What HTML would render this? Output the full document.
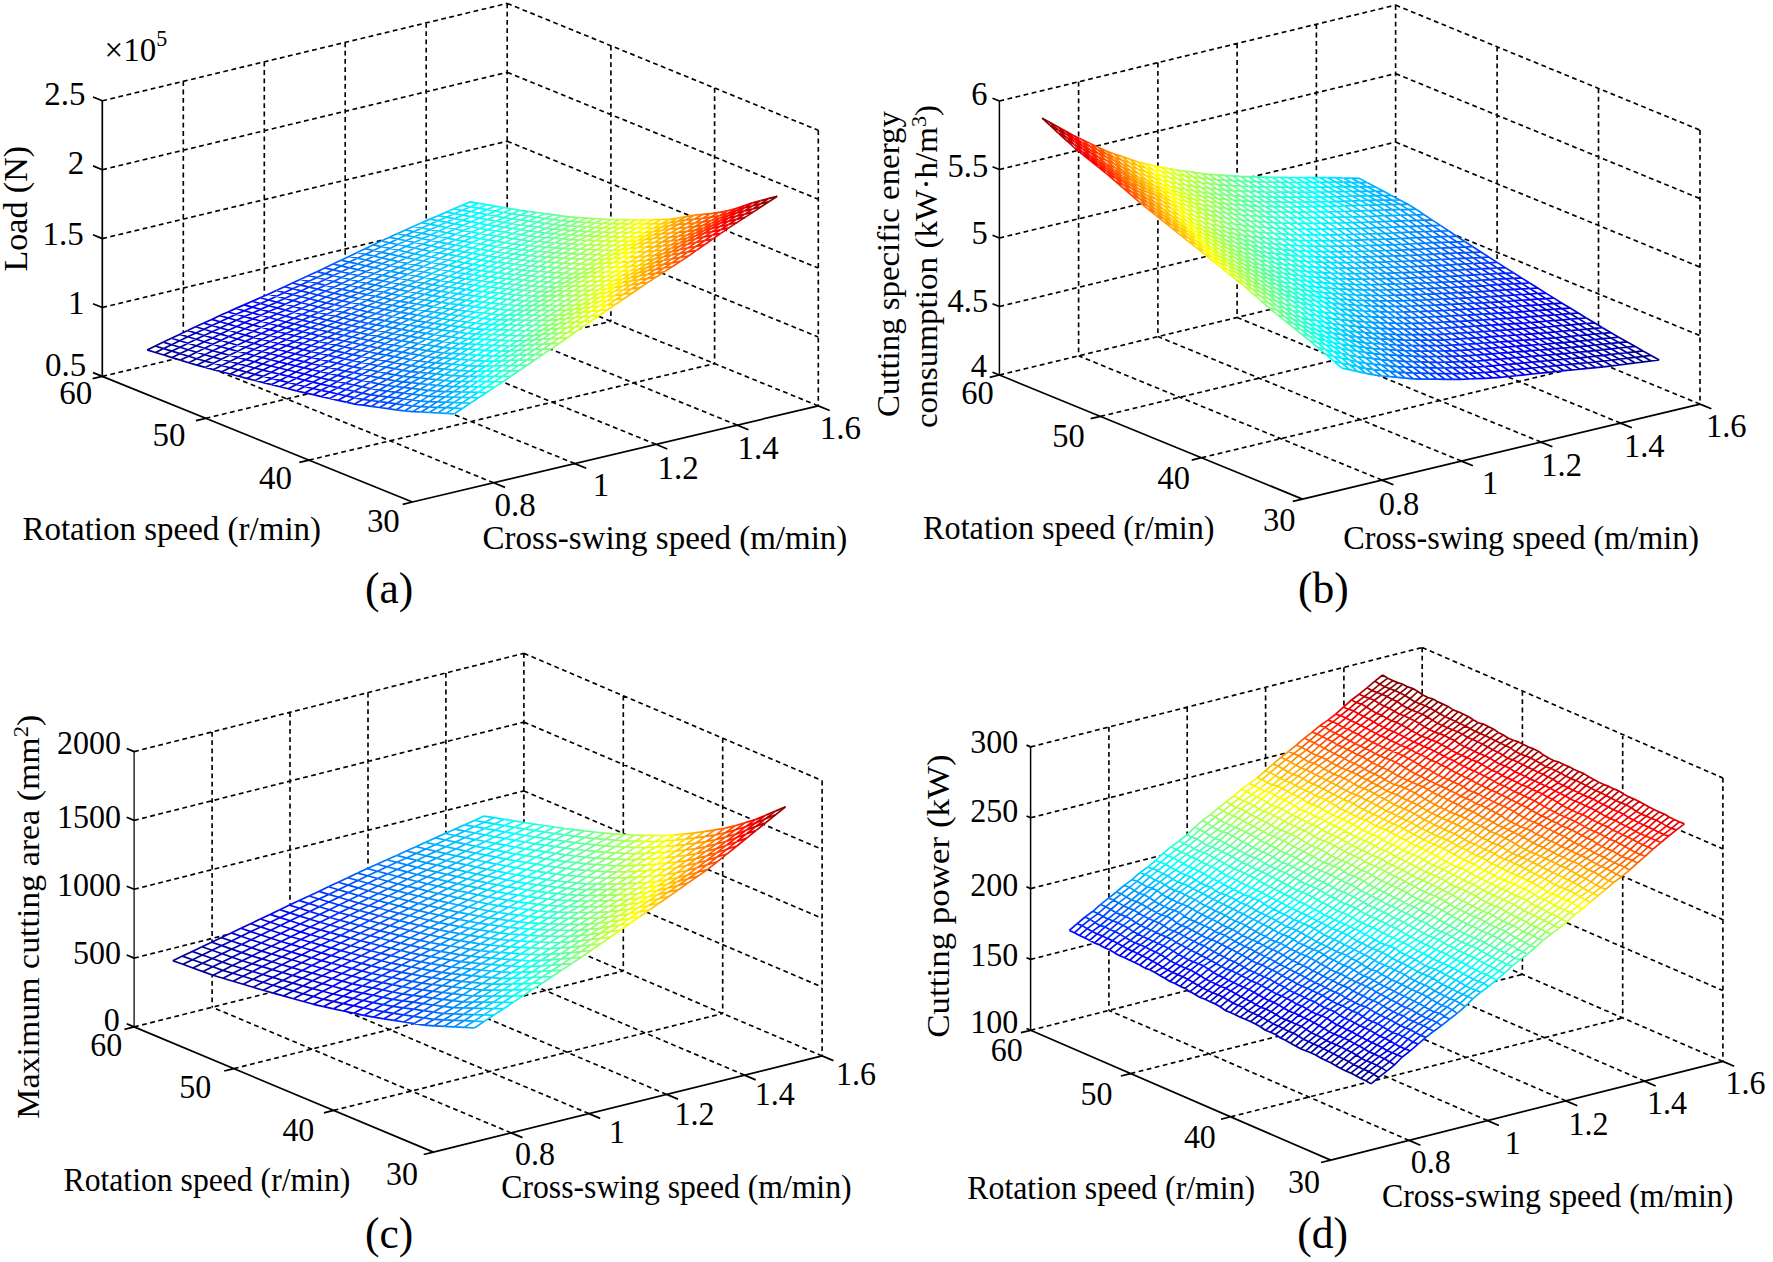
<!DOCTYPE html>
<html><head><meta charset="utf-8"><title>Figure</title>
<style>
html,body{margin:0;padding:0;background:#fff;}
svg{display:block;}
text{font-family:"Liberation Serif","Times New Roman",serif;fill:#000;}
</style></head>
<body>
<svg width="1773" height="1262" viewBox="0 0 1773 1262">
<rect width="1773" height="1262" fill="#fff"/>
<path d="M493.6 482.8L183.3 356.9M574.8 463.6L264.3 337.4M655.9 444.3L345.2 318M737.1 425.1L426.2 298.5M818.3 405.9L507.2 279M102.3 376.4L507.2 279M205.7 418.3L610.9 321.3M309 460.1L714.6 363.6M183.3 81.3L183.3 356.9M264.3 61.8L264.3 337.4M345.2 42.4L345.2 318M426.2 22.9L426.2 298.5M507.2 3.4L507.2 279M102.3 307.5L507.2 210.1M102.3 238.6L507.2 141.2M102.3 169.7L507.2 72.3M102.3 100.8L507.2 3.4M610.9 45.7L610.9 321.3M714.6 88L714.6 363.6M818.3 130.3L818.3 405.9M507.2 210.1L818.3 337M507.2 141.2L818.3 268.1M507.2 72.3L818.3 199.2M507.2 3.4L818.3 130.3" stroke="#000" stroke-width="1.65" stroke-dasharray="4.8 3.5" fill="none"/>
<polygon points="147.2,349.9 155.5,352.5 163.8,355 172.1,357.6 180.4,360.1 188.7,362.7 197,365.1 205.3,367.4 213.6,369.6 221.9,371.8 230.2,374 238.5,376.2 246.8,378.4 255.1,380.5 263.4,382.6 271.7,384.6 280,386.7 288.3,388.8 296.6,390.8 304.9,392.8 313.2,394.7 321.5,396.6 329.8,398.5 338.1,400.3 346.4,402.2 354.7,404.1 363,405.2 371.3,406.4 379.6,407.5 387.9,408.7 396.2,409.8 404.5,410.9 412.8,411.6 421.1,412 429.4,412.5 437.7,412.9 446,413.4 454.3,413.8 462.4,408.5 470.4,403.1 478.5,397.8 486.6,392.5 494.7,387.1 502.8,381.8 510.8,376.3 518.9,370.8 527,365.3 535,359.8 543.1,354.4 551.2,348.9 559.3,343.3 567.4,337.7 575.4,332 583.5,326.4 591.6,320.8 599.6,315.2 607.7,309.7 615.8,304.2 623.9,298.7 632,293.2 640,287.7 648.1,282.4 656.2,277.1 664.2,271.9 672.3,266.7 680.4,261.4 688.5,256 696.5,250.3 704.6,244.7 712.7,239 720.8,233.4 728.9,227.9 736.9,222.6 745,217.4 753.1,212.1 761.1,206.8 769.2,201.5 777.3,196.2 769,198.4 760.7,200.6 752.4,202.9 744.1,205.8 735.8,208.5 727.5,210.8 719.2,212.3 710.9,213.6 702.6,214.4 694.3,215.2 686,216.6 677.7,218.1 669.4,219.4 661.1,219.5 652.8,219.7 644.5,219.8 636.2,219.8 627.9,219.7 619.6,219.6 611.3,219.5 603,219 594.7,218.5 586.4,218 578.1,217.6 569.8,216.9 561.5,215.8 553.2,214.7 544.9,213.6 536.6,212.5 528.3,211.4 520,210.3 511.7,208.9 503.4,207.5 495.1,206.1 486.8,204.7 478.5,203.3 470.2,201.9 462.1,205.3 454,208.8 446,212.2 437.9,215.7 429.8,219.1 421.8,222.7 413.7,226.3 405.6,230 397.5,233.6 389.4,237.3 381.4,241 373.3,244.8 365.2,248.7 357.1,252.5 349.1,256.4 341,260.2 332.9,264 324.9,267.9 316.8,271.7 308.7,275.6 300.6,279.3 292.5,283 284.5,286.7 276.4,290.5 268.3,294.2 260.2,297.8 252.2,301.3 244.1,304.9 236,308.4 227.9,312 219.9,315.6 211.8,319.4 203.7,323.1 195.6,326.8 187.6,330.6 179.5,334.4 171.4,338.3 163.3,342.1 155.3,346" fill="#fff" stroke="none"/>
<g fill="none" stroke-width="1.7" stroke-linejoin="round"><path stroke="#00008f" d="M147.2 349.9l8.1 -3.9l8.1 -3.9M155.5 352.5l8.1 -3.9M163.8 355l8.1 -3.9M147.2 349.9l8.3 2.6l8.3 2.5l8.3 2.6l8.3 2.5M155.3 346l8.3 2.6"/><path stroke="#00009f" d="M163.4 342.1l8 -3.8M163.6 348.6l8 -3.9l8.1 -4M171.9 351.1l8.1 -3.9M172.1 357.6l8.1 -4l8 -3.9M180.4 360.1l8.1 -3.9l8 -4M188.7 362.7l8.1 -4M197 365.1l8.1 -4M180.4 360.1l8.3 2.6l8.3 2.4l8.3 2.3M163.6 348.6l8.3 2.5l8.3 2.5l8.3 2.6l8.3 2.5M163.4 342.1l8.2 2.6l8.4 2.5l8.2 2.5"/><path stroke="#0000af" d="M171.4 338.3l8.1 -3.9l8.1 -3.8M179.7 340.7l8.1 -3.9M180 347.2l8 -4l8.1 -3.9M188.2 349.7l8.1 -4M196.5 352.2l8.1 -4M196.8 358.7l8 -4l8.1 -4M205.1 361.1l8.1 -4M205.3 367.4l8.1 -4.1l8 -4M213.6 369.6l8.1 -4.1M221.9 371.8l8.1 -4.1M205.3 367.4l8.3 2.2l8.3 2.2l8.3 2.2M196.8 358.7l8.3 2.4l8.3 2.2l8.3 2.2M188.2 349.7l8.3 2.5l8.3 2.5l8.4 2.4M171.4 338.3l8.3 2.4l8.3 2.5l8.3 2.5l8.3 2.5M179.5 334.4l8.3 2.4l8.3 2.5"/><path stroke="#0000bf" d="M187.6 330.6l8 -3.8l8.1 -3.7M187.8 336.8l8.1 -3.8l8.1 -3.7M196.1 339.3l8.1 -3.8l8 -3.8M196.3 345.7l8.1 -3.9l8.1 -3.9M204.6 348.2l8.1 -3.9l8.1 -3.9M212.9 350.7l8.1 -4M213.2 357.1l8 -4l8.1 -4M221.4 359.3l8.1 -4M221.7 365.5l8.1 -4l8 -4.1M230 367.7l8 -4.1M230.2 374l8.1 -4.1M238.5 376.2l8.1 -4.1M230.2 374l8.3 2.2l8.3 2.2l8.3 2.1M221.7 365.5l8.3 2.2l8.3 2.2l8.3 2.2M213.2 357.1l8.2 2.2l8.4 2.2l8.2 2.1M204.6 348.2l8.3 2.5l8.3 2.4l8.3 2.2M196.1 339.3l8.3 2.5l8.3 2.5l8.3 2.4M187.6 330.6l8.3 2.4l8.3 2.5l8.3 2.4M195.6 326.8l8.4 2.5"/><path stroke="#0000cf" d="M203.7 323.1l8.1 -3.7M204 329.3l8 -3.8l8.1 -3.8M212.2 331.7l8.1 -3.8M212.5 337.9l8.1 -3.8l8 -3.8M220.8 340.4l8 -3.9M221 346.7l8.1 -3.9l8.1 -3.8M229.3 349.1l8.1 -3.9M229.5 355.3l8.1 -4.1l8.1 -3.9M237.8 357.4l8.1 -4M238 363.6l8.1 -4M238.3 369.9l8.1 -4.1l8 -4.1M246.6 372.1l8 -4.1M246.8 378.4l8.1 -4.1l8.1 -4.2M255.1 380.5l8.1 -4.2M263.4 382.6l8.1 -4.2M255.1 380.5l8.3 2.1l8.3 2M246.6 372.1l8.3 2.2l8.3 2M238 363.6l8.4 2.2l8.2 2.2l8.4 2.1M229.5 355.3l8.3 2.1l8.3 2.2l8.3 2.1M221 346.7l8.3 2.4l8.3 2.1l8.3 2.2M212.5 337.9l8.3 2.5l8.3 2.4l8.3 2.4M204 329.3l8.2 2.4l8.4 2.4l8.2 2.4M203.7 323.1l8.3 2.4l8.3 2.4M211.8 319.4l8.3 2.3"/><path stroke="#0000df" d="M211.8 319.4l8.1 -3.8l8.1 -3.6M220.1 321.7l8.1 -3.7M220.3 327.9l8.1 -3.8l8.1 -3.8M228.6 330.3l8.1 -3.8M228.8 336.5l8.1 -3.8l8.1 -3.9M237.2 339l8 -3.9M237.4 345.2l8 -3.9l8.1 -3.9M245.7 347.3l8.1 -3.9M245.9 353.4l8.1 -4l8 -3.9M246.1 359.6l8.1 -4.1l8.1 -4M254.4 361.7l8.1 -4.1M254.6 368l8.1 -4.1l8.1 -4.1M263 370.1l8 -4.1M263.2 376.3l8 -4.1l8.1 -4.2M271.5 378.4l8 -4.2M271.7 384.6l8.1 -4.2M280 386.7l8.1 -4.3M271.7 384.6l8.3 2.1l8.3 2.1l8.3 2M263.2 376.3l8.3 2.1l8.3 2l8.3 2M263 370.1l8.2 2.1l8.3 2M254.4 361.7l8.3 2.2l8.3 2.1M245.9 353.4l8.3 2.1l8.3 2.1l8.3 2.2M237.4 345.2l8.3 2.1l8.3 2.1l8.3 2.1M228.8 336.5l8.4 2.5l8.2 2.3l8.4 2.1M220.3 327.9l8.3 2.4l8.3 2.4l8.3 2.4l8.3 2.3M220.1 321.7l8.3 2.4l8.3 2.4l8.3 2.3M219.9 315.6l8.3 2.4l8.3 2.3"/><path stroke="#0000ef" d="M228 312l8 -3.6l8.1 -3.5M228.2 318l8 -3.7l8.1 -3.6M236.5 320.3l8.1 -3.7l8 -3.6M236.7 326.5l8.1 -3.9l8 -3.7M245 328.8l8.1 -3.8l8.1 -3.8M245.2 335.1l8.1 -3.9l8.1 -3.9M253.5 337.4l8.1 -3.9M253.8 343.4l8 -4l8.1 -3.9M262 345.5l8.1 -4M262.3 351.5l8 -4M262.5 357.6l8.1 -4l8 -4M270.8 359.8l8.1 -4.1M271 366l8.1 -4.1l8.1 -4.1M279.3 368l8.1 -4.1M279.5 374.2l8.1 -4.2M279.8 380.4l8 -4.2l8.1 -4.2M288.1 382.4l8.1 -4.2M288.3 388.8l8.1 -4.3l8 -4.3M296.6 390.8l8.1 -4.3M304.9 392.8l8.1 -4.3M296.6 390.8l8.3 2l8.3 1.9M288.1 382.4l8.3 2.1l8.3 2M279.5 374.2l8.3 2l8.4 2M271 366l8.3 2l8.3 2l8.3 2M270.8 359.8l8.3 2.1l8.3 2M262.3 351.5l8.3 2.1l8.3 2.1M253.8 343.4l8.2 2.1l8.3 2l8.3 2.1M253.5 337.4l8.3 2l8.3 2.1M245 328.8l8.3 2.4l8.3 2.3l8.3 2M236.5 320.3l8.3 2.3l8.3 2.4l8.3 2.3M228 312l8.2 2.3l8.4 2.3l8.2 2.3M236 308.4l8.3 2.3l8.3 2.3"/><path stroke="#0000ff" d="M244.1 304.9l8.1 -3.6l8 -3.5M244.3 310.7l8.1 -3.6l8.1 -3.6M252.6 313l8.1 -3.6l8.1 -3.7M252.8 318.9l8.1 -3.6l8.1 -3.7M261.2 321.2l8 -3.7M261.4 327.3l8 -3.8l8.1 -3.7M261.6 333.5l8.1 -3.9l8.1 -3.9M269.9 335.5l8.1 -3.9M270.1 341.5l8.1 -4l8.1 -3.9M270.3 347.5l8.1 -4l8.1 -3.9M278.6 349.6l8.1 -4M278.9 355.7l8.1 -4l8 -4M287.2 357.8l8 -4M287.4 363.9l8.1 -4.1M287.6 370l8.1 -4.2l8.1 -4.1M295.9 372l8.1 -4.2M296.2 378.2l8 -4.3l8.1 -4.2M304.4 380.2l8.1 -4.3M304.7 386.5l8.1 -4.3M313 388.5l8 -4.4M313.2 394.7l8.1 -4.4M321.5 396.6l8.1 -4.5M313.2 394.7l8.3 1.9l8.3 1.9M304.7 386.5l8.3 2l8.3 1.8M296.2 378.2l8.2 2l8.4 2l8.2 1.9M295.9 372l8.3 1.9l8.3 2M287.4 363.9l8.3 1.9l8.3 2M278.9 355.7l8.3 2.1l8.3 2l8.3 1.9M278.6 349.6l8.4 2.1l8.2 2.1M270.1 341.5l8.3 2l8.3 2.1l8.3 2.1M269.9 335.5l8.3 2l8.3 2.1M261.4 327.3l8.3 2.3l8.3 2M252.8 318.9l8.4 2.3l8.2 2.3l8.4 2.2M252.6 313l8.3 2.3l8.3 2.2M244.1 304.9l8.3 2.2l8.3 2.3l8.3 2.2M252.2 301.3l8.3 2.2"/><path stroke="#0010ff" d="M260.2 297.8l8.1 -3.6l8.1 -3.7M260.5 303.5l8.1 -3.5l8 -3.7M268.8 305.7l8 -3.6M269 311.6l8.1 -3.7l8.1 -3.6M269.2 317.5l8.1 -3.7l8.1 -3.7M277.5 319.8l8.1 -3.7M277.8 325.7l8 -3.7l8.1 -3.8M278 331.6l8 -3.9l8.1 -3.8M286.3 333.6l8.1 -3.9M286.5 339.6l8.1 -4l8 -3.9M286.7 345.6l8.1 -4l8.1 -4M295 347.7l8.1 -4.1M295.2 353.8l8.1 -4.1l8.1 -4.1M295.5 359.8l8.1 -4.1l8 -4.1M303.8 361.7l8 -4.1M304 367.8l8.1 -4.2l8.1 -4.2M312.3 369.7l8.1 -4.2M312.5 375.9l8.1 -4.3M312.8 382.2l8 -4.3l8.1 -4.4M321 384.1l8.1 -4.3M321.3 390.3l8.1 -4.4M329.6 392.1l8 -4.4M329.8 398.5l8.1 -4.5M338.1 400.3l8.1 -4.5M329.8 398.5l8.3 1.8l8.3 1.9M321.3 390.3l8.3 1.8l8.3 1.9M321 384.1l8.4 1.8l8.2 1.8M312.5 375.9l8.3 2l8.3 1.9M304 367.8l8.3 1.9l8.3 1.9M303.8 361.7l8.3 1.9l8.3 1.9M295.2 353.8l8.4 1.9l8.2 1.9M295 347.7l8.3 2l8.3 1.9M286.5 339.6l8.3 2l8.3 2M278 331.6l8.3 2l8.3 2l8.3 2M277.8 325.7l8.2 2l8.4 2M269.2 317.5l8.3 2.3l8.3 2.2l8.3 1.9M269 311.6l8.3 2.2l8.3 2.3l8.3 2.1M260.5 303.5l8.3 2.2l8.3 2.2l8.3 2.2M260.2 297.8l8.4 2.2l8.2 2.1l8.4 2.2M268.3 294.2l8.3 2.1"/><path stroke="#0020ff" d="M276.4 290.5l8.1 -3.8M276.6 296.3l8.1 -3.7l8.1 -3.8M276.8 302.1l8.1 -3.7l8.1 -3.8M285.2 304.3l8 -3.7M285.4 310.1l8 -3.7l8.1 -3.7M285.6 316.1l8.1 -3.8l8.1 -3.7M293.9 318.2l8.1 -3.7M294.1 323.9l8.1 -3.7l8.1 -3.9M294.4 329.7l8 -3.8l8.1 -3.8M302.6 331.7l8.1 -3.9M302.9 337.6l8.1 -4M303.1 343.6l8.1 -4l8 -4M311.4 345.6l8.1 -4M311.6 351.6l8.1 -4.1M311.8 357.6l8.1 -4.2l8.1 -4.1M320.2 359.4l8 -4.1M320.4 365.5l8 -4.2M320.6 371.6l8.1 -4.2l8.1 -4.2M328.9 373.5l8.1 -4.2M329.1 379.8l8.1 -4.4M329.4 385.9l8 -4.4l8.1 -4.4M337.6 387.7l8.1 -4.4M337.9 394l8.1 -4.5M346.2 395.8l8 -4.5M346.4 402.2l8.1 -4.6M354.7 404.1l8.1 -4.7M346.4 402.2l8.3 1.9l8.3 1.1M337.9 394l8.3 1.8l8.3 1.8M337.6 387.7l8.4 1.8l8.2 1.8M329.1 379.8l8.3 1.7l8.3 1.8M320.6 371.6l8.3 1.9l8.3 1.9l8.3 1.7M320.4 365.5l8.3 1.9l8.3 1.9M311.8 357.6l8.4 1.8l8.2 1.9M311.6 351.6l8.3 1.8l8.3 1.9M303.1 343.6l8.3 2l8.3 1.9l8.3 1.8M302.9 337.6l8.3 2l8.3 2M294.4 329.7l8.2 2l8.4 1.9l8.2 2M294.1 323.9l8.3 2l8.3 1.9M293.9 318.2l8.3 2l8.3 1.9M285.4 310.1l8.3 2.2l8.3 2.2l8.3 1.8M285.2 304.3l8.2 2.1l8.4 2.2M276.6 296.3l8.3 2.1l8.3 2.2l8.3 2.1M276.4 290.5l8.3 2.1l8.3 2M284.5 286.7l8.3 2.1"/><path stroke="#0030ff" d="M284.5 286.7l8 -3.7l8.1 -3.7M292.8 288.8l8 -3.7l8.1 -3.8M293 294.6l8.1 -3.7l8.1 -3.8M293.2 300.6l8.1 -3.9l8.1 -3.8M301.5 302.7l8.1 -3.9M301.8 308.6l8 -3.8l8.1 -3.9M302 314.5l8 -3.8l8.1 -3.8M310.3 316.3l8.1 -3.8M310.5 322.1l8.1 -3.9l8 -3.8M310.7 327.8l8.1 -3.8l8.1 -3.9M311 333.6l8 -3.9l8.1 -3.8M319.2 335.6l8.1 -3.9M319.5 341.6l8.1 -4l8 -4M319.7 347.5l8.1 -4.1l8 -4.1M328 349.3l8.1 -4.2M328.2 355.3l8.1 -4.2M328.4 361.3l8.1 -4.2l8.1 -4.2M336.8 363.2l8 -4.3M337 369.3l8 -4.3M337.2 375.4l8.1 -4.3l8 -4.3M345.5 377.1l8.1 -4.4M345.7 383.3l8.1 -4.5M346 389.5l8 -4.5l8.1 -4.5M354.2 391.3l8.1 -4.5M354.5 397.6l8 -4.5M362.8 399.4l8 -4.6M363 405.2l8.1 -4.7M363 405.2l8.3 1.2M354.5 397.6l8.3 1.8l8.3 1.1M354.2 391.3l8.3 1.8l8.3 1.7M345.7 383.3l8.3 1.7l8.3 1.8M345.5 377.1l8.3 1.7M337 369.3l8.3 1.8l8.3 1.6M328.4 361.3l8.4 1.9l8.2 1.8l8.3 1.8M328.2 355.3l8.3 1.8l8.3 1.8M328 349.3l8.3 1.8l8.3 1.8M319.5 341.6l8.3 1.8l8.3 1.7M319.2 335.6l8.4 2l8.2 1.7M310.7 327.8l8.3 1.9l8.3 2M310.5 322.1l8.3 1.9l8.3 1.9M310.3 316.3l8.3 1.9l8.3 1.9M301.8 308.6l8.2 2.1l8.4 1.8M301.5 302.7l8.3 2.1l8.3 2.1M293 294.6l8.3 2.1l8.3 2.1l8.3 2.1M292.8 288.8l8.3 2.1l8.3 2M292.5 283l8.3 2.1l8.4 2"/><path stroke="#0040ff" d="M300.6 279.3l8.1 -3.7l8.1 -3.9M308.9 281.3l8.1 -3.8M309.2 287.1l8 -3.8M309.4 292.9l8 -3.8l8.1 -3.8M309.6 298.8l8.1 -3.8l8.1 -3.9M317.9 300.9l8.1 -3.9M318.1 306.9l8.1 -4l8.1 -3.9M318.4 312.5l8 -3.8l8.1 -4M326.6 314.4l8.1 -3.9M326.9 320.1l8.1 -3.9M327.1 325.9l8.1 -4l8 -3.9M327.3 331.7l8.1 -3.9l8.1 -4M335.6 333.6l8.1 -3.9M335.8 339.3l8.1 -4M336.1 345.1l8.1 -4.1l8 -4M336.3 351.1l8.1 -4.2l8 -4.2M344.6 352.9l8.1 -4.3M344.8 358.9l8.1 -4.3M345 365l8.1 -4.3l8.1 -4.3M353.3 366.8l8.1 -4.4M353.6 372.7l8.1 -4.3M353.8 378.8l8.1 -4.4l8.1 -4.4M362.1 380.5l8.1 -4.4M362.3 386.8l8.1 -4.6M362.5 393.1l8.1 -4.6l8.1 -4.6M370.8 394.8l8.1 -4.6M371.1 400.5l8.1 -4.7M371.3 406.4l8.1 -4.8M379.6 407.5l8.1 -4.8M371.3 406.4l8.3 1.1l8.3 1.2M371.1 400.5l8.3 1.1M370.8 394.8l8.4 1M362.3 386.8l8.3 1.7l8.3 1.7M353.8 378.8l8.3 1.7l8.3 1.7M353.6 372.7l8.3 1.7l8.3 1.7M353.3 366.8l8.4 1.6M344.8 358.9l8.3 1.8l8.3 1.7M344.6 352.9l8.3 1.7l8.3 1.8M336.1 345.1l8.3 1.8l8.3 1.7M335.8 339.3l8.4 1.7l8.2 1.7M327.3 331.7l8.3 1.9l8.3 1.7M327.1 325.9l8.3 1.9l8.3 1.9M326.9 320.1l8.3 1.8l8.3 1.9M318.4 312.5l8.2 1.9l8.4 1.8M318.1 306.9l8.3 1.8l8.3 1.8M317.9 300.9l8.3 2l8.3 1.8M309.4 292.9l8.3 2.1l8.3 2l8.3 2M309.2 287.1l8.2 2l8.4 2M300.6 279.3l8.3 2l8.3 2l8.3 2M308.7 275.6l8.3 1.9"/><path stroke="#0050ff" d="M316.8 271.7l8 -3.8l8.1 -3.9M317 277.5l8.1 -3.8l8.1 -3.9M317.2 283.3l8.1 -3.8l8.1 -3.9M325.5 285.3l8.1 -3.8M325.8 291.1l8 -3.8l8.1 -3.9M326 297l8 -3.8l8.1 -3.9M334.3 299l8.1 -3.9M334.5 304.7l8.1 -3.9M334.7 310.5l8.1 -4l8.1 -4M335 316.2l8 -3.9l8.1 -4.1M343.2 318l8.1 -4M343.5 323.8l8.1 -4M343.7 329.7l8.1 -4l8 -4M343.9 335.3l8.1 -4l8.1 -4M352.2 337l8.1 -4M352.4 342.7l8.1 -4M352.7 348.6l8.1 -4.1M352.9 354.6l8.1 -4.2l8 -4.2M361.2 356.4l8.1 -4.4M361.4 362.4l8.1 -4.4M361.7 368.4l8 -4.4l8.1 -4.4M370 370l8 -4.4M370.2 376.1l8 -4.5M370.4 382.2l8.1 -4.5M378.7 383.9l8.1 -4.5M378.9 390.2l8.1 -4.7M379.2 395.8l8 -4.7M379.4 401.6l8 -4.7M387.7 402.7l8.1 -4.8M387.9 408.7l8.1 -4.9M387.9 408.7l8.3 1.1M379.4 401.6l8.3 1.1l8.3 1.1M379.2 395.8l8.2 1.1l8.4 1M378.9 390.2l8.3 0.9M370.4 382.2l8.3 1.7l8.3 1.6M370.2 376.1l8.3 1.6l8.3 1.7M361.7 368.4l8.3 1.6l8.2 1.6M361.4 362.4l8.3 1.6l8.3 1.6M361.2 356.4l8.3 1.6M352.7 348.6l8.3 1.8l8.3 1.6M352.4 342.7l8.4 1.8l8.2 1.7M343.9 335.3l8.3 1.7l8.3 1.7M343.7 329.7l8.3 1.6l8.3 1.7M343.5 323.8l8.3 1.9l8.3 1.6M335 316.2l8.2 1.8l8.4 1.8l8.2 1.9M334.7 310.5l8.3 1.8l8.3 1.7M334.5 304.7l8.3 1.8l8.3 1.7M334.3 299l8.3 1.8l8.3 1.7M325.8 291.1l8.2 2.1l8.4 1.9M325.5 285.3l8.3 2l8.3 2M317 277.5l8.3 2l8.3 2l8.3 1.9M316.8 271.7l8.3 2l8.3 1.9M324.8 267.9l8.4 1.9"/><path stroke="#0060ff" d="M332.9 264l8.1 -3.8M333.2 269.8l8 -3.9M333.4 275.6l8 -3.9l8.1 -3.9M333.6 281.5l8.1 -4l8.1 -3.9M341.9 283.4l8.1 -3.9M342.1 289.3l8.1 -3.9l8.1 -4M342.4 295.1l8 -3.9l8.1 -3.9M342.6 300.8l8 -4l8.1 -3.9M350.9 302.5l8.1 -4M351.1 308.2l8.1 -4M351.3 314l8.1 -4l8.1 -4M351.6 319.8l8 -4l8.1 -4M359.8 321.7l8.1 -4.1M360.1 327.3l8.1 -4M360.3 333l8.1 -4.1M360.5 338.7l8.1 -4.1l8.1 -4.1M360.8 344.5l8 -4.2l8.1 -4.1M369 346.2l8.1 -4.2M369.3 352l8.1 -4.2M369.5 358l8.1 -4.3l8 -4.4M377.8 359.6l8.1 -4.4M378 365.6l8.1 -4.5M378.2 371.6l8.1 -4.5M378.5 377.7l8.1 -4.4l8 -4.6M386.8 379.4l8 -4.5M387 385.5l8.1 -4.6M387.2 391.1l8.1 -4.6M387.4 396.9l8.1 -4.8l8.1 -4.7M395.8 397.9l8 -4.8M396 403.8l8 -4.8M396.2 409.8l8.1 -4.9M396.2 409.8l8.3 1.1M396 403.8l8.3 1.1M395.8 397.9l8.2 1.1M387.2 391.1l8.3 1l8.3 1M387 385.5l8.3 1M386.8 379.4l8.3 1.5M378.2 371.6l8.4 1.7l8.2 1.6M378 365.6l8.3 1.5l8.3 1.6M369.5 358l8.3 1.6l8.3 1.5M369.3 352l8.3 1.7l8.3 1.5M369 346.2l8.4 1.6M360.5 338.7l8.3 1.6l8.3 1.7M360.3 333l8.3 1.6l8.3 1.6M360.1 327.3l8.3 1.6l8.3 1.6M359.8 321.7l8.4 1.6M351.3 314l8.3 1.8l8.3 1.8M351.1 308.2l8.3 1.8l8.3 1.8M350.9 302.5l8.3 1.7M342.4 295.1l8.2 1.7l8.4 1.7M342.1 289.3l8.3 1.9l8.3 1.7M341.9 283.4l8.3 2l8.3 1.9M333.4 275.6l8.3 1.9l8.3 2M333.2 269.8l8.2 1.9l8.4 1.9M332.9 264l8.3 1.9l8.3 1.9"/><path stroke="#0070ff" d="M341 260.2l8.1 -3.8l8.1 -3.9M341.2 265.9l8.1 -3.8l8.1 -3.9M349.5 267.8l8.1 -3.9M349.8 273.6l8 -3.9l8.1 -3.9M350 279.5l8 -4l8.1 -3.9M358.3 281.4l8.1 -4M358.5 287.3l8.1 -4M358.7 292.9l8.1 -3.9l8.1 -4.1M359 298.5l8 -3.9l8.1 -4M359.2 304.2l8 -4l8.1 -3.9M367.5 306l8 -4.1M367.7 311.8l8.1 -4.1M367.9 317.6l8.1 -4.1l8.1 -4.1M368.2 323.3l8 -4.1l8.1 -4.2M368.4 328.9l8 -4.1l8.1 -4.1M376.7 330.5l8.1 -4.2M376.9 336.2l8.1 -4.2M377.1 342l8.1 -4.2M377.4 347.8l8 -4.2l8.1 -4.3M385.6 349.3l8.1 -4.2M385.9 355.2l8.1 -4.4M386.1 361.1l8.1 -4.4M386.3 367.1l8.1 -4.5l8.1 -4.5M394.6 368.7l8.1 -4.6M394.8 374.9l8.1 -4.6M395.1 380.9l8.1 -4.6M395.3 386.5l8.1 -4.7l8 -4.7M403.6 387.4l8.1 -4.8M403.8 393.1l8.1 -4.8M404 399l8.1 -4.8M404.3 404.9l8.1 -4.9M404.5 410.9l8.1 -4.9M412.8 411.6l8.1 -5M404.5 410.9l8.3 0.7l8.3 0.4M404.3 404.9l8.3 1.1M404 399l8.4 1M403.8 393.1l8.3 1.1M395.3 386.5l8.3 0.9l8.3 0.9M395.1 380.9l8.3 0.9l8.3 0.8M394.8 374.9l8.4 1.4M394.6 368.7l8.3 1.6M386.1 361.1l8.3 1.5l8.3 1.5M385.9 355.2l8.3 1.5M377.4 347.8l8.2 1.5l8.4 1.5M377.1 342l8.3 1.6l8.3 1.5M376.9 336.2l8.3 1.6l8.3 1.5M376.7 330.5l8.3 1.5M368.2 323.3l8.2 1.5l8.4 1.5M367.9 317.6l8.3 1.6l8.3 1.5M367.7 311.8l8.3 1.7l8.3 1.5M359.2 304.2l8.3 1.8l8.3 1.7M359 298.5l8.2 1.7l8.3 1.7M358.7 292.9l8.3 1.7l8.3 1.7M358.5 287.3l8.3 1.7l8.3 1.6M350 279.5l8.3 1.9l8.3 1.9M349.8 273.6l8.2 1.9l8.4 1.9M349.5 267.8l8.3 1.9l8.3 1.9M341 260.2l8.3 1.9l8.3 1.8M349.1 256.4l8.3 1.8"/><path stroke="#0080ff" d="M357.2 252.5l8 -3.8M357.4 258.2l8.1 -3.9l8 -3.8M357.6 263.9l8.1 -3.9l8.1 -3.8M365.9 265.8l8.1 -3.9M366.1 271.6l8.1 -3.9M366.4 277.4l8 -3.9l8.1 -4M366.6 283.3l8 -4l8.1 -4M374.9 284.9l8.1 -4M375.1 290.6l8.1 -4M375.3 296.3l8.1 -4.1M375.5 301.9l8.1 -4l8.1 -4M375.8 307.7l8 -4.1l8.1 -4M384.1 309.4l8.1 -4.1M384.3 315l8.1 -4.1M384.5 320.7l8.1 -4.2M384.8 326.3l8 -4.2M385 332l8 -4.2l8.1 -4.2M385.2 337.8l8.1 -4.2l8.1 -4.2M393.5 339.3l8.1 -4.2M393.7 345.1l8.1 -4.3M394 350.8l8 -4.3M394.2 356.7l8 -4.5l8.1 -4.3M402.5 358.1l8.1 -4.4M402.7 364.1l8.1 -4.5M402.9 370.3l8.1 -4.6M403.2 376.3l8 -4.7l8.1 -4.7M411.4 377.1l8.1 -4.7M411.7 382.6l8.1 -4.7M411.9 388.3l8.1 -4.7M412.1 394.2l8.1 -4.9M412.4 400l8 -4.9M412.6 406l8 -4.9M420.9 406.6l8.1 -5M421.1 412l8.1 -5M421.1 412l8.3 0.5M412.6 406l8.3 0.6l8.3 0.4M412.4 400l8.2 1.1M412.1 394.2l8.3 0.9M411.9 388.3l8.3 1M411.7 382.6l8.3 1M403.2 376.3l8.2 0.8l8.4 0.8M402.9 370.3l8.3 1.3l8.3 0.8M402.7 364.1l8.3 1.6M394.2 356.7l8.3 1.4l8.3 1.5M394 350.8l8.2 1.4l8.4 1.5M393.7 345.1l8.3 1.4M393.5 339.3l8.3 1.5M385 332l8.3 1.6l8.3 1.5M384.8 326.3l8.2 1.5l8.4 1.6M384.5 320.7l8.3 1.4l8.3 1.5M384.3 315l8.3 1.5M375.8 307.7l8.3 1.7l8.3 1.5M375.5 301.9l8.3 1.7l8.4 1.7M375.3 296.3l8.3 1.6l8.3 1.7M375.1 290.6l8.3 1.6M366.6 283.3l8.3 1.6l8.3 1.7M366.4 277.4l8.2 1.9l8.4 1.6M366.1 271.6l8.3 1.9l8.3 1.8M357.6 263.9l8.3 1.9l8.3 1.9M357.4 258.2l8.3 1.8l8.3 1.9M357.2 252.5l8.3 1.8l8.3 1.9M365.2 248.7l8.3 1.8"/><path stroke="#008fff" d="M365.2 248.7l8.1 -3.9l8.1 -3.8M373.5 250.5l8.1 -3.9M373.8 256.2l8 -3.9M374 261.9l8 -3.9l8.1 -3.9M374.2 267.7l8.1 -4l8.1 -3.9M382.5 269.5l8.1 -3.9M382.7 275.3l8.1 -4M383 280.9l8 -4l8.1 -4M383.2 286.6l8 -4.1l8.1 -4M383.4 292.2l8.1 -4l8 -4.1M391.7 293.9l8.1 -4.1M391.9 299.6l8.1 -4.1M392.2 305.3l8 -4M392.4 310.9l8.1 -4.1l8 -4.1M392.6 316.5l8.1 -4.2l8.1 -4.2M392.8 322.1l8.1 -4.2l8.1 -4.2M401.1 323.6l8.1 -4.3M401.4 329.4l8 -4.3M401.6 335.1l8 -4.3M401.8 340.8l8.1 -4.4l8.1 -4.3M402 346.5l8.1 -4.4l8.1 -4.4M410.3 347.9l8.1 -4.4M410.6 353.7l8 -4.5M410.8 359.6l8 -4.5M411 365.7l8.1 -4.7l8.1 -4.5M419.3 366.9l8.1 -4.7M419.5 372.4l8.1 -4.8M419.8 377.9l8 -4.8M420 383.6l8 -4.8M420.2 389.3l8.1 -4.8M420.4 395.1l8.1 -4.8M420.6 401.1l8.1 -5M429 401.6l8 -5M429.2 407l8 -5.1M429.4 412.5l8.1 -5.2M429.4 412.5l8.3 0.4M429.2 407l8.3 0.3M420.6 401.1l8.4 0.5l8.2 0.3M420.4 395.1l8.3 1l8.3 0.5M420.2 389.3l8.3 1M420 383.6l8.3 0.9M419.8 377.9l8.2 0.9M419.5 372.4l8.3 0.7M411 365.7l8.3 1.2l8.3 0.7M410.8 359.6l8.3 1.4l8.3 1.2M410.6 353.7l8.2 1.4M402 346.5l8.3 1.4l8.3 1.3M401.8 340.8l8.3 1.3l8.3 1.4M401.6 335.1l8.3 1.3l8.3 1.3M401.4 329.4l8.2 1.4M401.1 323.6l8.3 1.5M392.6 316.5l8.3 1.4l8.3 1.4M392.4 310.9l8.3 1.4l8.3 1.4M392.2 305.3l8.3 1.5l8.3 1.3M391.9 299.6l8.3 1.7l8.3 1.4M383.4 292.2l8.3 1.7l8.3 1.6M383.2 286.6l8.3 1.6l8.3 1.6M383 280.9l8.2 1.6l8.3 1.6M382.7 275.3l8.3 1.6l8.3 1.6M374.2 267.7l8.3 1.8l8.3 1.8M374 261.9l8.3 1.8l8.3 1.9M373.8 256.2l8.2 1.8l8.4 1.8M373.5 250.5l8.3 1.8l8.3 1.8M373.3 244.8l8.3 1.8"/><path stroke="#009fff" d="M381.4 241l8 -3.7l8.1 -3.7M381.6 246.6l8.1 -3.8l8.1 -3.8M381.8 252.3l8.1 -3.9l8.1 -3.9M390.1 254.1l8.1 -3.9M390.4 259.8l8 -3.9M390.6 265.6l8 -4l8.1 -3.9M390.8 271.3l8.1 -3.9l8.1 -4M399.1 272.9l8.1 -4M399.3 278.5l8.1 -4.1M399.5 284.1l8.1 -4.1M399.8 289.8l8 -4.1M400 295.5l8.1 -4.1l8.1 -4.1M400.2 301.3l8.1 -4.1l8.1 -4.2M408.5 302.7l8.1 -4.2M408.8 308.1l8 -4.1M409 313.7l8 -4.2M409.2 319.3l8.1 -4.2M409.4 325.1l8.1 -4.3M409.6 330.8l8.1 -4.4l8.1 -4.3M418 332.1l8 -4.4M418.2 337.7l8.1 -4.4M418.4 343.5l8.1 -4.5M418.6 349.2l8.1 -4.4M418.8 355.1l8.1 -4.5M427.2 356.5l8 -4.6M427.4 362.2l8 -4.6M427.6 367.6l8.1 -4.8M427.8 373.1l8.1 -4.8M428 378.8l8.1 -4.9M428.3 384.5l8.1 -4.8M428.5 390.3l8.1 -4.9M428.7 396.1l8.1 -4.9l8.1 -5M437 396.6l8.1 -5M437.2 401.9l8.1 -5.1M437.5 407.3l8.1 -5.1M437.7 412.9l8.1 -5.2M437.7 412.9l8.3 0.5M437.5 407.3l8.3 0.4M437.2 401.9l8.4 0.3M437 396.6l8.3 0.2M428.5 390.3l8.3 0.9l8.3 0.4M428.3 384.5l8.3 0.9M428 378.8l8.4 0.9M427.8 373.1l8.3 0.8M427.6 367.6l8.3 0.7M427.4 362.2l8.3 0.6M418.8 355.1l8.4 1.4l8.2 1.1M418.6 349.2l8.3 1.4l8.3 1.3M418.4 343.5l8.3 1.3M418.2 337.7l8.3 1.3M409.6 330.8l8.4 1.3l8.3 1.2M409.4 325.1l8.3 1.3l8.3 1.3M409.2 319.3l8.3 1.5l8.3 1.3M409 313.7l8.3 1.4M408.8 308.1l8.2 1.4M408.5 302.7l8.3 1.3M400 295.5l8.3 1.7l8.3 1.3M399.8 289.8l8.3 1.6l8.3 1.6M399.5 284.1l8.3 1.6l8.4 1.6M399.3 278.5l8.3 1.5M390.8 271.3l8.3 1.6l8.3 1.5M390.6 265.6l8.3 1.8l8.3 1.5M390.4 259.8l8.2 1.8l8.4 1.8M390.1 254.1l8.3 1.8l8.3 1.8M381.6 246.6l8.3 1.8l8.3 1.8M381.4 241l8.3 1.8l8.3 1.7M389.4 237.3l8.4 1.7"/><path stroke="#00afff" d="M397.5 233.6l8.1 -3.6l8.1 -3.7M397.8 239l8 -3.7l8.1 -3.7M398 244.5l8 -3.8l8.1 -3.7M398.2 250.2l8.1 -3.9l8.1 -3.9M398.4 255.9l8.1 -3.9l8.1 -4M406.7 257.7l8.1 -3.9M407 263.4l8 -3.9M407.2 268.9l8 -3.9l8.1 -4M407.4 274.4l8.1 -3.9l8.1 -4M407.6 280l8.1 -4l8.1 -4M407.8 285.7l8.1 -4.1l8.1 -4.1M416.2 287.3l8 -4.2M416.4 293l8 -4.1M416.6 298.5l8.1 -4.2M416.8 304l8.1 -4.2M417 309.5l8.1 -4.2l8.1 -4.2M417.3 315.1l8.1 -4.3l8 -4.2M417.5 320.8l8.1 -4.3l8 -4.3M425.8 322.1l8.1 -4.4M426 327.7l8.1 -4.4M426.3 333.3l8 -4.4M426.5 339l8.1 -4.4M426.7 344.8l8.1 -4.5M426.9 350.6l8.1 -4.5l8.1 -4.6M435.2 351.9l8.1 -4.5M435.4 357.6l8.1 -4.6M435.7 362.8l8.1 -4.7M435.9 368.3l8.1 -4.8M436.1 373.9l8.1 -4.8M436.4 379.7l8 -4.9M436.6 385.4l8 -4.9M444.9 386.2l8.1 -4.9M445.1 391.6l8.1 -5M445.3 396.8l8.1 -5.1M445.6 402.2l8 -5.2M445.8 407.7l8 -5.2M446 413.4l8.1 -5.3M446 413.4l8.3 0.4M445.8 407.7l8.3 0.4M445.6 402.2l8.2 0.3M445.3 396.8l8.3 0.2M445.1 391.6l8.3 0.1M436.6 385.4l8.3 0.8l8.3 0.4M436.4 379.7l8.2 0.8M436.1 373.9l8.3 0.9M435.9 368.3l8.3 0.8M435.7 362.8l8.3 0.7M435.4 357.6l8.4 0.5M435.2 351.9l8.3 1.1M426.7 344.8l8.3 1.3l8.3 1.3M426.5 339l8.3 1.3l8.3 1.2M426.3 333.3l8.3 1.3M426 327.7l8.3 1.2M425.8 322.1l8.3 1.2M417.3 315.1l8.3 1.4l8.3 1.2M417 309.5l8.4 1.3l8.2 1.4M416.8 304l8.3 1.3l8.3 1.3M416.6 298.5l8.3 1.3M416.4 293l8.3 1.3M416.2 287.3l8.2 1.6M407.6 280l8.3 1.6l8.3 1.5M407.4 274.4l8.3 1.6l8.3 1.5M407.2 268.9l8.3 1.6l8.3 1.5M407 263.4l8.2 1.6l8.4 1.5M406.7 257.7l8.3 1.8l8.3 1.5M398.2 250.2l8.3 1.8l8.3 1.8M398 244.5l8.3 1.8l8.3 1.7M397.8 239l8.2 1.7l8.4 1.7M397.5 233.6l8.3 1.7l8.3 1.7M405.6 230l8.3 1.6"/><path stroke="#00bfff" d="M413.7 226.3l8.1 -3.6l8 -3.6M413.9 231.6l8.1 -3.6M414.1 237l8.1 -3.7l8.1 -3.7M414.4 242.4l8 -3.7l8.1 -3.8M414.6 248l8 -3.8l8.1 -3.8M414.8 253.8l8.1 -4l8.1 -3.9M415 259.5l8.1 -4l8.1 -4M423.3 261l8.1 -4M423.6 266.5l8 -4M423.8 272l8 -4M424 277.5l8.1 -4M424.2 283.1l8.1 -4l8.1 -4.1M424.4 288.9l8.1 -4.2l8.1 -4.1M424.7 294.3l8.1 -4.1l8 -4.2M424.9 299.8l8.1 -4.2l8 -4.3M433.2 301.1l8.1 -4.3M433.4 306.6l8.1 -4.3M433.6 312.2l8.1 -4.3M433.9 317.7l8.1 -4.4M434.1 323.3l8.1 -4.4M434.3 328.9l8.1 -4.5M434.6 334.6l8 -4.5l8.1 -4.5M434.8 340.3l8 -4.5l8.1 -4.6M443.1 341.5l8.1 -4.6M443.3 347.4l8.1 -4.6M443.5 353l8.1 -4.7M443.8 358.1l8 -4.7M444 363.5l8 -4.8M444.2 369.1l8.1 -4.9M444.4 374.8l8.1 -4.9M444.6 380.5l8.1 -5M453 381.3l8 -5.1M453.2 386.6l8 -5.1M453.4 391.7l8.1 -5.1M453.6 397l8.1 -5.1M453.8 402.5l8.1 -5.2M454.1 408.1l8.1 -5.3M454.3 413.8l8.1 -5.3M454.1 408.1l8.3 0.4M453.8 402.5l8.4 0.3M453.6 397l8.3 0.3M453.4 391.7l8.3 0.2M453.2 386.6l8.3 0M444.6 380.5l8.4 0.8l8.2 0.2M444.4 374.8l8.3 0.7l8.3 0.7M444.2 369.1l8.3 0.8M444 363.5l8.3 0.7M443.8 358.1l8.2 0.6M443.5 353l8.3 0.4M443.3 347.4l8.3 0.9M443.1 341.5l8.3 1.3M434.6 334.6l8.2 1.2l8.4 1.1M434.3 328.9l8.3 1.2l8.3 1.1M434.1 323.3l8.3 1.1M433.9 317.7l8.3 1.2M433.6 312.2l8.4 1.1M433.4 306.6l8.3 1.3M424.9 299.8l8.3 1.3l8.3 1.2M424.7 294.3l8.3 1.3l8.3 1.2M424.4 288.9l8.4 1.3l8.2 1.1M424.2 283.1l8.3 1.6l8.3 1.3M424 277.5l8.3 1.6l8.3 1.5M423.8 272l8.3 1.5M423.6 266.5l8.2 1.5M423.3 261l8.3 1.5M414.8 253.8l8.3 1.7l8.3 1.5M414.6 248l8.3 1.8l8.3 1.7M414.4 242.4l8.2 1.8l8.4 1.7M414.1 237l8.3 1.7l8.3 1.7M413.9 231.6l8.3 1.7l8.3 1.6M413.7 226.3l8.3 1.7"/><path stroke="#00cfff" d="M429.8 219.1l8.1 -3.4l8.1 -3.5M422 228l8 -3.7l8.1 -3.6M430.3 229.6l8.1 -3.7M430.5 234.9l8.1 -3.7M430.7 240.4l8.1 -3.8M431 245.9l8 -3.8M431.2 251.5l8 -3.9l8.1 -3.9M431.4 257l8.1 -4l8.1 -4M431.6 262.5l8.1 -4l8.1 -4.1M431.8 268l8.1 -4l8.1 -4M432.1 273.5l8.1 -4l8 -4.1M440.4 275l8 -4M440.6 280.6l8.1 -4.1M440.8 286l8.1 -4.2M441 291.3l8.1 -4.2M441.3 296.8l8.1 -4.3M441.5 302.3l8.1 -4.3M441.7 307.9l8.1 -4.3M442 313.3l8 -4.3l8.1 -4.3M442.2 318.9l8 -4.4l8.1 -4.4M442.4 324.4l8.1 -4.4l8.1 -4.5M450.7 325.6l8.1 -4.6M450.9 331.2l8.1 -4.6M451.2 336.9l8 -4.6M451.4 342.8l8 -4.7M451.6 348.3l8.1 -4.7M451.8 353.4l8.1 -4.7M452 358.7l8.1 -4.8M452.3 364.2l8.1 -4.8M452.5 369.9l8.1 -5M452.7 375.5l8.1 -5M461 376.2l8.1 -5M461.2 381.5l8.1 -5.1M461.5 386.6l8.1 -5.1M461.7 391.9l8.1 -5.2M461.9 397.3l8.1 -5.2M462.2 402.8l8 -5.3M462.4 408.5l8 -5.4M462.2 402.8l8.2 0.3M461.9 397.3l8.3 0.2M461.7 391.9l8.3 0.2M461.5 386.6l8.3 0.1M461.2 381.5l8.4 0M461 376.2l8.3 0.2M452.5 369.9l8.3 0.6l8.3 0.7M452.3 364.2l8.3 0.7M452 358.7l8.4 0.7M451.8 353.4l8.3 0.5M451.6 348.3l8.3 0.4M451.4 342.8l8.3 0.8M451.2 336.9l8.2 1.2M450.9 331.2l8.3 1.1M442.4 324.4l8.3 1.2l8.3 1M442.2 318.9l8.3 1.1l8.3 1M442 313.3l8.2 1.2l8.4 1M441.7 307.9l8.3 1.1l8.3 1.1M441.5 302.3l8.3 1.3M441.3 296.8l8.3 1.2M441 291.3l8.4 1.2M440.8 286l8.3 1.1M440.6 280.6l8.3 1.2M432.1 273.5l8.3 1.5l8.3 1.5M431.8 268l8.4 1.5l8.2 1.5M431.6 262.5l8.3 1.5l8.3 1.4M431.4 257l8.3 1.5l8.3 1.5M431.2 251.5l8.3 1.5l8.3 1.4M431 245.9l8.2 1.7l8.4 1.4M430.7 240.4l8.3 1.7l8.3 1.6M430.5 234.9l8.3 1.7M422 228l8.3 1.6l8.3 1.6M421.8 222.7l8.2 1.6l8.4 1.6M429.8 219.1l8.3 1.6"/><path stroke="#00dfff" d="M446 212.2l8 -3.4l8.1 -3.5M438.1 220.7l8.1 -3.5l8.1 -3.5M438.4 225.9l8 -3.6l8.1 -3.6M438.6 231.2l8 -3.7l8.1 -3.7M438.8 236.6l8.1 -3.8l8.1 -3.8M439 242.1l8.1 -3.9l8.1 -3.8M447.3 243.7l8.1 -3.8M447.6 249l8 -3.9M447.8 254.4l8 -4M448 260l8.1 -4.1M448.2 265.4l8.1 -4M448.4 271l8.1 -4.1l8.1 -4M448.7 276.5l8.1 -4l8 -4.1M448.9 281.8l8.1 -4.1l8.1 -4M449.1 287.1l8.1 -4.1l8.1 -4.2M449.4 292.5l8 -4.2l8.1 -4.2M449.6 298l8 -4.3l8.1 -4.3M449.8 303.6l8.1 -4.3l8.1 -4.4M458.1 304.7l8.1 -4.4M458.3 310.1l8.1 -4.4M458.6 315.5l8 -4.4M458.8 321l8 -4.5M459 326.6l8.1 -4.5M459.2 332.3l8.1 -4.6M459.4 338.1l8.1 -4.6M459.7 343.6l8.1 -4.7M459.9 348.7l8.1 -4.8M460.1 353.9l8.1 -4.8M460.4 359.4l8 -4.9M460.6 364.9l8 -4.9M460.8 370.5l8.1 -4.9M469.1 371.2l8.1 -5M469.3 376.4l8.1 -5.1M469.6 381.5l8 -5.1M470.2 397.5l8.1 -5.2M470.4 403.1l8.1 -5.3M470.2 397.5l8.3 0.3M470 392.1l8.3 0.2M469.3 376.4l8.3 0M469.1 371.2l8.3 0.1M460.6 364.9l8.3 0.7l8.3 0.6M460.4 359.4l8.2 0.6M460.1 353.9l8.3 0.6M459.9 348.7l8.3 0.4M459.7 343.6l8.3 0.3M459.4 338.1l8.4 0.8M459.2 332.3l8.3 1.2M459 326.6l8.3 1.1M458.8 321l8.3 1.1M458.6 315.5l8.2 1M458.3 310.1l8.3 1M449.8 303.6l8.3 1.1l8.3 1M449.6 298l8.3 1.3l8.3 1M449.4 292.5l8.2 1.2l8.4 1.2M449.1 287.1l8.3 1.2l8.3 1.1M448.9 281.8l8.3 1.2l8.3 1.1M448.7 276.5l8.3 1.2l8.3 1.1M448.4 271l8.4 1.5l8.3 1.2M448.2 265.4l8.3 1.5l8.3 1.5M448 260l8.3 1.4M447.8 254.4l8.3 1.5M447.6 249l8.2 1.4M447.3 243.7l8.3 1.4M438.8 236.6l8.3 1.6l8.3 1.7M438.6 231.2l8.3 1.6l8.3 1.6M438.4 225.9l8.2 1.6l8.4 1.5M438.1 220.7l8.3 1.6l8.3 1.5M437.9 215.7l8.3 1.5l8.3 1.5M446 212.2l8.3 1.5"/><path stroke="#00efff" d="M462.1 205.3l8.1 -3.4M454.3 213.7l8.1 -3.4l8 -3.5M454.5 218.7l8.1 -3.5l8 -3.5M454.7 223.8l8.1 -3.5l8.1 -3.6M455 229l8 -3.6l8.1 -3.6M455.2 234.4l8 -3.8l8.1 -3.7M455.4 239.9l8.1 -3.9l8.1 -3.8M455.6 245.1l8.1 -3.9l8.1 -3.8M455.8 250.4l8.1 -3.9l8.1 -3.9M456.1 255.9l8.1 -4.1l8 -3.9M456.3 261.4l8.1 -4.1l8 -4M464.6 262.9l8.1 -4.1M464.8 268.4l8.1 -4M465.1 273.7l8 -4.1M465.3 278.8l8.1 -4.1M465.5 284.1l8.1 -4.2M465.7 289.4l8.1 -4.2M466 294.9l8 -4.3M466.2 300.3l8 -4.4M466.4 305.7l8.1 -4.4M466.6 311.1l8.1 -4.5M466.8 316.5l8.1 -4.4M467.1 322.1l8.1 -4.6M467.3 327.7l8.1 -4.6M467.5 333.5l8.1 -4.7l8.1 -4.7M467.8 338.9l8 -4.8l8.1 -4.7M468 343.9l8 -4.8M468.2 349.1l8.1 -4.8M468.4 354.5l8.1 -4.8M468.6 360l8.1 -4.8M468.9 365.6l8.1 -5l8 -4.9M477.2 366.2l8 -5.1M477.4 371.3l8.1 -5.1M469.8 386.7l8 -5.2M470 392.1l8.1 -5.3M478.5 397.8l8.1 -5.3M478.3 392.3l8.3 0.2M469.8 386.7l8.3 0.1M469.6 381.5l8.2 0M477.2 366.2l8.3 0M468.6 360l8.4 0.6l8.2 0.5M468.4 354.5l8.3 0.7M468.2 349.1l8.3 0.6M468 343.9l8.3 0.4M467.8 338.9l8.2 0.2M467.5 333.5l8.3 0.6M467.3 327.7l8.3 1.1l8.3 0.6M467.1 322.1l8.3 1M466.8 316.5l8.4 1M466.6 311.1l8.3 1M466.4 305.7l8.3 0.9M466.2 300.3l8.3 1M466 294.9l8.2 1M465.7 289.4l8.3 1.2M465.5 284.1l8.3 1.1M465.3 278.8l8.3 1.1M465.1 273.7l8.3 1M464.8 268.4l8.3 1.2M456.3 261.4l8.3 1.5l8.3 1.5M456.1 255.9l8.3 1.4l8.3 1.5M455.8 250.4l8.4 1.4l8.2 1.5M455.6 245.1l8.3 1.4l8.3 1.4M455.4 239.9l8.3 1.3l8.3 1.4M455.2 234.4l8.3 1.6l8.3 1.4M455 229l8.2 1.6l8.4 1.6M454.7 223.8l8.3 1.6l8.3 1.5M454.5 218.7l8.3 1.6l8.3 1.5M454.3 213.7l8.3 1.5l8.3 1.5M454 208.8l8.4 1.5l8.2 1.4M462.1 205.3l8.3 1.5M470.2 201.9l8.3 1.4"/><path stroke="#00ffff" d="M470.4 206.8l8.1 -3.5M470.6 211.7l8.1 -3.5l8.1 -3.5M470.9 216.7l8 -3.5l8.1 -3.6M471.1 221.8l8.1 -3.6l8 -3.6M471.3 226.9l8.1 -3.6l8.1 -3.6M471.6 232.2l8 -3.7l8.1 -3.7M471.8 237.4l8 -3.9M472 242.6l8.1 -3.9M472.2 247.9l8.1 -4M472.4 253.3l8.1 -4M472.7 258.8l8.1 -4.1M472.9 264.4l8.1 -4.2l8 -4.1M473.1 269.6l8.1 -4.1l8.1 -4.2M473.4 274.7l8 -4.1M473.6 279.9l8 -4.1M473.8 285.2l8.1 -4.2M474 290.6l8.1 -4.3M474.2 295.9l8.1 -4.4M474.5 301.3l8.1 -4.5M474.7 306.6l8.1 -4.4M474.9 312.1l8.1 -4.5M475.2 317.5l8 -4.5M475.4 323.1l8 -4.6l8.1 -4.6M483.7 324.1l8.1 -4.7M483.9 329.4l8.1 -4.8M476 339.1l8.1 -4.8M476.3 344.3l8.1 -4.9M476.5 349.7l8.1 -4.9M476.7 355.2l8.1 -4.9l8.1 -5M485 355.7l8.1 -5M485.2 361.1l8.1 -5M485.5 366.2l8.1 -5.1M477.6 376.4l8.1 -5.2M477.8 381.5l8.1 -5.2M478.1 386.8l8.1 -5.2M478.3 392.3l8.1 -5.3M478.1 386.8l8.3 0.2M477.8 381.5l8.4 0.1M477.6 376.4l8.3 -0.1M477.4 371.3l8.3 -0.1M485.2 361.1l8.4 0M476.7 355.2l8.3 0.5l8.3 0.4M476.5 349.7l8.3 0.6l8.3 0.4M476.3 344.3l8.3 0.5M476 339.1l8.4 0.3M475.8 334.1l8.3 0.2M483.9 329.4l8.3 0.1M475.4 323.1l8.3 1l8.3 0.5M475.2 317.5l8.2 1l8.4 0.9M474.9 312.1l8.3 0.9M474.7 306.6l8.3 1M474.5 301.3l8.3 0.9M474.2 295.9l8.4 0.9M474 290.6l8.3 0.9M473.8 285.2l8.3 1.1M473.6 279.9l8.3 1.1M473.4 274.7l8.2 1.1M473.1 269.6l8.3 1M472.9 264.4l8.3 1.1M472.7 258.8l8.3 1.4l8.3 1.1M472.4 253.3l8.4 1.4M472.2 247.9l8.3 1.4M472 242.6l8.3 1.3M471.8 237.4l8.3 1.3M471.6 232.2l8.2 1.3M471.3 226.9l8.3 1.6M471.1 221.8l8.3 1.5l8.3 1.5M470.9 216.7l8.3 1.5l8.3 1.5M470.6 211.7l8.3 1.5l8.3 1.4M470.4 206.8l8.3 1.4l8.3 1.4M478.5 203.3l8.3 1.4"/><path stroke="#10ffef" d="M487 209.6l8.1 -3.5M487.2 214.6l8.1 -3.5l8.1 -3.6M487.5 219.7l8.1 -3.6l8 -3.6M487.7 224.8l8.1 -3.6M479.8 233.5l8.1 -3.7l8.1 -3.7M480.1 238.7l8.1 -3.9l8 -3.8M480.3 243.9l8.1 -3.9l8 -3.9M480.5 249.3l8.1 -4l8.1 -4M480.8 254.7l8 -4.1l8.1 -4M489 256.1l8.1 -4.1M489.3 261.3l8.1 -4.2M481.4 270.6l8.1 -4.1l8.1 -4.2M481.6 275.8l8.1 -4.2l8.1 -4.1M481.9 281l8.1 -4.2l8 -4.1M482.1 286.3l8.1 -4.2l8 -4.2M482.3 291.5l8.1 -4.3l8.1 -4.2M482.6 296.8l8 -4.4l8.1 -4.3M482.8 302.2l8 -4.5l8.1 -4.5M483 307.6l8.1 -4.5l8.1 -4.5M483.2 313l8.1 -4.6l8.1 -4.5M491.5 313.9l8.1 -4.6M491.8 319.4l8 -4.6M492 324.6l8 -4.8M484.1 334.3l8.1 -4.8l8.1 -4.9M484.4 339.4l8 -4.9M484.6 344.8l8 -4.9l8.1 -5M492.9 345.3l8.1 -5M493.1 350.7l8.1 -5M493.3 356.1l8.1 -5M493.6 361.1l8 -5.1M485.7 371.2l8.1 -5.2M485.9 376.3l8.1 -5.3M486.2 381.6l8 -5.3M486.4 387l8 -5.3M486.6 392.5l8.1 -5.4M486.4 387l8.3 0.1M486.2 381.6l8.2 0.1M485.9 376.3l8.3 0M485.7 371.2l8.3 -0.2M485.5 366.2l8.3 -0.2M493.3 356.1l8.3 -0.1M493.1 350.7l8.3 0.4M484.6 344.8l8.3 0.5l8.3 0.4M484.4 339.4l8.2 0.5l8.4 0.4M484.1 334.3l8.3 0.2M492.2 329.5l8.3 0.1M492 324.6l8.3 0M491.8 319.4l8.2 0.4M483.2 313l8.3 0.9l8.3 0.9M483 307.6l8.3 0.8l8.3 0.9M482.8 302.2l8.3 0.9l8.3 0.8M482.6 296.8l8.2 0.9l8.4 0.9M482.3 291.5l8.3 0.9l8.3 0.8M482.1 286.3l8.3 0.9l8.3 0.9M481.9 281l8.3 1.1l8.3 0.9M481.6 275.8l8.4 1l8.2 1.1M481.4 270.6l8.3 1l8.3 1.1M481.2 265.5l8.3 1l8.3 1M489.3 261.3l8.3 1M480.8 254.7l8.2 1.4l8.4 1M480.5 249.3l8.3 1.3l8.3 1.4M480.3 243.9l8.3 1.4l8.3 1.3M480.1 238.7l8.3 1.3l8.3 1.3M479.8 233.5l8.4 1.3l8.2 1.3M479.6 228.5l8.3 1.3l8.3 1.2M487.7 224.8l8.3 1.3M487.5 219.7l8.3 1.5M487.2 214.6l8.4 1.5M487 209.6l8.3 1.5l8.3 1.4M486.8 204.7l8.3 1.4l8.3 1.4"/><path stroke="#20ffdf" d="M503.6 212.5l8.1 -3.6M495.8 221.2l8 -3.6l8.1 -3.7M496 226.1l8.1 -3.7l8.1 -3.6M496.2 231l8.1 -3.7l8.1 -3.7M496.4 236.1l8.1 -3.9l8.1 -3.7M496.7 241.3l8.1 -4M496.9 246.6l8.1 -4M497.1 252l8.1 -4.1M497.4 257.1l8 -4.1M497.6 262.3l8 -4.3M497.8 267.5l8.1 -4.3M498 272.7l8.1 -4.2M498.2 277.9l8.1 -4.2M498.5 283l8.1 -4.3M498.7 288.1l8.1 -4.3M498.9 293.2l8.1 -4.3M499.2 298.6l8 -4.6M499.4 303.9l8 -4.6M499.6 309.3l8.1 -4.6M499.8 314.8l8.1 -4.6M500 319.8l8.1 -4.7M500.3 324.6l8.1 -4.8M492.4 334.5l8.1 -4.9l8.1 -4.9M500.7 334.9l8.1 -4.9M501 340.3l8 -5M501.2 345.7l8.1 -5.1M501.4 351.1l8.1 -5.1M501.6 356l8.1 -5.1M493.8 366l8 -5.2M494 371l8.1 -5.3M494.2 376.3l8.1 -5.4M494.4 381.7l8.1 -5.4M494.7 387.1l8.1 -5.3M494.4 381.7l8.4 0.1M494.2 376.3l8.3 0M494 371l8.3 -0.1M493.8 366l8.3 -0.3M493.6 361.1l8.2 -0.3M501.4 351.1l8.3 -0.2M501.2 345.7l8.3 0.3M501 340.3l8.3 0.3M492.4 334.5l8.3 0.4l8.3 0.4M500.5 329.6l8.3 0.4M500.3 324.6l8.3 0.1M500 319.8l8.4 0M499.8 314.8l8.3 0.3M499.6 309.3l8.3 0.9M499.4 303.9l8.3 0.8M499.2 298.6l8.2 0.7M498.9 293.2l8.3 0.8M498.7 288.1l8.3 0.8M498.5 283l8.3 0.8M498.2 277.9l8.4 0.8M498 272.7l8.3 1M497.8 267.5l8.3 1M497.6 262.3l8.3 0.9M497.4 257.1l8.2 0.9M497.1 252l8.3 1M496.9 246.6l8.3 1.3M496.7 241.3l8.3 1.3M496.4 236.1l8.4 1.2M496.2 231l8.3 1.2M496 226.1l8.3 1.2l8.3 1.2M495.8 221.2l8.3 1.2l8.3 1.2M495.6 216.1l8.2 1.5l8.4 1.2M503.6 212.5l8.3 1.4M503.4 207.5l8.3 1.4"/><path stroke="#30ffcf" d="M511.9 213.9l8.1 -3.6M512.2 218.8l8 -3.7l8.1 -3.7M512.4 223.6l8 -3.7l8.1 -3.7M512.6 228.5l8.1 -3.7M504.8 237.3l8 -3.8l8.1 -3.8M505 242.6l8 -4l8.1 -3.9M505.2 247.9l8.1 -4l8.1 -4M505.4 253l8.1 -4.1l8.1 -4.1M505.6 258l8.1 -4.1l8.1 -4.2M505.9 263.2l8.1 -4.2l8 -4.2M506.1 268.5l8.1 -4.3M506.3 273.7l8.1 -4.2M506.6 278.7l8 -4.2M506.8 283.8l8 -4.3M507 288.9l8.1 -4.4M507.2 294l8.1 -4.4M507.4 299.3l8.1 -4.5M507.7 304.7l8.1 -4.6M507.9 310.2l8.1 -4.7M508.1 315.1l8.1 -4.7M508.4 319.8l8 -4.7M508.6 324.7l8 -4.9M508.8 330l8.1 -5M509 335.3l8.1 -5M509.3 340.6l8 -5M509.5 346l8.1 -5.1M501.8 360.8l8.1 -5.2M502.1 365.7l8.1 -5.3M502.3 370.9l8.1 -5.3M502.5 376.3l8.1 -5.4M502.8 381.8l8 -5.5M502.5 376.3l8.3 0M502.3 370.9l8.3 0M502.1 365.7l8.3 -0.1M501.8 360.8l8.4 -0.4M501.6 356l8.3 -0.4M509.5 346l8.3 -0.3M509.3 340.6l8.3 0.3M509 335.3l8.3 0.3M508.8 330l8.3 0.3M508.6 324.7l8.3 0.3M508.4 319.8l8.2 0M508.1 315.1l8.3 0M507.9 310.2l8.3 0.2M507.7 304.7l8.3 0.8M507.4 299.3l8.4 0.8M507.2 294l8.3 0.8M507 288.9l8.3 0.7M506.8 283.8l8.3 0.7M506.6 278.7l8.2 0.8M506.3 273.7l8.3 0.8M506.1 268.5l8.3 1M505.9 263.2l8.3 1M505.6 258l8.4 1M505.4 253l8.3 0.9l8.3 0.9M505.2 247.9l8.3 1l8.3 0.8M505 242.6l8.3 1.3l8.3 0.9M504.8 237.3l8.2 1.3l8.4 1.3M504.5 232.2l8.3 1.3l8.3 1.2M512.6 228.5l8.3 1.2M512.4 223.6l8.3 1.2M512.2 218.8l8.2 1.1M511.9 213.9l8.3 1.2l8.3 1.1M511.7 208.9l8.3 1.4l8.3 1.1"/><path stroke="#40ffbf" d="M528.5 216.2l8.1 -3.7M520.7 224.8l8.1 -3.7l8 -3.8M520.9 229.7l8.1 -3.7l8 -3.8M521.1 234.7l8.1 -3.7l8.1 -3.8M521.4 239.9l8 -3.9l8.1 -3.8M521.6 244.8l8.1 -4M521.8 249.7l8.1 -4.1M522 254.8l8.1 -4.2M514.2 264.2l8 -4.3l8.1 -4.3M514.4 269.5l8.1 -4.3l8.1 -4.4M514.6 274.5l8.1 -4.3l8.1 -4.3M514.8 279.5l8.1 -4.3l8.1 -4.3M515.1 284.5l8.1 -4.3M515.3 289.6l8.1 -4.3M515.5 294.8l8.1 -4.5M515.8 300.1l8 -4.6M516 305.5l8 -4.6M516.2 310.4l8.1 -4.7M516.4 315.1l8.1 -4.8M516.6 319.8l8.1 -4.8M516.9 325l8.1 -4.9M517.1 330.3l8.1 -5M517.3 335.6l8.1 -5.1M517.6 340.9l8 -5.2M509.7 350.9l8.1 -5.2M509.9 355.6l8.1 -5.2M510.2 360.4l8 -5.2M510.4 365.6l8 -5.4M510.6 370.9l8.1 -5.5M510.8 376.3l8.1 -5.5M510.6 370.9l8.3 -0.1M510.4 365.6l8.3 -0.2M510.2 360.4l8.2 -0.2M509.9 355.6l8.3 -0.4M509.7 350.9l8.3 -0.5M517.6 340.9l8.2 -0.4M517.3 335.6l8.3 0.1M517.1 330.3l8.3 0.2M516.9 325l8.3 0.3M516.6 319.8l8.4 0.3M516.4 315.1l8.3 -0.1M516.2 310.4l8.3 -0.1M516 305.5l8.3 0.2M515.8 300.1l8.2 0.8M515.5 294.8l8.3 0.7M515.3 289.6l8.3 0.7M515.1 284.5l8.3 0.8M514.8 279.5l8.4 0.7M514.6 274.5l8.3 0.7l8.3 0.7M514.4 269.5l8.3 0.7l8.3 0.7M514.2 264.2l8.3 1l8.3 0.7M514 259l8.2 0.9l8.4 0.9M522 254.8l8.3 0.8M521.8 249.7l8.3 0.9M521.6 244.8l8.3 0.8M521.4 239.9l8.3 0.9M521.1 234.7l8.3 1.3M520.9 229.7l8.3 1.3l8.3 1.2M520.7 224.8l8.3 1.2l8.3 1.2M520.4 219.9l8.4 1.2l8.2 1.1M528.5 216.2l8.3 1.1M528.3 211.4l8.3 1.1"/><path stroke="#50ffaf" d="M536.8 217.3l8.1 -3.7M537 222.2l8.1 -3.7l8.1 -3.8M537.3 227.2l8 -3.8M537.5 232.2l8.1 -3.8M529.7 240.8l8 -4l8.1 -3.8M529.9 245.6l8.1 -4.1l8 -4M530.1 250.6l8.1 -4.2M530.3 255.6l8.1 -4.2M530.6 260.8l8 -4.3M530.8 265.9l8 -4.4M531 270.9l8.1 -4.4M523.2 280.2l8 -4.3l8.1 -4.4M523.4 285.3l8 -4.4l8.1 -4.4M523.6 290.3l8.1 -4.4l8.1 -4.4M523.8 295.5l8.1 -4.5M524 300.9l8.1 -4.7M524.3 305.7l8.1 -4.7M524.5 310.3l8.1 -4.8M524.7 315l8.1 -4.9M525 320.1l8 -4.9M525.2 325.3l8 -5M525.4 330.5l8.1 -5.1M525.6 335.7l8.1 -5.1M517.8 345.7l8 -5.2M518 350.4l8.1 -5.3M518.2 355.2l8.1 -5.3M518.4 360.2l8.1 -5.3M518.7 365.4l8.1 -5.4M518.9 370.8l8.1 -5.5M518.7 365.4l8.3 -0.1M518.4 360.2l8.4 -0.2M518.2 355.2l8.3 -0.3M518 350.4l8.3 -0.5M517.8 345.7l8.3 -0.6M525.4 330.5l8.3 0.1M525.2 325.3l8.3 0.1M525 320.1l8.2 0.2M524.7 315l8.3 0.2M524.5 310.3l8.3 -0.2M524.3 305.7l8.3 -0.2M524 300.9l8.4 0.1M523.8 295.5l8.3 0.7M523.6 290.3l8.3 0.7M523.4 285.3l8.3 0.6M523.2 280.2l8.2 0.7l8.4 0.6M531.2 275.9l8.3 0.6M531 270.9l8.3 0.6M530.8 265.9l8.3 0.6M530.6 260.8l8.2 0.7M530.3 255.6l8.3 0.9M530.1 250.6l8.3 0.8M529.9 245.6l8.3 0.8M529.7 240.8l8.3 0.7M529.4 236l8.3 0.8l8.3 0.7M537.5 232.2l8.3 0.8M537.3 227.2l8.3 1.2M537 222.2l8.3 1.2M536.8 217.3l8.3 1.2M536.6 212.5l8.3 1.1l8.3 1.1"/><path stroke="#60ff9f" d="M545.3 223.4l8.1 -3.8l8.1 -3.8M545.6 228.4l8 -3.9l8.1 -3.8M545.8 233l8.1 -3.9M546 237.5l8.1 -3.9M538.2 246.4l8 -4.2l8.1 -4M538.4 251.4l8.1 -4.3l8.1 -4.1M538.6 256.5l8.1 -4.3M538.8 261.5l8.1 -4.4M539.1 266.5l8.1 -4.5M539.3 271.5l8.1 -4.4M539.5 276.5l8.1 -4.3M539.8 281.5l8 -4.4M531.9 291l8.1 -4.5l8.1 -4.4M532.1 296.2l8.1 -4.6l8.1 -4.4M532.4 301l8 -4.8M532.6 305.5l8 -4.8M532.8 310.1l8.1 -4.8M533 315.2l8.1 -4.9M533.2 320.3l8.1 -4.9M533.5 325.4l8.1 -5.1M533.7 330.6l8.1 -5.2M525.8 340.5l8.1 -5.2M526.1 345.1l8.1 -5.3M526.3 349.9l8.1 -5.4M526.5 354.9l8.1 -5.4M526.8 360l8 -5.4M527 365.3l8 -5.5M526.8 360l8.2 -0.2M526.5 354.9l8.3 -0.3M526.3 349.9l8.3 -0.4M526.1 345.1l8.3 -0.6M525.8 340.5l8.4 -0.7M525.6 335.7l8.3 -0.4M533.5 325.4l8.3 0M533.2 320.3l8.4 0M533 315.2l8.3 0.2M532.8 310.1l8.3 0.2M532.6 305.5l8.3 -0.2M532.4 301l8.2 -0.3M532.1 296.2l8.3 0M531.9 291l8.3 0.6M531.7 285.9l8.3 0.6l8.3 0.7M539.8 281.5l8.3 0.6M539.5 276.5l8.3 0.6M539.3 271.5l8.3 0.7M539.1 266.5l8.3 0.6M538.8 261.5l8.4 0.5M538.6 256.5l8.3 0.6M538.4 251.4l8.3 0.8M538.2 246.4l8.3 0.7M538 241.5l8.2 0.7l8.4 0.8M546 237.5l8.3 0.7M545.8 233l8.3 0.6M545.6 228.4l8.3 0.7M545.3 223.4l8.3 1.1l8.4 0.8M545.1 218.5l8.3 1.1l8.3 1.1M553.2 214.7l8.3 1.1"/><path stroke="#70ff8f" d="M561.7 220.7l8.1 -3.8M553.9 229.1l8.1 -3.8l8 -3.9M554.1 233.6l8.1 -3.9l8 -3.9M554.3 238.2l8.1 -3.9M554.6 243l8 -4.1M546.7 252.2l8.1 -4.3l8 -4.2M546.9 257.1l8.1 -4.3l8.1 -4.4M547.2 262l8 -4.4M547.4 267.1l8 -4.5M547.6 272.2l8.1 -4.5M547.8 277.1l8.1 -4.4M548.1 282.1l8 -4.5M548.3 287.2l8.1 -4.5M540.4 296.2l8.1 -4.6l8.1 -4.6M540.6 300.7l8.1 -4.8M540.9 305.3l8.1 -4.9M541.1 310.3l8.1 -4.9M541.3 315.4l8.1 -5M541.6 320.3l8 -5M533.9 335.3l8.1 -5.3M534.2 339.8l8 -5.3M534.4 344.5l8 -5.4M534.6 349.5l8.1 -5.4M534.8 354.6l8.1 -5.4M535 359.8l8.1 -5.4M534.8 354.6l8.3 -0.2M534.6 349.5l8.3 -0.3M534.4 344.5l8.3 -0.4M534.2 339.8l8.2 -0.7M533.9 335.3l8.3 -0.8M533.7 330.6l8.3 -0.6M541.6 320.3l8.2 0M541.3 315.4l8.3 -0.1M541.1 310.3l8.3 0.1M540.9 305.3l8.3 0.1M540.6 300.7l8.4 -0.3M540.4 296.2l8.3 -0.3M540.2 291.6l8.3 0M548.3 287.2l8.3 -0.2M548.1 282.1l8.3 0.6M547.8 277.1l8.3 0.5M547.6 272.2l8.3 0.5M547.4 267.1l8.3 0.6M547.2 262l8.2 0.6M546.9 257.1l8.3 0.5M546.7 252.2l8.3 0.6M546.5 247.1l8.3 0.8l8.3 0.5M554.6 243l8.2 0.7M554.3 238.2l8.3 0.7M554.1 233.6l8.3 0.7M553.9 229.1l8.3 0.6M562 225.3l8.2 0.5M561.7 220.7l8.3 0.7M561.5 215.8l8.3 1.1"/><path stroke="#80ff80" d="M570 221.4l8.1 -3.8M570.2 225.8l8.1 -3.9M562.4 234.3l8.1 -3.9l8.1 -4M562.6 238.9l8.1 -3.9l8.1 -4M562.8 243.7l8.1 -4.1M563.1 248.4l8.1 -4.2M555.2 257.6l8.1 -4.4l8.1 -4.4M555.4 262.6l8.1 -4.5M555.7 267.7l8.1 -4.6M555.9 272.7l8.1 -4.6M556.1 277.6l8.1 -4.4M556.4 282.7l8 -4.5M556.6 287l8 -4.5M548.7 295.9l8.1 -4.7M549 300.4l8 -4.8M549.2 305.4l8 -4.9M549.4 310.4l8.1 -4.9M549.6 315.3l8.1 -5M541.8 325.4l8 -5.1M542 330l8.1 -5.2M542.2 334.5l8.1 -5.3M542.4 339.1l8.1 -5.4M542.7 344.1l8.1 -5.5M542.9 349.2l8.1 -5.5M543.1 354.4l8.1 -5.5M542.9 349.2l8.3 -0.3M542.7 344.1l8.3 -0.4M542.4 339.1l8.4 -0.5M542.2 334.5l8.3 -0.8M542 330l8.3 -0.8M541.8 325.4l8.3 -0.6M549.6 315.3l8.3 -0.1M549.4 310.4l8.3 -0.1M549.2 305.4l8.3 0.1M549 300.4l8.2 0.1M548.7 295.9l8.3 -0.3M548.5 291.6l8.3 -0.4M556.4 282.7l8.2 -0.2M556.1 277.6l8.3 0.6M555.9 272.7l8.3 0.5M555.7 267.7l8.3 0.4M555.4 262.6l8.4 0.5M555.2 257.6l8.3 0.5M555 252.8l8.3 0.4l8.3 0.5M563.1 248.4l8.3 0.4M562.8 243.7l8.4 0.5M562.6 238.9l8.3 0.7M562.4 234.3l8.3 0.7M562.2 229.7l8.3 0.7l8.3 0.6M570.2 225.8l8.4 0.6M570 221.4l8.3 0.5M569.8 216.9l8.3 0.7"/><path stroke="#8fff70" d="M578.3 221.9l8.1 -3.9M578.6 226.4l8 -3.9M578.8 231l8 -4M570.9 239.6l8.1 -4l8.1 -4M571.2 244.2l8 -4.2M571.4 248.8l8 -4.3M563.5 258.1l8.1 -4.4l8.1 -4.5M563.8 263.1l8 -4.5l8.1 -4.5M564 268.1l8 -4.6M564.2 273.2l8.1 -4.6M564.4 278.2l8.1 -4.5M564.6 282.5l8.1 -4.6M556.8 291.2l8.1 -4.6M557 295.6l8.1 -4.8M557.2 300.5l8.1 -4.9M557.5 305.5l8.1 -5M557.7 310.3l8.1 -5M549.8 320.3l8.1 -5.1M550.1 324.8l8.1 -5.2M550.3 329.2l8.1 -5.3M550.5 333.7l8.1 -5.4M550.8 338.6l8 -5.4M550.5 333.7l8.3 -0.5M550.3 329.2l8.3 -0.9M550.1 324.8l8.3 -0.9M549.8 320.3l8.4 -0.7M557.7 310.3l8.3 -0.1M557.5 305.5l8.3 -0.2M557.2 300.5l8.4 0M557 295.6l8.3 0M556.8 291.2l8.3 -0.4M556.6 287l8.3 -0.4M564.6 282.5l8.4 -0.5M564.4 278.2l8.3 -0.3M564.2 273.2l8.3 0.5M564 268.1l8.3 0.5M563.8 263.1l8.2 0.4M563.5 258.1l8.3 0.5M571.6 253.7l8.3 0.4M571.4 248.8l8.3 0.4M571.2 244.2l8.2 0.3M570.9 239.6l8.3 0.4M570.7 235l8.3 0.6M578.8 231l8.3 0.6M578.6 226.4l8.2 0.6M578.3 221.9l8.3 0.6M578.1 217.6l8.3 0.4l8.3 0.5"/><path stroke="#9fff60" d="M586.6 222.5l8.1 -4M586.8 227l8.1 -4l8.1 -4M587.1 231.6l8.1 -4M579.2 240l8.1 -4l8.1 -4.1M579.4 244.5l8.1 -4.2M579.7 249.2l8.1 -4.3M579.9 254.1l8.1 -4.5M572 263.5l8.1 -4.5l8.1 -4.6M572.3 268.6l8.1 -4.7M572.5 273.7l8.1 -4.6M572.7 277.9l8.1 -4.5M564.9 286.6l8.1 -4.6l8 -4.6M565.1 290.8l8.1 -4.6M565.3 295.6l8.1 -4.8M565.6 300.5l8 -4.9M565.8 305.3l8 -5M557.9 315.2l8.1 -5M558.2 319.6l8 -5.1M558.4 323.9l8 -5.3M558.6 328.3l8.1 -5.4M551 343.7l8 -5.6M551.2 348.9l8.1 -5.6M551 343.7l8.3 -0.4M550.8 338.6l8.2 -0.5M558.4 323.9l8.3 -1M558.2 319.6l8.2 -1M557.9 315.2l8.3 -0.7M565.8 305.3l8.3 -0.2M565.6 300.5l8.2 -0.2M565.3 295.6l8.3 0M565.1 290.8l8.3 0M564.9 286.6l8.3 -0.4M572.7 277.9l8.3 -0.5M572.5 273.7l8.3 -0.3M572.3 268.6l8.3 0.5M572 263.5l8.4 0.4M571.8 258.6l8.3 0.4l8.3 0.3M579.9 254.1l8.3 0.3M579.7 249.2l8.3 0.4M579.4 244.5l8.4 0.4M579.2 240l8.3 0.3M579 235.6l8.3 0.4l8.3 0.2M587.1 231.6l8.3 0.3M586.8 227l8.4 0.6M586.6 222.5l8.3 0.5M594.7 218.5l8.3 0.5"/><path stroke="#afff50" d="M595.2 227.6l8 -4.1l8.1 -4M595.4 231.9l8 -4.1M587.5 240.3l8.1 -4.1l8.1 -4.1M587.8 244.9l8 -4.3M588 249.6l8 -4.4M588.2 254.4l8.1 -4.6M580.4 263.9l8 -4.6l8.1 -4.6M580.6 269.1l8 -4.8l8.1 -4.6M580.8 273.4l8.1 -4.7M581 277.4l8.1 -4.7M573.2 286.2l8 -4.7M573.4 290.8l8.1 -4.7M573.6 295.6l8.1 -4.9M573.8 300.3l8.1 -5M566 310.2l8.1 -5.1M566.2 314.5l8.1 -5.2M566.4 318.6l8.1 -5.2M558.8 333.2l8.1 -5.5M559 338.1l8.1 -5.5M559.3 343.3l8.1 -5.6M559 338.1l8.4 -0.4M558.8 333.2l8.3 -0.6M558.6 328.3l8.3 -0.6M566.4 318.6l8.4 -1.1M566.2 314.5l8.3 -1.1M566 310.2l8.3 -0.9M573.8 300.3l8.4 -0.3M573.6 295.6l8.3 -0.3M573.4 290.8l8.3 -0.1M573.2 286.2l8.3 -0.1M573 282l8.2 -0.5M581 277.4l8.3 -0.6M580.8 273.4l8.3 -0.7M580.6 269.1l8.3 -0.4M580.4 263.9l8.2 0.4M588.4 259.3l8.3 0.4M588.2 254.4l8.3 0.3M588 249.6l8.3 0.2M587.8 244.9l8.2 0.3M587.5 240.3l8.3 0.3M595.6 236.2l8.3 0.3M595.4 231.9l8.3 0.2M595.2 227.6l8.2 0.2M594.9 223l8.3 0.5M603 219l8.3 0.5"/><path stroke="#bfff40" d="M603.4 227.8l8.1 -4.1l8.1 -4.1M603.7 232.1l8.1 -4.1M595.8 240.6l8.1 -4.1l8.1 -4.2M596 245.2l8.1 -4.3M596.3 249.8l8.1 -4.4M596.5 254.7l8.1 -4.6M596.7 259.7l8.1 -4.7M588.9 268.7l8.1 -4.9M589.1 272.7l8.1 -4.7M581.2 281.5l8.1 -4.7M581.5 286.1l8.1 -4.7M581.7 290.7l8.1 -4.7M581.9 295.3l8.1 -4.9M574.1 305.1l8.1 -5.1M574.3 309.3l8.1 -5.1M574.5 313.4l8.1 -5.2M566.7 322.9l8.1 -5.4M566.9 327.7l8.1 -5.5M567.1 332.6l8.1 -5.6M567.4 337.7l8 -5.7M567.1 332.6l8.3 -0.6M566.9 327.7l8.3 -0.7M566.7 322.9l8.3 -0.7M574.5 313.4l8.3 -1.2M574.3 309.3l8.3 -1.1M574.1 305.1l8.3 -0.9M581.9 295.3l8.3 -0.4M581.7 290.7l8.3 -0.3M581.5 286.1l8.3 -0.1M581.2 281.5l8.4 -0.1M589.1 272.7l8.3 -0.5M588.9 268.7l8.3 -0.7M588.6 264.3l8.4 -0.5M596.5 254.7l8.3 0.3M596.3 249.8l8.3 0.3M596 245.2l8.4 0.2M595.8 240.6l8.3 0.3M603.9 236.5l8.3 0.2M603.7 232.1l8.3 0.2M603.4 227.8l8.4 0.2M603.2 223.5l8.3 0.2M611.3 219.5l8.3 0.1"/><path stroke="#cfff30" d="M611.8 228l8 -4.2l8.1 -4.1M612 232.3l8 -4.2M604.1 240.9l8.1 -4.2l8.1 -4.2M604.4 245.4l8 -4.4M604.6 250.1l8.1 -4.5M604.8 255l8.1 -4.7M597 263.8l8 -4.7M597.2 268l8 -4.9M589.3 276.8l8.1 -4.6l8.1 -4.9M589.6 281.4l8 -4.7M589.8 286l8 -4.7M590 290.4l8.1 -4.8M582.2 300l8 -5.1M582.4 304.2l8 -5.2M582.6 308.2l8.1 -5.3M574.8 317.5l8 -5.3M575 322.2l8 -5.5M575.2 327l8.1 -5.5M575.4 332l8.1 -5.6M575.2 327l8.3 -0.6M575 322.2l8.3 -0.7M574.8 317.5l8.2 -0.8M582.4 304.2l8.3 -1.3M582.2 300l8.2 -1M590 290.4l8.3 -0.4M589.8 286l8.3 -0.4M589.6 281.4l8.2 -0.1M589.3 276.8l8.3 -0.1M597.2 268l8.3 -0.7M597 263.8l8.2 -0.7M596.7 259.7l8.3 -0.6M604.8 255l8.3 -0.7M604.6 250.1l8.3 0.2M604.4 245.4l8.3 0.2M604.1 240.9l8.3 0.1M612.2 236.7l8.3 0.1M612 232.3l8.3 0.2M611.8 228l8.2 0.1M611.5 223.7l8.3 0.1M619.6 219.6l8.3 0.1"/><path stroke="#dfff20" d="M620 228.1l8.1 -4.2l8.1 -4.1M620.3 232.5l8 -4.3M612.4 241l8.1 -4.2l8.1 -4.3M612.7 245.6l8 -4.4M612.9 250.3l8.1 -4.6M605 259.1l8.1 -4.8M605.2 263.1l8.1 -4.8M605.5 267.3l8.1 -4.9M597.6 276.7l8.1 -4.7M597.8 281.3l8.1 -4.8M598.1 285.6l8.1 -4.8M590.2 294.9l8.1 -4.9l8.1 -4.9M590.4 299l8.1 -5.1M590.7 302.9l8.1 -5.2M582.8 312.2l8.1 -5.3M583 316.7l8.1 -5.3M583.3 321.5l8.1 -5.5M583.5 326.4l8.1 -5.6M583.3 321.5l8.3 -0.7M583 316.7l8.4 -0.7M582.8 312.2l8.3 -0.8M582.6 308.2l8.3 -1.3M590.4 299l8.4 -1.3M590.2 294.9l8.3 -1M598.1 285.6l8.3 -0.5M597.8 281.3l8.4 -0.5M597.6 276.7l8.3 -0.2M597.4 272.2l8.3 -0.2M605.5 267.3l8.3 -0.2M605.2 263.1l8.4 -0.7M605 259.1l8.3 -0.8M612.9 250.3l8.3 -0.8M612.7 245.6l8.3 0.1M612.4 241l8.3 0.2M620.3 232.5l8.3 0M620 228.1l8.3 0.1M619.8 223.8l8.3 0.1M627.9 219.7l8.3 0.1"/><path stroke="#efff10" d="M628.3 228.2l8.1 -4.2M628.6 232.5l8 -4.3M620.7 241.2l8.1 -4.3l8.1 -4.4M621 245.7l8 -4.4M613.1 254.3l8.1 -4.8l8 -4.6M613.3 258.3l8.1 -4.9M613.6 262.4l8 -4.9M605.7 272l8.1 -4.9M605.9 276.5l8.1 -4.7M606.2 280.8l8 -4.8M606.4 285.1l8 -4.8M598.5 293.9l8.1 -5M598.8 297.7l8 -5.2M590.9 306.9l8.1 -5.3M591.1 311.4l8.1 -5.4M591.4 316l8 -5.5M591.6 320.8l8 -5.6M591.4 316l8.2 -0.8M591.1 311.4l8.3 -0.9M590.9 306.9l8.3 -0.9M590.7 302.9l8.3 -1.3M598.5 293.9l8.3 -1.4M598.3 290l8.3 -1.1M606.2 280.8l8.2 -0.5M605.9 276.5l8.3 -0.5M605.7 272l8.3 -0.2M613.6 262.4l8.2 -0.3M613.3 258.3l8.3 -0.8M613.1 254.3l8.3 -0.9M621 245.7l8.2 -0.8M620.7 241.2l8.3 0.1M620.5 236.8l8.3 0.1M628.6 232.5l8.3 0M628.3 228.2l8.3 0M628.1 223.9l8.3 0.1M636.2 219.8l8.3 0"/><path stroke="#ffff00" d="M636.4 224l8.1 -4.2M636.6 228.2l8.1 -4.3M636.9 232.5l8.1 -4.3M629 241.3l8.1 -4.4l8.1 -4.3M629.2 244.9l8.1 -4.5M621.4 253.4l8.1 -4.8M621.6 257.5l8.1 -4.9M613.8 267.1l8 -5l8.1 -5M614 271.8l8.1 -5M614.2 276l8.1 -4.8M614.4 280.3l8.1 -4.9M606.6 288.9l8.1 -4.9M606.8 292.5l8.1 -5.1M599 301.6l8.1 -5.3M599.2 306l8.1 -5.4M599.4 310.5l8.1 -5.4M599.2 306l8.3 -0.9M599 301.6l8.3 -1M598.8 297.7l8.3 -1.4M606.6 288.9l8.3 -1.5M606.4 285.1l8.3 -1.1M614.2 276l8.3 -0.6M614 271.8l8.3 -0.6M613.8 267.1l8.3 -0.3M621.6 257.5l8.3 -0.4M621.4 253.4l8.3 -0.8M621.2 249.5l8.3 -0.9M629 241.3l8.3 -0.9M628.8 236.9l8.3 0M636.9 232.5l8.3 0.1M636.6 228.2l8.4 0M636.4 224l8.3 -0.1M644.5 219.8l8.3 -0.1"/><path stroke="#ffef00" d="M644.7 223.9l8.1 -4.2M645 228.2l8 -4.3M645.2 232.6l8 -4.4M637.3 240.4l8.1 -4.5M629.5 248.6l8.1 -4.7M629.7 252.6l8.1 -5M629.9 257.1l8.1 -5M622.1 266.8l8.1 -5M622.3 271.2l8.1 -5M622.5 275.4l8.1 -4.8M614.7 284l8.1 -5M614.9 287.4l8.1 -5M607.1 296.3l8 -5.3M607.3 300.6l8.1 -5.3M599.6 315.2l8.1 -5.5M599.4 310.5l8.3 -0.8M607.3 300.6l8.3 -0.9M607.1 296.3l8.3 -1M606.8 292.5l8.3 -1.5M614.7 284l8.3 -1.6M614.4 280.3l8.4 -1.3M622.3 271.2l8.3 -0.6M622.1 266.8l8.3 -0.6M621.8 262.1l8.4 -0.3M629.7 252.6l8.3 -0.5M629.5 248.6l8.3 -1M629.2 244.9l8.4 -1M637.3 240.4l8.3 -1.1M637.1 236.9l8.3 -1M645 228.2l8.2 0M644.7 223.9l8.3 0"/><path stroke="#ffdf00" d="M653 223.9l8.1 -4.4M653.2 228.2l8.1 -4.4M645.4 235.9l8.1 -4.4M637.6 243.9l8 -4.6l8.1 -4.5M637.8 247.6l8 -4.7M638 252.1l8.1 -4.9M630.2 261.8l8 -5M630.4 266.2l8 -5.1M630.6 270.6l8.1 -5.1M622.8 279l8 -4.9M623 282.4l8.1 -5M615.1 291l8.1 -5.1M615.4 295.3l8 -5.4M607.5 305.1l8.1 -5.4M607.7 309.7l8.1 -5.5M607.5 305.1l8.3 -0.9M615.1 291l8.3 -1.1M614.9 287.4l8.3 -1.5M622.8 279l8.3 -1.6M622.5 275.4l8.3 -1.3M630.6 270.6l8.3 -1.4M630.4 266.2l8.3 -0.7M630.2 261.8l8.2 -0.7M629.9 257.1l8.3 -0.3M637.8 247.6l8.3 -0.4M637.6 243.9l8.2 -1M645.4 235.9l8.3 -1.1M645.2 232.6l8.3 -1.1M653.2 228.2l8.4 -1.2M653 223.9l8.3 -0.1M652.8 219.7l8.3 -0.2"/><path stroke="#ffcf00" d="M661.3 223.8l8.1 -4.4M653.5 231.5l8.1 -4.5l8 -4.5M653.7 234.8l8.1 -4.6M645.8 242.9l8.1 -4.7M646.1 247.2l8.1 -4.8M638.2 256.8l8.1 -5.1M638.4 261.1l8.1 -5.1M638.7 265.5l8.1 -5.2M630.8 274.1l8.1 -4.9M631.1 277.4l8 -4.9M623.2 285.9l8.1 -5.1M623.4 289.9l8.1 -5.2M615.6 299.7l8 -5.5M615.8 304.2l8.1 -5.5M615.6 299.7l8.3 -1M615.4 295.3l8.2 -1.1M623.2 285.9l8.3 -1.2M623 282.4l8.3 -1.6M630.8 274.1l8.3 -1.6M638.7 265.5l8.3 -1.4M638.4 261.1l8.4 -0.8M638.2 256.8l8.3 -0.8M638 252.1l8.3 -0.4M645.8 242.9l8.4 -0.5M645.6 239.3l8.3 -1.1M653.5 231.5l8.3 -1.3M661.3 223.8l8.3 -1.3M661.1 219.5l8.3 -0.1"/><path stroke="#ffbf00" d="M669.6 222.5l8.1 -4.4M661.8 230.2l8 -4.5M653.9 238.2l8.1 -4.6M654.2 242.4l8 -4.7M646.3 251.7l8.1 -5M646.5 256l8.1 -5.1M646.8 260.3l8 -5.1M638.9 269.2l8.1 -5.1M639.1 272.5l8.1 -5M631.3 280.8l8.1 -5M631.5 284.7l8.1 -5.1M623.6 294.2l8.1 -5.4M623.9 298.7l8.1 -5.5M623.6 294.2l8.4 -1M623.4 289.9l8.3 -1.1M631.3 280.8l8.3 -1.2M631.1 277.4l8.3 -1.6M638.9 269.2l8.3 -1.7M646.5 256l8.3 -0.8M646.3 251.7l8.3 -0.8M646.1 247.2l8.3 -0.5M654.2 242.4l8.2 -0.6M653.9 238.2l8.3 -0.5M653.7 234.8l8.3 -1.2M661.8 230.2l8.3 -1.2M661.6 227l8.2 -1.3M669.4 219.4l8.3 -1.3"/><path stroke="#ffaf00" d="M669.8 225.7l8.1 -4.5M662 233.6l8.1 -4.6M662.2 237.7l8.1 -4.7M654.4 246.7l8 -4.9M654.6 250.9l8.1 -5M654.8 255.2l8.1 -5.2M647 264.1l8 -5.3M647.2 267.5l8.1 -5.2M639.4 275.8l8 -5.1M639.6 279.6l8 -5.2M631.7 288.8l8.1 -5.3M632 293.2l8 -5.5M631.7 288.8l8.3 -1.1M631.5 284.7l8.3 -1.2M639.4 275.8l8.2 -1.4M639.1 272.5l8.3 -1.8M647 264.1l8.3 -1.8M646.8 260.3l8.2 -1.5M654.6 250.9l8.3 -0.9M654.4 246.7l8.3 -0.8M662.2 237.7l8.3 -0.6M662 233.6l8.3 -0.6M669.8 225.7l8.4 -1.3M669.6 222.5l8.3 -1.3M677.7 218.1l8.3 -1.5"/><path stroke="#ff9f00" d="M677.9 221.2l8.1 -4.6M670.1 229l8.1 -4.6l8 -4.6M670.3 233l8.1 -4.6M662.4 241.8l8.1 -4.7l8.1 -4.7M662.7 245.9l8.1 -5M662.9 250l8.1 -5.1M655 258.8l8.1 -5.2M655.3 262.3l8.1 -5.4M647.4 270.7l8.1 -5.1M639.8 283.5l8.1 -5.2M640 287.7l8.1 -5.3M639.8 283.5l8.3 -1.1M639.6 279.6l8.3 -1.3M647.4 270.7l8.3 -1.4M647.2 267.5l8.3 -1.9M655 258.8l8.4 -1.9M654.8 255.2l8.3 -1.6M662.7 245.9l8.3 -1M662.4 241.8l8.4 -0.9M670.3 233l8.3 -0.6M670.1 229l8.3 -0.6M677.9 221.2l8.3 -1.4"/><path stroke="#ff8f00" d="M686.2 219.8l8.1 -4.6M678.4 228.4l8 -4.7M678.6 232.4l8.1 -4.7M670.8 240.9l8 -4.8M671 244.9l8 -5.1M663.1 253.6l8.1 -5.3M655.5 265.6l8.1 -5.2M647.6 274.4l8.1 -5.1M647.9 278.3l8.1 -5.1M648.1 282.4l8.1 -5.3M647.9 278.3l8.3 -1.2M647.6 274.4l8.4 -1.2M655.5 265.6l8.3 -1.4M655.3 262.3l8.3 -1.9M663.1 253.6l8.3 -2M662.9 250l8.3 -1.7M670.8 240.9l8.2 -1.1M670.5 237.1l8.3 -1M678.4 228.4l8.3 -0.7M678.2 224.4l8.2 -0.7M686 216.6l8.3 -1.4"/><path stroke="#ff8000" d="M686.4 223.7l8.1 -4.6M686.7 227.7l8.1 -4.7M678.8 236.1l8.1 -4.7M679 239.8l8.1 -4.8M671.2 248.3l8.1 -5.2M663.4 256.9l8 -5.3M663.6 260.4l8.1 -5.5M655.7 269.3l8.1 -5.1M656 273.2l8 -5.2M656.2 277.1l8 -5.2M656 273.2l8.2 -1.3M655.7 269.3l8.3 -1.3M663.6 260.4l8.3 -1.5M663.4 256.9l8.3 -2M671.2 248.3l8.3 -2M671 244.9l8.3 -1.8M678.8 236.1l8.3 -1.1M678.6 232.4l8.3 -1M686.7 227.7l8.3 -1.1M686.4 223.7l8.4 -0.7M686.2 219.8l8.3 -0.7M694.3 215.2l8.3 -0.8"/><path stroke="#ff7000" d="M694.5 219.1l8.1 -4.7M694.8 223l8 -4.7M686.9 231.4l8.1 -4.8M687.1 235l8.1 -4.8M679.3 243.1l8.1 -5.1M671.4 251.6l8.1 -5.3M671.7 254.9l8 -5.4M663.8 264.2l8.1 -5.3M664 268l8.1 -5.2M664.2 271.9l8.1 -5.2M664 268l8.3 -1.3M663.8 264.2l8.3 -1.4M671.7 254.9l8.3 -1.5M671.4 251.6l8.3 -2.1M679.3 243.1l8.3 -2.2M679 239.8l8.4 -1.8M686.9 231.4l8.3 -1.2M694.8 223l8.2 -1.2M694.5 219.1l8.3 -0.8"/><path stroke="#ff6000" d="M702.8 218.3l8.1 -4.7M695 226.6l8 -4.8M695.2 230.2l8.1 -4.9M687.4 238l8 -4.9M679.5 246.3l8.1 -5.4M679.7 249.5l8.1 -5.4M671.9 258.9l8.1 -5.5M672.1 262.8l8.1 -5.4M672.1 262.8l8.3 -1.4M671.9 258.9l8.3 -1.5M679.5 246.3l8.3 -2.2M687.4 238l8.3 -2.2M687.1 235l8.3 -1.9M695 226.6l8.3 -1.3M702.8 218.3l8.3 -1.2M702.6 214.4l8.3 -0.8"/><path stroke="#ff5000" d="M703 221.8l8.1 -4.7l8.1 -4.8M703.3 225.3l8 -4.8M695.4 233.1l8.1 -4.9M687.6 240.9l8.1 -5.1M687.8 244.1l8.1 -5.4M680 253.4l8 -5.5M680.2 257.4l8 -5.6M672.3 266.7l8.1 -5.3M680.2 257.4l8.3 -1.4M680 253.4l8.2 -1.6M679.7 249.5l8.3 -1.6M687.6 240.9l8.3 -2.2M695.4 233.1l8.3 -2.3M695.2 230.2l8.3 -2M703 221.8l8.3 -1.3M710.9 213.6l8.3 -1.3"/><path stroke="#ff4000" d="M711.3 220.5l8.1 -4.8M703.5 228.2l8.1 -5M695.7 235.8l8 -5M688 247.9l8.1 -5.5M688.2 251.8l8.1 -5.5M680.4 261.4l8.1 -5.4M688 247.9l8.3 -1.6M687.8 244.1l8.3 -1.7M695.7 235.8l8.3 -2.4M703.5 228.2l8.3 -2.4M703.3 225.3l8.3 -2.1M711.3 220.5l8.3 -2.2M711.1 217.1l8.3 -1.4"/><path stroke="#ff3000" d="M719.4 215.7l8.1 -4.9M711.6 223.2l8 -4.9M703.7 230.8l8.1 -5M695.9 238.7l8.1 -5.3M696.1 242.4l8.1 -5.5M688.5 256l8.1 -5.7M688.2 251.8l8.4 -1.5M696.1 242.4l8.3 -1.7M695.9 238.7l8.3 -1.8M703.7 230.8l8.3 -2.5M711.6 223.2l8.3 -2.4M719.4 215.7l8.3 -2.3M719.2 212.3l8.3 -1.5"/><path stroke="#ff2000" d="M719.6 218.3l8.1 -4.9M711.8 225.8l8.1 -5M704 233.4l8 -5.1M704.2 236.9l8 -5.3M696.3 246.3l8.1 -5.6M696.6 250.3l8 -5.6M696.3 246.3l8.3 -1.6M704 233.4l8.2 -1.8M711.8 225.8l8.3 -2.6M719.6 218.3l8.4 -2.5M727.5 210.8l8.3 -2.3"/><path stroke="#ff1000" d="M727.7 213.4l8.1 -4.9M719.9 220.8l8.1 -5M712 228.3l8.1 -5.1M712.2 231.6l8.1 -5.2M704.4 240.7l8.1 -5.6M704.6 244.7l8.1 -5.7M704.4 240.7l8.3 -1.7M704.2 236.9l8.3 -1.8M712 228.3l8.3 -1.9M719.9 220.8l8.3 -2.6M727.7 213.4l8.3 -2.6"/><path stroke="#ff0000" d="M728 215.8l8 -5M720.1 223.2l8.1 -5M720.3 226.4l8.1 -5.2M712.5 235.1l8.1 -5.4M712.7 239l8.1 -5.6M712.5 235.1l8.3 -1.7M712.2 231.6l8.4 -1.9M720.1 223.2l8.3 -2M728 215.8l8.2 -2.7M735.8 208.5l8.3 -2.7"/><path stroke="#ef0000" d="M736 210.8l8.1 -5M728.2 218.2l8 -5.1M728.4 221.2l8.1 -5.1M720.6 229.7l8 -5.2M720.8 233.4l8 -5.5M720.6 229.7l8.2 -1.8M720.3 226.4l8.3 -1.9M728.2 218.2l8.3 -2.1M736 210.8l8.3 -2.8"/><path stroke="#df0000" d="M736.2 213.1l8.1 -5.1M736.5 216.1l8.1 -5.2M728.6 224.5l8.1 -5.2M728.6 224.5l8.3 -1.9M728.4 221.2l8.3 -1.9M736.2 213.1l8.4 -2.2M744.1 205.8l8.3 -2.9"/><path stroke="#cf0000" d="M744.3 208l8.1 -5.1M744.6 210.9l8 -5.1M736.7 219.3l8.1 -5.2M728.8 227.9l8.1 -5.3M736.7 219.3l8.3 -1.9M736.5 216.1l8.3 -2M744.3 208l8.3 -2.2"/><path stroke="#bf0000" d="M752.6 205.8l8.1 -5.2M744.8 214.1l8 -5.2M736.9 222.6l8.1 -5.2M744.8 214.1l8.3 -2M744.6 210.9l8.2 -2M752.4 202.9l8.3 -2.3"/><path stroke="#af0000" d="M752.8 208.9l8.1 -5.3M745 217.4l8.1 -5.3M752.8 208.9l8.4 -2.1M752.6 205.8l8.3 -2.2"/><path stroke="#9f0000" d="M760.9 203.6l8.1 -5.2M753.1 212.1l8.1 -5.3M760.7 200.6l8.3 -2.2"/><path stroke="#8f0000" d="M761.2 206.8l8 -5.3M760.9 203.6l8.3 -2.1"/><path stroke="#800000" d="M769.2 201.5l8.1 -5.3M769 198.4l8.3 -2.2"/></g>
<path d="M102.3 377.2L102.3 100.8" stroke="#000" stroke-width="1.7" fill="none"/>
<path d="M102.3 376.4L412.4 502M412.4 502L818.3 405.9M205.7 418.3L195.9 420.6M309 460.1L299.3 462.4M102.3 376.4L92.6 378.7M412.4 502L402.7 504.3M493.6 482.8L505 487.4M574.8 463.6L586.2 468.2M655.9 444.3L667.3 449M737.1 425.1L748.5 429.7M818.3 405.9L829.7 410.5M102.3 307.5L93 303.7M102.3 238.6L93 234.8M102.3 169.7L93 165.9M102.3 376.4L93 372.6M102.3 100.8L93 97" stroke="#000" stroke-width="1.7" fill="none" stroke-linecap="butt"/>
<text transform="translate(104.58 61) scale(1 1.03)" font-size="33">×10<tspan font-size="22.0" dy="-14.6">5</tspan></text>
<text transform="translate(44.2 105.2) scale(1 1.03)" font-size="33">2.5</text>
<text transform="translate(67.85 174.4) scale(1 1.03)" font-size="33">2</text>
<text transform="translate(42.6 244.7) scale(1 1.03)" font-size="33">1.5</text>
<text transform="translate(68.1 313.8) scale(1 1.03)" font-size="33">1</text>
<text transform="translate(45 376.3) scale(1 1.03)" font-size="33">0.5</text>
<text transform="translate(59.33 404.3) scale(1 1.03)" font-size="33">60</text>
<text transform="translate(152.43 446) scale(1 1.03)" font-size="33">50</text>
<text transform="translate(258.98 488.9) scale(1 1.03)" font-size="33">40</text>
<text transform="translate(366.88 531.8) scale(1 1.03)" font-size="33">30</text>
<text transform="translate(494.45 515.7) scale(1 1.03)" font-size="33">0.8</text>
<text transform="translate(592.71 495.9) scale(1 1.03)" font-size="33">1</text>
<text transform="translate(657.5 478.5) scale(1 1.03)" font-size="33">1.2</text>
<text transform="translate(737.55 458.7) scale(1 1.03)" font-size="33">1.4</text>
<text transform="translate(819.75 438.8) scale(1 1.03)" font-size="33">1.6</text>
<text transform="translate(27.2 271.43) rotate(-90) scale(1.03 1)" font-size="33">Load (N)</text>
<text transform="translate(22.4 539.9) scale(1 1.03)" font-size="33">Rotation speed (r/min)</text>
<text transform="translate(482.62 548.5) scale(1 1.03)" font-size="33">Cross-swing speed (m/min)</text>
<text x="364.98" y="602.6" font-size="43.5">(a)</text>
<path d="M1382 480.1L1078.6 355.8M1461.5 461.1L1157.9 336.6M1541 442.1L1237.1 317.5M1620.5 423.1L1316.4 298.3M1700 404.1L1395.6 279.1M999.4 375L1395.6 279.1M1100.4 416.4L1497.1 320.8M1201.5 457.7L1598.5 362.4M1078.6 81.8L1078.6 355.8M1157.9 62.6L1157.9 336.6M1237.1 43.5L1237.1 317.5M1316.4 24.3L1316.4 298.3M1395.6 5.1L1395.6 279.1M999.4 306.5L1395.6 210.6M999.4 238L1395.6 142.1M999.4 169.5L1395.6 73.6M999.4 101L1395.6 5.1M1497.1 46.8L1497.1 320.8M1598.5 88.4L1598.5 362.4M1700 130.1L1700 404.1M1395.6 210.6L1700 335.6M1395.6 142.1L1700 267.1M1395.6 73.6L1700 198.6M1395.6 5.1L1700 130.1" stroke="#000" stroke-width="1.65" stroke-dasharray="4.8 3.5" fill="none"/>
<polygon points="1042.2,118.2 1050.3,125.6 1058.4,133.1 1066.5,140.5 1074.6,148 1082.7,154.6 1090.8,161.1 1098.9,167.6 1107,174.1 1115.1,181 1123.2,188 1131.3,195 1139.4,202.1 1147.5,208.7 1155.6,215.2 1163.7,221.7 1171.8,228.1 1179.9,234.6 1188,241.1 1196.2,247.6 1204.3,254 1212.4,260.5 1220.5,267 1228.6,273.5 1236.7,280 1244.8,286.7 1252.9,293.7 1261,300.7 1269.1,307.8 1277.2,314.7 1285.3,321.1 1293.4,327.6 1301.5,334.1 1309.6,340.6 1317.7,347.5 1325.8,354.4 1333.9,361.3 1342,368.2 1349.9,369.9 1357.9,371.6 1365.8,373.3 1373.7,374.9 1381.7,376 1389.6,376.7 1397.5,377.4 1405.4,378.2 1413.4,378.9 1421.3,379.1 1429.2,379.1 1437.2,379.2 1445.1,379.3 1453,379.3 1461,379.3 1468.9,379 1476.8,378.6 1484.7,378.3 1492.7,377.9 1500.6,377.3 1508.5,376.5 1516.5,375.6 1524.4,374.8 1532.3,374 1540.2,373.2 1548.2,372.3 1556.1,371.5 1564,370.7 1572,369.9 1579.9,369.2 1587.8,368.4 1595.8,367.6 1603.7,366.8 1611.6,365.8 1619.6,364.9 1627.5,363.9 1635.4,362.9 1643.3,361.9 1651.3,361 1659.2,360 1651.1,355.4 1643,350.9 1634.9,346.3 1626.8,341.8 1618.7,337.2 1610.6,332.6 1602.5,327.7 1594.4,322.8 1586.3,317.9 1578.2,313 1570.1,308.1 1562,303.2 1553.9,298.1 1545.8,293.1 1537.7,288 1529.6,283 1521.5,277.9 1513.4,272.8 1505.2,267.6 1497.1,262.4 1489,257.2 1480.9,252 1472.8,246.7 1464.7,241.5 1456.6,236.2 1448.5,230.8 1440.4,225.4 1432.3,220.1 1424.2,214.7 1416.1,209.3 1408,204.3 1399.9,200 1391.8,195.7 1383.7,191.3 1375.6,187 1367.5,182.7 1359.4,178.4 1351.5,178.2 1343.5,178 1335.6,177.7 1327.7,177.6 1319.8,177.6 1311.8,177.6 1303.9,177.6 1296,177.6 1288,177.6 1280.1,177.4 1272.2,177.3 1264.2,177.1 1256.3,176.9 1248.4,176.7 1240.5,176.4 1232.5,175.9 1224.6,175.4 1216.7,174.8 1208.7,174.3 1200.8,173.3 1192.9,172.2 1184.9,171.2 1177,170.1 1169.1,168.6 1161.2,167.1 1153.2,165.5 1145.3,163.9 1137.4,161.7 1129.4,159 1121.5,156.4 1113.6,153.7 1105.6,150.7 1097.7,147 1089.8,143.3 1081.9,139.6 1073.9,135.7 1066,131.3 1058.1,127 1050.1,122.6" fill="#fff" stroke="none"/>
<g fill="none" stroke-width="1.7" stroke-linejoin="round"><path stroke="#8f0000" d="M1042.2 118.2l7.9 4.4"/><path stroke="#af0000" d="M1050.1 122.6l8 4.4M1058.4 133.1l7.9 4.2M1058.4 133.1l8.1 7.4"/><path stroke="#cf0000" d="M1058.1 127l7.9 4.3M1066.3 137.3l8 4.1M1066.5 140.5l7.9 4.1M1074.6 148l8.1 6.6M1066.3 137.3l8.1 7.3"/><path stroke="#ef0000" d="M1066 131.3l7.9 4.4M1074.3 141.4l7.9 4.2M1082.7 154.6l7.9 3.9M1082.7 154.6l8.1 6.5M1082.5 151.9l8.1 6.6M1074.3 141.4l8.1 7.3"/><path stroke="#ff1000" d="M1073.9 135.7l8 3.9M1082.2 145.6l7.9 4.2M1090.6 158.5l8 3.8M1098.9 167.6l7.9 3.7M1098.9 167.6l8.1 6.5M1098.7 164.9l8.1 6.4M1090.5 155.9l8.1 6.4M1082.2 145.6l8.1 7.1"/><path stroke="#ff3000" d="M1081.9 139.6l7.9 3.7M1090.1 149.8l8 3.6M1098.6 162.3l7.9 3.9M1106.8 171.3l8 3.7M1115.1 181l8 3.6M1115.1 181l8.1 7M1106.7 168.7l8.1 6.3M1098.4 159.9l8.1 6.3M1090.1 149.8l8.1 7M1090 146.5l8.1 6.9"/><path stroke="#ff4000" d="M1089.8 143.3l7.9 3.7M1090 146.5l7.9 3.6M1098.2 156.8l8 3.5M1098.4 159.9l7.9 3.9M1106.7 168.7l7.9 3.8M1115 177.7l7.9 3.7M1123.2 188l8 3.6M1123.2 188l8.1 7M1115 177.7l8.1 6.9M1114.8 175l8.1 6.4M1106.5 166.2l8.1 6.3M1098.2 156.8l8.1 7M1089.8 143.3l8.1 6.8"/><path stroke="#ff6000" d="M1097.7 147l7.9 3.7M1106.2 160.3l7.9 3.4M1114.4 170.1l8 3.3M1114.6 172.5l7.9 3.8M1122.9 181.4l7.9 3.7M1131.2 191.6l7.9 3.5M1131.3 195l8 3.5M1131.2 191.6l8.1 6.9M1122.7 178.8l8.1 6.3M1114.4 170.1l8.1 6.2M1106.2 160.3l8.1 6.9M1106 156.9l8.1 6.8M1097.7 147l8.1 6.7"/><path stroke="#ff8000" d="M1105.6 150.7l8 3M1113.9 160.4l7.9 3.4M1114.1 163.7l7.9 3.4M1122.4 173.4l7.9 3.2M1130.6 182.5l8 3.2M1130.8 185.1l7.9 3.7M1139.1 195.1l7.9 3.5M1147.5 208.7l8 3.4M1147.5 208.7l8.1 6.5M1147.4 205.5l8.1 6.6M1139.1 195.1l8.1 6.9M1138.9 191.8l8.1 6.8M1130.6 182.5l8.1 6.3M1122.4 173.4l8.1 6.1M1122.2 170.5l8.1 6.1M1113.9 160.4l8.1 6.7M1105.6 150.7l8.1 6.6"/><path stroke="#ff8f00" d="M1113.6 153.7l7.9 2.7M1113.7 157.3l8 2.9M1122 167.1l7.9 3.3M1122.2 170.5l7.9 3.2M1130.5 179.5l7.9 3.1M1138.7 188.8l8 3.1M1138.9 191.8l7.9 3.6M1147.2 202l7.9 3.5M1147.4 205.5l7.9 3.4M1155.6 215.2l8 3.3M1155.6 215.2l8.1 6.5M1155.5 212.1l8.1 6.4M1147.2 202l8.1 6.9M1147 198.6l8.1 6.9M1138.7 188.8l8.1 6.6M1130.5 179.5l8.1 6.2M1130.3 176.6l8.1 6M1122 167.1l8.1 6.6M1113.7 157.3l8.1 6.5M1113.6 153.7l8.1 6.5"/><path stroke="#ffaf00" d="M1121.5 156.4l7.9 2.6M1121.7 160.2l7.9 2.6M1129.9 170.4l8 2.8M1130.1 173.7l8 3.3M1138.2 179.7l8 3.2M1138.4 182.6l7.9 3M1146.7 191.9l7.9 2.9M1154.9 202.2l8 3M1155.1 205.5l7.9 3.5M1163.4 215.4l7.9 3.4M1163.6 218.5l7.9 3.3M1171.8 228.1l8 3.2M1171.8 228.1l8.1 6.5M1171.7 224.9l8.1 6.4M1163.4 215.4l8.1 6.4M1155.1 205.5l8.1 6.8M1154.9 202.2l8.1 6.8M1146.7 191.9l8.1 6.6M1146.5 188.7l8.1 6.1M1138.2 179.7l8.1 5.9M1129.9 170.4l8.2 6.6M1129.8 166.7l8.1 6.5M1121.5 156.4l8.1 6.4"/><path stroke="#ffbf00" d="M1129.4 159l8 2.7M1129.6 162.8l7.9 2.5M1129.8 166.7l7.9 2.4M1138.1 177l7.9 2.7M1146.3 185.6l8 3.1M1146.5 188.7l7.9 3M1154.6 194.8l7.9 3M1154.8 198.5l7.9 2.8M1163.2 212.3l8 3.4M1171.5 221.8l7.9 3.3M1171.7 224.9l7.9 3.2M1179.9 234.6l8 3.1M1179.9 234.6l8.1 6.5M1179.8 231.3l8.1 6.4M1171.5 221.8l8.1 6.3M1163.2 212.3l8.1 6.5M1163 209l8.2 6.7M1154.8 198.5l8.1 6.7M1154.6 194.8l8.1 6.5M1146.3 185.6l8.1 6.1M1138.1 177l8.1 5.9M1137.9 173.2l8.1 6.5M1129.6 162.8l8.1 6.3M1129.4 159l8.1 6.3"/><path stroke="#ffdf00" d="M1137.4 161.7l7.9 2.2M1145.6 171.6l8 2.4M1145.8 175.5l7.9 2.4M1146 179.7l7.9 2.2M1154.1 185.5l7.9 2.2M1154.3 188.7l7.9 2.5M1162.5 197.8l8 2.9M1171 211.9l7.9 2.7M1171.2 215.7l7.9 2.9M1179.4 225.1l8 3.3M1187.7 234.5l7.9 3.2M1187.9 237.7l7.9 3.2M1196.2 247.6l7.9 3M1196.2 247.6l8.1 6.4M1196 244.1l8.1 6.5M1187.7 234.5l8.1 6.4M1179.4 225.1l8.1 6.3M1179.3 222.1l8.1 6.3M1171 211.9l8.1 6.7M1170.8 208l8.1 6.6M1162.5 197.8l8.1 6.4M1154.3 188.7l8.1 6l8.1 6M1154.1 185.5l8.1 5.7M1145.8 175.5l8.1 6.4M1145.6 171.6l8.1 6.3M1137.4 161.7l8.1 6.1"/><path stroke="#ffef00" d="M1145.3 163.9l7.9 1.6M1145.5 167.8l7.9 2.2M1153.7 177.9l8 2.3M1153.9 181.9l7.9 2.3M1162.2 191.2l7.9 2.1M1162.4 194.7l7.9 2.4M1170.6 204.2l8 2.9M1170.8 208l7.9 2.7M1179.1 218.6l7.9 2.6M1179.3 222.1l7.9 2.8M1187.5 231.4l8 3.2M1195.8 240.9l7.9 3.1M1196 244.1l7.9 3.1M1204.3 254l7.9 3M1204.3 254l8.1 6.5M1204.1 250.6l8.1 6.4M1195.8 240.9l8.1 6.3M1187.5 231.4l8.1 6.3M1187.4 228.4l8.1 6.2M1179.1 218.6l8.1 6.3M1178.9 214.6l8.1 6.6M1170.6 204.2l8.1 6.5M1170.5 200.7l8.1 6.4M1162.2 191.2l8.1 5.9M1153.9 181.9l8.1 5.8l8.1 5.6M1153.7 177.9l8.1 6.3M1145.5 167.8l8.1 6.2M1145.3 163.9l8.1 6.1"/><path stroke="#ffff00" d="M1153.2 165.5l8 1.6M1153.4 170l7.9 1.5M1153.6 174l7.9 2M1161.8 184.2l8 2.2M1162 187.7l7.9 2.1M1170.1 193.3l7.9 2.1M1170.3 197.1l7.9 2.1M1170.5 200.7l7.9 2.4M1178.7 210.7l8 2.8M1178.9 214.6l7.9 2.7M1187.2 224.9l7.9 2.6M1187.4 228.4l7.9 2.7M1195.6 237.7l8 3.1M1203.9 247.2l7.9 3.1M1204.1 250.6l7.9 3M1212.4 260.5l7.9 2.9M1212.4 260.5l8.1 6.5M1212.2 257l8.1 6.4M1203.9 247.2l8.1 6.4M1195.6 237.7l8.1 6.3M1195.5 234.6l8.1 6.2M1187.2 224.9l8.1 6.2M1187 221.2l8.1 6.3M1178.7 210.7l8.1 6.6M1178.6 207.1l8.1 6.4M1170.3 197.1l8.1 6M1170.1 193.3l8.1 5.9M1161.8 184.2l8.1 5.6M1153.6 174l8.1 6.2M1153.4 170l8.1 6M1153.2 165.5l8.1 6"/><path stroke="#efff10" d="M1161.2 167.1l7.9 1.5M1161.3 171.5l8 1.5M1161.5 176l7.9 1.5M1161.7 180.2l7.9 1.9M1169.9 189.8l8 2.2M1178.2 199.2l7.9 2M1178.4 203.1l7.9 2M1178.6 207.1l7.9 2.3M1186.8 217.3l8 2.7M1187 221.2l7.9 2.6M1195.3 231.1l7.9 2.5M1195.5 234.6l7.9 2.7M1203.7 244l8 3.1M1212 253.6l7.9 3M1212.2 257l7.9 2.9M1220.5 267l7.9 2.8M1220.5 267l8.1 6.5M1220.3 263.4l8.1 6.4M1212 253.6l8.1 6.3M1203.7 244l8.1 6.3M1203.6 240.8l8.1 6.3M1195.3 231.1l8.1 6.2M1195.1 227.5l8.1 6.1M1186.8 217.3l8.1 6.5M1186.7 213.5l8.1 6.5M1178.4 203.1l8.1 6.3M1178.2 199.2l8.1 5.9M1169.9 189.8l8.1 5.6M1161.7 180.2l8.1 6.2l8.1 5.6M1161.5 176l8.1 6.1M1161.3 171.5l8.1 6M1161.2 167.1l8.1 5.9"/><path stroke="#cfff30" d="M1169.1 168.6l7.9 1.5M1177.2 174.5l7.9 1.4M1177.4 178.9l7.9 1.5M1177.5 183.5l8 1.4M1177.7 188.2l7.9 1.3M1185.8 193.8l7.9 1.2M1186 197.5l7.9 1.7M1186.1 201.2l8 2M1194.3 207.1l7.9 2M1194.4 211.4l8 1.9M1194.6 215.8l7.9 1.9M1194.8 220l7.9 2.2M1203 230l8 2.6M1203.2 233.6l7.9 2.5M1211.3 239.7l8 2.4M1211.5 243.5l7.9 2.3M1211.7 247.1l7.9 2.5M1219.8 253.3l7.9 2.5M1219.9 256.6l8 3M1228.2 266.3l7.9 2.8M1228.4 269.8l7.9 2.8M1236.7 280l7.9 2.7M1236.7 280l8.1 6.7M1236.5 276.2l8.1 6.5M1228.2 266.3l8.1 6.3M1219.9 256.6l8.1 6.3M1219.8 253.3l8.1 6.3M1211.5 243.5l8.1 6.1M1211.3 239.7l8.1 6.1M1203 230l8.1 6.1M1202.9 226.5l8.1 6.1M1194.6 215.8l8.1 6.4M1194.4 211.4l8.1 6.3M1194.3 207.1l8.1 6.2M1186 197.5l8.1 5.7M1177.7 188.2l8.1 5.6l8.1 5.4M1177.5 183.5l8.1 6M1177.4 178.9l8.1 6M1177.2 174.5l8.1 5.9M1177 170.1l8.1 5.8"/><path stroke="#bfff40" d="M1177 170.1l7.9 1.1M1185.1 175.9l7.9 1M1185.3 180.4l7.9 1.3M1185.5 184.9l7.9 1.3M1185.6 189.5l8 1.3M1193.7 195l8 1.3M1193.9 199.2l7.9 1.2M1194.1 203.2l7.9 1.7M1202.4 213.3l7.9 1.9M1202.5 217.7l8 1.9M1202.7 222.2l7.9 1.9M1202.9 226.5l7.9 2.2M1211.1 236.1l8 2.5M1219.4 245.8l8 2.4M1219.6 249.6l7.9 2.3M1227.9 259.6l7.9 2.4M1228 262.9l8 2.9M1236.3 272.6l7.9 2.9M1236.5 276.2l7.9 2.8M1244.8 286.7l7.9 2.6M1244.8 286.7l8.1 7M1236.3 272.6l8.1 6.4M1228 262.9l8.1 6.2M1227.9 259.6l8.1 6.2M1219.6 249.6l8.1 6.2M1219.4 245.8l8.1 6.1M1211.1 236.1l8.2 6M1211 232.6l8.1 6M1202.7 222.2l8.1 6.5M1202.5 217.7l8.1 6.4M1202.4 213.3l8.1 6.3M1194.1 203.2l8.1 5.9M1193.9 199.2l8.1 5.7M1185.6 189.5l8.1 5.5l8.1 5.4M1185.5 184.9l8.1 5.9M1185.3 180.4l8.1 5.8M1185.1 175.9l8.1 5.8M1184.9 171.2l8.1 5.7"/><path stroke="#afff50" d="M1184.9 171.2l8 1M1193 176.9l8 1M1193.2 181.7l7.9 0.9M1193.4 186.2l7.9 1.3M1193.6 190.8l7.9 1.3M1201.7 196.3l7.9 1.1M1201.8 200.4l8 1.2M1202 204.9l7.9 1.2M1202.2 209.1l7.9 1.6M1210.5 219.6l7.9 1.8M1210.6 224.1l8 1.7M1210.8 228.7l7.9 1.7M1211 232.6l7.9 2.1M1219.1 238.6l7.9 2.1M1219.3 242.1l7.9 2.5M1227.5 251.9l8 2.3M1227.7 255.8l7.9 2.3M1236 265.8l7.9 2.4M1236.1 269.1l8 2.9M1244.4 279l8 2.8M1244.6 282.7l7.9 2.7M1252.9 293.7l8.1 7M1244.6 282.7l8.1 6.6M1244.4 279l8.1 6.4M1236.1 269.1l8.1 6.4M1236 265.8l8.1 6.2M1227.7 255.8l8.1 6.2M1227.5 251.9l8.1 6.2M1219.3 242.1l8.1 6.1M1219.1 238.6l8.1 6M1210.8 228.7l8.1 6M1210.6 224.1l8.1 6.3M1210.5 219.6l8.1 6.2M1202.2 209.1l8.1 6.1l8.1 6.2M1202 204.9l8.1 5.8M1201.8 200.4l8.1 5.7M1193.6 190.8l8.1 5.5l8.1 5.3M1193.4 186.2l8.1 5.9M1193.2 181.7l8.1 5.8M1193 176.9l8.1 5.7M1192.9 172.2l8.1 5.7"/><path stroke="#9fff60" d="M1192.9 172.2l7.9 1.1l7.9 1M1201 177.9l7.9 0.9M1201.1 182.6l8 0.9M1201.3 187.5l7.9 0.8M1201.5 192.1l7.9 1.1M1209.6 197.4l7.9 1.1M1209.8 201.6l7.9 1.1M1209.9 206.1l8 1.1M1210.1 210.7l7.9 1.1M1210.3 215.2l7.9 1.6M1218.4 221.4l7.9 1.5M1218.6 225.8l7.9 1.8M1218.7 230.4l8 1.7M1218.9 234.7l7.9 1.7M1227.2 244.6l7.9 2M1227.4 248.2l7.9 2.4M1235.6 258.1l8 2.2M1235.8 262l7.9 2.2M1244.1 272l7.9 2.3M1244.2 275.5l8 2.8M1252.5 285.4l8 2.7M1252.7 289.3l7.9 2.6M1252.9 293.7l7.9 2.6M1252.7 289.3l8.1 7M1252.5 285.4l8.1 6.5M1244.2 275.5l8.2 6.3M1244.1 272l8.1 6.3M1235.8 262l8.1 6.2M1235.6 258.1l8.1 6.1M1227.4 248.2l8.1 6l8.1 6.1M1227.2 244.6l8.1 6M1218.9 234.7l8.1 6l8.1 5.9M1218.7 230.4l8.1 6M1218.6 225.8l8.1 6.3M1218.4 221.4l8.1 6.2M1210.1 210.7l8.1 6.1M1209.9 206.1l8.1 5.7M1209.8 201.6l8.1 5.6M1201.5 192.1l8.1 5.3l8.1 5.3M1201.3 187.5l8.1 5.7M1201.1 182.6l8.1 5.7M1201 177.9l8.1 5.6M1200.8 173.3l8.1 5.5"/><path stroke="#8fff70" d="M1208.7 174.3l8 0.5M1208.9 178.8l7.9 1M1209.1 183.5l7.9 0.9M1209.2 188.3l8 0.8M1209.4 193.2l8 0.8M1217.5 198.5l8 0.8M1217.7 202.7l7.9 1.1M1217.9 207.2l7.9 1.1M1218 211.8l8 1.2M1218.2 216.8l7.9 1.1M1226.5 227.6l7.9 1.5M1226.7 232.1l7.9 1.7M1226.8 236.4l8 1.7M1227 240.7l7.9 1.6M1235.1 246.6l7.9 1.6M1235.3 250.6l7.9 2M1235.5 254.2l7.9 2.3M1243.7 264.2l8 2.1M1243.9 268.2l7.9 2.1M1252.2 278.3l7.9 2.2M1252.4 281.8l7.9 2.7M1260.6 291.9l8 2.6M1260.8 296.3l7.9 2.5M1261 300.7l7.9 2.5M1261 300.7l8.1 7.1M1260.8 296.3l8.1 6.9M1260.6 291.9l8.1 6.9M1252.4 281.8l8.1 6.3M1252.2 278.3l8.1 6.2M1243.9 268.2l8.1 6.1l8.1 6.2M1243.7 264.2l8.1 6.1M1243.6 260.3l8.1 6M1235.3 250.6l8.1 5.9M1235.1 246.6l8.1 6M1226.8 236.4l8.1 5.9M1226.7 232.1l8.1 6M1226.5 227.6l8.1 6.2M1218.2 216.8l8.1 6.1M1218 211.8l8.1 6.1M1217.9 207.2l8.1 5.8M1217.7 202.7l8.1 5.6M1209.4 193.2l8.1 5.3l8.1 5.3M1209.2 188.3l8.2 5.7M1209.1 183.5l8.1 5.6M1208.9 178.8l8.1 5.6M1208.7 174.3l8.1 5.5"/><path stroke="#80ff80" d="M1216.7 174.8l7.9 0.6M1216.8 179.8l8 0.4M1217 184.4l7.9 0.9M1217.2 189.1l7.9 0.9M1217.4 194l7.9 0.8M1225.5 199.3l7.9 0.7M1225.6 203.8l8 0.6M1225.8 208.3l7.9 1M1226 213l7.9 1M1226.1 217.9l8 1.1M1226.3 222.9l7.9 1.1M1234.4 229.1l7.9 1M1234.6 233.8l7.9 1.4M1234.8 238.1l7.9 1.7M1234.9 242.3l8 1.6M1243.2 252.6l7.9 1.5M1243.4 256.5l7.9 2M1243.6 260.3l7.9 2.2M1251.7 266.3l7.9 2.2M1251.8 270.3l8 2.1M1252 274.3l7.9 2.1M1260.3 284.5l7.9 2.2M1260.5 288.1l7.9 2.7M1268.7 298.8l8 2.5M1268.9 303.2l7.9 2.5M1269.1 307.8l7.9 2.4M1269.1 307.8l8.1 6.9M1268.9 303.2l8.1 7M1268.7 298.8l8.1 6.9M1260.5 288.1l8.1 6.4M1260.3 284.5l8.1 6.3M1260.1 280.5l8.1 6.2M1251.8 270.3l8.1 6.1M1251.7 266.3l8.1 6.1M1243.4 256.5l8.1 6M1243.2 252.6l8.1 5.9M1234.9 242.3l8.1 5.9l8.1 5.9M1234.8 238.1l8.1 5.8M1234.6 233.8l8.1 6M1226.3 222.9l8.1 6.2l8.1 6.1M1226.1 217.9l8.1 6.1l8.1 6.1M1226 213l8.1 6M1225.8 208.3l8.1 5.7M1225.6 203.8l8.1 5.5M1217.4 194l8.1 5.3l8.1 5.1M1217.2 189.1l8.1 5.7l8.1 5.2M1217 184.4l8.1 5.6M1216.8 179.8l8.1 5.5M1216.7 174.8l8.1 5.4"/><path stroke="#70ff8f" d="M1224.6 175.4l7.9 0.5M1224.8 180.2l7.9 0.5M1224.9 185.3l8 0.4l7.9 0.3M1225.1 190l7.9 0.7l8 0.4M1225.3 194.8l7.9 0.7l7.9 0.7M1233.4 200l7.9 0.7M1233.6 204.4l7.9 0.7M1233.7 209.3l8 0.6M1233.9 214l7.9 1M1234.1 219l7.9 1M1234.2 224l8 1.1l7.9 0.9M1242.3 230.1l8 1M1242.5 235.2l8 1.1M1242.7 239.8l7.9 1.3M1242.9 243.9l7.9 1.6M1243 248.2l8 1.6M1251.1 254.1l8 1.5M1251.3 258.5l7.9 1.5M1251.5 262.5l7.9 1.9M1259.8 272.4l7.9 2.1M1259.9 276.4l8 2M1260.1 280.5l7.9 2M1268.2 286.7l7.9 1.9M1268.4 290.8l7.9 2.1M1268.6 294.5l7.9 2.7M1277 310.2l7.9 2.3M1277.2 314.7l7.9 2.3M1277.2 314.7l8.1 6.4M1277 310.2l8.1 6.8M1276.8 305.7l8.1 6.8M1268.6 294.5l8.1 6.8M1268.4 290.8l8.1 6.4M1268.2 286.7l8.1 6.2M1259.9 276.4l8.1 6.1M1259.8 272.4l8.1 6M1251.5 262.5l8.1 6M1251.3 258.5l8.1 5.9M1251.1 254.1l8.1 5.9M1242.9 243.9l8.1 5.9M1242.7 239.8l8.1 5.7M1242.5 235.2l8.1 5.9M1242.3 230.1l8.2 6.2M1234.1 219l8.1 6.1l8.1 6M1233.9 214l8.1 6l8.1 6M1233.7 209.3l8.1 5.7M1233.6 204.4l8.1 5.5M1233.4 200l8.1 5.1M1225.1 190l8.1 5.5l8.1 5.2M1224.9 185.3l8.1 5.4l8.1 5.5M1224.8 180.2l8.1 5.5l8.1 5.4M1224.6 175.4l8.1 5.3"/><path stroke="#60ff9f" d="M1232.5 175.9l7.9 0.5l8 0.3M1232.7 180.7l7.9 0.5l8 0.4M1240.8 186l7.9 0.4M1241 191.1l7.9 0.3M1241.1 196.2l8 0.3M1241.3 200.7l7.9 0.6M1241.5 205.1l7.9 0.6M1241.7 209.9l7.9 0.7l7.9 0.6M1241.8 215l8 0.6l7.9 0.6M1242 220l7.9 0.9l8 0.6M1250.1 226l7.9 0.9M1250.3 231.1l7.9 1M1250.5 236.3l7.9 0.9M1250.6 241.1l8 1M1250.8 245.5l7.9 1.4M1251 249.8l7.9 1.5M1259.2 260l8 1.4M1259.4 264.4l7.9 1.5M1259.6 268.5l7.9 1.9M1267.9 278.4l7.9 2M1268 282.5l8 1.9M1276.3 292.9l7.9 1.8M1276.5 297.2l7.9 2M1276.7 301.3l7.9 2.6M1276.8 305.7l8 2.4M1285.1 317l7.9 2.3M1285.3 321.1l7.9 2.3M1285.3 321.1l8.1 6.5M1285.1 317l8.1 6.4M1276.7 301.3l8.1 6.8M1276.5 297.2l8.1 6.7M1276.3 292.9l8.1 6.3M1268 282.5l8.1 6.1M1267.9 278.4l8.1 6M1259.6 268.5l8.1 6l8.1 5.9M1259.4 264.4l8.1 6M1259.2 260l8.1 5.9M1251 249.8l8.1 5.8l8.1 5.8M1250.8 245.5l8.1 5.8M1250.6 241.1l8.1 5.8M1250.5 236.3l8.1 5.8M1250.3 231.1l8.1 6.1M1250.1 226l8.1 6.1M1241.8 215l8.1 5.9l8.1 6M1241.7 209.9l8.1 5.7l8.1 5.9M1241.5 205.1l8.1 5.5l8.1 5.6M1241.3 200.7l8.1 5l8.1 5.5M1241.1 196.2l8.1 5.1M1241 191.1l8.1 5.4M1232.7 180.7l8.1 5.3l8.1 5.4M1232.5 175.9l8.1 5.3l8.1 5.2M1240.4 176.4l8.2 5.2"/><path stroke="#50ffaf" d="M1248.4 176.7l7.9 0.2M1248.6 181.6l7.9 0.2M1248.7 186.4l8 0.4M1248.9 191.4l7.9 0.3M1249.1 196.5l7.9 0.2M1249.2 201.3l8 0.2l7.9 0.2M1249.4 205.7l7.9 0.6l8 0.2M1257.5 211.2l7.9 0.5M1257.7 216.2l7.9 0.6M1257.9 221.5l7.9 0.6M1258 226.9l8 0.6M1258.2 232.1l7.9 0.8M1258.4 237.2l7.9 0.9M1258.6 242.1l7.9 1M1258.7 246.9l8 0.9M1258.9 251.3l7.9 1.3M1259.1 255.6l7.9 1.5M1267.2 261.4l7.9 1.5M1267.3 265.9l8 1.4M1267.5 270.4l8 1.4M1267.7 274.5l7.9 1.8M1275.8 280.4l7.9 1.8M1276 284.4l7.9 2M1276.1 288.6l8 1.9M1284.4 299.2l7.9 1.8M1284.6 303.9l7.9 1.9M1284.8 308.1l7.9 2.5M1284.9 312.5l8 2.4M1293.2 323.4l7.9 2.2M1293.4 327.6l7.9 2.2M1293.4 327.6l8.1 6.5M1293.2 323.4l8.1 6.4M1284.9 312.5l8.1 6.8M1284.8 308.1l8.1 6.8M1284.6 303.9l8.1 6.7M1284.4 299.2l8.1 6.6M1276.1 288.6l8.1 6.1M1276 284.4l8.1 6.1M1275.8 280.4l8.1 6M1267.5 270.4l8.1 5.9M1267.3 265.9l8.2 5.9M1267.2 261.4l8.1 5.9M1258.9 251.3l8.1 5.8M1258.7 246.9l8.1 5.7M1258.6 242.1l8.1 5.7M1258.4 237.2l8.1 5.9M1258.2 232.1l8.1 6M1258 226.9l8.1 6M1257.9 221.5l8.1 6M1257.7 216.2l8.1 5.9M1257.5 211.2l8.1 5.6M1249.2 201.3l8.1 5l8.1 5.4M1249.1 196.5l8.1 5l8.1 5M1248.9 191.4l8.1 5.3l8.1 5M1248.7 186.4l8.1 5.3M1248.6 181.6l8.1 5.2M1248.4 176.7l8.1 5.1"/><path stroke="#40ffbf" d="M1256.3 176.9l7.9 0.2M1256.5 181.8l7.9 0.1l7.9 0.2M1256.7 186.8l7.9 0.2l7.9 0M1256.8 191.7l8 0.3l7.9 0.1M1257 196.7l7.9 0.3l8 0.2M1265.1 201.7l7.9 0.2M1265.3 206.5l7.9 0.1M1265.4 211.7l8 0.1M1265.6 216.8l8 0.5M1265.8 222.1l7.9 0.5M1266 227.5l7.9 0.5M1266.1 232.9l8 0.5M1266.3 238.1l7.9 0.8M1266.5 243.1l7.9 0.8M1266.7 247.8l7.9 0.9M1266.8 252.6l8 0.9M1267 257.1l7.9 1.2M1275.1 262.9l7.9 1.2M1275.3 267.3l7.9 1.3M1275.5 271.8l7.9 1.3M1275.6 276.3l8 1.3M1283.9 286.4l7.9 1.7M1284.1 290.5l7.9 1.8M1284.2 294.7l8 1.8M1292.5 305.8l8 1.7M1292.7 310.6l7.9 1.9M1292.9 314.9l7.9 2.4M1293 319.3l8 2.3M1301.3 329.8l7.9 2.2M1301.5 334.1l7.9 2.1M1301.5 334.1l8.1 6.5M1301.3 329.8l8.1 6.4M1293 319.3l8.1 6.3M1292.9 314.9l8.1 6.7M1292.7 310.6l8.1 6.7M1292.5 305.8l8.1 6.7M1284.2 294.7l8.1 6.3M1284.1 290.5l8.1 6M1283.9 286.4l8.1 5.9M1275.6 276.3l8.1 5.9l8.1 5.9M1275.5 271.8l8.1 5.8M1275.3 267.3l8.1 5.8M1267 257.1l8.1 5.8l8.1 5.7M1266.8 252.6l8.1 5.7M1266.7 247.8l8.1 5.7M1266.5 243.1l8.1 5.6M1266.3 238.1l8.1 5.8M1266.1 232.9l8.1 6M1266 227.5l8.1 5.9M1265.8 222.1l8.1 5.9M1265.6 216.8l8.1 5.8M1265.4 211.7l8.2 5.6M1265.3 206.5l8.1 5.3M1265.1 201.7l8.1 4.9M1256.8 191.7l8.1 5.3l8.1 4.9M1256.7 186.8l8.1 5.2l8.1 5.2M1256.5 181.8l8.1 5.2l8.1 5.1M1256.3 176.9l8.1 5l8.1 5.1M1264.2 177.1l8.1 5"/><path stroke="#30ffcf" d="M1264.2 177.1l8 0.2l7.9 0.1M1272.3 182.1l8 0.1M1272.5 187l7.9 0.1M1272.7 192.1l7.9 0M1272.9 197.2l7.9 0M1273 201.9l8 0.2l7.9 0M1273.2 206.6l7.9 0.2l8 0.2M1273.4 211.8l7.9 0.2l7.9 0.1M1273.6 217.3l7.9 0.1l7.9 0.1M1273.7 222.6l8 0.5M1273.9 228l7.9 0.5M1274.1 233.4l7.9 0.5M1274.2 238.9l8 0.5M1274.4 243.9l7.9 0.7M1274.6 248.7l7.9 0.8M1274.8 253.5l7.9 0.9M1274.9 258.3l8 0.9M1283 264.1l8 0.8M1283.2 268.6l7.9 1.2M1283.4 273.1l7.9 1.3M1283.6 277.6l7.9 1.3M1283.7 282.2l8 1.2M1291.8 288.1l8 1.2M1292 292.3l7.9 1.7M1292.2 296.5l7.9 1.8M1292.3 301l8 1.7M1300.8 317.3l7.9 1.8M1301 321.6l7.9 2.3M1301.1 325.6l8 2.3M1309.4 336.2l7.9 2.1M1309.6 340.6l7.9 2M1309.6 340.6l8.1 6.9M1309.4 336.2l8.1 6.4M1301.1 325.6l8.1 6.4M1301 321.6l8.1 6.3M1300.8 317.3l8.1 6.6M1292.3 301l8.2 6.5M1292.2 296.5l8.1 6.2M1292 292.3l8.1 6M1291.8 288.1l8.1 5.9M1283.6 277.6l8.1 5.8M1283.4 273.1l8.1 5.8M1283.2 268.6l8.1 5.8M1274.9 258.3l8.1 5.8l8.1 5.7M1274.8 253.5l8.1 5.7l8.1 5.7M1274.6 248.7l8.1 5.7M1274.4 243.9l8.1 5.6M1274.2 238.9l8.1 5.7M1274.1 233.4l8.1 6M1273.9 228l8.1 5.9M1273.7 222.6l8.1 5.9M1273.6 217.3l8.1 5.8M1273.4 211.8l8.1 5.6l8.1 5.8M1273.2 206.6l8.1 5.4l8.1 5.5M1273 201.9l8.1 4.9l8.1 5.3M1272.9 197.2l8.1 4.9l8.1 4.9M1272.7 192.1l8.1 5.1l8.1 4.9M1272.5 187l8.1 5.1M1272.3 182.1l8.1 5M1272.2 177.3l8.1 4.9"/><path stroke="#20ffdf" d="M1280.1 177.4l7.9 0.2M1280.3 182.2l7.9 0.2l7.9 0.1M1280.4 187.1l8 0.1l7.9 0.1M1280.6 192.1l7.9 0l8 0.1M1280.8 197.2l7.9 0l8 0M1288.9 202.1l7.9 -0.1M1289.1 207l7.9 -0.1M1289.2 212.1l8 0.1M1289.4 217.5l7.9 0.1M1281.7 223.1l7.9 0.1l7.9 0.1M1281.8 228.5l8 0.4l7.9 0.1M1282 233.9l7.9 0.5l8 0.4M1282.2 239.4l7.9 0.5M1282.3 244.6l8 0.5M1282.5 249.5l7.9 0.7M1282.7 254.4l7.9 0.8l8 0.6M1282.9 259.2l7.9 0.9l7.9 0.7M1291 264.9l7.9 0.9M1291.1 269.8l8 0.8M1291.3 274.4l7.9 1.1M1291.5 278.9l7.9 1.2M1291.7 283.4l7.9 1.3M1299.8 289.3l7.9 1.2M1299.9 294l8 1.2M1300.1 298.3l7.9 1.6M1300.3 302.7l7.9 1.7M1300.5 307.5l7.9 1.7M1300.6 312.5l8 1.5M1309.1 327.9l7.9 2.2M1309.2 332l8 2.1M1317.7 347.5l7.9 2M1317.7 347.5l8.1 6.9M1317.5 342.6l8.1 6.9M1309.2 332l8.1 6.3M1309.1 327.9l8.1 6.2M1308.9 323.9l8.1 6.2M1300.6 312.5l8.1 6.6M1300.5 307.5l8.1 6.5M1300.3 302.7l8.1 6.5M1300.1 298.3l8.1 6.1M1299.9 294l8.1 5.9M1291.7 283.4l8.1 5.9l8.1 5.9M1291.5 278.9l8.1 5.8M1291.3 274.4l8.1 5.7M1291.1 269.8l8.1 5.7M1291 264.9l8.1 5.7M1282.7 254.4l8.1 5.7l8.1 5.7M1282.5 249.5l8.1 5.7l8.1 5.6M1282.3 244.6l8.1 5.6M1282.2 239.4l8.1 5.7M1282 233.9l8.1 6M1281.8 228.5l8.1 5.9M1281.7 223.1l8.1 5.8l8.1 5.9M1289.6 223.2l8.1 5.8M1289.4 217.5l8.1 5.8M1289.2 212.1l8.1 5.5M1289.1 207l8.1 5.2M1288.9 202.1l8.1 4.8M1280.6 192.1l8.1 5.1l8.1 4.8M1280.4 187.1l8.1 5l8.2 5.1M1280.3 182.2l8.1 5l8.1 5M1280.1 177.4l8.1 5l8.1 4.9"/><path stroke="#10ffef" d="M1288 177.6l8 0l7.9 0M1296.1 182.5l8 -0.1M1296.3 187.3l7.9 0M1296.5 192.2l7.9 0l7.9 0M1296.7 197.2l7.9 -0.1l7.9 0M1296.8 202l8 -0.1l7.9 0M1297 206.9l7.9 -0.1l8 -0.1M1297.2 212.2l7.9 0l7.9 -0.2M1297.3 217.6l8 0.2l7.9 -0.1M1297.5 223.3l7.9 0l8 0.1M1297.7 229l7.9 0M1297.9 234.8l7.9 0M1290.1 239.9l7.9 0.4l8 0.3M1290.3 245.1l7.9 0.5l7.9 0.3M1290.4 250.2l8 0.5l7.9 0.4M1298.6 255.8l7.9 0.5M1298.7 260.8l8 0.7M1298.9 265.8l7.9 0.7M1299.1 270.6l7.9 0.9M1299.2 275.5l8 0.8M1299.4 280.1l7.9 1.1M1299.6 284.7l7.9 1.2M1307.7 290.5l7.9 1.1M1307.9 295.2l7.9 1M1308 299.9l8 1.1M1308.2 304.4l7.9 1.6M1308.4 309.2l7.9 1.6M1308.6 314l7.9 1.6M1308.7 319.1l8 1.5M1308.9 323.9l7.9 1.7M1317 330.1l7.9 1.7M1317.2 334.1l7.9 2.2M1317.3 338.3l8 2.1M1317.5 342.6l7.9 2.1M1317.3 338.3l8.1 6.4M1317.2 334.1l8.1 6.3M1317 330.1l8.1 6.2M1308.7 319.1l8.1 6.5M1308.6 314l8.1 6.6M1308.4 309.2l8.1 6.4M1308.2 304.4l8.1 6.4M1308 299.9l8.1 6.1M1307.9 295.2l8.1 5.8M1299.6 284.7l8.1 5.8l8.1 5.7M1299.4 280.1l8.1 5.8M1299.2 275.5l8.1 5.7M1299.1 270.6l8.1 5.7M1298.9 265.8l8.1 5.7M1298.7 260.8l8.1 5.7M1290.4 250.2l8.2 5.6l8.1 5.7M1290.3 245.1l8.1 5.6l8.1 5.6M1290.1 239.9l8.1 5.7l8.1 5.5M1289.9 234.4l8.1 5.9l8.1 5.6M1297.9 234.8l8.1 5.8M1297.7 229l8.1 5.8M1297.5 223.3l8.1 5.7M1297.3 217.6l8.1 5.7M1297.2 212.2l8.1 5.6l8.1 5.6M1297 206.9l8.1 5.3l8.1 5.5M1296.8 202l8.1 4.8l8.1 5.2M1296.7 197.2l8.1 4.7l8.1 4.8M1296.5 192.2l8.1 4.9l8.1 4.8M1296.3 187.3l8.1 4.9l8.1 4.9M1288 177.6l8.1 4.9l8.1 4.8M1296 177.6l8.1 4.8"/><path stroke="#00ffff" d="M1303.9 177.6l7.9 0l8 0M1304.1 182.4l7.9 -0.1l7.9 0M1304.2 187.3l8 -0.1l7.9 -0.1M1312.3 192.2l8 -0.2M1312.5 197.1l7.9 -0.1M1312.7 201.9l7.9 -0.1l7.9 -0.1M1312.9 206.7l7.9 -0.1l7.9 -0.2M1313 212l8 -0.1l7.9 -0.1M1313.2 217.7l7.9 -0.2l8 -0.1M1313.4 223.4l7.9 -0.1M1305.6 229l7.9 0.1l8 0M1305.8 234.8l7.9 0l7.9 0M1306 240.6l7.9 0M1306.1 245.9l8 0.3M1306.3 251.1l7.9 0.4M1306.5 256.3l7.9 0.4M1306.7 261.5l7.9 0.4M1306.8 266.5l8 0.6M1307 271.5l7.9 0.6M1307.2 276.3l7.9 0.8M1307.3 281.2l8 0.8M1307.5 285.9l7.9 1M1315.6 291.6l7.9 1M1315.8 296.2l7.9 1.1M1316 301l7.9 1M1316.1 306l8 1M1316.3 310.8l7.9 1.5M1316.5 315.6l7.9 1.6M1316.7 320.6l7.9 1.5M1316.8 325.6l8 1.4M1325.1 336.3l7.9 1.6M1325.3 340.4l7.9 2.1M1325.4 344.7l8 2M1325.6 349.5l8 1.9M1325.8 354.4l7.9 1.9M1325.8 354.4l8.1 6.9M1325.6 349.5l8.1 6.8M1325.4 344.7l8.2 6.7M1325.3 340.4l8.1 6.3M1325.1 336.3l8.1 6.2M1316.8 325.6l8.1 6.2M1316.7 320.6l8.1 6.4M1316.5 315.6l8.1 6.5M1316.3 310.8l8.1 6.4M1316.1 306l8.1 6.3M1316 301l8.1 6M1315.8 296.2l8.1 5.8M1307.5 285.9l8.1 5.7l8.1 5.7M1307.3 281.2l8.1 5.7l8.1 5.7M1307.2 276.3l8.1 5.7M1307 271.5l8.1 5.6M1306.8 266.5l8.1 5.6M1306.7 261.5l8.1 5.6M1306.5 256.3l8.1 5.6M1306.3 251.1l8.1 5.6M1306.1 245.9l8.1 5.6M1306 240.6l8.1 5.6M1305.8 234.8l8.1 5.8M1305.6 229l8.1 5.8l8.1 5.8M1305.4 223.3l8.1 5.8l8.1 5.7M1313.4 223.4l8.1 5.7M1313.2 217.7l8.1 5.6M1313 212l8.1 5.5M1312.9 206.7l8.1 5.2l8.1 5.5M1312.7 201.9l8.1 4.7l8.1 5.2M1312.5 197.1l8.1 4.7l8.1 4.6M1304.2 187.3l8.1 4.9l8.1 4.8l8.1 4.7M1304.1 182.4l8.1 4.8l8.1 4.8M1303.9 177.6l8.1 4.7l8.1 4.8M1311.8 177.6l8.1 4.7"/><path stroke="#00efff" d="M1319.8 177.6l7.9 0M1319.9 182.3l8 -0.1l7.9 0M1320.1 187.1l7.9 -0.1l8 -0.1M1320.3 192l7.9 -0.2l7.9 -0.1M1320.4 197l8 -0.2l7.9 -0.2M1328.5 201.7l8 -0.3M1328.7 206.4l7.9 -0.1l8 -0.3M1328.9 211.8l7.9 -0.2l7.9 -0.1M1329.1 217.4l7.9 -0.2M1321.3 223.3l7.9 -0.2l8 -0.1M1321.5 229.1l7.9 -0.1l7.9 -0.2M1321.6 234.8l8 0.1M1313.9 240.6l7.9 0l8 0M1314.1 246.2l7.9 0l7.9 0M1314.2 251.5l8 0.2l7.9 0M1314.4 256.7l7.9 0.3M1314.6 261.9l7.9 0.4M1314.8 267.1l7.9 0.3M1314.9 272.1l8 0.6M1315.1 277.1l7.9 0.6M1315.3 282l7.9 0.7l7.9 0.6M1315.4 286.9l8 0.7l7.9 0.8M1323.5 292.6l8 0.7M1323.7 297.3l8 1M1323.9 302l7.9 1.1M1324.1 307l7.9 1M1324.2 312.3l8 0.9M1324.4 317.2l7.9 1.4M1324.6 322.1l7.9 1.4M1324.8 327l7.9 1.4M1324.9 331.8l8 1.3M1333 337.9l8 1.2M1333.2 342.5l7.9 1.5M1333.4 346.7l7.9 2M1333.6 351.4l7.9 1.9M1333.7 356.3l8 1.8M1333.9 361.3l7.9 1.8M1333.9 361.3l8.1 6.9M1333.7 356.3l8.1 6.8M1333.6 351.4l8.1 6.7M1333.4 346.7l8.1 6.6M1333.2 342.5l8.1 6.2M1324.9 331.8l8.1 6.1l8.1 6.1M1324.8 327l8.1 6.1M1324.6 322.1l8.1 6.3M1324.4 317.2l8.1 6.3M1324.2 312.3l8.1 6.3M1324.1 307l8.1 6.2M1323.9 302l8.1 6M1323.7 297.3l8.1 5.8M1323.5 292.6l8.2 5.7M1315.3 282l8.1 5.6l8.1 5.7M1315.1 277.1l8.1 5.6l8.1 5.7M1314.9 272.1l8.1 5.6l8.1 5.6M1314.8 267.1l8.1 5.6M1314.6 261.9l8.1 5.5M1314.4 256.7l8.1 5.6M1314.2 251.5l8.1 5.5M1314.1 246.2l8.1 5.5l8.1 5.5M1313.9 240.6l8.1 5.6l8.1 5.5M1321.8 240.6l8.1 5.6M1321.6 234.8l8.2 5.8M1321.5 229.1l8.1 5.8M1321.3 223.3l8.1 5.7M1321.1 217.5l8.1 5.6l8.1 5.7M1329.1 217.4l8.1 5.6M1328.9 211.8l8.1 5.4M1328.7 206.4l8.1 5.2M1328.5 201.7l8.1 4.6l8.1 5.2M1320.3 192l8.1 4.8l8.1 4.6l8.1 4.6M1320.1 187.1l8.1 4.7l8.1 4.8M1319.9 182.3l8.1 4.7l8.1 4.7M1319.8 177.6l8.1 4.6l8.1 4.7"/><path stroke="#00dfff" d="M1327.7 177.6l7.9 0.1l7.9 0.3M1335.8 182.2l7.9 0M1336 186.9l7.9 -0.2M1336.1 191.7l8 -0.2l7.9 -0.2M1336.3 196.6l7.9 -0.3l8 -0.2M1336.5 201.4l7.9 -0.2l7.9 -0.3M1344.6 206l7.9 -0.3l7.9 -0.3M1344.7 211.5l8 -0.3M1337 217.2l7.9 -0.1l8 -0.2M1337.2 223l7.9 -0.2l7.9 -0.1M1337.3 228.8l8 -0.2M1329.6 234.9l7.9 -0.2l7.9 -0.2M1329.8 240.6l7.9 0l7.9 -0.2M1329.9 246.2l8 -0.1M1330.1 251.7l7.9 -0.1M1322.3 257l8 0.2l7.9 0M1322.5 262.3l7.9 0.2l8 0.2M1322.7 267.4l7.9 0.4l7.9 0.3M1322.9 272.7l7.9 0.3l7.9 0.4M1323 277.7l8 0.6l7.9 0.3M1331.1 283.3l8 0.5M1331.3 288.4l7.9 0.5M1331.5 293.3l7.9 0.7M1331.7 298.3l7.9 0.7M1331.8 303.1l8 0.9M1332 308l7.9 1M1332.2 313.2l7.9 0.9M1332.3 318.6l8 0.9M1332.5 323.5l7.9 1.4M1332.7 328.4l7.9 1.4M1332.9 333.1l7.9 1.3M1341.1 344l8 1.2M1341.3 348.7l7.9 1.5M1341.5 353.3l7.9 2M1341.7 358.1l7.9 1.9M1341.8 363.1l8 1.7M1342 368.2l7.9 1.7M1341.8 363.1l8.1 6.8M1341.7 358.1l8.1 6.7M1341.5 353.3l8.1 6.7M1341.3 348.7l8.1 6.6M1341.1 344l8.1 6.2M1332.9 333.1l8.1 6l8.1 6.1M1332.7 328.4l8.1 6M1332.5 323.5l8.1 6.3M1332.3 318.6l8.1 6.3M1332.2 313.2l8.1 6.3M1332 308l8.1 6.1M1331.8 303.1l8.1 5.9M1331.7 298.3l8.1 5.7M1331.5 293.3l8.1 5.7M1331.3 288.4l8.1 5.6M1331.1 283.3l8.1 5.6M1322.9 272.7l8.1 5.6l8.1 5.5M1322.7 267.4l8.1 5.6l8.1 5.6M1322.5 262.3l8.1 5.5l8.1 5.6M1322.3 257l8.1 5.5l8.1 5.6M1330.3 257.2l8.1 5.5M1330.1 251.7l8.1 5.5M1329.9 246.2l8.1 5.4M1329.8 240.6l8.1 5.5M1329.6 234.9l8.1 5.7M1329.4 229l8.1 5.7l8.1 5.7M1337.3 228.8l8.1 5.7M1337.2 223l8.1 5.6M1337 217.2l8.1 5.6l8.1 5.7M1336.8 211.6l8.1 5.5l8.1 5.6M1344.7 211.5l8.2 5.4M1344.6 206l8.1 5.2M1336.3 196.6l8.1 4.6l8.1 4.5M1336.1 191.7l8.1 4.6l8.1 4.6M1336 186.9l8.1 4.6l8.1 4.6M1327.7 177.6l8.1 4.6l8.1 4.5l8.1 4.6M1335.6 177.7l8.1 4.5"/><path stroke="#00cfff" d="M1343.5 178l8 0.2M1343.7 182.2l7.9 0.2l8 0.2M1343.9 186.7l7.9 0.1l7.9 0M1352 191.3l7.9 0M1352.2 196.1l7.9 -0.2l7.9 -0.1M1352.3 200.9l8 -0.3l7.9 -0.2M1360.4 205.4l8 -0.3M1352.7 211.2l7.9 -0.3l7.9 -0.3M1352.9 216.9l7.9 -0.3l7.9 -0.3M1353 222.7l8 -0.2l7.9 -0.3M1345.3 228.6l7.9 -0.1l7.9 -0.2M1345.4 234.5l8 -0.2l7.9 -0.2M1345.6 240.4l7.9 -0.2M1337.9 246.1l7.9 0l7.9 -0.2M1338 251.6l8 0l7.9 -0.1M1338.2 257.2l7.9 -0.1l8 -0.1M1338.4 262.7l7.9 -0.1l7.9 -0.1M1338.5 268.1l8 0.1M1338.7 273.4l7.9 0.2M1338.9 278.6l7.9 0.3M1339.1 283.8l7.9 0.3M1339.2 288.9l8 0.4M1339.4 294l7.9 0.5M1339.6 299l7.9 0.6M1339.8 304l7.9 0.6M1339.9 309l8 0.8M1340.1 314.1l7.9 0.9M1340.3 319.5l7.9 0.8M1340.4 324.9l8 0.8M1340.6 329.8l7.9 1.2M1340.8 334.4l7.9 1.3M1341 339.1l7.9 1.3M1349.1 345.2l7.9 1.1M1349.2 350.2l8 1M1349.4 355.3l7.9 1.3M1349.6 360l7.9 1.8M1349.8 364.8l7.9 1.8M1349.9 369.9l8 1.7M1349.8 364.8l8.1 6.8M1349.6 360l8.1 6.6M1349.4 355.3l8.1 6.5M1349.2 350.2l8.1 6.4M1349.1 345.2l8.1 6M1340.8 334.4l8.1 6l8.1 5.9M1340.6 329.8l8.1 5.9M1340.4 324.9l8.1 6.1M1340.3 319.5l8.1 6.2M1340.1 314.1l8.1 6.2M1339.9 309l8.1 6M1339.8 304l8.1 5.8M1339.6 299l8.1 5.6M1339.4 294l8.1 5.6M1339.2 288.9l8.1 5.6M1339.1 283.8l8.1 5.5M1338.9 278.6l8.1 5.5M1338.7 273.4l8.1 5.5M1338.5 268.1l8.1 5.5M1338.4 262.7l8.1 5.5M1338.2 257.2l8.1 5.4M1338 251.6l8.1 5.5l8.1 5.4M1337.9 246.1l8.1 5.5l8.1 5.4M1337.7 240.6l8.1 5.5l8.1 5.4M1345.6 240.4l8.1 5.5M1345.4 234.5l8.1 5.7M1345.3 228.6l8.1 5.7l8.1 5.6M1353.2 228.5l8.1 5.6M1353 222.7l8.1 5.6M1352.9 216.9l8.1 5.6M1352.7 211.2l8.1 5.4l8.1 5.6M1352.5 205.7l8.1 5.2l8.1 5.4M1352.3 200.9l8.1 4.5l8.1 5.2M1352.2 196.1l8.1 4.5l8.1 4.5M1352 191.3l8.1 4.6l8.1 4.5M1343.7 182.2l8.1 4.6l8.1 4.5l8.1 4.5M1343.5 178l8.1 4.4l8.1 4.4"/><path stroke="#00bfff" d="M1351.5 178.2l7.9 0.2M1359.6 182.6l7.9 0.1M1359.7 186.8l8 0.1l7.9 0.1M1359.9 191.3l7.9 0l8 0M1368 195.8l8 -0.1M1368.2 200.4l7.9 -0.2l8 -0.1M1368.4 205.1l7.9 -0.3l7.9 -0.2M1368.5 210.6l8 -0.3l7.9 -0.4M1368.7 216.3l7.9 -0.3l8 -0.3M1368.9 222.2l7.9 -0.3M1361.1 228.3l8 -0.2l7.9 -0.4M1361.3 234.1l7.9 -0.2l8 -0.2M1353.5 240.2l8 -0.3l7.9 -0.2M1353.7 245.9l7.9 -0.2l8 -0.3M1353.9 251.5l7.9 -0.2l7.9 -0.3M1354.1 257l7.9 -0.1M1354.2 262.5l8 -0.1M1346.5 268.2l7.9 -0.1l7.9 -0.1M1346.6 273.6l8 0.1l7.9 -0.1M1346.8 278.9l8 0.2l7.9 0.1M1347 284.1l7.9 0.3l8 0.2M1347.2 289.3l7.9 0.3l7.9 0.3M1347.3 294.5l8 0.4l7.9 0.2M1347.5 299.6l7.9 0.5l8 0.3M1347.7 304.6l7.9 0.6l7.9 0.4M1347.9 309.8l7.9 0.6l7.9 0.6M1348 315l8 0.8M1348.2 320.3l7.9 0.8M1348.4 325.7l7.9 0.7M1348.5 331l8 0.8M1348.7 335.7l8 1.2M1348.9 340.4l7.9 1.2M1357 346.3l7.9 1.2M1357.2 351.2l7.9 1.1M1357.3 356.6l8 1M1357.5 361.8l7.9 1.3M1357.7 366.6l7.9 1.8M1357.9 371.6l7.9 1.7M1357.7 366.6l8.1 6.7M1357.5 361.8l8.1 6.6M1357.3 356.6l8.1 6.5M1357.2 351.2l8.1 6.4M1357 346.3l8.1 6M1348.7 335.7l8.1 5.9l8.1 5.9M1348.5 331l8.2 5.9M1348.4 325.7l8.1 6.1M1348.2 320.3l8.1 6.1M1348 315l8.1 6.1M1347.9 309.8l8.1 6M1347.7 304.6l8.1 5.8M1347.5 299.6l8.1 5.6l8.1 5.8M1347.3 294.5l8.1 5.6l8.1 5.5M1347.2 289.3l8.1 5.6l8.1 5.5M1347 284.1l8.1 5.5l8.1 5.5M1346.8 278.9l8.1 5.5l8.1 5.5M1346.6 273.6l8.2 5.5l8.1 5.5M1346.5 268.2l8.1 5.5l8.1 5.5M1346.3 262.6l8.1 5.5l8.1 5.5M1354.2 262.5l8.1 5.5M1354.1 257l8.1 5.4M1353.9 251.5l8.1 5.4M1353.7 245.9l8.1 5.4l8.1 5.4M1353.5 240.2l8.1 5.5l8.1 5.3M1361.5 239.9l8.1 5.5M1361.3 234.1l8.1 5.6M1361.1 228.3l8.1 5.6M1361 222.5l8.1 5.6l8.1 5.6M1368.9 222.2l8.1 5.5M1368.7 216.3l8.1 5.6M1368.5 210.6l8.1 5.4l8.1 5.5M1368.4 205.1l8.1 5.2l8.1 5.4M1368.2 200.4l8.1 4.4l8.1 5.1M1368 195.8l8.1 4.4l8.1 4.4M1359.7 186.8l8.1 4.5l8.2 4.4l8.1 4.4M1351.5 178.2l8.1 4.4l8.1 4.3l8.1 4.4M1359.4 178.4l8.1 4.3"/><path stroke="#9f0000" d="M1050.3 125.6l7.9 4.3M1050.3 125.6l8.1 7.5M1050.1 122.6l8.1 7.3"/><path stroke="#bf0000" d="M1058.2 129.9l8 4.3M1066.5 140.5l8.1 7.5M1058.2 129.9l8.1 7.4M1058.1 127l8.1 7.2"/><path stroke="#df0000" d="M1066.2 134.2l7.9 4.3M1074.4 144.6l8 4.1M1074.6 148l7.9 3.9M1074.4 144.6l8.1 7.3M1066.2 134.2l8.1 7.2M1066 131.3l8.1 7.2"/><path stroke="#ff0000" d="M1074.1 138.5l7.9 4.3M1082.4 148.7l7.9 4M1082.5 151.9l8 4M1090.8 161.1l7.9 3.8M1090.8 161.1l8.1 6.5M1090.6 158.5l8.1 6.4M1082.4 148.7l8.1 7.2M1074.1 138.5l8.1 7.1M1073.9 135.7l8.1 7.1"/><path stroke="#ff2000" d="M1082 142.8l8 3.7M1090.3 152.7l7.9 4.1M1090.5 155.9l7.9 4M1098.7 164.9l8 3.8M1107 174.1l8 3.6M1107 174.1l8.1 6.9M1106.8 171.3l8.2 6.4M1098.6 162.3l8.1 6.4M1090.3 152.7l8.1 7.2M1082 142.8l8.1 7M1081.9 139.6l8.1 6.9"/><path stroke="#ff5000" d="M1097.9 150.1l7.9 3.6M1098.1 153.4l7.9 3.5M1106.3 163.8l8 3.4M1106.5 166.2l7.9 3.9M1114.8 175l7.9 3.8M1123.1 184.6l7.9 3.6M1131.3 195l8.1 7.1M1123.1 184.6l8.1 7M1122.9 181.4l8.1 6.8M1114.6 172.5l8.1 6.3M1106.3 163.8l8.1 6.3M1098.1 153.4l8.1 6.9M1097.9 150.1l8.1 6.8"/><path stroke="#ff7000" d="M1105.8 153.7l7.9 3.6M1106 156.9l7.9 3.5M1114.3 167.2l7.9 3.3M1122.5 176.3l8 3.2M1122.7 178.8l7.9 3.7M1131 188.2l7.9 3.6M1139.3 198.5l7.9 3.5M1139.4 202.1l8 3.4M1139.4 202.1l8.1 6.6M1139.3 198.5l8.1 7M1131 188.2l8.1 6.9M1130.8 185.1l8.1 6.7M1122.5 176.3l8.1 6.2M1114.3 167.2l8.1 6.2M1114.1 163.7l8.1 6.8M1105.8 153.7l8.1 6.7"/><path stroke="#ffcf00" d="M1137.5 165.3l8 2.5M1137.7 169.1l7.9 2.5M1137.9 173.2l7.9 2.3M1146.2 182.9l7.9 2.6M1154.4 191.7l8 3M1162.7 201.3l7.9 2.9M1162.9 205.2l7.9 2.8M1163 209l8 2.9M1171.3 218.8l8 3.3M1179.6 228.1l7.9 3.3M1179.8 231.3l7.9 3.2M1188 241.1l8 3M1188 241.1l8.2 6.5M1187.9 237.7l8.1 6.4M1179.6 228.1l8.1 6.4M1171.3 218.8l8.1 6.3M1171.2 215.7l8.1 6.4M1162.9 205.2l8.1 6.7M1162.7 201.3l8.1 6.7M1154.4 191.7l8.1 6.1M1146.2 182.9l8.1 5.8M1146 179.7l8.1 5.8M1137.7 169.1l8.1 6.4M1137.5 165.3l8.1 6.3"/><path stroke="#dfff20" d="M1169.3 173l7.9 1.5M1169.4 177.5l8 1.4M1169.6 182.1l7.9 1.4M1169.8 186.4l7.9 1.8M1177.9 192l7.9 1.8M1178 195.4l8 2.1M1186.3 205.1l8 2M1186.5 209.4l7.9 2M1186.7 213.5l7.9 2.3M1194.9 223.8l8 2.7M1195.1 227.5l7.9 2.5M1203.4 237.3l7.9 2.4M1203.6 240.8l7.9 2.7M1211.8 250.3l8 3M1220.1 259.9l7.9 3M1220.3 263.4l7.9 2.9M1228.6 273.5l7.9 2.7M1228.6 273.5l8.1 6.5M1228.4 269.8l8.1 6.4M1220.1 259.9l8.1 6.4M1211.8 250.3l8.1 6.3M1211.7 247.1l8.1 6.2M1203.4 237.3l8.1 6.2M1203.2 233.6l8.1 6.1M1194.9 223.8l8.1 6.2M1194.8 220l8.1 6.5M1186.5 209.4l8.1 6.4M1186.3 205.1l8.1 6.3M1178 195.4l8.1 5.8l8.2 5.9M1177.9 192l8.1 5.5M1169.6 182.1l8.1 6.1M1169.4 177.5l8.1 6M1169.3 173l8.1 5.9M1169.1 168.6l8.1 5.9"/><path stroke="#ff9f00" d="M1121.8 163.8l8 2.9M1130.3 176.6l7.9 3.1M1138.6 185.7l7.9 3M1146.8 195.4l8 3.1M1147 198.6l7.9 3.6M1155.3 208.9l7.9 3.4M1155.5 212.1l7.9 3.3M1163.7 221.7l8 3.2M1163.7 221.7l8.1 6.4M1163.6 218.5l8.1 6.4M1155.3 208.9l8.1 6.5M1146.8 195.4l8.1 6.8M1138.6 185.7l8.1 6.2M1138.4 182.6l8.1 6.1M1130.1 173.7l8.1 6M1121.8 163.8l8.1 6.6M1121.7 160.2l8.1 6.5"/><path stroke="#00afff" d="M1375.8 191.3l7.9 0M1376 195.7l7.9 0l7.9 0M1384.1 200.1l7.9 0l7.9 -0.1M1384.2 204.6l8 -0.1l7.9 -0.1M1384.4 209.9l7.9 -0.2l8 -0.1M1384.6 215.7l7.9 -0.3l7.9 -0.3M1376.8 221.9l7.9 -0.4l8 -0.3M1377 227.7l7.9 -0.3l7.9 -0.3M1377.2 233.7l7.9 -0.4l7.9 -0.3M1369.4 239.7l7.9 -0.2l8 -0.3M1369.6 245.4l7.9 -0.2l7.9 -0.3M1369.7 251l8 -0.2l7.9 -0.3M1362 256.9l7.9 -0.2l8 -0.3M1362.2 262.4l7.9 -0.1l7.9 -0.2M1362.3 268l8 -0.1l7.9 -0.2M1362.5 273.6l7.9 -0.2l8 -0.1M1362.7 279.2l7.9 -0.2M1362.9 284.6l7.9 0M1363 289.9l8 0.1M1363.2 295.1l7.9 0.3M1363.4 300.4l7.9 0.3M1363.5 305.6l8 0.4M1363.7 311l7.9 0.3M1356 315.8l7.9 0.6l7.9 0.5M1356.1 321.1l8 0.7l7.9 0.5M1356.3 326.4l7.9 0.8l8 0.6M1356.5 331.8l7.9 0.7M1356.7 336.9l7.9 0.7l7.9 0.6M1356.8 341.6l8 1.2l7.9 0.6M1364.9 347.5l8 1.1M1365.1 352.3l7.9 1.1M1365.3 357.6l7.9 1M1365.4 363.1l8 0.9M1365.6 368.4l7.9 1.2M1365.8 373.3l7.9 1.6M1365.6 368.4l8.1 6.5M1365.4 363.1l8.1 6.5M1365.3 357.6l8.1 6.4M1365.1 352.3l8.1 6.3M1364.9 347.5l8.1 5.9M1356.7 336.9l8.1 5.9l8.1 5.8M1356.5 331.8l8.1 5.8l8.1 5.8M1356.3 326.4l8.1 6.1M1356.1 321.1l8.1 6.1M1356 315.8l8.1 6l8.1 6M1355.8 310.4l8.1 6l8.1 5.9M1363.7 311l8.1 5.9M1363.5 305.6l8.1 5.7M1363.4 300.4l8.1 5.6M1363.2 295.1l8.1 5.6M1363 289.9l8.1 5.5M1362.9 284.6l8.1 5.4M1362.7 279.2l8.1 5.4M1362.5 273.6l8.1 5.4M1362.3 268l8.1 5.4M1362.2 262.4l8.1 5.5l8.1 5.4M1362 256.9l8.1 5.4l8.1 5.4M1369.9 256.7l8.1 5.4M1369.7 251l8.2 5.4M1369.6 245.4l8.1 5.4M1369.4 239.7l8.1 5.5l8.1 5.3M1369.2 233.9l8.1 5.6l8.1 5.4M1377.2 233.7l8.1 5.5M1377 227.7l8.1 5.6M1376.8 221.9l8.1 5.5l8.1 5.6M1384.7 221.5l8.1 5.6M1384.6 215.7l8.1 5.5M1384.4 209.9l8.1 5.5l8.1 5.4M1384.2 204.6l8.1 5.1l8.1 5.4M1384.1 200.1l8.1 4.4l8.1 5.1M1375.8 191.3l8.1 4.4l8.1 4.4l8.1 4.3M1367.5 182.7l8.1 4.3l8.1 4.3l8.1 4.4"/><path stroke="#009fff" d="M1400.1 204.4l7.9 -0.1M1400.3 209.6l7.9 -0.2l7.9 -0.1M1400.4 215.1l8 -0.1l7.9 -0.2M1392.7 221.2l7.9 -0.4l7.9 -0.2M1392.8 227.1l8 -0.4l7.9 -0.4M1393 233l7.9 -0.4l8 -0.4M1385.3 239.2l7.9 -0.3l7.9 -0.4M1385.4 244.9l8 -0.2l7.9 -0.4M1385.6 250.5l7.9 -0.2M1377.9 256.4l7.9 -0.2l7.9 -0.3M1378 262.1l8 -0.3l7.9 -0.3M1378.2 267.7l7.9 -0.2l8 -0.3M1378.4 273.3l7.9 -0.1M1370.6 279l7.9 -0.1l8 -0.2M1370.8 284.6l7.9 -0.2l7.9 -0.2M1371 290l7.9 0l7.9 -0.2M1371.1 295.4l8 0.1l7.9 -0.1M1371.3 300.7l7.9 0.2M1371.5 306l7.9 0.2M1371.6 311.3l8 0.3M1371.8 316.9l8 0.3M1372 322.3l7.9 0.5M1372.2 327.8l7.9 0.5M1364.4 332.5l7.9 0.6l8 0.6M1372.5 338.2l7.9 0.6M1372.7 343.4l7.9 0.5M1372.9 348.6l7.9 0.5M1373 353.4l8 1M1373.2 358.6l7.9 1M1373.4 364l7.9 0.9M1373.5 369.6l8 0.8M1373.7 374.9l7.9 1.1M1373.5 369.6l8.1 6.4M1373.4 364l8.1 6.4M1373.2 358.6l8.1 6.3M1373 353.4l8.1 6.2M1372.9 348.6l8.1 5.8M1372.7 343.4l8.1 5.7M1364.4 332.5l8.1 5.7l8.1 5.7M1364.2 327.2l8.1 5.9l8.1 5.7M1372.2 327.8l8.1 5.9M1372 322.3l8.1 6M1371.8 316.9l8.1 5.9M1371.6 311.3l8.2 5.9M1371.5 306l8.1 5.6M1371.3 300.7l8.1 5.5M1371.1 295.4l8.1 5.5M1371 290l8.1 5.5M1370.8 284.6l8.1 5.4l8.1 5.4M1370.6 279l8.1 5.4l8.1 5.4M1370.4 273.4l8.1 5.5l8.1 5.3M1378.4 273.3l8.1 5.4M1378.2 267.7l8.1 5.5M1378 262.1l8.1 5.4M1377.9 256.4l8.1 5.4l8.1 5.4M1377.7 250.8l8.1 5.4l8.1 5.3M1385.6 250.5l8.1 5.4M1385.4 244.9l8.1 5.4M1385.3 239.2l8.1 5.5l8.1 5.3M1385.1 233.3l8.1 5.6l8.1 5.4M1393 233l8.1 5.5M1392.8 227.1l8.1 5.5M1392.7 221.2l8.1 5.5l8.1 5.5M1400.6 220.8l8.1 5.5M1400.4 215.1l8.1 5.5M1400.3 209.6l8.1 5.4M1400.1 204.4l8.1 5l8.1 5.4M1391.8 195.7l8.1 4.3l8.1 4.3l8.1 5"/><path stroke="#008fff" d="M1416.3 214.8l7.9 -0.1M1408.5 220.6l8 -0.2l7.9 -0.2M1408.7 226.3l7.9 -0.2l8 -0.3M1408.9 232.2l7.9 -0.4l7.9 -0.3M1401.1 238.5l8 -0.4l7.9 -0.4M1401.3 244.3l7.9 -0.3l8 -0.5M1393.5 250.3l8 -0.3l7.9 -0.3M1393.7 255.9l7.9 -0.3l8 -0.2M1393.9 261.5l7.9 -0.2l7.9 -0.3M1394.1 267.2l7.9 -0.3l7.9 -0.3M1386.3 273.2l7.9 -0.3l8 -0.3M1386.5 278.7l7.9 -0.2l7.9 -0.2M1386.6 284.2l8 -0.2l7.9 -0.1M1386.8 289.8l7.9 -0.2l8 -0.2M1387 295.4l7.9 -0.2M1379.2 300.9l8 0l7.9 0M1379.4 306.2l7.9 0.2l8 0M1379.6 311.6l7.9 0.2l7.9 0.2M1379.8 317.2l7.9 0.2l7.9 0.2M1379.9 322.8l8 0.2M1380.1 328.3l7.9 0.4M1380.3 333.7l7.9 0.4M1380.4 338.8l8 0.5M1380.6 343.9l7.9 0.6M1380.8 349.1l7.9 0.5M1381 354.4l7.9 0.5M1381.1 359.6l8 0.9M1381.3 364.9l7.9 0.9M1381.5 370.4l7.9 0.8M1381.6 376l8 0.7M1381.5 370.4l8.1 6.3M1381.3 364.9l8.1 6.3M1381.1 359.6l8.1 6.2M1381 354.4l8.1 6.1M1380.8 349.1l8.1 5.8M1380.6 343.9l8.1 5.7M1380.4 338.8l8.1 5.7M1380.3 333.7l8.1 5.6M1380.1 328.3l8.1 5.8M1379.9 322.8l8.1 5.9M1379.8 317.2l8.1 5.8M1379.6 311.6l8.1 5.8M1379.4 306.2l8.1 5.6l8.1 5.8M1379.2 300.9l8.1 5.5l8.1 5.6M1379.1 295.5l8.1 5.4l8.1 5.5M1387 295.4l8.1 5.5M1386.8 289.8l8.1 5.4M1386.6 284.2l8.1 5.4M1386.5 278.7l8.1 5.3l8.1 5.4M1386.3 273.2l8.1 5.3l8.1 5.4M1386.1 267.5l8.1 5.4l8.1 5.4M1394.1 267.2l8.1 5.4M1393.9 261.5l8.1 5.4M1393.7 255.9l8.1 5.4l8.1 5.3M1393.5 250.3l8.1 5.3l8.1 5.4M1401.5 250l8.1 5.4M1401.3 244.3l8.1 5.4M1401.1 238.5l8.1 5.5l8.1 5.3M1400.9 232.6l8.2 5.5l8.1 5.4M1408.9 232.2l8.1 5.5M1408.7 226.3l8.1 5.5M1408.5 220.6l8.1 5.5l8.1 5.4M1408.4 215l8.1 5.4l8.1 5.4M1416.3 214.8l8.1 5.4M1416.1 209.3l8.1 5.4"/><path stroke="#0080ff" d="M1424.4 220.2l7.9 -0.1M1424.6 225.8l7.9 -0.2l7.9 -0.2M1424.7 231.5l8 -0.2M1417 237.7l7.9 -0.4l7.9 -0.3M1417.2 243.5l7.9 -0.4l7.9 -0.4M1409.4 249.7l7.9 -0.4l8 -0.4M1409.6 255.4l7.9 -0.4l7.9 -0.4M1409.7 261l8 -0.3l7.9 -0.4M1409.9 266.6l7.9 -0.2M1402.2 272.6l7.9 -0.3l7.9 -0.3M1402.3 278.3l8 -0.4l7.9 -0.3M1402.5 283.9l7.9 -0.4l8 -0.3M1402.7 289.4l7.9 -0.2M1394.9 295.2l7.9 -0.2l8 -0.3M1395.1 300.9l7.9 -0.3l8 -0.3M1395.3 306.4l7.9 -0.1l7.9 -0.3M1395.4 312l8 -0.1M1395.6 317.6l7.9 0.1M1387.9 323l7.9 0.2l7.9 0.1M1388 328.7l8 0.2l7.9 0.1M1388.2 334.1l7.9 0.4M1388.4 339.3l7.9 0.4M1388.5 344.5l8 0.5M1388.7 349.6l7.9 0.5M1388.9 354.9l7.9 0.4M1389.1 360.5l7.9 0.4M1389.2 365.8l8 0.8M1389.4 371.2l7.9 0.8M1389.6 376.7l7.9 0.7M1389.4 371.2l8.1 6.2M1389.2 365.8l8.1 6.2M1389.1 360.5l8.1 6.1M1388.9 354.9l8.1 6M1388.7 349.6l8.1 5.7M1388.5 344.5l8.1 5.6M1388.4 339.3l8.1 5.7M1388.2 334.1l8.1 5.6M1388 328.7l8.1 5.8M1387.9 323l8.1 5.9M1387.7 317.4l8.1 5.8l8.1 5.8M1395.6 317.6l8.1 5.7M1395.4 312l8.1 5.7M1395.3 306.4l8.1 5.5M1395.1 300.9l8.1 5.4M1394.9 295.2l8.1 5.4l8.1 5.4M1394.7 289.6l8.1 5.4l8.2 5.3M1402.7 289.4l8.1 5.3M1402.5 283.9l8.1 5.3M1402.3 278.3l8.1 5.2l8.1 5.3M1402.2 272.6l8.1 5.3l8.1 5.3M1402 266.9l8.1 5.4l8.1 5.3M1409.9 266.6l8.1 5.4M1409.7 261l8.1 5.4M1409.6 255.4l8.1 5.3l8.1 5.3M1409.4 249.7l8.1 5.3l8.1 5.3M1417.3 249.3l8.1 5.3M1417.2 243.5l8.1 5.4M1417 237.7l8.1 5.4l8.1 5.3M1416.8 231.8l8.1 5.5l8.1 5.4M1424.7 231.5l8.1 5.5M1424.6 225.8l8.1 5.5M1424.4 220.2l8.1 5.4l8.1 5.4M1424.2 214.7l8.1 5.4l8.1 5.3"/><path stroke="#0070ff" d="M1432.7 231.3l7.9 -0.3l7.9 -0.2M1432.8 237l8 -0.3l7.9 -0.2M1433 242.7l7.9 -0.3l8 -0.3M1425.3 248.9l7.9 -0.5l7.9 -0.4M1425.4 254.6l8 -0.4l7.9 -0.5M1425.6 260.3l7.9 -0.4l8 -0.4M1417.8 266.4l8 -0.4l7.9 -0.3M1418 272l7.9 -0.3l8 -0.3M1418.2 277.6l7.9 -0.3l8 -0.3M1418.4 283.2l7.9 -0.3l7.9 -0.3M1410.6 289.2l7.9 -0.4l8 -0.3M1410.8 294.7l7.9 -0.2l7.9 -0.4M1411 300.3l7.9 -0.2l7.9 -0.3M1411.1 306l8 -0.3l7.9 -0.3M1403.4 311.9l7.9 -0.1l7.9 -0.3M1403.5 317.7l8 -0.1l7.9 -0.2M1403.7 323.3l7.9 0.1M1403.9 329l7.9 0M1396.1 334.5l8 0.1l7.9 0.1M1396.3 339.7l7.9 0.4l8 0M1396.5 345l7.9 0.3l7.9 0.3M1396.6 350.1l8 0.4l7.9 0.3M1396.8 355.3l7.9 0.4l8 0.4M1397 360.9l7.9 0.4l8 0.3M1397.2 366.6l7.9 0.4M1397.3 372l8 0.7M1397.5 377.4l7.9 0.8M1397.3 372l8.1 6.2M1397.2 366.6l8.1 6.1M1397 360.9l8.1 6.1M1396.8 355.3l8.1 6M1396.6 350.1l8.1 5.6l8.2 5.9M1396.5 345l8.1 5.5l8.1 5.6M1396.3 339.7l8.1 5.6l8.1 5.5M1396.1 334.5l8.1 5.6l8.1 5.5M1396 328.9l8.1 5.7l8.1 5.5M1403.9 329l8.1 5.7M1403.7 323.3l8.1 5.7M1403.5 317.7l8.1 5.7M1403.4 311.9l8.1 5.7l8.1 5.6M1403.2 306.3l8.1 5.5l8.1 5.6M1411.1 306l8.1 5.5M1411 300.3l8.1 5.4M1410.8 294.7l8.1 5.4l8.1 5.3M1410.6 289.2l8.1 5.3l8.1 5.3M1418.5 288.8l8.1 5.3M1418.4 283.2l8.1 5.3M1418.2 277.6l8.1 5.3M1418 272l8.1 5.3l8.1 5.3M1417.8 266.4l8.1 5.3l8.2 5.3M1425.8 266l8.1 5.4M1425.6 260.3l8.1 5.4M1425.4 254.6l8.1 5.3l8.1 5.4M1425.3 248.9l8.1 5.3l8.1 5.3M1433.2 248.4l8.1 5.3M1433 242.7l8.1 5.3M1432.8 237l8.1 5.4l8.1 5.2M1432.7 231.3l8.1 5.4l8.1 5.4M1440.6 231l8.1 5.5M1440.4 225.4l8.1 5.4"/><path stroke="#0060ff" d="M1448.7 236.5l7.9 -0.3M1448.9 242.1l7.9 -0.3l7.9 -0.3M1441.1 248l7.9 -0.4l8 -0.3M1441.3 253.7l7.9 -0.4l8 -0.4M1441.5 259.5l7.9 -0.5l7.9 -0.4M1433.7 265.7l7.9 -0.4l8 -0.5l7.9 -0.5M1433.9 271.4l7.9 -0.4l7.9 -0.4M1434.1 277l7.9 -0.3l7.9 -0.4M1434.2 282.6l8 -0.4l7.9 -0.3M1426.5 288.5l7.9 -0.4l7.9 -0.3M1426.6 294.1l8 -0.3l7.9 -0.4M1426.8 299.8l7.9 -0.4l8 -0.4M1427 305.4l7.9 -0.3M1419.2 311.5l8 -0.4l7.9 -0.3M1419.4 317.4l7.9 -0.4l8 -0.4M1411.6 323.4l8 -0.2l7.9 -0.2M1411.8 329l7.9 0.1l8 -0.2M1412 334.7l7.9 0M1412.2 340.1l7.9 0.1M1412.3 345.6l8 0.1M1412.5 350.8l7.9 0.3M1412.7 356.1l7.9 0.2M1412.9 361.6l7.9 0.3M1405.1 367l7.9 0.2l8 0.3M1405.3 372.7l7.9 0.3M1405.4 378.2l8 0.7M1405.3 372.7l8.1 6.2M1405.1 367l8.1 6M1404.9 361.3l8.1 5.9l8.1 6M1412.9 361.6l8.1 5.9M1412.7 356.1l8.1 5.8M1412.5 350.8l8.1 5.5M1412.3 345.6l8.1 5.5M1412.2 340.1l8.1 5.6M1412 334.7l8.1 5.5M1411.8 329l8.1 5.7M1411.6 323.4l8.1 5.7l8.1 5.6M1419.6 323.2l8.1 5.7M1419.4 317.4l8.1 5.6M1419.2 311.5l8.1 5.5M1419.1 305.7l8.1 5.4l8.1 5.5M1427 305.4l8.1 5.4M1426.8 299.8l8.1 5.3M1426.6 294.1l8.1 5.3l8.1 5.3M1426.5 288.5l8.1 5.3l8.1 5.2M1426.3 282.9l8.1 5.2l8.1 5.3M1434.2 282.6l8.1 5.2M1434.1 277l8.1 5.2M1433.9 271.4l8.1 5.3l8.1 5.2M1433.7 265.7l8.1 5.3l8.1 5.3M1441.6 265.3l8.1 5.3M1441.5 259.5l8.1 5.3M1441.3 253.7l8.1 5.3l8.1 5.3M1441.1 248l8.1 5.3l8.1 5.3M1449 247.6l8.2 5.3M1448.9 242.1l8.1 5.2M1448.7 236.5l8.1 5.3l8.1 5.2M1448.5 230.8l8.1 5.4l8.1 5.3"/><path stroke="#0050ff" d="M1457 247.3l7.9 -0.3l7.9 -0.3M1457.2 252.9l7.9 -0.3l7.9 -0.3M1457.3 258.6l8 -0.4l7.9 -0.3M1457.5 264.3l7.9 -0.4l8 -0.4M1449.7 270.6l8 -0.5l7.9 -0.5M1449.9 276.3l7.9 -0.4l8 -0.5M1450.1 281.9l7.9 -0.4l7.9 -0.4M1442.3 287.8l8 -0.3l7.9 -0.4M1442.5 293.4l7.9 -0.3l8 -0.4M1442.7 299l7.9 -0.3l7.9 -0.4M1434.9 305.1l7.9 -0.4l8 -0.4M1435.1 310.8l7.9 -0.3l7.9 -0.4M1435.3 316.6l7.9 -0.3l7.9 -0.4M1427.5 323l7.9 -0.5l8 -0.4M1427.7 328.9l7.9 -0.4l7.9 -0.4M1419.9 334.7l7.9 0l8 -0.2M1420.1 340.2l7.9 -0.1l8 0M1420.3 345.7l7.9 0l7.9 -0.1M1420.4 351.1l8 0l7.9 -0.1M1420.6 356.3l7.9 0.3l8 -0.1M1420.8 361.9l7.9 0.2M1421 367.5l7.9 0.2M1413.2 373l7.9 0.2l8 0.1M1413.4 378.9l7.9 0.2l7.9 0M1413.2 373l8.1 6.1M1421.1 373.2l8.1 5.9M1421 367.5l8.1 5.8M1420.8 361.9l8.1 5.8M1420.6 356.3l8.1 5.8M1420.4 351.1l8.1 5.5M1420.3 345.7l8.1 5.4l8.1 5.4M1420.1 340.2l8.1 5.5l8.1 5.3M1419.9 334.7l8.1 5.4l8.1 5.5M1427.8 334.7l8.2 5.4M1427.7 328.9l8.1 5.6M1427.5 323l8.1 5.5l8.1 5.6M1427.3 317l8.1 5.5l8.1 5.6M1435.3 316.6l8.1 5.5M1435.1 310.8l8.1 5.5l8.1 5.4M1434.9 305.1l8.1 5.4l8.1 5.4M1442.8 304.7l8.1 5.4M1442.7 299l8.1 5.3M1442.5 293.4l8.1 5.3l8.1 5.2M1442.3 287.8l8.1 5.3l8.1 5.2M1442.2 282.2l8.1 5.3l8.1 5.2M1450.1 281.9l8.1 5.2M1449.9 276.3l8.1 5.2M1449.7 270.6l8.1 5.3l8.1 5.2M1449.6 264.8l8.1 5.3l8.1 5.3M1457.5 264.3l8.1 5.3M1457.3 258.6l8.1 5.3M1457.2 252.9l8.1 5.3l8.1 5.3M1457 247.3l8.1 5.3l8.1 5.3M1464.9 247l8.1 5.3M1464.7 241.5l8.1 5.2"/><path stroke="#0040ff" d="M1473 252.3l7.9 -0.3M1473.2 257.9l7.9 -0.4l7.9 -0.3M1473.4 263.5l7.9 -0.4l7.9 -0.3M1465.6 269.6l7.9 -0.4l8 -0.4M1465.8 275.4l7.9 -0.5l7.9 -0.5M1465.9 281.1l8 -0.5l7.9 -0.5M1458.2 287.1l7.9 -0.4l7.9 -0.4M1458.4 292.7l7.9 -0.4l7.9 -0.4M1458.5 298.3l8 -0.4l7.9 -0.4M1450.8 304.3l7.9 -0.4l7.9 -0.4l8 -0.3M1450.9 310.1l8 -0.4l7.9 -0.5M1451.1 315.9l8 -0.5l7.9 -0.4M1443.4 322.1l7.9 -0.4l7.9 -0.4M1443.5 328.1l8 -0.5l7.9 -0.4M1435.8 334.5l7.9 -0.4l7.9 -0.5M1436 340.1l7.9 -0.3l7.9 -0.4M1436.1 345.6l8 -0.1l7.9 -0.3M1436.3 351l7.9 -0.1M1436.5 356.5l7.9 -0.1M1428.7 362.1l7.9 0.2l8 -0.2M1428.9 367.7l7.9 0.1l7.9 0.2M1429.1 373.3l7.9 0.2M1429.2 379.1l8 0.1M1429.1 373.3l8.1 5.9M1428.9 367.7l8.1 5.8M1428.7 362.1l8.1 5.7l8.1 5.8M1428.5 356.6l8.1 5.7l8.1 5.7M1436.5 356.5l8.1 5.6M1436.3 351l8.1 5.4M1436.1 345.6l8.1 5.3M1436 340.1l8.1 5.4M1435.8 334.5l8.1 5.3l8.1 5.4M1443.7 334.1l8.1 5.3M1443.5 328.1l8.1 5.5M1443.4 322.1l8.1 5.5l8.1 5.5M1451.3 321.7l8.1 5.5M1451.1 315.9l8.1 5.4M1450.9 310.1l8.2 5.3l8.1 5.4M1450.8 304.3l8.1 5.4l8.1 5.3M1458.7 303.9l8.1 5.3M1458.5 298.3l8.1 5.2M1458.4 292.7l8.1 5.2l8.1 5.3M1458.2 287.1l8.1 5.2l8.1 5.2M1458 281.5l8.1 5.2l8.1 5.2M1465.9 281.1l8.1 5.2M1465.8 275.4l8.1 5.2l8.1 5.2M1465.6 269.6l8.1 5.3l8.1 5.2M1465.4 263.9l8.1 5.3l8.1 5.2M1473.4 263.5l8.1 5.3M1473.2 257.9l8.1 5.2M1473 252.3l8.1 5.2l8.1 5.3M1472.8 246.7l8.1 5.3l8.1 5.2"/><path stroke="#0030ff" d="M1489.2 262.8l7.9 -0.4M1481.5 268.8l7.9 -0.4l7.9 -0.4M1481.6 274.4l8 -0.4l7.9 -0.4M1481.8 280.1l7.9 -0.5l8 -0.5M1474 286.3l8 -0.5l7.9 -0.6l7.9 -0.5M1474.2 291.9l7.9 -0.4l8 -0.6M1474.4 297.5l7.9 -0.4l8 -0.5M1474.6 303.2l7.9 -0.4l7.9 -0.5M1466.8 309.2l7.9 -0.4l8 -0.4M1467 315l7.9 -0.4l7.9 -0.5M1459.2 321.3l8 -0.5l7.9 -0.5l7.9 -0.4M1459.4 327.2l7.9 -0.5l8 -0.5M1451.6 333.6l8 -0.5l7.9 -0.5l7.9 -0.5M1451.8 339.4l7.9 -0.5l8 -0.6M1452 345.2l7.9 -0.5l7.9 -0.5M1444.2 350.9l8 -0.1l7.9 -0.4M1444.4 356.4l7.9 -0.2l8 -0.1M1444.6 362.1l7.9 -0.2l7.9 -0.2M1444.7 368l8 -0.3M1437 373.5l7.9 0.1l7.9 0.1M1437.2 379.2l7.9 0.1l7.9 0M1437 373.5l8.1 5.8M1444.9 373.6l8.1 5.7M1444.7 368l8.1 5.7M1444.6 362.1l8.1 5.6M1444.4 356.4l8.1 5.5l8.1 5.6M1444.2 350.9l8.1 5.3l8.1 5.5M1444.1 345.5l8.1 5.3l8.1 5.3M1452 345.2l8.1 5.2M1451.8 339.4l8.1 5.3l8.1 5.2M1451.6 333.6l8.1 5.3l8.1 5.3M1459.6 333.1l8.1 5.2M1459.4 327.2l8.1 5.4M1459.2 321.3l8.1 5.4l8.1 5.4M1467.2 320.8l8.1 5.4M1467 315l8.1 5.3M1466.8 309.2l8.1 5.4l8.1 5.3M1466.6 303.5l8.1 5.3l8.1 5.3M1474.6 303.2l8.1 5.2M1474.4 297.5l8.1 5.3M1474.2 291.9l8.1 5.2l8.1 5.2M1474 286.3l8.1 5.2l8.2 5.1M1482 285.8l8.1 5.1M1481.8 280.1l8.1 5.1M1481.6 274.4l8.1 5.2l8.1 5.1M1481.5 268.8l8.1 5.2l8.1 5.1M1481.3 263.1l8.1 5.3l8.1 5.2M1489.2 262.8l8.1 5.2M1489 257.2l8.1 5.2"/><path stroke="#0020ff" d="M1497.3 268l7.9 -0.4M1497.5 273.6l7.9 -0.4l8 -0.4M1497.7 279.1l7.9 -0.4l7.9 -0.4M1497.8 284.7l8 -0.5l7.9 -0.4M1490.1 290.9l7.9 -0.5l7.9 -0.5M1490.3 296.6l7.9 -0.5l7.9 -0.5M1490.4 302.3l8 -0.5l7.9 -0.5M1482.7 308.4l7.9 -0.4l7.9 -0.5M1482.8 314.1l8 -0.4l7.9 -0.5M1483 319.9l7.9 -0.5l8 -0.5M1475.3 326.2l7.9 -0.5l7.9 -0.5M1475.4 332.1l8 -0.6l7.9 -0.5M1467.7 338.3l7.9 -0.5l7.9 -0.5M1467.8 344.2l8 -0.6l7.9 -0.6M1460.1 350.4l7.9 -0.5l7.9 -0.6l8 -0.6M1460.3 356.1l7.9 -0.5l7.9 -0.5M1460.4 361.7l8 -0.2l7.9 -0.4M1452.7 367.7l7.9 -0.2l7.9 -0.2M1452.8 373.7l8 -0.3l7.9 -0.3M1453 379.3l8 0M1452.8 373.7l8.2 5.6M1452.7 367.7l8.1 5.7l8.1 5.6M1460.6 367.5l8.1 5.6M1460.4 361.7l8.1 5.6M1460.3 356.1l8.1 5.4M1460.1 350.4l8.1 5.2l8.1 5.5M1468 349.9l8.1 5.2M1467.8 344.2l8.1 5.1M1467.7 338.3l8.1 5.3l8.1 5.1M1467.5 332.6l8.1 5.2l8.1 5.2M1475.4 332.1l8.1 5.2M1475.3 326.2l8.1 5.3l8.1 5.2M1475.1 320.3l8.1 5.4l8.1 5.3M1483 319.9l8.1 5.3M1482.8 314.1l8.1 5.3M1482.7 308.4l8.1 5.3l8.1 5.2M1482.5 302.8l8.1 5.2l8.1 5.2M1490.4 302.3l8.1 5.2M1490.3 296.6l8.1 5.2l8.1 5.3M1490.1 290.9l8.1 5.2l8.1 5.2M1489.9 285.2l8.1 5.2l8.1 5.2M1497.8 284.7l8.1 5.2M1497.7 279.1l8.1 5.1l8.1 5.2M1497.5 273.6l8.1 5.1l8.1 5.1M1497.3 268l8.1 5.2l8.1 5.1M1497.1 262.4l8.1 5.2l8.2 5.2"/><path stroke="#0010ff" d="M1513.5 278.3l8 -0.4M1513.7 283.8l7.9 -0.4l8 -0.4M1505.9 289.9l8 -0.5l7.9 -0.5l7.9 -0.4M1506.1 295.6l7.9 -0.6l8 -0.5M1506.3 301.3l7.9 -0.6l7.9 -0.6M1498.5 307.5l8 -0.4l7.9 -0.6l7.9 -0.6M1498.7 313.2l7.9 -0.5l8 -0.5M1498.9 318.9l7.9 -0.5l7.9 -0.5M1491.1 325.2l7.9 -0.5l8 -0.5M1491.3 331l7.9 -0.6l7.9 -0.5M1483.5 337.3l8 -0.6l7.9 -0.6l7.9 -0.5M1483.7 343l7.9 -0.5l8 -0.6M1483.9 348.7l7.9 -0.6l7.9 -0.6M1476.1 355.1l7.9 -0.7l8 -0.6l7.9 -0.6M1476.3 361.1l7.9 -0.7l8 -0.7M1468.5 367.3l8 -0.3l7.9 -0.5M1468.7 373.1l7.9 -0.3l8 -0.3M1461 379.3l7.9 -0.3l7.9 -0.4M1468.7 373.1l8.1 5.5M1468.5 367.3l8.1 5.5l8.1 5.5M1468.4 361.5l8.1 5.5l8.1 5.5M1476.3 361.1l8.1 5.4M1476.1 355.1l8.1 5.3l8.1 5.4M1475.9 349.3l8.1 5.1l8.2 5.3M1483.9 348.7l8.1 5.1M1483.7 343l8.1 5.1l8.1 5.1M1483.5 337.3l8.1 5.2l8.1 5M1491.5 336.7l8.1 5.2M1491.3 331l8.1 5.1l8.1 5.2M1491.1 325.2l8.1 5.2l8.1 5.2M1490.9 319.4l8.1 5.3l8.1 5.2M1498.9 318.9l8.1 5.3M1498.7 313.2l8.1 5.2l8.1 5.2M1498.5 307.5l8.1 5.2l8.1 5.2M1506.5 307.1l8.1 5.1M1506.3 301.3l8.1 5.2M1506.1 295.6l8.1 5.1l8.1 5.2M1505.9 289.9l8.1 5.1l8.1 5.1M1513.9 289.4l8.1 5.1M1513.7 283.8l8.1 5.1M1513.5 278.3l8.1 5.1l8.1 5.1M1513.4 272.8l8.1 5.1l8.1 5.1"/><path stroke="#0000ff" d="M1529.7 288.5l8 -0.5M1522 294.5l7.9 -0.5l7.9 -0.5M1522.1 300.1l8 -0.5l7.9 -0.5M1522.3 305.9l7.9 -0.6l8 -0.5M1514.6 312.2l7.9 -0.6l7.9 -0.6l8 -0.6M1514.7 317.9l8 -0.5l7.9 -0.7M1507 324.2l7.9 -0.6l7.9 -0.5l8 -0.6M1507.1 329.9l8 -0.5l7.9 -0.6M1507.3 335.6l8 -0.6l7.9 -0.5M1499.6 341.9l7.9 -0.6l7.9 -0.6l8 -0.6M1499.7 347.5l8 -0.6l7.9 -0.6M1499.9 353.2l7.9 -0.6l8 -0.7M1492.2 359.7l7.9 -0.6l7.9 -0.7l7.9 -0.7M1484.4 366.5l7.9 -0.7l8 -0.8l7.9 -0.7M1484.6 372.5l7.9 -0.6l7.9 -0.8M1476.8 378.6l7.9 -0.3l8 -0.4M1484.6 372.5l8.1 5.4M1484.4 366.5l8.1 5.4l8.1 5.4M1492.3 365.8l8.1 5.3M1492.2 359.7l8.1 5.3l8.1 5.3M1492 353.8l8.1 5.3l8.1 5.2M1499.9 353.2l8.1 5.2M1499.7 347.5l8.1 5.1l8.1 5.1M1499.6 341.9l8.1 5l8.1 5M1507.5 341.3l8.1 5M1507.3 335.6l8.1 5.1l8.1 5M1507.1 329.9l8.2 5.1l8.1 5.1M1507 324.2l8.1 5.2l8.1 5.1M1514.9 323.6l8.1 5.2M1514.7 317.9l8.1 5.2l8.1 5.1M1514.6 312.2l8.1 5.2l8.1 5.1M1514.4 306.5l8.1 5.1l8.1 5.1M1522.3 305.9l8.1 5.1M1522.1 300.1l8.1 5.2l8.2 5.1M1522 294.5l8.1 5.1l8.1 5.2M1521.8 288.9l8.1 5.1l8.1 5.1M1529.7 288.5l8.1 5M1529.6 283l8.1 5l8.1 5.1"/><path stroke="#0000ef" d="M1537.8 293.5l8 -0.4M1538 299.1l7.9 -0.5l8 -0.5M1538.2 304.8l7.9 -0.6l7.9 -0.5M1538.4 310.4l7.9 -0.6l7.9 -0.6M1530.6 316.7l7.9 -0.6l8 -0.7l7.9 -0.6M1530.8 322.5l7.9 -0.6l7.9 -0.7M1523 328.8l7.9 -0.6l8 -0.6l7.9 -0.6M1523.2 334.5l7.9 -0.6l7.9 -0.6M1523.4 340.1l7.9 -0.5l7.9 -0.6M1515.6 346.3l7.9 -0.6l8 -0.6l7.9 -0.6M1515.8 351.9l7.9 -0.6l7.9 -0.7l8 -0.6M1515.9 357.7l8 -0.7l7.9 -0.7M1508.2 364.3l7.9 -0.7l7.9 -0.7l8 -0.8M1500.4 371.1l8 -0.8l7.9 -0.7l7.9 -0.8M1492.7 377.9l7.9 -0.6l7.9 -0.8l8 -0.9M1500.4 371.1l8.1 5.4M1508.4 370.3l8.1 5.3M1508.2 364.3l8.1 5.3l8.1 5.2M1508 358.4l8.1 5.2l8.1 5.2M1515.9 357.7l8.1 5.2M1515.8 351.9l8.1 5.1l8.1 5.1M1515.6 346.3l8.1 5l8.1 5M1523.5 345.7l8.1 4.9M1523.4 340.1l8.1 5l8.1 4.9M1523.2 334.5l8.1 5.1l8.1 4.9M1523 328.8l8.1 5.1l8.1 5.1M1530.9 328.2l8.1 5.1M1530.8 322.5l8.1 5.1M1530.6 316.7l8.1 5.2l8.1 5.1M1530.4 311l8.1 5.1l8.1 5.1M1538.4 310.4l8.1 5M1538.2 304.8l8.1 5l8.1 5M1538 299.1l8.1 5.1l8.1 5M1537.8 293.5l8.1 5.1l8.1 5.1M1545.8 293.1l8.1 5"/><path stroke="#0000df" d="M1554 303.7l8 -0.5M1554.2 309.2l7.9 -0.5l8 -0.6M1554.4 314.8l7.9 -0.6l7.9 -0.6M1546.6 321.2l8 -0.7l7.9 -0.7l7.9 -0.6M1546.8 327l7.9 -0.8l8 -0.7M1539 333.3l8 -0.6l7.9 -0.7l7.9 -0.8M1539.2 339l7.9 -0.6l8 -0.6M1539.4 344.5l7.9 -0.6l7.9 -0.7M1539.6 350l7.9 -0.7l7.9 -0.6M1531.8 356.3l7.9 -0.7l8 -0.6l7.9 -0.7M1532 362.1l7.9 -0.7l7.9 -0.7M1524.2 368.8l7.9 -0.8l8 -0.8l7.9 -0.7M1516.5 375.6l7.9 -0.8l7.9 -0.8l7.9 -0.8M1524.2 368.8l8.1 5.2M1524 362.9l8.1 5.1l8.1 5.2M1532 362.1l8.1 5.1M1531.8 356.3l8.1 5.1l8.1 5.1M1531.6 350.6l8.1 5l8.1 5.1M1539.6 350l8.1 5M1539.4 344.5l8.1 4.8l8.1 5M1539.2 339l8.1 4.9l8.1 4.8M1539 333.3l8.1 5.1l8.1 4.8M1538.9 327.6l8.1 5.1l8.1 5.1M1546.8 327l8.1 5l8.1 5M1546.6 321.2l8.1 5l8.1 5M1546.5 315.4l8.1 5.1l8.1 5M1554.4 314.8l8.1 5M1554.2 309.2l8.1 5l8.1 5M1554 303.7l8.1 5l8.1 4.9M1553.9 298.1l8.1 5.1l8.1 4.9"/><path stroke="#0000cf" d="M1570.2 313.6l8 -0.6M1570.4 319.2l7.9 -0.7l8 -0.6M1562.7 325.5l7.9 -0.7l7.9 -0.7l7.9 -0.6M1562.8 331.2l8 -0.7l7.9 -0.7M1555.1 337.8l7.9 -0.8l7.9 -0.7l8 -0.8M1555.2 343.2l8 -0.6l7.9 -0.8l7.9 -0.7M1555.4 348.7l7.9 -0.7l8 -0.6M1555.6 354.3l7.9 -0.7l8 -0.7M1547.8 360.7l8 -0.7l7.9 -0.8l7.9 -0.7M1548 366.5l7.9 -0.8l8 -0.7M1540.2 373.2l8 -0.9l7.9 -0.8l7.9 -0.8M1540.1 367.2l8.1 5.1M1548 366.5l8.1 5M1547.8 360.7l8.1 5l8.1 5M1547.7 355l8.1 5l8.1 5M1555.6 354.3l8.1 4.9l8.1 5M1555.4 348.7l8.1 4.9l8.1 4.9M1555.2 343.2l8.1 4.8l8.2 4.9M1555.1 337.8l8.1 4.8l8.1 4.8M1563 337l8.1 4.8l8.1 4.8M1562.8 331.2l8.1 5.1l8.1 4.8M1562.7 325.5l8.1 5l8.1 5M1562.5 319.8l8.1 5l8.1 5M1570.4 319.2l8.1 4.9l8.1 5M1570.2 313.6l8.1 4.9l8.1 5M1570.1 308.1l8.1 4.9l8.1 4.9"/><path stroke="#0000bf" d="M1586.4 323.5l8 -0.7M1578.7 329.8l7.9 -0.7l8 -0.7l7.9 -0.7M1578.9 335.5l7.9 -0.7l7.9 -0.8l8 -0.7M1579 341.1l8 -0.8l7.9 -0.8M1571.3 347.4l7.9 -0.8l7.9 -0.8l8 -0.8M1571.5 352.9l7.9 -0.7l7.9 -0.8l7.9 -0.8M1571.6 358.5l8 -0.7l7.9 -0.7M1563.9 365l7.9 -0.8l7.9 -0.8l8 -0.7M1564 370.7l8 -0.8l7.9 -0.7l7.9 -0.8M1563.9 365l8.1 4.9M1571.8 364.2l8.1 5M1571.6 358.5l8.1 4.9l8.1 5M1571.5 352.9l8.1 4.9l8.1 4.9M1571.3 347.4l8.1 4.8l8.1 4.9M1579.2 346.6l8.1 4.8l8.1 4.8M1579 341.1l8.1 4.7l8.1 4.8M1578.9 335.5l8.1 4.8l8.1 4.7M1578.7 329.8l8.1 5l8.1 4.7M1586.6 329.1l8.1 4.9l8.1 4.7M1586.4 323.5l8.2 4.9l8.1 4.9M1586.3 317.9l8.1 4.9l8.1 4.9"/><path stroke="#0000af" d="M1602.7 333.3l7.9 -0.7M1594.9 339.5l7.9 -0.8l8 -0.7l7.9 -0.8M1595.1 345l7.9 -0.8l7.9 -0.8l8 -0.8M1595.2 350.6l8 -0.9l7.9 -0.9l7.9 -0.8M1587.5 357.1l7.9 -0.9l7.9 -0.9l8 -0.9M1587.7 362.7l7.9 -0.8l7.9 -0.9l7.9 -0.9M1587.8 368.4l8 -0.8l7.9 -0.8M1587.7 362.7l8.1 4.9M1587.5 357.1l8.1 4.8l8.1 4.9M1595.4 356.2l8.1 4.8l8.1 4.8M1595.2 350.6l8.1 4.7l8.1 4.8M1595.1 345l8.1 4.7l8.1 4.7M1594.9 339.5l8.1 4.7l8.1 4.6l8.1 4.7M1602.8 338.7l8.1 4.7l8.1 4.6M1602.7 333.3l8.1 4.7l8.1 4.6M1602.5 327.7l8.1 4.9l8.1 4.6"/><path stroke="#00009f" d="M1618.9 342.6l7.9 -0.8M1619 348l8 -0.8l7.9 -0.9M1611.3 354.4l7.9 -0.9l7.9 -0.8l8 -0.9M1611.4 360.1l8 -0.9l7.9 -1l7.9 -0.9M1603.7 366.8l7.9 -1l8 -0.9l7.9 -1l7.9 -1M1611.4 360.1l8.2 4.8M1611.3 354.4l8.1 4.8l8.1 4.7M1619.2 353.5l8.1 4.7l8.1 4.7M1619 348l8.1 4.7l8.1 4.6M1618.9 342.6l8.1 4.6l8.1 4.6M1618.7 337.2l8.1 4.6l8.1 4.5l8.1 4.6"/><path stroke="#00008f" d="M1635.1 351.8l7.9 -0.9M1635.2 357.3l8 -0.9l7.9 -1M1635.4 362.9l7.9 -1l8 -0.9l7.9 -1M1635.2 357.3l8.1 4.6M1635.1 351.8l8.1 4.6l8.1 4.6M1643 350.9l8.1 4.5l8.1 4.6"/><path stroke="#800000" d="M1042.2 118.2l8.1 7.4"/></g>
<path d="M999.4 375.8L999.4 101" stroke="#000" stroke-width="1.5" fill="none"/>
<path d="M999.4 375L1302.5 499.1M1302.5 499.1L1700 404.1M1100.4 416.4L1090.7 418.7M1201.5 457.7L1191.7 460.1M999.4 375L989.7 377.3M1302.5 499.1L1292.8 501.4M1382 480.1L1393.4 484.8M1461.5 461.1L1472.9 465.8M1541 442.1L1552.4 446.8M1620.5 423.1L1631.9 427.8M1700 404.1L1711.4 408.8M999.4 306.5L992.5 303.7M999.4 238L992.5 235.2M999.4 169.5L992.5 166.7M999.4 375L992.5 372.2M999.4 101L992.5 98.2" stroke="#000" stroke-width="1.7" fill="none" stroke-linecap="butt"/>
<text transform="translate(971.15 105.1) scale(1 1.03)" font-size="32.5">6</text>
<text transform="translate(947.62 177) scale(1 1.03)" font-size="32.5">5.5</text>
<text transform="translate(971.4 244) scale(1 1.03)" font-size="32.5">5</text>
<text transform="translate(947.62 311.6) scale(1 1.03)" font-size="32.5">4.5</text>
<text transform="translate(970.65 376.7) scale(1 1.03)" font-size="32.5">4</text>
<text transform="translate(961.23 403.7) scale(1 1.03)" font-size="32.5">60</text>
<text transform="translate(1052.33 446.6) scale(1 1.03)" font-size="32.5">50</text>
<text transform="translate(1157.38 488.7) scale(1 1.03)" font-size="32.5">40</text>
<text transform="translate(1262.9 530.7) scale(1 1.03)" font-size="32.5">30</text>
<text transform="translate(1378.75 514.9) scale(1 1.03)" font-size="32.5">0.8</text>
<text transform="translate(1481.94 493.7) scale(1 1.03)" font-size="32.5">1</text>
<text transform="translate(1541.33 476.2) scale(1 1.03)" font-size="32.5">1.2</text>
<text transform="translate(1623.88 457) scale(1 1.03)" font-size="32.5">1.4</text>
<text transform="translate(1705.97 437) scale(1 1.03)" font-size="32.5">1.6</text>
<text transform="translate(898.5 416.97) rotate(-90) scale(1.02 1)" font-size="32.2">Cutting specific energy</text>
<text transform="translate(936.8 428.09) rotate(-90) scale(1.03 1)" font-size="32.2">consumption (kW·h/m<tspan font-size="21.5" dy="-10.9">3</tspan><tspan dy="10.9">)</tspan></text>
<text transform="translate(923.12 539) scale(1 1.03)" font-size="32.2">Rotation speed (r/min)</text>
<text transform="translate(1343.25 548.7) scale(1 1.03)" font-size="32.2">Cross-swing speed (m/min)</text>
<text x="1298.03" y="602.6" font-size="43.5">(b)</text>
<path d="M511.1 1132.9L212.1 1007.2M588.9 1113.6L290 987.6M666.6 1094.4L368 967.9M744.4 1075.1L445.9 948.3M822.1 1055.9L523.9 928.6M134.1 1026.9L523.9 928.6M233.9 1068.6L623.3 971M333.6 1110.4L722.7 1013.5M212.1 731.9L212.1 1007.2M290 712.3L290 987.6M368 692.6L368 967.9M445.9 673L445.9 948.3M523.9 653.3L523.9 928.6M134.1 958.1L523.9 859.8M134.1 889.3L523.9 790.9M134.1 820.4L523.9 722.1M134.1 751.6L523.9 653.3M623.3 695.7L623.3 971M722.7 738.2L722.7 1013.5M822.1 780.6L822.1 1055.9M523.9 859.8L822.1 987.1M523.9 790.9L822.1 918.3M523.9 722.1L822.1 849.4M523.9 653.3L822.1 780.6" stroke="#000" stroke-width="1.65" stroke-dasharray="4.8 3.5" fill="none"/>
<polygon points="172.8,960.7 182.9,964.3 192.9,968 203,971.6 213,975.2 223.1,978.2 233.1,981.2 243.2,984.2 253.2,987.3 263.2,990.3 273.3,993.1 283.4,995.9 293.4,998.7 303.5,1001.5 313.5,1004.3 323.6,1006.6 333.6,1008.8 343.6,1011 353.7,1013.2 363.8,1015.4 373.8,1017.1 383.9,1018.8 393.9,1020.4 404,1022 414,1023.6 424.1,1025.2 434.1,1025.8 444.2,1026.3 454.2,1026.9 464.2,1027.4 474.3,1028 484,1021.6 493.8,1015.1 503.5,1008.7 513.2,1002.3 522.9,995.9 532.6,989.4 542.4,983 552.1,976.5 561.8,970.1 571.5,963.7 581.3,957.2 591,950.5 600.7,943.8 610.5,937 620.2,930.3 629.9,923.5 639.6,916.8 649.4,910 659.1,903.2 668.8,896.5 678.5,889.7 688.2,882.9 698,876.1 707.7,869.4 717.4,861.7 727.1,853.8 736.9,846 746.6,838.1 756.3,830.3 766,822.5 775.8,814.6 785.5,806.8 775.5,811.1 765.4,815.4 755.4,819.6 745.3,822.6 735.2,825.7 725.2,828.1 715.2,829.8 705.1,831.4 695,832.8 685,833.8 675,834.8 664.9,835.6 654.8,835.4 644.8,835.3 634.8,835.1 624.7,834.5 614.7,833.8 604.6,833.2 594.5,832 584.5,830.8 574.5,829.7 564.4,828.5 554.4,827 544.3,825.5 534.2,824 524.2,822.5 514.1,820.9 504.1,819.3 494.1,817.7 484,816.1 474.3,820.5 464.6,824.8 454.8,829.2 445.1,833.5 435.4,837.9 425.6,842.3 415.9,846.7 406.2,851 396.5,855.4 386.8,859.8 377,864.2 367.3,868.6 357.6,873.1 347.9,877.7 338.1,882.3 328.4,886.8 318.7,891.4 309,896 299.2,900.6 289.5,905.1 279.8,909.8 270.1,914.4 260.3,919 250.6,923.7 240.9,928.3 231.2,932.9 221.4,937.6 211.7,942.2 202,946.8 192.2,951.4 182.5,956.1" fill="#fff" stroke="none"/>
<g fill="none" stroke-width="1.7" stroke-linejoin="round"><path stroke="#00008f" d="M172.8 960.7l9.7 -4.6M182.9 964.3l9.7 -4.6M192.9 968l9.7 -4.7M203 971.6l9.7 -4.8M172.8 960.7l10.1 3.6l10 3.7l10.1 3.6l10 3.6l10 3M182.5 956.1l10.1 3.6l10 3.6"/><path stroke="#00009f" d="M182.5 956.1l9.7 -4.7l9.8 -4.6M192.6 959.7l9.7 -4.7l9.7 -4.7M202.6 963.3l9.8 -4.8M212.7 966.8l9.7 -4.7M213 975.2l9.7 -4.8l9.7 -4.9M223 978.2l9.8 -4.9M233.1 981.2l9.7 -4.9M223 978.2l10.1 3l10.1 3l10 3.1M202.6 963.3l10.1 3.5l10 3.6l10.1 2.9M192.2 951.4l10.1 3.6l10.1 3.5l10 3.6"/><path stroke="#0000af" d="M202 946.8l9.7 -4.6M212 950.3l9.8 -4.7M212.4 958.5l9.7 -4.7l9.7 -4.7M222.4 962.1l9.7 -4.8M232.4 965.5l9.8 -4.8M232.8 973.3l9.7 -4.8l9.7 -4.8M242.8 976.3l9.8 -4.8M243.2 984.2l9.7 -4.9l9.7 -4.8M253.2 987.3l9.7 -5M263.2 990.3l9.8 -5M253.2 987.3l10 3l10.1 2.8M232.8 973.3l10 3l10.1 3l10 3M222.4 962.1l10 3.4l10.1 3l10.1 3M202 946.8l10 3.5l10.1 3.5l10 3.5l10.1 3.4M211.7 942.2l10.1 3.4"/><path stroke="#0000bf" d="M211.7 942.2l9.7 -4.6l9.8 -4.7M221.8 945.6l9.7 -4.6M231.8 949.1l9.7 -4.7M232.1 957.3l9.7 -4.7l9.8 -4.8M242.2 960.7l9.7 -4.8M252.2 963.7l9.8 -4.8M252.6 971.5l9.7 -4.9M262.6 974.5l9.7 -4.9M262.9 982.3l9.8 -4.9M273 985.3l9.7 -4.9M273.3 993.1l9.7 -5M283.4 995.9l9.7 -5M273.3 993.1l10.1 2.8l10 2.8M262.9 982.3l10.1 3l10 2.8l10.1 2.8M252.6 971.5l10 3l10.1 2.9l10 3M242.2 960.7l10 3l10.1 2.9l10 3M221.8 945.6l10 3.5l10 3.5l10.1 3.3l10.1 3M221.4 937.6l10.1 3.4l10 3.4"/><path stroke="#0000cf" d="M231.2 932.9l9.7 -4.6M231.5 941l9.7 -4.7l9.7 -4.7M241.5 944.4l9.7 -4.7M251.6 947.8l9.7 -4.8M251.9 955.9l9.7 -4.8l9.8 -4.8M262 958.9l9.7 -4.9M262.3 966.6l9.7 -4.8l9.7 -4.9M272.3 969.6l9.7 -4.9M272.7 977.4l9.7 -4.9l9.7 -4.9M282.7 980.4l9.7 -5M283 988.1l9.8 -5M293.1 990.9l9.7 -5M293.4 998.7l9.7 -5M303.5 1001.5l9.7 -5.1M293.4 998.7l10.1 2.8l10 2.8l10.1 2.3M293.1 990.9l10 2.8l10.1 2.7M282.7 980.4l10.1 2.7l10 2.8M272.3 969.6l10.1 2.9l10 2.9M262 958.9l10 2.9l10 2.9M241.5 944.4l10.1 3.4l10 3.3l10.1 2.9M231.2 932.9l10 3.4l10 3.4l10.1 3.3"/><path stroke="#0000df" d="M240.9 928.3l9.7 -4.6l9.7 -4.7M250.9 931.6l9.8 -4.7M251.2 939.7l9.8 -4.7l9.7 -4.8M261.3 943l9.7 -4.7M271.4 946.3l9.7 -4.8M271.7 954l9.7 -4.8M281.7 956.9l9.8 -4.8M282 964.7l9.8 -4.9M292.1 967.6l9.7 -4.9M292.4 975.4l9.8 -4.9M292.8 983.1l9.7 -5l9.7 -5M302.8 985.9l9.7 -5.1M303.1 993.7l9.7 -5.1l9.8 -5M313.2 996.4l9.7 -5.1M313.5 1004.3l9.7 -5.1l9.8 -5.2M323.6 1006.6l9.7 -5.2M323.6 1006.6l10 2.2M313.2 996.4l10 2.8l10.1 2.2M302.8 985.9l10 2.7l10.1 2.7M292.4 975.4l10.1 2.7l10 2.7M282 964.7l10.1 2.9l10.1 2.9l10 2.6M271.7 954l10 2.9l10.1 2.9l10 2.9M261.3 943l10.1 3.3l10 2.9l10.1 2.9M240.9 928.3l10 3.3l10.1 3.4l10 3.3l10.1 3.2M250.6 923.7l10.1 3.2"/><path stroke="#0000ef" d="M260.3 919l9.7 -4.6M260.7 926.9l9.7 -4.6l9.7 -4.7M270.7 930.2l9.7 -4.7M271 938.3l9.8 -4.8l9.7 -4.7M281.1 941.5l9.7 -4.8M281.4 949.2l9.7 -4.8l9.7 -4.9M291.5 952.1l9.7 -4.9M291.8 959.8l9.7 -4.9l9.7 -4.9M301.8 962.7l9.8 -4.9M302.2 970.5l9.7 -5l9.7 -4.9M312.2 973.1l9.7 -4.9M312.5 980.8l9.7 -5M322.6 983.6l9.7 -5.1M322.9 991.3l9.7 -5.1M333 994l9.7 -5.1M333.3 1001.4l9.7 -5.2M333.6 1008.8l9.7 -5.2M343.6 1011l9.8 -5.3M333.6 1008.8l10 2.2l10.1 2.2M333.3 1001.4l10 2.2M322.9 991.3l10.1 2.7l10 2.2M312.5 980.8l10.1 2.8l10 2.6M312.2 973.1l10 2.7l10.1 2.7M301.8 962.7l10.1 2.8l10 2.7M291.5 952.1l10 2.8l10.1 2.9M281.1 941.5l10 2.9l10.1 2.8M260.7 926.9l10 3.3l10.1 3.3l10 3.2l10 2.8M260.3 919l10.1 3.3l10 3.2"/><path stroke="#0000ff" d="M270 914.4l9.8 -4.6M280.1 917.6l9.7 -4.7M280.4 925.5l9.8 -4.7M290.5 928.8l9.7 -4.8M290.8 936.7l9.7 -4.8l9.7 -4.8M300.8 939.5l9.8 -4.8M301.2 947.2l9.7 -4.9M311.2 950l9.8 -4.9M311.6 957.8l9.7 -4.9M321.6 960.6l9.7 -5M321.9 968.2l9.7 -5M322.2 975.8l9.8 -5l9.7 -5M332.3 978.5l9.7 -5M332.6 986.2l9.8 -5.1M342.7 988.9l9.7 -5.1M343 996.2l9.7 -5.1M343.3 1003.6l9.7 -5.2M353.4 1005.7l9.7 -5.2M353.7 1013.2l9.7 -5.3M353.7 1013.2l10.1 2.2M343.3 1003.6l10.1 2.1l10 2.2M343 996.2l10 2.2M332.6 986.2l10.1 2.7l10 2.2M332.3 978.5l10.1 2.6l10 2.7M321.9 968.2l10.1 2.6l10 2.7M311.6 957.8l10 2.8l10 2.6M301.2 947.2l10 2.8l10.1 2.9l10 2.7M300.8 939.5l10.1 2.8l10.1 2.8M280.4 925.5l10.1 3.3l10 3.1l10.1 2.8M270 914.4l10.1 3.2l10.1 3.2l10 3.2M279.8 909.8l10 3.1"/><path stroke="#0010ff" d="M279.8 909.8l9.7 -4.7l9.7 -4.5M289.8 912.9l9.8 -4.7M290.2 920.8l9.7 -4.7l9.7 -4.7M300.2 924l9.7 -4.8M310.2 927.1l9.8 -4.8M310.6 934.7l9.7 -4.8M310.9 942.3l9.7 -4.8l9.8 -4.9M321 945.1l9.7 -4.8M321.3 952.9l9.7 -5l9.7 -4.9M331.3 955.6l9.7 -5M331.6 963.2l9.8 -5M341.7 965.8l9.7 -5M342 973.5l9.8 -5.1M342.4 981.1l9.7 -5.1l9.7 -5.1M352.4 983.8l9.7 -5.2M352.7 991.1l9.7 -5.2M353 998.4l9.8 -5.3M363.1 1000.5l9.7 -5.3M363.4 1007.9l9.8 -5.3M363.8 1015.4l9.7 -5.4M363.8 1015.4l10 1.7l10 1.7M363.4 1007.9l10.1 2.1M353 998.4l10.1 2.1l10.1 2.1M352.7 991.1l10.1 2l10 2.1M352.4 983.8l10 2.1M342 973.5l10.1 2.5l10 2.6M331.6 963.2l10.1 2.6l10.1 2.6M331.3 955.6l10.1 2.6l10 2.6M321 945.1l10 2.8l10 2.7M310.6 934.7l10 2.8l10.1 2.8M300.2 924l10 3.1l10.1 2.8l10.1 2.7M289.8 912.9l10.1 3.2l10 3.1l10.1 3.1M289.5 905.1l10.1 3.1l10 3.2"/><path stroke="#0020ff" d="M299.2 900.6l9.8 -4.6M299.6 908.2l9.7 -4.6l9.7 -4.6M309.6 911.4l9.7 -4.7M309.9 919.2l9.7 -4.7l9.8 -4.8M320 922.3l9.7 -4.8M320.3 929.9l9.7 -4.9l9.8 -4.8M330.4 932.6l9.7 -4.8M330.7 940.3l9.7 -4.9M340.7 943l9.8 -4.9M341 950.6l9.8 -4.9M341.4 958.2l9.7 -5l9.7 -5M351.4 960.8l9.8 -5M351.8 968.4l9.7 -5M361.8 970.9l9.7 -5.1M362.1 978.6l9.7 -5.1M362.4 985.9l9.8 -5.2M362.8 993.1l9.7 -5.2l9.7 -5.2M372.8 995.2l9.7 -5.3M373.2 1002.6l9.7 -5.3M373.5 1010l9.7 -5.4M373.8 1017.1l9.7 -5.4l9.7 -5.4M383.8 1018.8l9.8 -5.5M383.8 1018.8l10.1 1.6M373.5 1010l10 1.7l10.1 1.6M373.2 1002.6l10 2M372.8 995.2l10.1 2.1M362.4 985.9l10.1 2l10 2M362.1 978.6l10.1 2.1M351.8 968.4l10 2.5l10 2.6M351.4 960.8l10.1 2.6l10 2.4M341 950.6l10.1 2.6l10.1 2.6M330.7 940.3l10 2.7l10.1 2.7M330.4 932.6l10 2.8l10.1 2.7M320 922.3l10 2.7l10.1 2.8M309.6 911.4l10 3.1l10.1 3M299.2 900.6l10.1 3l10 3.1"/><path stroke="#0030ff" d="M309 896l9.7 -4.6l9.7 -4.6M319 899l9.7 -4.6M319.3 906.7l9.7 -4.7l9.8 -4.7M329.4 909.7l9.7 -4.7M329.7 917.5l9.7 -4.8l9.8 -4.8M339.8 920.2l9.7 -4.9M340.1 927.8l9.7 -4.9M340.4 935.4l9.7 -4.9l9.7 -5M350.5 938.1l9.7 -4.9M350.8 945.7l9.7 -5M360.8 948.2l9.8 -5M361.2 955.8l9.7 -5.1M361.5 963.4l9.7 -5.1l9.7 -5M371.5 965.8l9.8 -5.1M371.8 973.5l9.8 -5.2M372.2 980.7l9.7 -5.2l9.7 -5.1M382.2 982.7l9.8 -5.2M382.5 989.9l9.8 -5.2M382.9 997.3l9.7 -5.3M383.2 1004.6l9.7 -5.3M393.2 1006.3l9.8 -5.5M393.6 1013.3l9.7 -5.5M393.9 1020.4l9.7 -5.6M393.9 1020.4l10.1 1.6M393.6 1013.3l10 1.5M383.2 1004.6l10 1.7l10.1 1.5M382.9 997.3l10 2M382.5 989.9l10.1 2.1M372.2 980.7l10 2l10.1 2M371.8 973.5l10.1 2l10.1 2M371.5 965.8l10.1 2.5M361.2 955.8l10 2.5l10.1 2.4M350.8 945.7l10 2.5l10.1 2.5M350.5 938.1l10 2.6l10.1 2.5M340.1 927.8l10 2.7l10.1 2.7M329.7 917.5l10.1 2.7l10 2.7M319.3 906.7l10.1 3l10 3l10.1 2.6M309 896l10 3l10 3l10.1 3M318.7 891.4l10 3"/><path stroke="#0040ff" d="M328.4 886.8l9.7 -4.5M328.7 894.4l9.8 -4.7l9.7 -4.6M338.8 897.3l9.7 -4.7M339.1 905l9.7 -4.8M349.2 907.9l9.7 -4.8M349.5 915.3l9.7 -4.8M349.8 922.9l9.7 -4.9l9.7 -4.9M359.8 925.5l9.8 -4.9M360.2 933.2l9.7 -5M360.5 940.7l9.7 -4.9l9.8 -5M370.6 943.2l9.7 -5M370.9 950.7l9.7 -5M380.9 953.3l9.8 -5.1M381.3 960.7l9.7 -5.1M381.6 968.3l9.7 -5.1M391.6 970.4l9.8 -5.2M392 977.5l9.7 -5.2M392.3 984.7l9.7 -5.3M392.6 992l9.7 -5.3M392.9 999.3l9.7 -5.4M403 1000.8l9.7 -5.4M403.3 1007.8l9.7 -5.6M403.6 1014.8l9.8 -5.6M404 1022l9.7 -5.7M404 1022l10 1.6M403.6 1014.8l10.1 1.5M403.3 1007.8l10.1 1.4M392.9 999.3l10.1 1.5l10 1.4M392.6 992l10 1.9l10.1 1.5M392.3 984.7l10 2M392 977.5l10 1.9M381.6 968.3l10 2.1l10.1 1.9M381.3 960.7l10 2.5l10.1 2M370.9 950.7l10 2.6l10.1 2.3M370.6 943.2l10 2.5l10.1 2.5M360.2 933.2l10 2.6l10.1 2.4M349.8 922.9l10 2.6l10.1 2.7l10.1 2.6M349.5 915.3l10 2.7l10.1 2.6M339.1 905l10.1 2.9l10 2.6M328.7 894.4l10.1 2.9l10 2.9l10.1 2.9M328.4 886.8l10.1 2.9l10 2.9"/><path stroke="#0050ff" d="M338.1 882.3l9.7 -4.6l9.8 -4.6M348.2 885.1l9.7 -4.6M348.5 892.6l9.7 -4.7M348.8 900.2l9.8 -4.7l9.7 -4.8M358.9 903.1l9.7 -4.8M359.2 910.5l9.7 -4.8l9.7 -4.9M369.2 913.1l9.8 -4.9M369.6 920.6l9.7 -4.9M369.9 928.2l9.7 -5l9.8 -4.9M380 930.8l9.7 -5.1M380.3 938.2l9.7 -5M380.6 945.7l9.7 -5l9.7 -5.1M390.7 948.2l9.7 -5M391 955.6l9.7 -5.1M391.3 963.2l9.7 -5.2l9.8 -5.1M401.4 965.2l9.7 -5.2M401.7 972.3l9.7 -5.3M402 979.4l9.7 -5.2M402.3 986.7l9.8 -5.3M402.6 993.9l9.8 -5.4l9.7 -5.4M412.7 995.4l9.7 -5.5M413 1002.2l9.8 -5.5M413.4 1009.2l9.7 -5.6M413.7 1016.3l9.7 -5.6M414 1023.6l9.7 -5.7M414 1023.6l10 1.6M413.7 1016.3l10 1.6M413.4 1009.2l10 1.5M413 1002.2l10.1 1.4M412.7 995.4l10.1 1.3M402.3 986.7l10.1 1.8l10 1.4M402 979.4l10.1 2M401.7 972.3l10 1.9M401.4 965.2l10 1.8M391 955.6l10 2.4l10.1 2M390.7 948.2l10 2.3M380.3 938.2l10 2.5l10.1 2.5M380 930.8l10 2.4M369.6 920.6l10 2.6l10.1 2.5M359.2 910.5l10 2.6l10.1 2.6M358.9 903.1l10 2.6l10.1 2.5M348.5 892.6l10.1 2.9l10 2.8M338.1 882.3l10.1 2.8l10 2.8l10.1 2.8M347.8 877.7l10.1 2.8"/><path stroke="#0060ff" d="M357.6 873.1l9.7 -4.5M357.9 880.5l9.7 -4.7M358.2 887.9l9.8 -4.7l9.7 -4.7M368.3 890.7l9.7 -4.7M368.6 898.3l9.7 -4.8l9.7 -4.8M378.6 900.8l9.8 -4.8M379 908.2l9.7 -4.9M379.3 915.7l9.7 -4.9M389.4 918.3l9.7 -5M389.7 925.7l9.7 -5M390 933.2l9.7 -5.1M400 935.6l9.8 -5.1M400.4 943.2l9.7 -5.2M400.7 950.5l9.7 -5.1M410.8 952.9l9.7 -5.2M411.1 960l9.7 -5.2M411.4 967l9.7 -5.2M411.7 974.2l9.7 -5.3M412.1 981.4l9.7 -5.4M422.1 983.1l9.7 -5.4M422.4 989.9l9.8 -5.4M422.8 996.7l9.7 -5.5M423.1 1003.6l9.7 -5.5M423.4 1010.7l9.7 -5.7M423.7 1017.9l9.7 -5.8M424 1025.2l9.8 -5.8M424 1025.2l10.1 0.6M423.7 1017.9l10.1 1.5M423.4 1010.7l10 1.4M423.1 1003.6l10 1.4M422.8 996.7l10 1.4M422.4 989.9l10.1 1.3M412.1 981.4l10 1.7l10.1 1.4M411.7 974.2l10.1 1.8l10 1.7M411.4 967l10 1.9M411.1 960l10 1.8M400.7 950.5l10.1 2.4l10 1.9M400.4 943.2l10 2.2l10.1 2.3M390 933.2l10 2.4l10.1 2.4M389.7 925.7l10 2.4l10.1 2.4M379.3 915.7l10.1 2.6l10 2.4M379 908.2l10 2.6l10.1 2.5M368.6 898.3l10 2.5l10.1 2.5M368.3 890.7l10 2.8l10.1 2.5M357.9 880.5l10.1 2.7l10 2.8M357.6 873.1l10 2.7l10.1 2.7"/><path stroke="#0070ff" d="M367.3 868.6l9.7 -4.4l9.8 -4.4M367.6 875.8l9.8 -4.6l9.7 -4.4M377.7 878.5l9.7 -4.6M378 886l9.7 -4.7M388 888.7l9.8 -4.8M388.4 896l9.7 -4.9M388.7 903.3l9.7 -4.8M389 910.8l9.8 -4.9l9.7 -5M399.1 913.3l9.7 -4.9M399.4 920.7l9.7 -5M399.7 928.1l9.8 -5l9.7 -5.1M409.8 930.5l9.7 -5.1M410.1 938l9.7 -5.1M410.4 945.4l9.8 -5.1l9.7 -5.3M420.5 947.7l9.7 -5.2M420.8 954.8l9.7 -5.1M421.1 961.8l9.7 -5.2M421.4 968.9l9.8 -5.3M421.8 976l9.7 -5.3l9.7 -5.3M431.8 977.7l9.8 -5.3M432.2 984.5l9.7 -5.5M432.5 991.2l9.7 -5.5M432.8 998.1l9.7 -5.6M433.1 1005l9.7 -5.6M433.4 1012.1l9.8 -5.7M433.8 1019.4l9.7 -5.9M434.1 1025.8l9.7 -6M434.1 1025.8l10.1 0.5M433.8 1019.4l10 0.4M433.4 1012.1l10.1 1.4M433.1 1005l10.1 1.4M432.8 998.1l10 1.3M432.5 991.2l10 1.3M432.2 984.5l10 1.2M431.8 977.7l10.1 1.3M421.4 968.9l10.1 1.8l10.1 1.7M421.1 961.8l10.1 1.8M420.8 954.8l10 1.8M420.5 947.7l10 2M410.1 938l10.1 2.3l10 2.2M409.8 930.5l10 2.4M399.4 920.7l10.1 2.4l10 2.3M399.1 913.3l10 2.4M388.7 903.3l10.1 2.6l10 2.5M388.4 896l10 2.5l10.1 2.4M378 886l10 2.7l10.1 2.4M377.7 878.5l10 2.8l10.1 2.6M367.3 868.6l10.1 2.6l10 2.7M377 864.2l10.1 2.6"/><path stroke="#0080ff" d="M386.8 859.8l9.7 -4.4M387.1 866.8l9.7 -4.5M387.4 873.9l9.7 -4.5l9.7 -4.5M387.7 881.3l9.8 -4.8l9.7 -4.6M397.8 883.9l9.7 -4.8M398.1 891.1l9.7 -4.8M398.4 898.5l9.8 -4.9l9.7 -4.9M408.5 900.9l9.7 -4.9M408.8 908.4l9.7 -5M409.1 915.7l9.7 -5l9.8 -5M419.2 918l9.7 -5M419.5 925.4l9.7 -5.1M419.8 932.9l9.8 -5.2M429.9 935l9.7 -5.2M430.2 942.5l9.7 -5.3M430.5 949.7l9.7 -5.3M430.8 956.6l9.8 -5.2M431.2 963.6l9.7 -5.2M441.2 965.4l9.8 -5.3M441.6 972.4l9.7 -5.4M441.9 979l9.7 -5.4M442.2 985.7l9.7 -5.5M442.5 992.5l9.7 -5.6M442.8 999.4l9.8 -5.7M443.2 1006.4l9.7 -5.8M443.5 1013.5l9.7 -5.8M443.8 1019.8l9.8 -5.9M444.2 1026.3l9.7 -6M444.2 1026.3l10 0.6M443.8 1019.8l10.1 0.5M443.5 1013.5l10.1 0.4M443.2 1006.4l10 1.3M442.8 999.4l10.1 1.2M442.5 992.5l10.1 1.2M442.2 985.7l10 1.2M441.9 979l10 1.2M441.6 972.4l10 1.2M431.2 963.6l10 1.8l10.1 1.6M430.8 956.6l10.1 1.8l10.1 1.7M430.5 949.7l10.1 1.7M430.2 942.5l10 1.9M419.8 932.9l10.1 2.1l10 2.2M419.5 925.4l10.1 2.3l10 2.1M409.1 915.7l10.1 2.3l10 2.3M408.8 908.4l10 2.3l10.1 2.3M408.5 900.9l10 2.5M398.1 891.1l10.1 2.5l10 2.4M397.8 883.9l10 2.4l10.1 2.4M387.4 873.9l10.1 2.6l10 2.6M387.1 866.8l10 2.6l10.1 2.5M386.8 859.8l10 2.5l10 2.6"/><path stroke="#008fff" d="M396.5 855.4l9.7 -4.4l9.7 -4.3M396.8 862.3l9.7 -4.4l9.7 -4.5M406.8 864.9l9.8 -4.5M407.2 871.9l9.7 -4.5M407.5 879.1l9.7 -4.6l9.8 -4.6M407.8 886.3l9.8 -4.8l9.7 -4.7M417.9 888.7l9.7 -4.9M418.2 896l9.7 -4.9M418.5 903.4l9.7 -5l9.8 -4.9M428.6 905.7l9.7 -5M428.9 913l9.7 -5.1M429.2 920.3l9.8 -5.1M429.6 927.7l9.7 -5.1l9.7 -5.2M439.6 929.8l9.7 -5.2M439.9 937.2l9.7 -5.3M440.2 944.4l9.8 -5.3M440.6 951.4l9.7 -5.4M440.9 958.4l9.7 -5.3l9.8 -5.4M451 960.1l9.7 -5.3M451.3 967l9.7 -5.4M451.6 973.6l9.7 -5.5M451.9 980.2l9.7 -5.5M452.2 986.9l9.8 -5.6M452.6 993.7l9.7 -5.7M452.9 1000.6l9.7 -5.7M453.2 1007.7l9.8 -5.9M453.6 1013.9l9.7 -6M453.9 1020.3l9.7 -6M454.2 1026.9l9.7 -6.2M454.2 1026.9l10 0.5M453.9 1020.3l10 0.4M453.6 1013.9l10 0.4M453.2 1007.7l10.1 0.2M452.9 1000.6l10.1 1.2M452.6 993.7l10 1.2M452.2 986.9l10.1 1.1M451.9 980.2l10.1 1.1M451.6 973.6l10 1.1M451.3 967l10 1.1M451 960.1l10 1.5M440.6 951.4l10 1.7l10.1 1.7M440.2 944.4l10.1 1.6M439.9 937.2l10.1 1.9M439.6 929.8l10 2.1M429.2 920.3l10.1 2.3l10 2M428.9 913l10.1 2.2M418.5 903.4l10.1 2.3l10 2.2M418.2 896l10 2.4l10.1 2.3M417.9 888.7l10 2.4M407.5 879.1l10.1 2.4l10 2.3M407.2 871.9l10 2.6l10.1 2.3M406.8 864.9l10.1 2.5M396.5 855.4l10 2.5l10.1 2.5M406.2 851l10 2.4"/><path stroke="#009fff" d="M415.9 846.7l9.7 -4.4M416.2 853.4l9.8 -4.4l9.7 -4.5M416.6 860.4l9.7 -4.6l9.7 -4.5M416.9 867.4l9.7 -4.6l9.8 -4.6M427 869.9l9.7 -4.7M427.3 876.8l9.7 -4.7M427.6 883.8l9.7 -4.7M427.9 891.1l9.7 -4.9l9.8 -4.8M438 893.5l9.7 -5M438.3 900.7l9.7 -5M438.6 907.9l9.8 -5.1M439 915.2l9.7 -5.1M449 917.4l9.7 -5.1M449.3 924.6l9.8 -5.2M449.6 931.9l9.8 -5.2M450 939.1l9.7 -5.4M450.3 946l9.7 -5.3M460.4 947.7l9.7 -5.4M460.7 954.8l9.7 -5.5M461 961.6l9.7 -5.4M461.3 968.1l9.7 -5.4M461.6 974.7l9.8 -5.5M462 981.3l9.7 -5.6M462.3 988l9.7 -5.7M462.6 994.9l9.8 -5.8M463 1001.8l9.7 -5.8M463.3 1007.9l9.7 -5.9M463.6 1014.3l9.7 -6.1M463.9 1020.7l9.7 -6.1M464.2 1027.4l9.8 -6.3M464.2 1027.4l10.1 0.6M463.9 1020.7l10.1 0.4M463.6 1014.3l10 0.3M463.3 1007.9l10 0.3M463 1001.8l10 0.2M462.6 994.9l10.1 1.1M462.3 988l10.1 1.1M462 981.3l10 1M461.6 974.7l10.1 1M461.3 968.1l10.1 1.1M461 961.6l10 1.1M460.7 954.8l10 1.4M450.3 946l10.1 1.7l10 1.6M450 939.1l10 1.6l10.1 1.6M449.6 931.9l10.1 1.8M449.3 924.6l10.1 2.1M439 915.2l10 2.2l10.1 2M438.6 907.9l10.1 2.2l10 2.2M438.3 900.7l10.1 2.1M427.9 891.1l10.1 2.4l10 2.2M427.6 883.8l10 2.4l10.1 2.3M427.3 876.8l10 2.3M416.9 867.4l10.1 2.5l10 2.2M416.6 860.4l10 2.4l10.1 2.4M416.2 853.4l10.1 2.4l10.1 2.4M415.9 846.7l10.1 2.3l10 2.3"/><path stroke="#00afff" d="M425.6 842.3l9.8 -4.4l9.7 -4.4M435.7 844.5l9.7 -4.5M436 851.3l9.8 -4.6M436.4 858.2l9.7 -4.6M436.7 865.2l9.7 -4.6M437 872.1l9.7 -4.7l9.7 -4.6M437.3 879.1l9.7 -4.7l9.8 -4.7M447.4 881.4l9.7 -4.8M447.7 888.5l9.7 -4.8M448 895.7l9.8 -5M448.4 902.8l9.7 -5M448.7 910.1l9.7 -5.1l9.7 -5.1M458.7 912.3l9.7 -5.2M459.1 919.4l9.7 -5.2M459.4 926.7l9.7 -5.3M459.7 933.7l9.7 -5.3M460 940.7l9.8 -5.4l9.7 -5.4M470.1 942.3l9.7 -5.5M470.4 949.3l9.7 -5.4M470.7 956.2l9.7 -5.5M471 962.7l9.8 -5.5M471.4 969.2l9.7 -5.5M471.7 975.7l9.7 -5.6M472 982.3l9.8 -5.6M472.4 989.1l9.7 -5.7M472.7 996l9.7 -5.9M473 1002l9.7 -5.9M473.3 1008.2l9.7 -6M474.3 1028l9.7 -6.4M473.3 1008.2l10.1 0.2M473 1002l10 0.2M472.7 996l10 0.1M472.4 989.1l10 1M472 982.3l10.1 1.1M471.7 975.7l10.1 1M471.4 969.2l10 0.9M471 962.7l10.1 1M470.7 956.2l10.1 1M470.4 949.3l10 1.4M470.1 942.3l10 1.6M459.7 933.7l10.1 1.6l10 1.5M459.4 926.7l10 1.7M459.1 919.4l10 2M458.7 912.3l10.1 1.9M448.4 902.8l10 2.2l10 2.1M448 895.7l10.1 2.1l10 2.1M447.7 888.5l10.1 2.2M437.3 879.1l10.1 2.3l10 2.3M437 872.1l10 2.3l10.1 2.2M436.7 865.2l10 2.2l10.1 2.3M436.4 858.2l10 2.4M436 851.3l10.1 2.3M425.6 842.3l10.1 2.2l10.1 2.2M435.4 837.9l10 2.1"/><path stroke="#00bfff" d="M445.1 833.5l9.7 -4.3l9.8 -4.4M445.4 840l9.8 -4.5l9.7 -4.4M445.8 846.7l9.7 -4.6l9.7 -4.5M446.1 853.6l9.7 -4.7l9.7 -4.7M446.4 860.6l9.7 -4.7l9.7 -4.8M456.4 862.8l9.8 -4.9M456.8 869.7l9.7 -4.8M457.1 876.6l9.7 -4.7M457.4 883.7l9.8 -4.8M457.8 890.7l9.7 -4.9M458.1 897.8l9.7 -5.1l9.7 -4.9M468.1 899.9l9.7 -5.1M468.4 907.1l9.8 -5.1M468.8 914.2l9.7 -5.2M469.1 921.4l9.7 -5.2M469.4 928.4l9.8 -5.3l9.7 -5.3M479.5 929.9l9.7 -5.3M479.8 936.8l9.7 -5.4M480.1 943.9l9.7 -5.5M480.4 950.7l9.8 -5.6M480.8 957.2l9.7 -5.6M481.1 963.7l9.7 -5.5M481.4 970.1l9.8 -5.6M481.8 976.7l9.7 -5.7M482.1 983.4l9.7 -5.8M482.4 990.1l9.7 -5.9M482.7 996.1l9.7 -6M473.6 1014.6l9.8 -6.2M474 1021.1l9.7 -6.2M474 1021.1l10 0.5M473.6 1014.6l10.1 0.3M482.4 990.1l10 0M482.1 983.4l10 0.8M481.8 976.7l10 0.9M481.4 970.1l10.1 0.9M481.1 963.7l10.1 0.8M480.8 957.2l10 1M480.4 950.7l10.1 0.9M480.1 943.9l10.1 1.2M479.8 936.8l10 1.6M469.4 928.4l10.1 1.5l10 1.5M469.1 921.4l10.1 1.7l10 1.5M468.8 914.2l10 2M468.4 907.1l10.1 1.9M468.1 899.9l10.1 2.1M457.8 890.7l10 2l10 2.1M457.4 883.7l10.1 2.1l10 2M457.1 876.6l10.1 2.3M456.8 869.7l10 2.2M446.4 860.6l10 2.2l10.1 2.1M446.1 853.6l10 2.3l10.1 2M445.8 846.7l10 2.2l10 2.2M445.4 840l10.1 2.1l10 2.1M445.1 833.5l10.1 2l10 2.1M454.8 829.2l10.1 1.9"/><path stroke="#00cfff" d="M464.6 824.8l9.7 -4.3M464.9 831.1l9.7 -4.5M465.2 837.6l9.7 -4.6M465.5 844.2l9.7 -4.6M465.8 851.1l9.8 -4.8M466.2 857.9l9.7 -4.8M466.5 864.9l9.7 -4.9M466.8 871.9l9.8 -4.8M467.2 878.9l9.7 -4.8l9.7 -4.9M467.5 885.8l9.7 -4.9l9.7 -4.9M477.5 887.8l9.7 -4.9M477.8 894.8l9.8 -5M478.2 902l9.7 -5.1M478.5 909l9.7 -5.2M478.8 916.2l9.8 -5.3M488.9 917.8l9.7 -5.3M489.2 924.6l9.7 -5.4M489.5 931.4l9.7 -5.4M489.8 938.4l9.8 -5.5M490.2 945.1l9.7 -5.6M490.5 951.6l9.7 -5.6M490.8 958.2l9.8 -5.7M491.2 964.5l9.7 -5.6M491.5 971l9.7 -5.7M491.8 977.6l9.7 -5.7M492.1 984.2l9.7 -5.8M483 1002.2l9.8 -6.1M483.4 1008.4l9.7 -6.2M483.7 1014.9l9.7 -6.3M484 1021.6l9.8 -6.5M483.7 1014.9l10.1 0.2M483.4 1008.4l10 0.2M483 1002.2l10.1 0M482.7 996.1l10.1 0M492.1 984.2l10.1 -0.1M491.8 977.6l10 0.8M491.5 971l10 0.9M491.2 964.5l10 0.8M490.8 958.2l10.1 0.7M490.5 951.6l10.1 0.9M490.2 945.1l10 0.9M489.8 938.4l10.1 1.1M489.5 931.4l10.1 1.5M489.2 924.6l10 1.4M478.8 916.2l10.1 1.6l10 1.4M478.5 909l10.1 1.9l10 1.6M478.2 902l10 1.8M477.8 894.8l10.1 2.1M477.5 887.8l10.1 2M467.2 878.9l10 2l10 2M466.8 871.9l10.1 2.2l10 1.9M466.5 864.9l10.1 2.2l10 2.1M466.2 857.9l10 2.1M465.8 851.1l10.1 2M465.5 844.2l10.1 2.1M465.2 837.6l10 2M464.9 831.1l10 1.9M464.6 824.8l10 1.8"/><path stroke="#00dfff" d="M474.3 820.5l9.7 -4.4M474.6 826.6l9.7 -4.4l9.7 -4.5M474.9 833l9.7 -4.6M475.2 839.6l9.8 -4.7M475.6 846.3l9.7 -4.8M475.9 853.1l9.7 -4.9M476.2 860l9.8 -4.9l9.7 -4.9M476.6 867.1l9.7 -5l9.7 -5M486.6 869.2l9.7 -5M486.9 876l9.7 -4.8M487.2 882.9l9.8 -5M487.6 889.8l9.7 -5M487.9 896.9l9.7 -5.1M488.2 903.8l9.8 -5.2M488.6 910.9l9.7 -5.3l9.7 -5.3M498.6 912.5l9.7 -5.3M498.9 919.2l9.7 -5.3M499.2 926l9.8 -5.4M499.6 932.9l9.7 -5.5M499.9 939.5l9.7 -5.5M500.2 946l9.8 -5.7M500.6 952.5l9.7 -5.7M500.9 958.9l9.7 -5.7M501.2 965.3l9.7 -5.6M501.5 971.9l9.7 -5.8M501.8 978.4l9.8 -5.9M492.4 990.1l9.8 -6M492.8 996.1l9.7 -6M493.1 1002.2l9.7 -6.1M493.4 1008.6l9.8 -6.3M493.8 1015.1l9.7 -6.4M493.4 1008.6l10.1 0.1M493.1 1002.2l10.1 0.1M492.8 996.1l10 0M492.4 990.1l10.1 0M501.5 971.9l10.1 0.6M501.2 965.3l10 0.8M500.9 958.9l10 0.8M500.6 952.5l10 0.7M500.2 946l10.1 0.8M499.9 939.5l10.1 0.8M499.6 932.9l10 1.1M499.2 926l10.1 1.4M498.9 919.2l10.1 1.4M498.6 912.5l10 1.4M488.2 903.8l10.1 1.8l10 1.6M487.9 896.9l10.1 1.7l10 1.7M487.6 889.8l10 2M487.2 882.9l10.1 1.9M486.9 876l10.1 1.9M486.6 869.2l10 2M476.2 860l10.1 2.1l10 2.1M475.9 853.1l10.1 2l10 2M475.6 846.3l10 1.9M475.2 839.6l10.1 1.9M474.9 833l10.1 1.9M474.6 826.6l10 1.8M474.3 820.5l10 1.7l10.1 1.7M484 816.1l10 1.6"/><path stroke="#00efff" d="M484.6 828.4l9.8 -4.5l9.7 -4.6M485 834.9l9.7 -4.7l9.7 -4.6M485.3 841.5l9.7 -4.7l9.8 -4.8M485.6 848.2l9.8 -4.8l9.7 -4.9M495.7 850.2l9.7 -5M496 857.1l9.7 -5M496.3 864.2l9.7 -5.1M496.6 871.2l9.8 -5.2M497 877.9l9.7 -4.9M497.3 884.8l9.7 -5M497.6 891.8l9.8 -5l9.7 -5M498 898.6l9.7 -5.1l9.7 -5.1M508 900.3l9.7 -5.1M508.3 907.2l9.7 -5.3M508.6 913.9l9.8 -5.4M509 920.6l9.7 -5.4M509.3 927.4l9.7 -5.5M509.6 934l9.8 -5.6M510 940.3l9.7 -5.6M510.3 946.8l9.7 -5.8M510.6 953.2l9.7 -5.8M510.9 959.7l9.8 -5.9M511.2 966.1l9.8 -5.7M511.6 972.5l9.7 -5.9M502.2 984.1l9.7 -5.9M502.5 990.1l9.7 -6.1M502.8 996.1l9.8 -6.2M503.2 1002.3l9.7 -6.3M503.5 1008.7l9.7 -6.4M503.2 1002.3l10 0M502.8 996.1l10.1 -0.1M502.5 990.1l10.1 -0.2M502.2 984.1l10 -0.1M501.8 978.4l10.1 -0.2M511.2 966.1l10.1 0.5M510.9 959.7l10.1 0.7M510.6 953.2l10.1 0.6M510.3 946.8l10 0.6M510 940.3l10 0.7M509.6 934l10.1 0.7M509.3 927.4l10.1 1M509 920.6l10 1.3M508.6 913.9l10.1 1.3M508.3 907.2l10.1 1.3M508 900.3l10 1.6M497.6 891.8l10.1 1.7l10 1.7M497.3 884.8l10.1 2l10 1.6M497 877.9l10 1.9l10.1 2M496.6 871.2l10.1 1.8M496.3 864.2l10.1 1.8M496 857.1l10 2M485.6 848.2l10.1 2l10 1.9M485.3 841.5l10.1 1.9l10 1.8M485 834.9l10 1.9l10.1 1.7M484.6 828.4l10.1 1.8l10.1 1.8M494.4 823.9l10 1.7M494 817.7l10.1 1.6"/><path stroke="#00ffff" d="M504.4 825.6l9.8 -4.7M504.8 832l9.7 -4.7M505.1 838.5l9.7 -4.8M505.4 845.2l9.7 -4.9M505.7 852.1l9.7 -5M506 859.1l9.8 -5.1M506.4 866l9.7 -5.2M506.7 873l9.7 -5.2M507 879.8l9.8 -4.9l9.7 -5.4M517.1 881.8l9.7 -5.1M517.4 888.4l9.7 -5.1M517.7 895.2l9.7 -5.2M518 901.9l9.8 -5.2M518.4 908.5l9.7 -5.4M518.7 915.2l9.7 -5.5M519 921.9l9.8 -5.4M519.4 928.4l9.7 -5.6M519.7 934.7l9.7 -5.7M520 941l9.7 -5.7M520.3 947.4l9.7 -5.8M520.7 953.8l9.7 -5.9M521 960.4l9.7 -6M511.9 978.2l9.7 -6M512.2 984l9.8 -6M512.6 989.9l9.7 -6.2M512.9 996l9.7 -6.3M512.6 989.9l10 -0.2M512.2 984l10.1 -0.3M511.9 978.2l10.1 -0.2M511.6 972.5l10 -0.3M520.7 953.8l10 0.6M520.3 947.4l10.1 0.5M520 941l10 0.6M519.7 934.7l10 0.6M519.4 928.4l10 0.6M519 921.9l10.1 0.9M518.7 915.2l10.1 1.3M518.4 908.5l10 1.2M518 901.9l10.1 1.2M517.7 895.2l10.1 1.5M517.4 888.4l10 1.6M517.1 881.8l10 1.5M506.7 873l10.1 1.9l10 1.8M506.4 866l10 1.8l10.1 1.7M506 859.1l10.1 1.7M505.7 852.1l10.1 1.9M505.4 845.2l10 1.9M505.1 838.5l10 1.8M504.8 832l10 1.7M504.4 825.6l10.1 1.7M504.1 819.3l10.1 1.6"/><path stroke="#10ffef" d="M514.5 827.3l9.7 -4.8M514.8 833.7l9.7 -4.8M515.1 840.3l9.7 -4.9M515.4 847.1l9.8 -5.1M515.8 854l9.7 -5.1M516.1 860.8l9.7 -5.2M516.4 867.8l9.8 -5.3l9.7 -5.3M526.5 869.5l9.7 -5.3M526.8 876.7l9.7 -5.4M527.1 883.3l9.7 -5.1M527.4 890l9.8 -5.2M527.8 896.7l9.7 -5.3M528.1 903.1l9.7 -5.3M528.4 909.7l9.8 -5.4M528.8 916.5l9.7 -5.5M529.1 922.8l9.7 -5.5M529.4 929l9.7 -5.6M529.7 935.3l9.7 -5.7M521.3 966.6l9.7 -5.8M521.6 972.2l9.8 -5.9M522 978l9.7 -6.1M522.3 983.7l9.7 -6.2M513.2 1002.3l9.7 -6.4M512.9 996l10 -0.1M522 978l10 -0.5M521.6 972.2l10.1 -0.3M521.3 966.6l10.1 -0.3M521 960.4l10 0.4M529.7 935.3l10.1 0.5M529.4 929l10 0.6M529.1 922.8l10 0.6M528.8 916.5l10 0.8M528.4 909.7l10.1 1.3M528.1 903.1l10.1 1.2M527.8 896.7l10 1.1M527.4 890l10.1 1.4M527.1 883.3l10.1 1.5M526.8 876.7l10 1.5M526.5 869.5l10 1.8M516.1 860.8l10.1 1.7l10 1.7M515.8 854l10 1.6M515.4 847.1l10.1 1.8M515.1 840.3l10.1 1.7M514.8 833.7l10 1.7M514.5 827.3l10 1.6M514.2 820.9l10 1.6"/><path stroke="#20ffdf" d="M524.5 828.9l9.7 -4.9M524.8 835.4l9.8 -5l9.7 -4.9M525.2 842l9.7 -5l9.7 -5M525.5 848.9l9.7 -5.1l9.8 -5.1M525.8 855.6l9.8 -5.2l9.7 -5.2M535.9 857.2l9.7 -5.3M536.2 864.2l9.7 -5.4M536.5 871.3l9.7 -5.4M536.8 878.2l9.8 -5.5M537.2 884.8l9.7 -5.1M537.5 891.4l9.7 -5.2M537.8 897.8l9.8 -5.2M538.2 904.3l9.7 -5.3M538.5 911l9.7 -5.5M538.8 917.3l9.7 -5.6M539.1 923.4l9.7 -5.6M539.4 929.6l9.8 -5.7M530 941.6l9.8 -5.8M530.4 947.9l9.7 -5.9M530.7 954.4l9.7 -6M531 960.8l9.8 -6.1M531.4 966.3l9.7 -6M531.7 971.9l9.7 -6M522.6 989.7l9.7 -6.4M522.9 995.9l9.7 -6.5M522.6 989.7l10 -0.3M522.3 983.7l10 -0.4M531.4 966.3l10 -0.4M531 960.8l10.1 -0.5M530.7 954.4l10.1 0.3M530.4 947.9l10 0.5M530 941.6l10.1 0.4M539.1 923.4l10.1 0.5M538.8 917.3l10 0.5M538.5 911l10 0.7M538.2 904.3l10 1.2M537.8 897.8l10.1 1.2M537.5 891.4l10.1 1.2M537.2 884.8l10 1.4M536.8 878.2l10.1 1.5M536.5 871.3l10.1 1.4M536.2 864.2l10 1.7M525.8 855.6l10.1 1.6l10 1.6M525.5 848.9l10.1 1.5l10 1.5M525.2 842l10 1.8l10.1 1.4M524.8 835.4l10.1 1.6l10.1 1.7M524.5 828.9l10.1 1.5l10 1.6M524.2 822.5l10 1.5l10.1 1.5"/><path stroke="#30ffcf" d="M544.6 832l9.8 -5M545 838.7l9.7 -5.1M545.3 845.2l9.7 -5.2M545.6 851.9l9.7 -5.3M545.9 858.8l9.8 -5.4M546.2 865.9l9.8 -5.5M546.6 872.7l9.7 -5.6M546.9 879.7l9.7 -5.6M547.2 886.2l9.8 -5.2M547.6 892.6l9.7 -5.3M547.9 899l9.7 -5.4M548.2 905.5l9.7 -5.4M548.5 911.7l9.7 -5.6M548.8 917.8l9.8 -5.7M549.2 923.9l9.7 -5.7M539.8 935.8l9.7 -5.8M540.1 942l9.7 -5.9M540.4 948.4l9.8 -6M540.8 954.7l9.7 -6.1M541.1 960.3l9.7 -6.1M541.4 965.9l9.7 -6.1M532 977.5l9.7 -6.1M532.3 983.3l9.7 -6.3M532.6 989.4l9.8 -6.4M532.3 983.3l10.1 -0.3M532 977.5l10 -0.5M531.7 971.9l10 -0.5M541.1 960.3l10 -0.5M540.8 954.7l10 -0.5M540.4 948.4l10.1 0.2M540.1 942l10.1 0.4M539.8 935.8l10 0.3M539.4 929.6l10.1 0.4M548.8 917.8l10.1 0.4M548.5 911.7l10.1 0.4M548.2 905.5l10 0.6M547.9 899l10 1.1M547.6 892.6l10 1M547.2 886.2l10.1 1.1M546.9 879.7l10.1 1.3M546.6 872.7l10 1.4M546.2 865.9l10.1 1.2M545.9 858.8l10.1 1.6M545.6 851.9l10.1 1.5M545.3 845.2l10 1.4M545 838.7l10 1.3M544.6 832l10.1 1.6M544.3 825.5l10.1 1.5"/><path stroke="#40ffbf" d="M554.7 833.6l9.7 -5.1M555 840l9.7 -5.2M555.3 846.6l9.7 -5.2M555.7 853.4l9.7 -5.3M556 860.4l9.7 -5.5M556.3 867.1l9.7 -5.5M556.6 874.1l9.8 -5.7M557 881l9.7 -5.7M557.3 887.3l9.7 -5.3M557.6 893.6l9.7 -5.3M557.9 900.1l9.8 -5.4M558.2 906.1l9.8 -5.5M558.6 912.1l9.7 -5.6M549.5 930l9.7 -5.8M549.8 936.1l9.8 -5.9M550.2 942.4l9.7 -6M550.5 948.6l9.7 -6.1M550.8 954.2l9.7 -6.3M541.7 971.4l9.7 -6.2M542 977l9.8 -6.3M542.4 983l9.7 -6.5M542 977l10.1 -0.5M541.7 971.4l10.1 -0.7M541.4 965.9l10 -0.7M550.5 948.6l10 -0.7M550.2 942.4l10 0.1M549.8 936.1l10.1 0.3M549.5 930l10.1 0.2M549.2 923.9l10 0.3M558.6 912.1l10 0.3M558.2 906.1l10.1 0.4M557.9 900.1l10.1 0.5M557.6 893.6l10.1 1.1M557.3 887.3l10 1M557 881l10 1M556.6 874.1l10.1 1.2M556.3 867.1l10.1 1.3M556 860.4l10 1.2M555.7 853.4l10 1.5M555.3 846.6l10.1 1.5M555 840l10 1.4M554.7 833.6l10 1.2M554.4 827l10 1.5"/><path stroke="#50ffaf" d="M564.7 834.8l9.7 -5.1M565 841.4l9.8 -5.3M565.4 848.1l9.7 -5.4M565.7 854.9l9.7 -5.4M566 861.6l9.8 -5.6M566.4 868.4l9.7 -5.7M566.7 875.3l9.7 -5.7M567 882l9.7 -5.8M567.3 888.3l9.7 -5.4M567.7 894.7l9.7 -5.4M568 900.6l9.7 -5.5M568.3 906.5l9.7 -5.6M558.9 918.2l9.7 -5.8M559.2 924.2l9.7 -5.9M559.6 930.2l9.7 -5.9M559.9 936.4l9.7 -6M560.2 942.5l9.7 -6.1M551.1 959.8l9.7 -6.2M551.4 965.2l9.8 -6.2M551.8 970.7l9.7 -6.3M551.4 965.2l10.1 -0.8M551.1 959.8l10.1 -0.8M550.8 954.2l10 -0.6M560.2 942.5l10 -0.8M559.9 936.4l10 0M559.6 930.2l10 0.2M559.2 924.2l10.1 0.1M558.9 918.2l10 0.1M568.3 906.5l10.1 0.2M568 900.6l10 0.3M567.7 894.7l10 0.4M567.3 888.3l10.1 1M567 882l10 0.9M566.7 875.3l10 0.9M566.4 868.4l10 1.2M566 861.6l10.1 1.1M565.7 854.9l10.1 1.1M565.4 848.1l10 1.4M565 841.4l10.1 1.3M564.7 834.8l10.1 1.3M564.4 828.5l10 1.2"/><path stroke="#60ff9f" d="M574.8 836.1l9.7 -5.3M575.1 842.7l9.7 -5.3M575.4 849.5l9.8 -5.5M575.8 856l9.7 -5.5M576.1 862.7l9.7 -5.6M576.4 869.6l9.7 -5.8M576.7 876.2l9.7 -5.8M577 882.9l9.8 -5.9M577.4 889.3l9.7 -5.4M577.7 895.1l9.7 -5.5M578 900.9l9.8 -5.6M568.6 912.4l9.8 -5.7M568.9 918.3l9.8 -5.8M569.3 924.3l9.7 -5.9M569.6 930.4l9.7 -6M569.9 936.4l9.7 -6.1M560.5 947.9l9.7 -6.2M560.8 953.6l9.8 -6.3M561.2 959l9.7 -6.4M552.1 976.5l9.7 -6.4M551.8 970.7l10 -0.6M561.2 959l10 -0.9M560.8 953.6l10.1 -1M560.5 947.9l10.1 -0.6M569.6 930.4l10 -0.1M569.3 924.3l10 0.1M568.9 918.3l10.1 0.1M568.6 912.4l10.1 0.1M577.7 895.1l10.1 0.2M577.4 889.3l10 0.3M577 882.9l10.1 1M576.7 876.2l10.1 0.8M576.4 869.6l10 0.8M576.1 862.7l10 1.1M575.8 856l10 1.1M575.4 849.5l10.1 1M575.1 842.7l10.1 1.3M574.8 836.1l10 1.3M574.4 829.7l10.1 1.1"/><path stroke="#70ff8f" d="M584.8 837.4l9.8 -5.4M585.2 844l9.7 -5.4M585.5 850.5l9.7 -5.6M585.8 857.1l9.7 -5.7M586.1 863.8l9.7 -5.7M586.4 870.4l9.8 -5.9M586.8 877l9.7 -5.9M587.1 883.9l9.7 -6M587.4 889.6l9.8 -5.5M587.8 895.3l9.7 -5.6M578.4 906.7l9.7 -5.7M578.7 912.5l9.7 -5.8M579 918.4l9.7 -5.9M579.3 924.4l9.7 -6M570.2 941.7l9.8 -6.2M570.6 947.3l9.7 -6.4M561.5 964.4l9.7 -6.3M561.8 970.1l9.8 -6.5M561.5 964.4l10.1 -0.8M570.6 947.3l10 -1.1M570.2 941.7l10.1 -0.8M569.9 936.4l10.1 -0.9M579.3 924.4l10.1 -0.2M579 918.4l10 0M578.7 912.5l10 0M578.4 906.7l10 0M578 900.9l10.1 0.1M587.4 889.6l10.1 0.1M587.1 883.9l10.1 0.2M586.8 877l10 0.9M586.4 870.4l10.1 0.7M586.1 863.8l10.1 0.7M585.8 857.1l10 1M585.5 850.5l10 0.9M585.2 844l10 0.9M584.8 837.4l10.1 1.2M584.5 830.8l10.1 1.2"/><path stroke="#80ff80" d="M594.9 838.6l9.7 -5.4M595.2 844.9l9.7 -5.5M595.5 851.4l9.7 -5.6M595.8 858.1l9.8 -5.8M596.2 864.5l9.7 -5.8M596.5 871.1l9.7 -5.9M596.8 877.9l9.8 -6.1M597.2 884.1l9.7 -6.1M597.5 889.7l9.7 -5.6M588.1 901l9.7 -5.6M588.4 906.7l9.7 -5.8M588.7 912.5l9.7 -5.9M589 918.4l9.8 -6M579.6 930.3l9.8 -6.1M580 935.5l9.7 -6.2M580.3 940.9l9.7 -6.3M570.9 952.6l9.7 -6.4M571.2 958.1l9.8 -6.5M571.6 963.6l9.7 -6.4M571.2 958.1l10.1 -0.9M570.9 952.6l10.1 -1M580 935.5l10 -0.9M579.6 930.3l10.1 -1M588.7 912.5l10.1 -0.1M588.4 906.7l10 -0.1M588.1 901l10 -0.1M587.8 895.3l10 0.1M597.2 884.1l10 0M596.8 877.9l10.1 0.1M596.5 871.1l10.1 0.7M596.2 864.5l10 0.7M595.8 858.1l10.1 0.6M595.5 851.4l10.1 0.9M595.2 844.9l10 0.9M594.9 838.6l10 0.8M594.6 832l10 1.2"/><path stroke="#8fff70" d="M604.9 839.4l9.8 -5.6M605.2 845.8l9.8 -5.7M605.6 852.3l9.7 -5.7M605.9 858.7l9.7 -5.9M606.2 865.2l9.8 -6M606.6 871.8l9.7 -6M606.9 878l9.7 -6.1M597.8 895.4l9.7 -5.7M598.1 900.9l9.7 -5.7M598.4 906.6l9.8 -5.9M589.4 924.2l9.7 -6.2M589.7 929.3l9.7 -6.2M580.6 946.2l9.8 -6.5M581 951.6l9.7 -6.6M581 951.6l10 -1.1M580.6 946.2l10.1 -1.2M580.3 940.9l10.1 -1.2M589.7 929.3l10.1 -1M589.4 924.2l10 -1.1M589 918.4l10.1 -0.4M598.4 906.6l10.1 -0.2M598.1 900.9l10.1 -0.2M597.8 895.4l10 -0.2M597.5 889.7l10 0M606.9 878l10 -0.1M606.6 871.8l10 0.1M606.2 865.2l10.1 0.6M605.9 858.7l10.1 0.5M605.6 852.3l10 0.5M605.2 845.8l10.1 0.8M604.9 839.4l10.1 0.7M604.6 833.2l10.1 0.6"/><path stroke="#9fff60" d="M615 840.1l9.7 -5.6M615.3 846.6l9.7 -5.7M615.6 852.8l9.8 -5.8M616 859.2l9.7 -5.9M616.3 865.8l9.7 -6.1M607.2 884.1l9.7 -6.2M607.5 889.7l9.7 -5.7M607.8 895.2l9.8 -5.8M608.2 900.7l9.7 -5.9M598.8 912.4l9.7 -6M599.1 918l9.7 -6.1M599.4 923.1l9.8 -6.3M590 934.6l9.8 -6.3M590.4 939.7l9.7 -6.5M581.3 957.2l9.7 -6.7M590.4 939.7l10 -1.3M590 934.6l10.1 -1.4M599.1 918l10.1 -1.2M598.8 912.4l10 -0.5M607.8 895.2l10.1 -0.4M607.5 889.7l10.1 -0.3M607.2 884.1l10 -0.1M616.3 865.8l10 -0.1M616 859.2l10 0.5M615.6 852.8l10.1 0.5M615.3 846.6l10.1 0.4M615 840.1l10 0.8M614.7 833.8l10 0.7"/><path stroke="#afff50" d="M625 840.9l9.8 -5.8M625.4 847l9.7 -5.8M625.7 853.3l9.7 -6M616.6 871.9l9.7 -6.2M616.9 877.9l9.7 -6.3M617.2 884l9.8 -6.3M617.6 889.4l9.7 -5.7M608.5 906.4l9.7 -5.9M608.8 911.9l9.8 -6.1M599.8 928.3l9.7 -6.3M600.1 933.2l9.7 -6.5M590.7 945l9.7 -6.6M591 950.5l9.7 -6.7M590.7 945l10 -1.2M599.8 928.3l10 -1.6M599.4 923.1l10.1 -1.1M608.8 911.9l10.1 -1.3M608.5 906.4l10.1 -0.6M608.2 900.7l10 -0.2M617.6 889.4l10 -0.4M617.2 884l10.1 -0.3M616.9 877.9l10.1 -0.2M616.6 871.9l10 -0.3M625.7 853.3l10 0.4M625.4 847l10 0.3M625 840.9l10.1 0.3M624.7 834.5l10.1 0.6"/><path stroke="#bfff40" d="M635.1 841.2l9.7 -5.9M626 859.7l9.7 -6M626.3 865.7l9.7 -6.2M626.6 871.6l9.8 -6.3M627 877.7l9.7 -6.4M627.3 883.7l9.7 -6.5M617.9 894.8l9.7 -5.8M618.2 900.5l9.8 -6M618.6 905.8l9.7 -6.1M609.2 916.8l9.7 -6.2M609.5 922l9.7 -6.4M600.4 938.4l9.7 -6.7M600.7 943.8l9.7 -6.8M600.4 938.4l10 -1.4M600.1 933.2l10 -1.5M609.5 922l10 -1.7M609.2 916.8l10 -1.2M618.2 900.5l10.1 -0.8M617.9 894.8l10.1 -0.3M627.3 883.7l10.1 -0.6M627 877.7l10 -0.5M626.6 871.6l10.1 -0.3M626.3 865.7l10.1 -0.4M626 859.7l10 -0.2M634.8 835.1l10 0.2"/><path stroke="#cfff30" d="M635.4 847.3l9.7 -5.9M635.7 853.7l9.7 -6M636 859.5l9.8 -6.2M636.4 865.3l9.7 -6.3M636.7 871.3l9.7 -6.4M627.6 889l9.8 -5.9M628 894.5l9.7 -6M628.3 899.7l9.7 -6.1M618.9 910.6l9.7 -6.2M619.2 915.6l9.7 -6.3M609.8 926.7l9.7 -6.4M610.1 931.7l9.7 -6.6M610.1 931.7l10.1 -1.4M609.8 926.7l10 -1.6M618.9 910.6l10 -1.3M618.6 905.8l10 -1.4M628 894.5l10 -0.9M627.6 889l10.1 -0.5M636.4 865.3l10 -0.4M636 859.5l10.1 -0.5M635.7 853.7l10.1 -0.4M635.4 847.3l10 0.4M635.1 841.2l10 0.2"/><path stroke="#dfff20" d="M645.1 841.4l9.7 -6M645.4 847.7l9.8 -6.1M645.8 853.3l9.7 -6.1M646.1 859l9.7 -6.3M637 877.2l9.8 -6.5M637.4 883.1l9.7 -6.6M637.7 888.5l9.7 -5.9M628.6 904.4l9.7 -6.2M619.5 920.3l9.7 -6.5M610.4 937l9.8 -6.7M619.5 920.3l10.1 -1.8M619.2 915.6l10 -1.8M628.6 904.4l10.1 -1.5M628.3 899.7l10 -1.5M637.7 888.5l10 -1M637.4 883.1l10 -0.5M637 877.2l10.1 -0.7M636.7 871.3l10.1 -0.6M645.8 853.3l10 -0.6M645.4 847.7l10.1 -0.5M645.1 841.4l10.1 0.2M644.8 835.3l10 0.1"/><path stroke="#efff10" d="M655.2 841.6l9.7 -6M655.5 847.2l9.7 -6.2M646.4 864.9l9.8 -6.4M646.8 870.7l9.7 -6.6M647.1 876.5l9.7 -6.7M647.4 882.6l9.7 -6.8M638 893.6l9.7 -6.1M638.3 898.2l9.7 -6.2M628.9 909.3l9.8 -6.4M629.2 913.8l9.8 -6.5M619.8 925.1l9.8 -6.6M620.2 930.3l9.7 -6.8M619.8 925.1l10.1 -1.6M628.9 909.3l10.1 -2M638 893.6l10 -1.6M647.1 876.5l10 -0.7M646.8 870.7l10 -0.9M646.4 864.9l10.1 -0.8M646.1 859l10.1 -0.5M655.5 847.2l10.1 -0.8M655.2 841.6l10 -0.6M654.8 835.4l10.1 0.2"/><path stroke="#ffff00" d="M665.2 841l9.8 -6.2M655.8 852.7l9.8 -6.3M656.2 858.5l9.7 -6.4M656.5 864.1l9.7 -6.5M647.7 887.5l9.7 -6.1M648 892l9.8 -6.3M638.7 902.9l9.7 -6.3M629.6 918.5l9.7 -6.6M629.9 923.5l9.7 -6.7M629.6 918.5l10 -1.7M629.2 913.8l10.1 -1.9M638.7 902.9l10 -2.1M638.3 898.2l10.1 -1.6M647.7 887.5l10.1 -1.8M647.4 882.6l10 -1.2M656.5 864.1l10 -0.9M656.2 858.5l10 -0.9M655.8 852.7l10.1 -0.6M664.9 835.6l10.1 -0.8"/><path stroke="#ffef00" d="M665.6 846.4l9.7 -6.3M665.9 852.1l9.7 -6.4M656.8 869.8l9.7 -6.6M657.1 875.8l9.7 -6.8M657.4 881.4l9.8 -6.9M648.4 896.6l9.7 -6.3M639 907.3l9.7 -6.5M639.3 911.9l9.7 -6.6M639 907.3l10 -2M648.4 896.6l10 -2.2M648 892l10.1 -1.7M657.4 881.4l10.1 -1.9M657.1 875.8l10.1 -1.3M656.8 869.8l10 -0.8M665.9 852.1l10 -1.1M665.6 846.4l10 -0.7M665.2 841l10.1 -0.9"/><path stroke="#ffdf00" d="M675.3 840.1l9.7 -6.3M675.6 845.7l9.7 -6.5M666.2 857.6l9.7 -6.6M666.5 863.2l9.7 -6.7M666.8 869l9.8 -6.8M657.8 885.7l9.7 -6.2M658.1 890.3l9.7 -6.3M648.7 900.8l9.7 -6.4M639.6 916.8l9.8 -6.8M639.3 911.9l10.1 -1.9M648.7 900.8l10.1 -2.2M657.8 885.7l10 -1.7M666.8 869l10.1 -1.5M666.5 863.2l10.1 -1M666.2 857.6l10 -1.1M675.3 840.1l10 -0.9M675 834.8l10 -1"/><path stroke="#ffbf00" d="M685.3 839.2l9.7 -6.4M685.6 844.5l9.8 -6.6M676.6 862.2l9.7 -6.8M676.9 867.5l9.7 -6.9M677.2 872.5l9.8 -7.1M667.8 884l9.8 -6.3M668.2 887.9l9.7 -6.5M658.8 898.6l9.7 -6.6M658.8 898.6l10 -2.1M658.4 894.4l10.1 -2.4M667.8 884l10.1 -2.6M676.9 867.5l10.1 -2.1M676.6 862.2l10 -1.6M685.6 844.5l10.1 -1.4M685.3 839.2l10.1 -1.3M685 833.8l10 -1"/><path stroke="#ffcf00" d="M675.9 851l9.7 -6.5M676.2 856.5l9.8 -6.7M667.2 874.5l9.7 -7M667.5 879.5l9.7 -7M658.4 894.4l9.8 -6.5M649 905.3l9.8 -6.7M649.4 910l9.7 -6.8M649 905.3l10.1 -2.1M658.1 890.3l10.1 -2.4M667.5 879.5l10.1 -1.8M667.2 874.5l10 -2M676.2 856.5l10.1 -1.1M675.9 851l10.1 -1.2M675.6 845.7l10 -1.2"/><path stroke="#ffaf00" d="M695.4 837.9l9.7 -6.5M686 849.8l9.7 -6.7M686.3 855.4l9.7 -6.8M686.6 860.6l9.8 -7M677.6 877.7l9.7 -7.2M668.5 892l9.7 -6.6M659.1 903.2l9.7 -6.7M668.2 887.9l10 -2.5M677.6 877.7l10 -2.7M677.2 872.5l10.1 -2M686.3 855.4l10.1 -1.8M686 849.8l10 -1.2M695 832.8l10.1 -1.4"/><path stroke="#ff9f00" d="M695.7 843.1l9.7 -6.7M696 848.6l9.8 -6.9M687 865.4l9.7 -7.1M687.3 870.5l9.7 -7.3M677.9 881.4l9.7 -6.4M668.8 896.5l9.7 -6.8M668.5 892l10 -2.3M677.9 881.4l10 -2.6M687 865.4l10 -2.2M686.6 860.6l10.1 -2.3M695.7 843.1l10.1 -1.4M695.4 837.9l10 -1.5"/><path stroke="#ff8f00" d="M705.4 836.4l9.8 -6.6M696.4 853.6l9.7 -7M696.7 858.3l9.7 -7.2M687.6 875l9.7 -7.4M678.2 885.4l9.7 -6.6M678.5 889.7l9.7 -6.8M678.2 885.4l10 -2.5M687.6 875l10 -2.8M687.3 870.5l10 -2.9M696.4 853.6l10 -2.5M696 848.6l10.1 -2M705.1 831.4l10.1 -1.6"/><path stroke="#ff8000" d="M705.8 841.7l9.7 -6.8M706.1 846.6l9.7 -7M697 863.2l9.7 -7.3M687.9 878.8l9.7 -6.6M687.9 878.8l10.1 -2.7M697 863.2l10 -3M696.7 858.3l10 -2.4M705.8 841.7l10 -2.1M705.4 836.4l10.1 -1.5"/><path stroke="#ff7000" d="M715.5 834.9l9.7 -6.8M706.4 851.1l9.7 -7.1M697.3 867.6l9.7 -7.4M697.6 872.2l9.8 -7.6M688.2 882.9l9.8 -6.8M697.3 867.6l10.1 -3M706.4 851.1l10 -2.4M706.1 846.6l10 -2.6M715.5 834.9l10 -2.3M715.2 829.8l10 -1.7"/><path stroke="#ff6000" d="M715.8 839.6l9.7 -7M716.1 844l9.7 -7.1M706.7 855.9l9.7 -7.2M707 860.2l9.8 -7.5M698 876.1l9.7 -6.7M697.6 872.2l10.1 -2.8M706.7 855.9l10.1 -3.2M715.8 839.6l10 -2.7"/><path stroke="#ff5000" d="M725.5 832.6l9.7 -6.9M716.4 848.7l9.8 -7.3M707.4 864.6l9.7 -7.6M707.4 864.6l10 -2.9M707 860.2l10.1 -3.2M716.1 844l10.1 -2.6M725.2 828.1l10 -2.4"/><path stroke="#ff4000" d="M725.8 836.9l9.8 -7.2M716.8 852.7l9.7 -7.5M707.7 869.4l9.7 -7.7M716.8 852.7l10 -3.4M716.4 848.7l10.1 -3.5M725.8 836.9l10.1 -2.8M725.5 832.6l10.1 -2.9"/><path stroke="#ff3000" d="M735.6 829.7l9.7 -7.1M726.2 841.4l9.7 -7.3M717.1 857l9.7 -7.7M717.4 861.7l9.8 -7.9M717.1 857l10.1 -3.2M726.2 841.4l10 -3.6M735.2 825.7l10.1 -3.1"/><path stroke="#ff2000" d="M735.9 834.1l9.7 -7.3M726.5 845.2l9.7 -7.4M726.8 849.3l9.8 -7.6M726.5 845.2l10.1 -3.5M735.6 829.7l10 -2.9"/><path stroke="#ff0000" d="M745.6 826.8l9.8 -7.2M736.6 841.7l9.7 -7.7M736.6 841.7l10 -3.6M736.2 837.8l10.1 -3.8M745.6 826.8l10.1 -3.9"/><path stroke="#ff1000" d="M736.2 837.8l9.8 -7.5M727.2 853.8l9.7 -7.8M726.8 849.3l10.1 -3.3M735.9 834.1l10.1 -3.8M745.3 822.6l10.1 -3"/><path stroke="#ef0000" d="M746 830.3l9.7 -7.4M736.9 846l9.7 -7.9M746 830.3l10 -3.9"/><path stroke="#df0000" d="M755.7 822.9l9.7 -7.5M746.3 834l9.7 -7.6M746.6 838.1l9.7 -7.8M746.3 834l10 -3.7M755.4 819.6l10 -4.2"/><path stroke="#cf0000" d="M756 826.4l9.7 -7.7M755.7 822.9l10 -4.2"/><path stroke="#af0000" d="M765.7 818.7l9.7 -7.6M765.7 818.7l10.1 -4.1"/><path stroke="#bf0000" d="M756.3 830.3l9.7 -7.8M756 826.4l10 -3.9M765.4 815.4l10 -4.3"/><path stroke="#9f0000" d="M766 822.5l9.8 -7.9"/><path stroke="#800000" d="M775.8 814.6l9.7 -7.8"/><path stroke="#8f0000" d="M775.4 811.1l10.1 -4.3"/></g>
<path d="M134.1 1027.7L134.1 751.6" stroke="#000" stroke-width="1.25" fill="none"/>
<path d="M134.1 1026.9L433.4 1152.1M433.4 1152.1L822.1 1055.9M233.9 1068.6L224.2 1071M333.6 1110.4L323.9 1112.8M134.1 1026.9L124.4 1029.3M433.4 1152.1L423.7 1154.5M511.1 1132.9L522.5 1137.6M588.9 1113.6L600.2 1118.4M666.6 1094.4L678 1099.1M744.4 1075.1L755.7 1079.9M822.1 1055.9L833.4 1060.6M134.1 958.1L126.7 955M134.1 889.3L126.7 886.2M134.1 820.4L126.7 817.3M134.1 1026.9L126.7 1023.8M134.1 751.6L126.7 748.5" stroke="#000" stroke-width="1.7" fill="none" stroke-linecap="butt"/>
<text transform="translate(57.05 753.9) scale(1 1.03)" font-size="32">2000</text>
<text transform="translate(57.05 828) scale(1 1.03)" font-size="32">1500</text>
<text transform="translate(57.05 895.6) scale(1 1.03)" font-size="32">1000</text>
<text transform="translate(73.05 963.7) scale(1 1.03)" font-size="32">500</text>
<text transform="translate(103.65 1030.5) scale(1 1.03)" font-size="32">0</text>
<text transform="translate(90.33 1055.5) scale(1 1.03)" font-size="32">60</text>
<text transform="translate(179.32 1097.7) scale(1 1.03)" font-size="32">50</text>
<text transform="translate(282.38 1141) scale(1 1.03)" font-size="32">40</text>
<text transform="translate(386.1 1185.2) scale(1 1.03)" font-size="32">30</text>
<text transform="translate(514.95 1165.2) scale(1 1.03)" font-size="32">0.8</text>
<text transform="translate(608.96 1143.3) scale(1 1.03)" font-size="32">1</text>
<text transform="translate(674.45 1124.6) scale(1 1.03)" font-size="32">1.2</text>
<text transform="translate(754.8 1105.4) scale(1 1.03)" font-size="32">1.4</text>
<text transform="translate(836 1084.7) scale(1 1.03)" font-size="32">1.6</text>
<text transform="translate(38.7 1118.64) rotate(-90) scale(1.07 1)" font-size="31.7">Maximum cutting area (mm<tspan font-size="21.1" dy="-10.8">2</tspan><tspan dy="10.8">)</tspan></text>
<text transform="translate(63.53 1191.3) scale(1 1.03)" font-size="31.7">Rotation speed (r/min)</text>
<text transform="translate(501.35 1197.5) scale(1 1.03)" font-size="31.7">Cross-swing speed (m/min)</text>
<text x="365.07" y="1247.7" font-size="43.5">(c)</text>
<path d="M1409.1 1140.4L1108.9 1010.4M1487.6 1120.6L1187.2 990.5M1566 1100.9L1265.6 970.7M1644.5 1081.1L1343.9 950.8M1722.9 1061.4L1422.2 930.9M1030.6 1030.3L1422.2 930.9M1130.6 1073.6L1522.4 974.4M1230.7 1116.8L1622.7 1017.9M1108.9 727L1108.9 1010.4M1187.2 707.1L1187.2 990.5M1265.6 687.3L1265.6 970.7M1343.9 667.4L1343.9 950.8M1422.2 647.5L1422.2 930.9M1030.6 959.4L1422.2 860M1030.6 888.6L1422.2 789.2M1030.6 817.8L1422.2 718.4M1030.6 746.9L1422.2 647.5M1522.4 691L1522.4 974.4M1622.7 734.5L1622.7 1017.9M1722.9 778L1722.9 1061.4M1422.2 860L1722.9 990.6M1422.2 789.2L1722.9 919.7M1422.2 718.4L1722.9 848.9M1422.2 647.5L1722.9 778" stroke="#000" stroke-width="1.65" stroke-dasharray="4.8 3.5" fill="none"/>
<polygon points="1069.4,930.4 1074.4,932.8 1079.5,935.4 1084.5,937.8 1089.5,940.3 1094.5,942.9 1099.6,944.9 1104.6,947.8 1109.6,949.7 1114.6,952.9 1119.7,955.7 1124.7,957.7 1129.7,960.3 1134.7,962.6 1139.8,965 1144.8,968.1 1149.8,969.8 1154.9,972.4 1159.9,975.4 1164.9,978.3 1169.9,981.5 1175,983.5 1180,986.3 1185,988.4 1190,991.6 1195.1,994.5 1200.1,997.4 1205.1,999.3 1210.1,1001.7 1215.2,1003.9 1220.2,1006.8 1225.2,1010.4 1230.3,1012.5 1235.3,1014.7 1240.3,1017.2 1245.3,1019.3 1250.4,1021.6 1255.4,1024 1260.4,1026.8 1265.4,1030.3 1270.5,1032.3 1275.5,1034.5 1280.5,1038 1285.5,1040.3 1290.6,1043.2 1295.6,1046 1300.6,1048.8 1305.7,1050.8 1310.7,1052.8 1315.7,1055.1 1320.7,1057.9 1325.8,1060.4 1330.8,1062.8 1335.8,1065.7 1340.8,1068.6 1345.9,1071 1350.9,1073.1 1355.9,1075.8 1360.9,1078.4 1366,1080.8 1371,1083.9 1378.8,1077.4 1386.7,1071.1 1394.5,1064.8 1402.3,1057 1410.2,1050.8 1418,1044.1 1425.8,1037.4 1433.7,1031.2 1441.5,1025.6 1449.3,1019.3 1457.2,1013.4 1465,1006.5 1472.8,998.8 1480.7,992.2 1488.5,986.5 1496.3,980.2 1504.2,973.3 1512,966.1 1519.8,959.7 1527.7,954.2 1535.5,947.1 1543.3,940.2 1551.1,934.1 1559,928.1 1566.8,921.9 1574.6,914.9 1582.5,908.7 1590.3,902.2 1598.1,895.6 1606,889.2 1613.8,882.4 1621.6,876.7 1629.5,870.1 1637.3,863 1645.1,856.3 1653,849.2 1660.8,842.6 1668.6,836 1676.5,829.9 1684.3,823.9 1679.3,821.8 1674.2,819.5 1669.2,817 1664.2,814.1 1659.2,811.9 1654.1,809.6 1649.1,807.1 1644.1,804.3 1639.1,801.5 1634,799 1629,796.9 1624,794.2 1619,791 1613.9,788.9 1608.9,786.4 1603.9,784.6 1598.8,782.3 1593.8,779.6 1588.8,776.8 1583.8,773.6 1578.7,771.5 1573.7,769.2 1568.7,766.6 1563.7,764.4 1558.6,762.1 1553.6,760.5 1548.6,758.1 1543.6,755.1 1538.5,751.3 1533.5,748.9 1528.5,747 1523.4,744.4 1518.4,741.9 1513.4,740.2 1508.4,738.2 1503.3,735.1 1498.3,732.4 1493.3,729 1488.3,726.5 1483.2,724.1 1478.2,722.7 1473.2,719.8 1468.2,716.5 1463.1,714.1 1458.1,711.8 1453.1,709.9 1448,706.4 1443,704.1 1438,701.9 1433,699 1427.9,697.5 1422.9,695 1417.9,691.5 1412.9,688.5 1407.8,686.9 1402.8,684.2 1397.8,682.6 1392.8,680.6 1387.7,678.2 1382.7,675 1374.9,681.2 1367,687.8 1359.2,694.2 1351.4,700 1343.5,707.2 1335.7,714.2 1327.9,720.1 1320,725.7 1312.2,732.1 1304.4,738.1 1296.5,745 1288.7,751.4 1280.9,757.4 1273,764.1 1265.2,771 1257.4,777.6 1249.5,783.4 1241.7,789.2 1233.9,796 1226.1,801.8 1218.2,808.2 1210.4,814.6 1202.6,820.4 1194.7,827.3 1186.9,834.9 1179.1,841 1171.2,846.7 1163.4,853.2 1155.6,860.5 1147.7,867.1 1139.9,872.7 1132.1,879.6 1124.2,885.4 1116.4,892 1108.6,898.2 1100.7,904.4 1092.9,911.3 1085.1,917 1077.2,923.7" fill="#fff" stroke="none"/>
<g fill="none" stroke-width="1.7" stroke-linejoin="round"><path stroke="#0010ff" d="M1069.4 930.4l7.8 -6.7M1074.4 932.8l7.9 -7.2M1079.5 935.4l7.8 -6.7M1084.5 937.8l7.8 -6.4M1117.4 943.2l7.9 -5.6M1122.5 946.1l7.8 -5.6M1127.5 949l7.8 -6.1M1132.5 951l7.9 -6.1M1137.6 953.4l7.8 -6.4M1142.6 955.9l7.8 -6.1M1147.6 958.4l7.8 -6.4M1152.6 961.3l7.9 -6.7M1157.7 963.9l7.8 -6.3M1175.5 963.6l7.9 -6.5M1180.6 966l7.8 -6.2M1185.6 968.2l7.8 -6.3M1190.6 970.1l7.9 -6.3M1195.7 972.9l7.8 -7M1200.7 975.9l7.8 -6.7M1205.7 979.3l7.8 -6.7M1243.7 987.2l7.8 -6.3M1248.7 989.6l7.9 -6.5M1253.8 992.3l7.8 -6.7M1258.8 995l7.8 -6.4M1263.8 998l7.8 -6.7M1268.8 1000.4l7.9 -6.5M1273.9 1002.4l7.8 -6.4M1278.9 1005.1l7.8 -6.5M1311.8 1011.9l7.9 -6.9M1316.9 1014.2l7.8 -6.5M1321.9 1015.7l7.8 -6.1M1326.9 1018.3l7.9 -6.5M1332 1021.8l7.8 -6.4M1337 1025l7.8 -6.8M1342 1027l7.8 -6.8M1375 1033.3l7.8 -6.5M1380 1036.3l7.8 -6.6M1385 1038.4l7.9 -5.7M1390.1 1041.1l7.8 -6.8M1395.1 1043.9l7.8 -7.4M1400.1 1046.8l7.8 -7.7M1405.1 1048.9l7.9 -6.9M1410.2 1050.8l7.8 -6.7M1087.3 928.7l5 2.7l5 2.5l5.1 2.1l5 2.4l5 2.2l5 2.6l5.1 2.9l5 2.9M1160.5 954.6l5 3l5 3.5l5 2.5l5.1 2.4l5 2.2l5 1.9l5.1 2.8M1208.5 969.2l5 3.4l5.1 2.8l5 2.2l5 2.7l5 2.3l5.1 2.5l5 2.1l5 2.4l5.1 2.7M1276.7 993.9l5 2.1l5 2.6l5 2.5l5.1 3.1l5 1.9l5 2.6l5 3.2l5.1 2.3l5 1.5l5 2.6M1339.8 1015.4l5 2.8l5 2l5.1 2.7l5 2.9l5 2.1l5 2.4l5.1 3l5 3M1413 1042l5 2.1"/><path stroke="#0020ff" d="M1077.2 923.7l7.9 -6.7M1082.3 925.6l7.8 -6.2M1087.3 928.7l7.8 -6.1M1092.3 931.4l7.8 -5.7M1097.3 933.9l7.9 -7M1102.4 936l7.8 -6.3M1107.4 938.4l7.8 -6.8M1112.4 940.6l7.9 -6.2M1135.3 942.9l7.9 -6.2M1140.4 944.9l7.8 -6M1145.4 947l7.8 -5.7M1150.4 949.8l7.8 -6.3M1155.4 952l7.9 -6.3M1160.5 954.6l7.8 -6.4M1165.5 957.6l7.8 -6.5M1170.5 961.1l7.9 -6.6M1208.5 969.2l7.8 -5.7M1213.5 972.6l7.9 -6.2M1218.6 975.4l7.8 -6.3M1223.6 977.6l7.8 -7.1M1228.6 980.3l7.8 -7.1M1233.6 982.6l7.9 -7M1238.7 985.1l7.8 -6.7M1266.6 988.6l7.8 -6.5M1271.6 991.3l7.9 -6.6M1276.7 993.9l7.8 -6.6M1281.7 996l7.8 -5.6M1286.7 998.6l7.8 -5.9M1291.7 1001.1l7.9 -6M1296.8 1004.2l7.8 -6.7M1301.8 1006.1l7.8 -6.1M1306.8 1008.7l7.9 -6.8M1339.8 1015.4l7.8 -6.9M1344.8 1018.2l7.8 -7M1349.8 1020.2l7.9 -7.2M1354.9 1022.9l7.8 -6.4M1359.9 1025.8l7.8 -6.2M1364.9 1027.9l7.9 -6.2M1369.9 1030.3l7.9 -6.6M1392.9 1032.7l7.8 -7M1407.9 1039.1l7.9 -6.4M1413 1042l7.8 -6.6M1418 1044.1l7.8 -6.7M1077.2 923.7l5.1 1.9l5 3.1M1115.2 931.6l5.1 2.8l5 3.2l5 2.9l5 2.4l5.1 2l5 2.1l5 2.8l5 2.2l5.1 2.6M1173.3 951.1l5.1 3.4l5 2.6l5 2.7l5 2.1l5.1 1.9l5 2.1l5 3.3M1241.5 975.6l5 2.8l5 2.5l5.1 2.2l5 2.5l5 3l5 2.7l5.1 2.6M1299.6 995.1l5 2.4l5 2.5l5.1 1.9l5 3.1l5 2.7l5 1.9l5.1 2.2l5 3.6M1367.7 1019.6l5.1 2.1l5 2l5 3.1l5 2.9l5.1 3l5 1.6l5 2.2l5 2.6l5.1 2.9"/><path stroke="#0040ff" d="M1085.1 917l7.8 -5.7M1090.1 919.4l7.8 -5.8M1128.1 928l7.8 -5.2M1133.1 931.6l7.8 -6.1M1138.1 934l7.9 -6M1143.2 936.7l7.8 -6.7M1148.2 938.9l7.8 -6.4M1153.2 941.3l7.8 -6.6M1158.2 943.5l7.9 -6.6M1163.3 945.7l7.8 -6.6M1186.2 947.8l7.8 -6.5M1191.2 950.4l7.8 -6.5M1196.2 952.8l7.9 -6.9M1201.3 955.6l7.8 -6.6M1206.3 958.1l7.8 -6.3M1211.3 960.7l7.8 -6.2M1216.3 963.5l7.9 -6.6M1249.3 970.2l7.8 -6.8M1254.3 972.3l7.9 -7.3M1259.4 974.7l7.8 -7M1264.4 977l7.8 -6.9M1269.4 979l7.8 -6.4M1274.4 982.1l7.9 -6.4M1279.5 984.7l7.8 -6.3M1284.5 987.3l7.8 -6.4M1322.5 995.5l7.8 -5.4M1327.5 998.5l7.8 -6.3M1332.5 1001.4l7.9 -7M1337.6 1004l7.8 -6.2M1342.6 1005.9l7.8 -5.6M1347.6 1008.5l7.9 -5.7M1352.6 1011.2l7.9 -5.8M1357.7 1013l7.8 -6.2M1380.6 1015.3l7.8 -6.4M1385.6 1017.8l7.8 -6M1390.6 1020.1l7.9 -5.9M1395.7 1022.9l7.8 -7M1400.7 1025.7l7.8 -6.3M1405.7 1027.9l7.9 -6.5M1410.7 1029.9l7.9 -6.2M1415.8 1032.7l7.8 -6.9M1420.8 1035.4l7.8 -6.8M1425.8 1037.4l7.9 -6.2M1092.9 911.3l5 2.3l5.1 2.9l5 2.5l5 1.8l5 2.1l5.1 2.5l5 2.6l5 3.6M1156 932.5l5 2.2l5.1 2.2l5 2.2l5 3.3l5.1 2.7l5 2.7l5 2.6l5 2.4M1219.1 954.5l5.1 2.4l5 2.8l5 2.1l5.1 2.7l5 2.7l5 3l5 2.1l5.1 2.4M1264.4 977l5 2M1287.3 978.4l5 2.5l5.1 3l5 2.3l5 2l5 2.6l5.1 2.2l5 2.5l5 3M1345.4 997.8l5 2.5l5.1 2.5l5 2.6l5 1.4l5 2.8l5.1 3.2l5 2.5l5 2.5l5 2.3l5.1 2.8M1428.6 1028.6l5.1 2.6"/><path stroke="#0050ff" d="M1092.9 911.3l7.8 -6.9M1097.9 913.6l7.9 -6.8M1103 916.5l7.8 -7M1108 919l7.8 -6.4M1113 920.8l7.8 -6.2M1118 922.9l7.9 -6.3M1123.1 925.4l7.8 -6.1M1140.9 925.5l7.9 -6.9M1146 928l7.8 -7M1151 930l7.8 -7.2M1156 932.5l7.9 -6.8M1161 934.7l7.9 -5.6M1166.1 936.9l7.8 -5.6M1171.1 939.1l7.8 -5.8M1176.1 942.4l7.9 -6.2M1181.2 945.1l7.8 -6.2M1214.1 951.8l7.9 -7.3M1219.1 954.5l7.9 -7.1M1224.2 956.9l7.8 -7.3M1229.2 959.7l7.8 -7.1M1234.2 961.8l7.9 -6.7M1239.3 964.5l7.8 -6.6M1244.3 967.2l7.8 -6.5M1282.3 975.7l7.8 -6.3M1287.3 978.4l7.8 -6.2M1292.3 980.9l7.9 -6.4M1297.4 983.9l7.8 -6.5M1302.4 986.2l7.8 -6.2M1307.4 988.2l7.8 -5.4M1312.4 990.8l7.9 -6M1317.5 993l7.8 -5.5M1345.4 997.8l7.8 -6.8M1350.4 1000.3l7.9 -6.6M1355.5 1002.8l7.8 -6.9M1360.5 1005.4l7.8 -6.6M1365.5 1006.8l7.8 -6.2M1370.5 1009.6l7.9 -6.5M1375.6 1012.8l7.8 -6.6M1408.5 1019.4l7.9 -6.4M1413.6 1021.4l7.8 -5.8M1418.6 1023.7l7.8 -5.5M1423.6 1025.8l7.8 -6M1428.6 1028.6l7.9 -6.3M1433.7 1031.2l7.8 -5.6M1110.8 909.5l5 3.1l5 2l5.1 2l5 2.7l5 3.5l5 2.7l5.1 2.5l5 2l5 2.5M1184 936.2l5 2.7l5 2.4l5 2.6l5.1 2l5 3.1l5 2.8l5 2.7M1247.1 957.9l5 2.8l5 2.7l5.1 1.6l5 2.7l5 2.4l5 2.5l5.1 3.1l5 2.7M1305.2 977.4l5 2.6l5 2.8l5.1 2l5 2.7l5 2.6l5 2.1l5.1 2.2l5 3.4M1383.4 1006.2l5 2.7l5 2.9l5.1 2.4l5 1.7l5 3.5l5.1 2l5 2.3l5 2.1l5 2.8"/><path stroke="#0070ff" d="M1100.7 904.4l7.9 -6.2M1105.8 906.8l7.8 -6.8M1123.6 906l7.9 -6M1138.7 913.1l7.9 -6M1143.7 916.2l7.9 -6.3M1148.8 918.6l7.8 -6.1M1153.8 921l7.8 -6M1158.8 922.8l7.9 -6.5M1163.9 925.7l7.8 -6.7M1196.8 932.8l7.9 -6.9M1201.8 935.4l7.9 -7.1M1206.9 938.2l7.8 -6.8M1211.9 939.5l7.8 -6.1M1216.9 942.1l7.9 -6.8M1222 944.5l7.8 -6.2M1227 947.4l7.8 -6.1M1232 949.6l7.8 -5.8M1265 956.4l7.8 -6.7M1270 958.7l7.8 -6.7M1275 961.7l7.9 -6.6M1280.1 964.5l7.8 -6.6M1285.1 966.9l7.8 -6.2M1290.1 969.4l7.8 -6.3M1295.1 972.2l7.9 -6.4M1300.2 974.5l7.8 -6.6M1323.1 976.2l7.8 -6.5M1328.1 978.4l7.8 -6.1M1333.1 980.7l7.9 -6.8M1338.2 983.8l7.8 -7.1M1343.2 985.9l7.8 -6.3M1348.2 987.9l7.8 -5.9M1353.2 991l7.9 -7M1358.3 993.7l7.8 -7.2M1363.3 995.9l7.8 -7.2M1391.2 1000l7.9 -6.2M1396.3 1002.6l7.8 -6.4M1401.3 1005.6l7.8 -7M1406.3 1007.7l7.8 -6.4M1411.3 1009.8l7.9 -6.2M1416.4 1013l7.8 -6.4M1421.4 1015.6l7.8 -6.1M1431.4 1019.8l7.9 -6.6M1436.5 1022.3l7.8 -6.2M1449.3 1019.3l7.9 -5.9M1108.6 898.2l5 1.8l5 2.9l5 3.1l5.1 2.1l5 2l5 3M1171.7 919l5 3.9l5 2.6l5.1 1.9l5 2.6l5 2.8l5 2.6M1234.8 941.3l5 2.5l5.1 2.7l5 2.1l5 2.9l5 2.5l5.1 2.4l5 2.3l5 3M1292.9 960.7l5 2.4l5.1 2.7l5 2.1l5 3.1l5 2l5.1 3.2l5 2.2l5 2.3M1371.1 988.7l5 3.2l5.1 2.5l5 2.9l5 2.7l5.1 2.6M1424.2 1006.6l5 2.9l5 2.4l5.1 1.3l5 2.9l5 3.2"/><path stroke="#0080ff" d="M1108.6 898.2l7.8 -6.2M1113.6 900l7.8 -6.1M1118.6 902.9l7.8 -6M1128.7 908.1l7.8 -6.6M1133.7 910.1l7.8 -6.1M1151.6 909.9l7.8 -5.9M1156.6 912.5l7.8 -6.1M1161.6 915l7.9 -6M1166.7 916.3l7.8 -5.9M1171.7 919l7.8 -6.4M1176.7 922.9l7.8 -6.8M1181.7 925.5l7.9 -6.1M1186.8 927.4l7.8 -6M1191.8 930l7.8 -6.4M1214.7 931.4l7.8 -6.1M1219.7 933.4l7.9 -5.9M1229.8 938.3l7.8 -5.8M1234.8 941.3l7.8 -5.6M1239.8 943.8l7.9 -5.9M1244.9 946.5l7.8 -6.3M1249.9 948.6l7.8 -6.6M1254.9 951.5l7.9 -6.3M1259.9 954l7.9 -6.4M1282.9 955.1l7.8 -5.7M1287.9 957.9l7.8 -6.6M1292.9 960.7l7.8 -6.7M1297.9 963.1l7.9 -7.3M1303 965.8l7.8 -7.5M1308 967.9l7.8 -6.9M1313 971l7.9 -6.9M1318 973l7.9 -6.2M1351 979.6l7.8 -6.3M1356 982l7.9 -6M1361.1 984l7.8 -6.2M1366.1 986.5l7.8 -6M1371.1 988.7l7.9 -5.2M1376.1 991.9l7.9 -5.6M1381.2 994.4l7.8 -5.8M1386.2 997.3l7.8 -6M1424.2 1006.6l7.8 -6.8M1429.2 1009.5l7.9 -6.7M1434.2 1011.9l7.9 -6.5M1439.3 1013.2l7.8 -6.2M1444.3 1016.1l7.8 -6.3M1126.4 896.9l5.1 3.1l5 1.5l5 2.5l5.1 3.1l5 2.8l5 2.6l5 2.5l5.1 1.3l5 2.7M1184.5 916.1l5.1 3.3l5 2l5 2.2l5.1 2.3l5 2.4l5 3.1l5 2l5.1 1.9l5 3l5 3M1257.7 942l5.1 3.2l5 2.4l5 2.1l5 2.3l5.1 3.1l5 2.8l5 2.8M1320.9 964.1l5 2.7l5 2.9l5 2.6l5.1 1.6l5 2.8l5 2.9l5 2.4l5.1 2l5 2.5l5 2.2M1379 983.5l5 2.8l5 2.3l5 2.7l5.1 2.5l5 2.4l5 2.4l5 2.7l5.1 2.3l5 3M1452.1 1009.8l5.1 3.6"/><path stroke="#008fff" d="M1116.4 892l7.8 -6.6M1121.4 893.9l7.9 -6.6M1126.4 896.9l7.9 -6.3M1131.5 900l7.8 -6.5M1136.5 901.5l7.8 -6.8M1141.5 904l7.9 -6.2M1146.6 907.1l7.8 -5.9M1169.5 909l7.8 -6.6M1184.5 916.1l7.9 -7M1189.6 919.4l7.8 -7.5M1194.6 921.4l7.8 -6.9M1199.6 923.6l7.9 -6.2M1204.7 925.9l7.8 -6.5M1209.7 928.3l7.8 -6.4M1224.8 935.3l7.8 -5.7M1242.6 935.7l7.9 -7.3M1247.7 937.9l7.8 -6.4M1252.7 940.2l7.8 -6.1M1257.7 942l7.9 -5.5M1262.8 945.2l7.8 -5.6M1267.8 947.6l7.8 -6M1272.8 949.7l7.8 -6.4M1277.8 952l7.9 -5.8M1320.9 964.1l7.8 -6.1M1325.9 966.8l7.8 -6.9M1330.9 969.7l7.8 -6.9M1335.9 972.3l7.9 -6.8M1341 973.9l7.8 -6.8M1346 976.7l7.8 -6.8M1379 983.5l7.8 -6.4M1384 986.3l7.8 -6.3M1389 988.6l7.8 -6.7M1394 991.3l7.9 -6.8M1399.1 993.8l7.8 -6.6M1404.1 996.2l7.8 -6.6M1409.1 998.6l7.8 -6.9M1414.1 1001.3l7.9 -7.3M1419.2 1003.6l7.8 -6.9M1437.1 1002.8l7.8 -6.6M1442.1 1005.4l7.8 -6.6M1452.1 1009.8l7.9 -6.5M1457.2 1013.4l7.8 -6.9M1116.4 892l5 1.9l5 3M1149.4 897.8l5 3.4l5 2.8l5 2.4l5.1 2.6l5 1.4l5 2.2l5 3.5M1217.5 921.9l5 3.4l5.1 2.2l5 2.1l5 2.9l5 3.2l5.1 2.2l5 2.3l5 1.8M1270.6 939.6l5 2M1285.7 946.2l5 3.2l5 1.9l5 2.7l5.1 1.8l5 2.5l5 2.7l5.1 3.1M1353.8 969.9l5 3.4l5.1 2.7l5 1.8l5 2.7l5.1 3M1416.9 991.7l5.1 2.3l5 2.7l5 3.1l5.1 3l5 2.6l5 1.6l5 2.8"/><path stroke="#00afff" d="M1124.2 885.4l7.9 -5.8M1129.3 887.3l7.8 -6M1134.3 890.6l7.8 -6.7M1144.3 894.7l7.9 -6.7M1162.2 894.4l7.9 -6M1167.2 897.4l7.9 -6.8M1172.3 899.6l7.8 -7.4M1177.3 902.4l7.8 -7.6M1182.3 904.3l7.9 -6.9M1187.4 906.2l7.8 -6.5M1192.4 909.1l7.8 -6.2M1197.4 911.9l7.8 -6.2M1202.4 914.5l7.9 -6.4M1230.4 918.4l7.8 -6.7M1235.4 921.2l7.8 -7.3M1240.4 922.8l7.9 -6.1M1245.5 925.5l7.8 -6.2M1250.5 928.4l7.8 -6.7M1255.5 931.5l7.8 -6.8M1260.5 934.1l7.9 -7.3M1298.5 942.9l7.9 -6.9M1303.6 944.9l7.8 -6.6M1308.6 947.6l7.8 -6M1313.6 949.6l7.8 -5.9M1318.6 951.5l7.9 -5.1M1323.7 954.5l7.8 -5.6M1328.7 958l7.8 -6.4M1333.7 959.9l7.8 -6.4M1338.7 962.8l7.9 -7.5M1366.7 967.5l7.8 -7.1M1371.7 969.8l7.8 -6.9M1376.7 971.2l7.9 -5.9M1381.8 974.4l7.8 -7.1M1386.8 977.1l7.8 -7.1M1391.8 980l7.8 -7.7M1396.8 981.9l7.9 -7.3M1434.8 991l7.9 -6.5M1439.9 993.6l7.8 -6.6M1444.9 996.2l7.8 -6.9M1449.9 998.8l7.8 -6.9M1454.9 1000.4l7.9 -5.9M1460 1003.3l7.8 -6.9M1465 1006.5l7.8 -7.7M1132.1 879.6l5 1.7l5 2.6l5 3.1l5.1 1l5 2.7l5 3.7l5 3M1200.2 902.9l5 2.8l5.1 2.4l5 2.9l5 1.9l5 2.6l5.1 2.9l5 2.8l5 1.6l5.1 2.7M1268.4 926.8l5 3l5 3l5 2.1l5.1 1.7l5 2.9l5 3.4l5.1 2M1313.6 949.6l5 1.9M1326.5 946.4l5 2.5l5 2.7l5 1.9l5.1 1.8l5 3.3l5 2.2l5.1 3.2l5 3.5M1404.7 974.6l5 3.5l5 2.5l5.1 2.4l5 2.1l5 2.6l5 3.3"/><path stroke="#00bfff" d="M1132.1 879.6l7.8 -6.9M1137.1 881.3l7.8 -6.8M1142.1 883.9l7.8 -7.1M1147.1 887l7.9 -6.7M1152.2 888l7.8 -6.1M1157.2 890.7l7.8 -5.9M1200.2 902.9l7.8 -6.2M1205.2 905.7l7.9 -6.4M1210.3 908.1l7.8 -6.6M1215.3 911l7.8 -6.8M1220.3 912.9l7.9 -6.2M1225.3 915.5l7.9 -6.5M1253.3 919.3l7.8 -6M1258.3 921.7l7.8 -6.3M1263.3 924.7l7.9 -6.8M1268.4 926.8l7.8 -6.4M1273.4 929.8l7.8 -6.4M1278.4 932.8l7.9 -6.2M1283.4 934.9l7.9 -6.6M1288.5 936.6l7.8 -6.2M1293.5 939.5l7.8 -6.8M1316.4 941.6l7.8 -6.7M1321.4 943.7l7.9 -6.5M1326.5 946.4l7.8 -6.9M1331.5 948.9l7.8 -6.9M1336.5 951.6l7.9 -6.8M1341.5 953.5l7.9 -6.4M1346.6 955.3l7.8 -5.6M1351.6 958.6l7.8 -6.3M1356.6 960.8l7.9 -6M1361.7 964l7.8 -6.7M1394.6 970l7.8 -7M1399.6 972.3l7.9 -6.4M1404.7 974.6l7.8 -6.2M1409.7 978.1l7.8 -6.4M1414.7 980.6l7.9 -6.7M1419.8 983l7.8 -7.3M1424.8 985.1l7.8 -7.1M1429.8 987.7l7.8 -6.2M1457.7 991.9l7.9 -5.9M1462.8 994.5l7.8 -6.3M1467.8 996.4l7.8 -6.3M1472.8 998.8l7.9 -6.6M1165 884.8l5.1 3.6l5 2.2l5 1.6l5 2.6l5.1 2.6l5 2.3l5 3.2M1223.1 904.2l5.1 2.5l5 2.3l5 2.7l5 2.2l5.1 2.8l5 2.6l5 2.4l5 3l5.1 2.1M1286.3 926.6l5 1.7l5 2.1l5 2.3l5.1 3.3l5 2.3l5 3.3l5 2.1l5.1 2.7M1359.4 952.3l5.1 2.5l5 2.5l5 3.1l5 2.5l5.1 2.4l5 2l5 2.7l5 2.3l5.1 2.3M1432.6 978l5 3.5l5.1 3l5 2.5l5 2.3l5 2.6l5.1 2.6l5 1.9l5 2.4"/><path stroke="#00cfff" d="M1139.9 872.7l7.8 -5.6M1155 880.3l7.8 -6.4M1160 881.9l7.8 -6.1M1165 884.8l7.9 -5.6M1170.1 888.4l7.8 -6.5M1175.1 890.6l7.8 -6.8M1180.1 892.2l7.8 -6.4M1185.1 894.8l7.9 -6M1190.2 897.4l7.8 -6.2M1195.2 899.7l7.8 -6.2M1208 896.7l7.9 -5.8M1213.1 899.3l7.8 -5.9M1218.1 901.5l7.8 -6.5M1223.1 904.2l7.9 -6.6M1228.2 906.7l7.8 -6.6M1233.2 909l7.8 -6.1M1238.2 911.7l7.8 -6.9M1243.2 913.9l7.9 -6.3M1248.3 916.7l7.8 -6.2M1281.2 923.4l7.9 -6.3M1286.3 926.6l7.8 -6.8M1291.3 928.3l7.8 -6.8M1296.3 930.4l7.8 -6.5M1301.3 932.7l7.9 -6.6M1306.4 936l7.8 -7.2M1311.4 938.3l7.8 -6.6M1349.4 947.1l7.8 -6M1354.4 949.7l7.8 -6.6M1359.4 952.3l7.9 -6.2M1364.5 954.8l7.8 -6.3M1369.5 957.3l7.8 -6.9M1374.5 960.4l7.8 -7.8M1379.5 962.9l7.9 -7.6M1384.6 965.3l7.8 -7.1M1389.6 967.3l7.8 -6.2M1417.5 971.7l7.9 -5.8M1422.6 973.9l7.8 -6.1M1427.6 975.7l7.8 -6.3M1432.6 978l7.8 -6.3M1437.6 981.5l7.9 -6.7M1442.7 984.5l7.8 -7.3M1447.7 987l7.8 -6.9M1452.7 989.3l7.8 -6.8M1139.9 872.7l5 1.8l5 2.3l5.1 3.5l5 1.6l5 2.9M1177.9 881.9l5 1.9M1187.9 885.8l5.1 3l5 2.4l5 2.3l5 3.2l5.1 2.6l5 2.2l5 2.7M1251.1 907.6l5 2.9l5 2.8l5 2.1l5.1 2.5l5 2.5l5 3l5.1 3.2M1319.2 931.7l5 3.2l5.1 2.3l5 2.3l5 2.5l5.1 2.8l5 2.3l5 2.6l5 2.6M1392.4 958.2l5 2.9l5 1.9l5.1 2.9l5 2.5l5 3.3l5.1 2.2l5 1.8l5 2.3M1455.5 980.1l5 2.4l5.1 3.5l5 2.2l5 1.9l5.1 2.1"/><path stroke="#00efff" d="M1147.7 867.1l7.9 -6.6M1152.8 868.8l7.8 -6.5M1157.8 870.6l7.8 -6.1M1162.8 873.9l7.8 -6.6M1167.8 875.8l7.9 -5.9M1195.8 880.2l7.8 -6.6M1200.8 883l7.8 -6.5M1205.8 885.6l7.9 -6.4M1210.9 887.4l7.8 -5.9M1215.9 890.9l7.8 -6.4M1220.9 893.4l7.8 -6.3M1225.9 895l7.9 -5.5M1231 897.6l7.8 -5.8M1263.9 903.8l7.9 -5.9M1269 906.9l7.8 -6.2M1274 909l7.8 -6.2M1279 912l7.8 -6.1M1284 914.3l7.9 -5.9M1289.1 917.1l7.8 -6.5M1294.1 919.8l7.8 -6.6M1299.1 921.5l7.8 -6.1M1304.1 923.9l7.9 -5.8M1327 925.8l7.9 -5.9M1332.1 928.7l7.8 -6.7M1337.1 930.4l7.8 -6.1M1342.1 932.7l7.9 -5.9M1347.2 934.8l7.8 -5.8M1352.2 938.1l7.8 -6.5M1357.2 941.1l7.8 -6.7M1362.2 943.1l7.9 -6.3M1382.3 952.6l7.9 -6.2M1405.3 954.4l7.8 -6M1410.3 957.2l7.8 -6.5M1415.3 959.5l7.8 -6M1420.3 962.6l7.9 -6.6M1425.4 965.9l7.8 -6.9M1430.4 967.8l7.8 -6.5M1435.4 969.4l7.8 -5.9M1440.4 971.7l7.9 -5.9M1463.4 973.8l7.8 -6.1M1468.4 976.7l7.8 -6.5M1473.4 979.1l7.8 -6.3M1478.4 981.4l7.9 -6.8M1483.5 983.3l7.8 -6.1M1488.5 986.5l7.8 -6.3M1165.6 864.5l5 2.8l5.1 2.6l5 2.9l5 2.2l5 1.7l5.1 3.5l5 2.8M1223.7 884.5l5 2.6l5.1 2.4l5 2.3l5 3l5 1.4l5.1 2.5l5 1.7l5 3.4l5.1 3.1l5 2.1M1296.9 910.6l5 2.6l5 2.2l5.1 2.7l5 2.6l5 2.2l5 2.9l5.1 2.9l5 1.7l5 2.3l5.1 2.1l5 3.3M1370.1 936.8l5 3.2l5 2.6l5 2l5.1 1.8l5 2l5 3.6l5.1 2.4l5 2.8M1428.2 956l5 3l5 2.3l5 2.2l5.1 2.3l5 2.7l5 2.3l5.1 3l5 2.9"/><path stroke="#00ffff" d="M1155.6 860.5l7.8 -7.3M1160.6 862.3l7.8 -6.4M1165.6 864.5l7.8 -6.5M1170.6 867.3l7.9 -6.4M1175.7 869.9l7.8 -6.4M1180.7 872.8l7.8 -6.2M1185.7 875l7.9 -6.4M1190.7 876.7l7.9 -5.7M1218.7 881.5l7.8 -6.1M1223.7 884.5l7.8 -6.6M1228.7 887.1l7.9 -6.8M1233.8 889.5l7.8 -6.6M1238.8 891.8l7.8 -6.4M1243.8 894.8l7.8 -7.1M1248.8 896.2l7.9 -6M1253.9 898.7l7.8 -6.1M1258.9 900.4l7.8 -5M1286.8 905.9l7.9 -6.7M1291.9 908.4l7.8 -6.5M1296.9 910.6l7.8 -6.7M1301.9 913.2l7.8 -6.2M1306.9 915.4l7.9 -5.8M1312 918.1l7.8 -6.1M1317 920.7l7.8 -5.5M1322 922.9l7.9 -5.8M1360 931.6l7.8 -6.2M1365 934.4l7.9 -6.9M1370.1 936.8l7.8 -6.6M1375.1 940l7.8 -6.9M1380.1 942.6l7.9 -7.2M1385.1 944.6l7.9 -6.8M1390.2 946.4l7.8 -6.2M1395.2 948.4l7.8 -5.6M1400.2 952l7.9 -6.9M1423.1 953.5l7.9 -6.4M1428.2 956l7.8 -6.4M1433.2 959l7.8 -7.1M1438.2 961.3l7.9 -7.2M1443.2 963.5l7.9 -6.5M1448.3 965.8l7.8 -6.3M1453.3 968.5l7.8 -6.2M1458.3 970.8l7.9 -6.3M1496.3 980.2l7.9 -6.9M1155.6 860.5l5 1.8l5 2.2M1188.5 866.6l5.1 2l5 2.4l5 2.6l5 2.9l5.1 2.7l5 2.3l5 3M1256.7 890.2l5 2.4l5 2.8l5.1 2.5l5 2.8l5 2.1l5 3.1l5.1 2.5l5 2.2M1319.8 912l5 3.2l5.1 1.9l5 2.8l5 2.1l5 2.3l5.1 2.5l5 2.2l5 2.6l5 2.8l5.1 2.4M1398 940.2l5 2.6l5.1 2.3l5 3.3l5 2.3l5 2.8l5.1 2.5M1461.1 962.3l5.1 2.2l5 3.2l5 2.5l5 2.6l5.1 1.8l5 2.6l5 3"/><path stroke="#20ffdf" d="M1163.4 853.2l7.8 -6.5M1168.4 855.9l7.8 -6.4M1173.4 858l7.9 -5.7M1178.5 860.9l7.8 -6.6M1211.4 866.8l7.9 -6.4M1216.5 869.3l7.8 -6M1221.5 872.5l7.8 -6.1M1226.5 875.4l7.8 -6.3M1231.5 877.9l7.9 -7.1M1236.6 880.3l7.8 -7.2M1241.6 882.9l7.8 -7.2M1246.6 885.4l7.9 -7.5M1274.6 889.1l7.8 -6.7M1279.6 891.6l7.8 -6.6M1284.6 894.4l7.8 -6.4M1289.6 896.6l7.9 -6.1M1294.7 899.2l7.8 -6.8M1299.7 901.9l7.8 -7.4M1304.7 903.9l7.9 -6.7M1309.7 907l7.9 -7.1M1332.7 908.3l7.8 -6.6M1337.7 910.9l7.8 -7.2M1342.7 912.8l7.8 -6.9M1347.7 915.1l7.9 -7.1M1352.8 917.6l7.8 -6.4M1357.8 921.1l7.8 -7.2M1362.8 922.9l7.9 -6.2M1367.8 925.4l7.9 -6.7M1372.9 927.5l7.8 -6.4M1377.9 930.2l7.8 -6.7M1382.9 933.1l7.9 -6.8M1388 935.4l7.8 -7.2M1410.9 936.8l7.8 -6.4M1415.9 939.6l7.8 -6.3M1420.9 942.1l7.9 -6M1425.9 944.9l7.9 -7.2M1431 947.1l7.8 -7.1M1436 949.6l7.8 -6.7M1441 951.9l7.9 -6.1M1446.1 954.1l7.8 -6.2M1479 960.4l7.9 -6.1M1484 963.1l7.9 -5.9M1489.1 965.8l7.8 -6.6M1494.1 968.2l7.8 -6.4M1499.1 971l7.9 -6.6M1504.2 973.3l7.8 -7.2M1176.2 849.5l5.1 2.8l5 2l5 2.6l5.1 2.2l5 3l5 2.3l5 2.4l5.1 2.5M1244.4 873.1l5 2.6l5.1 2.2l5 3.1l5 2.9l5 2.7l5.1 2.5l5 2.5M1312.6 897.2l5 2.7l5 2.9l5 2.3l5.1 3.2l5 2.6l5 1.9l5 2.3l5.1 2.5M1385.7 923.5l5.1 2.8l5 1.9l5 3.1l5 3.1l5.1 2.4l5 2.8M1443.8 942.9l5.1 2.9l5 2.1l5 2.9l5 2.2l5.1 2.4l5 2.2l5 2.8l5 2.7l5.1 2.7"/><path stroke="#30ffcf" d="M1171.2 846.7l7.9 -5.7M1176.2 849.5l7.9 -5.8M1181.3 852.3l7.8 -6.6M1186.3 854.3l7.8 -5.6M1191.3 856.9l7.9 -5.9M1196.4 859.1l7.8 -6.4M1201.4 862.1l7.8 -7M1206.4 864.4l7.8 -6.5M1229.3 866.4l7.9 -6.8M1234.3 869.1l7.9 -6.5M1239.4 870.8l7.8 -6.2M1244.4 873.1l7.8 -5.7M1249.4 875.7l7.9 -5.9M1254.5 877.9l7.8 -6M1259.5 881l7.8 -6.5M1264.5 883.9l7.8 -6.7M1269.5 886.6l7.9 -7.1M1297.5 890.5l7.8 -6.6M1302.5 892.4l7.8 -6.7M1307.5 894.5l7.9 -6.4M1312.6 897.2l7.8 -6.7M1317.6 899.9l7.8 -6.2M1322.6 902.8l7.8 -6.2M1327.6 905.1l7.9 -6.5M1370.7 916.7l7.8 -7.1M1375.7 918.7l7.8 -6.4M1380.7 921.1l7.8 -6.7M1385.7 923.5l7.9 -5.8M1390.8 926.3l7.8 -6.8M1395.8 928.2l7.8 -6M1400.8 931.3l7.8 -6.1M1405.8 934.4l7.9 -6.7M1428.8 936.1l7.8 -6.5M1433.8 937.7l7.8 -6M1438.8 940l7.8 -6.2M1443.8 942.9l7.9 -6.2M1448.9 945.8l7.8 -6M1453.9 947.9l7.8 -5.8M1458.9 950.8l7.8 -6.3M1463.9 953l7.9 -6.9M1469 955.4l7.8 -6.8M1474 957.6l7.8 -6.3M1507 964.4l7.8 -6.2M1171.2 846.7l5 2.8M1194.1 848.7l5.1 2.3l5 1.7l5 2.4l5 2.8l5.1 2.5l5 2.9l5 3.1l5 2.7l5.1 1.7l5 2.3M1267.3 874.5l5 2.7l5.1 2.3l5 2.9l5 2.6l5 3l5.1 2.5l5 1.9l5 2.1l5.1 2.7M1330.4 896.6l5.1 2l5 3.1l5 2l5 2.2l5.1 2.1l5 3.2l5 2.7l5.1 2.8l5 2l5 2.4l5 2.4M1408.6 925.2l5.1 2.5l5 2.7l5 2.9l5.1 2.8l5 1.6l5 2.3l5 2.9M1476.8 948.6l5 2.7l5.1 3l5 2.9l5 2l5 2.6l5.1 2.6l5 1.7"/><path stroke="#40ffbf" d="M1179.1 841l7.8 -6.1M1184.1 843.7l7.8 -6.7M1189.1 845.7l7.8 -6.8M1194.1 848.7l7.9 -6.4M1199.2 851l7.8 -5.6M1204.2 852.7l7.8 -5.7M1209.2 855.1l7.8 -5.8M1214.2 857.9l7.9 -6.3M1219.3 860.4l7.8 -6.3M1224.3 863.3l7.8 -6.6M1257.3 869.8l7.8 -6.3M1262.3 871.9l7.8 -5.7M1267.3 874.5l7.8 -5.7M1272.3 877.2l7.9 -6.4M1277.4 879.5l7.8 -6.8M1282.4 882.4l7.8 -7M1287.4 885l7.9 -6.7M1292.4 888l7.9 -7M1325.4 893.7l7.8 -6.1M1330.4 896.6l7.9 -6.4M1335.5 898.6l7.8 -6.7M1340.5 901.7l7.8 -7.5M1345.5 903.7l7.9 -6.8M1350.5 905.9l7.9 -6.7M1355.6 908l7.8 -5.6M1360.6 911.2l7.8 -6.2M1365.6 913.9l7.9 -6.5M1393.6 917.7l7.8 -6.5M1398.6 919.5l7.8 -6.3M1403.6 922.2l7.9 -6.1M1408.6 925.2l7.9 -6.1M1413.7 927.7l7.8 -6.5M1418.7 930.4l7.8 -7.1M1423.7 933.3l7.9 -6.1M1456.7 939.8l7.8 -6.4M1461.7 942.1l7.9 -6.2M1466.7 944.5l7.9 -6.3M1471.8 946.1l7.8 -5.9M1476.8 948.6l7.8 -6.2M1481.8 951.3l7.9 -6.1M1486.9 954.3l7.8 -6.4M1491.9 957.2l7.8 -6.9M1496.9 959.2l7.8 -6.5M1501.9 961.8l7.9 -6.6M1512 966.1l7.8 -6.4M1179.1 841l5 2.7l5 2l5 3M1227.1 854.1l5 2.6l5.1 2.9l5 3l5 2l5 2.8l5.1 2.4l5 2.1l5 2.6M1295.3 878.3l5 2.7l5 2.9l5 1.8l5.1 2.4l5 2.4l5 3.2l5 2.9M1363.4 902.4l5 2.6l5.1 2.4l5 2.2l5 2.7l5 2.1l5.1 3.3l5 1.8l5 2.7l5 3M1426.5 923.3l5.1 3.9l5 2.4l5 2.1l5 2.1l5.1 2.9l5 3.1l5 2.3l5 2.4l5.1 1.6l5 2.5M1499.7 950.3l5 2.4l5.1 2.5l5 3l5 1.5"/><path stroke="#60ff9f" d="M1186.9 834.9l7.8 -7.6M1191.9 837l7.8 -7.2M1196.9 838.9l7.9 -6.6M1202 842.3l7.8 -6.6M1234.9 848.8l7.9 -6.8M1240 850.8l7.8 -6.6M1245 853.5l7.8 -6.2M1250 856.2l7.8 -6.6M1255 857.9l7.9 -6M1260.1 860.4l7.8 -6.2M1265.1 863.5l7.8 -6.5M1270.1 866.2l7.9 -6M1303.1 872l7.8 -5.5M1308.1 874.6l7.8 -5.9M1313.1 877.3l7.9 -6.9M1318.2 880l7.8 -7.1M1323.2 882.3l7.8 -7.3M1328.2 884.7l7.9 -7M1333.2 887.6l7.9 -7.2M1338.3 890.2l7.8 -7.4M1343.3 891.9l7.8 -7M1348.3 894.2l7.9 -6.4M1376.3 898.6l7.8 -6.4M1381.3 900.7l7.8 -6M1386.3 904.1l7.9 -6.6M1391.3 906l7.9 -6.2M1396.4 908.4l7.8 -6.1M1401.4 911.2l7.8 -6.3M1406.4 913.2l7.9 -6.2M1411.5 916.1l7.8 -6.6M1444.4 922.7l7.8 -6.8M1449.4 925.5l7.9 -6.6M1454.5 928.4l7.8 -6.7M1459.5 930.9l7.8 -6.9M1464.5 933.4l7.9 -7.2M1469.6 935.9l7.8 -7.2M1474.6 938.2l7.8 -7M1479.6 940.2l7.8 -7M1484.6 942.4l7.9 -6.9M1489.7 945.2l7.8 -7.2M1517.6 949.1l7.8 -6.4M1522.6 952l7.9 -6.3M1527.6 954.2l7.9 -7.1M1209.8 835.7l5 2.9l5.1 1.7l5 2.8l5 2.7l5 3l5.1 2l5 2.7M1272.9 857l5.1 3.2l5 2.5l5 1.8l5 2.4l5.1 2.5l5 2.6l5 2.6l5 2.7M1356.2 887.8l5 3l5 2.5l5 2.4l5.1 2.9l5 2.1l5 3.4M1414.3 907l5 2.5l5 3l5 2.1l5.1 2.5l5 3l5 2.6l5 2.8M1482.4 931.2l5 2M1492.5 935.5l5 2.5l5 2.8l5 3.2l5.1 1.9l5 3.2"/><path stroke="#80ff80" d="M1194.7 827.3l7.9 -6.9M1199.7 829.8l7.9 -6.4M1217.6 829.7l7.9 -6.6M1222.7 831.9l7.8 -6.4M1227.7 833.3l7.8 -5.9M1232.7 836.1l7.8 -6.5M1237.7 838.8l7.9 -6.8M1242.8 842l7.8 -7.2M1247.8 844.2l7.8 -6.6M1252.8 847.3l7.9 -6.7M1257.8 849.6l7.9 -6.7M1285.8 853.5l7.8 -6.9M1290.8 855.5l7.8 -6.4M1295.8 857.8l7.9 -6.3M1300.9 861l7.8 -6.7M1305.9 863.4l7.8 -6.9M1310.9 866.5l7.9 -6.6M1315.9 868.7l7.9 -6.3M1321 870.4l7.8 -6.3M1326 872.9l7.8 -6.7M1331 875l7.9 -6.5M1336.1 877.7l7.8 -6.2M1369 884.8l7.8 -6.9M1374 887.3l7.9 -6.4M1379.1 890l7.8 -6.7M1384.1 892.2l7.8 -6.7M1389.1 894.7l7.9 -7M1394.2 897.5l7.8 -7.2M1399.2 899.8l7.8 -7.1M1442.2 910.2l7.8 -5.5M1447.2 913.1l7.9 -5.7M1452.2 915.9l7.9 -6.1M1457.3 918.9l7.8 -6.5M1462.3 921.7l7.8 -7M1472.4 926.2l7.8 -7.2M1500.3 929l7.8 -5.4M1505.3 931.5l7.9 -6M1510.3 934.4l7.9 -5.8M1515.4 937.7l7.8 -6M1520.4 940.1l7.8 -6.6M1525.4 942.7l7.9 -6.8M1530.5 945.7l7.8 -7M1535.5 947.1l7.8 -6.9M1202.6 820.4l5 3l5 3.2l5 3.1l5.1 2.2l5 1.4l5 2.8l5 2.7M1255.6 837.6l5.1 3l5 2.3l5 2.6l5 2.5l5.1 2.9l5 2.6l5 2l5 2.3l5.1 3.2M1318.8 859.9l5 2.5l5 1.7M1338.9 868.5l5 3l5 3.1l5 1.4l5.1 2.6l5 2.6l5 3.6M1402 890.3l5 2.4l5 3.4l5.1 2.7l5 2.1l5 1.7l5 2.4l5.1 2.4l5 2.8l5 2.9M1460.1 909.8l5 2.6l5 2.3l5.1 2.5l5 1.8l5 2.7l5 2.8l5.1 2.4l5 2.1l5 2.5l5 2.9M1533.3 935.9l5 2.8l5 1.5"/><path stroke="#8fff70" d="M1202.6 820.4l7.8 -5.8M1207.6 823.4l7.8 -6.2M1212.6 826.6l7.8 -5.8M1250.6 834.8l7.8 -5.6M1255.6 837.6l7.9 -6.2M1260.7 840.6l7.8 -6M1265.7 842.9l7.8 -6.7M1270.7 845.5l7.8 -6.8M1275.7 848l7.9 -7M1280.8 850.9l7.8 -7.5M1318.8 859.9l7.8 -6.9M1323.8 862.4l7.8 -6.4M1328.8 864.1l7.8 -5.8M1333.8 866.2l7.9 -5.6M1338.9 868.5l7.8 -6.3M1343.9 871.5l7.8 -6.4M1348.9 874.6l7.8 -6.9M1353.9 876l7.9 -5.5M1359 878.6l7.8 -6.3M1364 881.2l7.8 -6.1M1386.9 883.3l7.8 -6.9M1391.9 885.5l7.9 -7M1397 887.7l7.8 -6.2M1402 890.3l7.8 -6.6M1407 892.7l7.8 -6.3M1412 896.1l7.9 -6.7M1417.1 898.8l7.8 -6.9M1422.1 900.9l7.8 -6.7M1427.1 902.6l7.8 -6.6M1432.1 905l7.9 -6.4M1437.2 907.4l7.8 -6.1M1450 904.7l7.9 -6.2M1455.1 907.4l7.8 -6.5M1460.1 909.8l7.8 -6.3M1465.1 912.4l7.8 -6.4M1470.1 914.7l7.9 -6M1475.2 917.2l7.8 -6M1480.2 919l7.8 -6M1485.2 921.7l7.8 -6.3M1490.2 924.5l7.9 -6.1M1495.3 926.9l7.8 -5.7M1523.2 931.7l7.8 -6.7M1528.2 933.5l7.9 -6.6M1533.3 935.9l7.8 -6.7M1538.3 938.7l7.8 -6.8M1543.3 940.2l7.8 -6.1M1215.4 817.2l5 3.6l5.1 2.3l5 2.4l5 1.9l5 2.2l5.1 2.4l5 2.8l5 2.8M1288.6 843.4l5 3.2l5 2.5l5.1 2.4l5 2.8l5 2.2l5.1 3.4M1328.8 864.1l5 2.1l5.1 2.3M1356.7 867.7l5.1 2.8l5 1.8l5 2.8l5 2.8l5.1 3l5 2.4l5 2.2l5.1 2.2l5 2.6M1419.9 889.4l5 2.5l5 2.3l5 1.8l5.1 2.6l5 2.7l5 3.4l5.1 2.7l5 2.4M1493 915.4l5.1 3l5 2.8l5 2.4l5.1 1.9l5 3.1l5 3.1l5 1.8l5.1 2.4"/><path stroke="#9fff60" d="M1210.4 814.6l7.8 -6.4M1215.4 817.2l7.8 -6.2M1220.4 820.8l7.9 -7M1225.5 823.1l7.8 -7.3M1230.5 825.5l7.8 -7.2M1235.5 827.4l7.9 -6.4M1240.5 829.6l7.9 -5.7M1245.6 832l7.8 -6M1268.5 834.6l7.8 -6.6M1273.5 836.2l7.8 -6.2M1278.5 838.7l7.9 -6.1M1283.6 841l7.8 -6.8M1288.6 843.4l7.8 -6.4M1293.6 846.6l7.9 -6.8M1298.6 849.1l7.9 -6M1303.7 851.5l7.8 -5.7M1308.7 854.3l7.8 -6.6M1313.7 856.5l7.9 -6.6M1341.7 860.6l7.8 -6.8M1351.7 865.1l7.8 -6.9M1356.7 867.7l7.9 -6.1M1361.8 870.5l7.8 -6.7M1366.8 872.3l7.8 -6M1371.8 875.1l7.9 -6.6M1376.8 877.9l7.9 -6.7M1381.9 880.9l7.8 -7.3M1409.8 883.7l7.8 -5.3M1414.8 886.4l7.9 -6M1419.9 889.4l7.8 -6.6M1424.9 891.9l7.8 -7.1M1429.9 894.2l7.9 -6.7M1434.9 896l7.9 -5.9M1440 898.6l7.8 -5.8M1445 901.3l7.8 -6.4M1478 908.7l7.8 -6.5M1483 911.2l7.8 -6.6M1488 913l7.9 -6.6M1493 915.4l7.9 -7.1M1498.1 918.4l7.8 -6.9M1503.1 921.2l7.8 -6.9M1508.1 923.6l7.9 -6.4M1513.2 925.5l7.8 -6.3M1518.2 928.6l7.8 -6.7M1210.4 814.6l5 2.6M1243.4 821l5 2.9l5 2.1l5 3.2l5.1 2.2l5 3.2l5 1.6l5 2.5l5.1 2.3l5 2.4M1306.5 843.1l5 2.7l5 1.9l5.1 2.2l5 3.1l5 3l5 2.3l5.1 2.3l5 1.6l5 2.9l5 2.6M1384.7 871.2l5 2.4l5 2.8l5.1 2.1l5 3l5 2.2l5 2.7l5.1 3M1452.8 894.9l5.1 3.6l5 2.4l5 2.6l5 2.5l5.1 2.7l5 2.5l5 1.8l5 2.4M1516 917.2l5 2l5 2.7l5 3.1l5.1 1.9l5 2.3l5 2.7l5 2.2"/><path stroke="#bfff40" d="M1218.2 808.2l7.9 -6.4M1223.2 811l7.9 -6.5M1233.3 815.8l7.8 -6.8M1251.2 815l7.8 -5.9M1256.2 817.3l7.8 -5.8M1261.2 820.1l7.9 -7M1266.3 822.4l7.8 -6.7M1271.3 825.3l7.8 -7.4M1276.3 828l7.8 -6.5M1281.3 830l7.9 -6.4M1286.4 832.6l7.8 -6.5M1291.4 834.2l7.8 -5.6M1296.4 837l7.9 -6.4M1301.5 839.8l7.8 -6.5M1319.3 839.2l7.9 -6.6M1334.4 845.8l7.8 -6M1339.4 848.7l7.9 -5.9M1344.5 851.3l7.8 -5.9M1349.5 853.8l7.8 -5.9M1354.5 855.9l7.9 -5.7M1359.5 858.2l7.9 -5.5M1364.6 861.6l7.8 -6.4M1369.6 863.8l7.8 -6.4M1397.5 867.8l7.9 -6.5M1402.6 870.1l7.8 -6.3M1407.6 872.9l7.8 -6.6M1412.6 875.4l7.9 -6.4M1417.6 878.4l7.9 -6.5M1422.7 880.4l7.8 -6.5M1427.7 882.8l7.8 -6.9M1432.7 884.8l7.9 -6.2M1437.8 887.5l7.8 -6.5M1470.7 893.6l7.9 -6M1475.7 896.1l7.9 -5.8M1480.8 899.3l7.8 -6.3M1485.8 902.2l7.8 -6.7M1490.8 904.6l7.9 -7.3M1495.9 906.4l7.8 -6.7M1500.9 908.3l7.8 -6.1M1505.9 911.5l7.8 -6.9M1538.9 918l7.8 -6.4M1543.9 920.6l7.8 -6.6M1548.9 922.7l7.9 -6.4M1554 925.6l7.8 -6.4M1559 928.1l7.8 -6.2M1226.1 801.8l5 2.7l5 3l5 1.5l5.1 2.5l5 3.5l5 2.3l5 2.8l5.1 2.3M1294.2 826.1l5 2.5l5.1 2l5 2.7l5 3.1l5 2.8l5.1 1.8l5 1.8l5 3l5 2.9M1357.3 847.9l5.1 2.3l5 2.5l5 2.5l5 2.2l5.1 2.1l5 3.5l5 2.1l5 2.7l5.1 2.3l5 2.8M1440.6 878.6l5 2.4l5 3.4l5 2.2l5.1 1.9l5 2.3l5 2.8l5 2.5M1513.7 904.6l5.1 2.8l5 3.2l5 2.3l5 2.6l5.1 2.5l5 2.6l5 2.1"/><path stroke="#cfff30" d="M1226.1 801.8l7.8 -5.8M1231.1 804.5l7.8 -6.1M1236.1 807.5l7.8 -6.6M1241.1 809l7.9 -5.8M1246.2 811.5l7.8 -5.8M1284.1 821.5l7.9 -6.4M1289.2 823.6l7.8 -6.6M1294.2 826.1l7.8 -6.4M1299.2 828.6l7.9 -6.6M1304.3 830.6l7.8 -5.8M1309.3 833.3l7.8 -6.9M1314.3 836.4l7.8 -6.4M1324.4 841l7.8 -6M1329.4 842.8l7.8 -5.8M1347.3 842.8l7.8 -6.1M1352.3 845.4l7.8 -6.5M1357.3 847.9l7.9 -7M1362.4 850.2l7.8 -7.2M1367.4 852.7l7.8 -6.8M1372.4 855.2l7.8 -6.1M1377.4 857.4l7.9 -6.7M1382.5 859.5l7.8 -6.2M1387.5 863l7.8 -6.5M1392.5 865.1l7.8 -6.2M1420.5 869l7.8 -6.6M1425.5 871.9l7.8 -6.4M1430.5 873.9l7.8 -6.7M1435.5 875.9l7.9 -6.1M1440.6 878.6l7.8 -6.3M1445.6 881l7.8 -6.1M1450.6 884.4l7.8 -7.3M1455.6 886.6l7.9 -6.7M1460.7 888.5l7.8 -6.1M1465.7 890.8l7.8 -6.2M1488.6 893l7.8 -6.6M1493.6 895.5l7.9 -6.5M1498.7 897.3l7.8 -6.7M1503.7 899.7l7.8 -6M1508.7 902.2l7.8 -6.3M1513.7 904.6l7.9 -6.5M1518.8 907.4l7.8 -7.1M1523.8 910.6l7.8 -6.8M1528.8 912.9l7.9 -6.5M1533.8 915.5l7.9 -7M1561.8 919.2l7.8 -6.7M1566.8 921.9l7.8 -7M1254 805.7l5 3.4l5 2.4l5.1 1.6l5 2.6l5 2.2l5 3.6l5.1 2.1l5 2.5M1322.1 830l5.1 2.6l5 2.4l5 2l5 2.8l5.1 3l5 2.6l5 2.5M1390.3 853.3l5 3.2l5 2.4l5.1 2.4l5 2.5l5 2.5l5.1 2.7l5 2.9l5 2l5 2l5.1 2.7M1463.5 879.9l5 2.5l5 2.2l5.1 3l5 2.7l5 2.7l5 2.5l5.1 1.8l5 2.4l5 2.5l5 2.4M1531.6 903.8l5.1 2.6l5 2.1l5 3.1l5 2.4l5.1 2.3l5 2.9l5 2.7"/><path stroke="#efff10" d="M1233.9 796l7.8 -6.8M1238.9 798.4l7.8 -6.9M1266.8 802.4l7.9 -7.2M1271.9 805.2l7.8 -7.3M1276.9 807l7.8 -7M1281.9 808.9l7.9 -6M1287 811.8l7.8 -6.2M1292 815.1l7.8 -5.9M1297 817l7.8 -5.6M1302 819.7l7.9 -6.4M1330 823.7l7.8 -6.2M1340 828.4l7.9 -6.6M1345.1 831l7.8 -6.4M1350.1 833.8l7.8 -6.5M1355.1 836.7l7.8 -6.6M1360.1 838.9l7.9 -6.1M1365.2 840.9l7.8 -6.2M1370.2 843l7.8 -6.2M1375.2 845.9l7.8 -6.1M1403.2 850.4l7.8 -6.9M1408.2 852.7l7.8 -6.9M1413.2 854.8l7.8 -6.5M1418.2 856.8l7.9 -6.3M1423.3 859.8l7.8 -6.6M1428.3 862.4l7.8 -6.6M1433.3 865.5l7.8 -6.6M1438.3 867.2l7.9 -5.7M1443.4 869.8l7.8 -5.9M1476.3 876.6l7.9 -6M1481.4 878.6l7.8 -6M1486.4 881.4l7.8 -5.9M1491.4 883.9l7.8 -5.8M1496.4 886.4l7.9 -6M1501.5 889l7.8 -6.4M1506.5 890.6l7.8 -6.5M1511.5 893.7l7.9 -6.9M1516.5 895.9l7.9 -6.8M1521.6 898.1l7.8 -6.7M1539.5 897.7l7.8 -5.7M1544.5 899.8l7.8 -5.8M1549.5 902.1l7.8 -6.2M1554.5 905l7.9 -6.6M1559.6 907.7l7.8 -7.1M1564.6 909.8l7.8 -6.9M1569.6 912.5l7.9 -6.1M1574.6 914.9l7.9 -6.2M1241.7 789.2l5 2.3l5.1 3l5 2.5l5 2.1l5 3.3M1276.9 807l5 1.9M1294.8 805.6l5 3.6l5 2.2l5.1 1.9l5 3.1l5 1.9l5 2.6l5.1 2.8l5 2.2l5 2.5l5.1 2.6M1362.9 830.1l5.1 2.7l5 1.9l5 2.1l5 3l5.1 3.1l5 1.9l5 2.4l5.1 3.2l5 2.3l5 2.1l5 2M1441.1 858.9l5.1 2.6l5 2.4l5 2.9l5.1 1.3l5 2.6l5 2.6l5 3.3l5.1 2l5 2.8M1504.3 880.4l5 2.2M1519.4 886.8l5 2.3l5 2.3l5 3.4l5.1 2.9l5 2.1l5 2.3l5 2.9"/><path stroke="#ffff00" d="M1241.7 789.2l7.8 -5.8M1246.7 791.5l7.9 -5.8M1251.8 794.5l7.8 -5.7M1256.8 797l7.8 -5.8M1261.8 799.1l7.9 -7M1294.8 805.6l7.8 -6.3M1299.8 809.2l7.8 -6.6M1304.8 811.4l7.9 -6.8M1309.9 813.3l7.8 -6.6M1314.9 816.4l7.8 -7.3M1319.9 818.3l7.9 -5.9M1324.9 820.9l7.9 -5.8M1335 825.9l7.8 -6.8M1362.9 830.1l7.9 -7.2M1368 832.8l7.8 -6.9M1373 834.7l7.8 -6.6M1378 836.8l7.9 -7.1M1383 839.8l7.9 -7.3M1388.1 842.9l7.8 -7.6M1393.1 844.8l7.8 -6.9M1398.1 847.2l7.9 -6.9M1436.1 855.8l7.9 -7.1M1441.1 858.9l7.9 -7.2M1446.2 861.5l7.8 -7.2M1451.2 863.9l7.8 -6.9M1456.2 866.8l7.9 -6.9M1461.3 868.1l7.8 -6.2M1466.3 870.7l7.8 -6.4M1471.3 873.3l7.8 -5.9M1494.2 875.5l7.9 -6.9M1499.2 878.1l7.9 -7M1504.3 880.4l7.8 -7.2M1509.3 882.6l7.8 -7.1M1514.3 884.1l7.9 -6.4M1519.4 886.8l7.8 -6.3M1524.4 889.1l7.8 -6.6M1529.4 891.4l7.8 -6M1534.4 894.8l7.9 -6.3M1577.5 906.4l7.8 -6.7M1582.5 908.7l7.8 -6.5M1254.6 785.7l5 3.1l5 2.4l5.1 0.9l5 3.1l5 2.7l5 2.1l5.1 2.9l5 2.7M1327.8 812.4l5 2.7l5 2.4l5 1.6l5.1 2.7l5 2.8l5 2.7l5 2.8M1406 840.3l5 3.2l5 2.3l5 2.5l5.1 2.2l5 2.7l5 2.6l5 3.1M1474.1 864.3l5 3.1l5.1 3.2l5 2l5 2.9l5 2.6l5.1 2.3M1509.3 882.6l5 1.5l5.1 2.7M1542.3 888.5l5 3.5l5 2l5 1.9l5.1 2.5l5 2.2l5 2.3l5.1 3.5l5 2.3"/><path stroke="#ffef00" d="M1249.5 783.4l7.9 -5.8M1254.6 785.7l7.8 -6.2M1259.6 788.8l7.8 -6.1M1264.6 791.2l7.9 -6.2M1269.7 792.1l7.8 -5.9M1274.7 795.2l7.8 -6.7M1279.7 797.9l7.8 -6.5M1284.7 800l7.9 -6M1289.8 802.9l7.8 -6.3M1322.7 809.1l7.9 -6.7M1327.8 812.4l7.8 -6.6M1332.8 815.1l7.8 -6.3M1337.8 817.5l7.8 -6.5M1342.8 819.1l7.9 -5.5M1347.9 821.8l7.8 -5.5M1352.9 824.6l7.8 -6.1M1357.9 827.3l7.8 -7.1M1395.9 835.3l7.8 -6.6M1400.9 837.9l7.9 -6.2M1406 840.3l7.8 -5.8M1411 843.5l7.8 -6.4M1416 845.8l7.8 -6.1M1421 848.3l7.9 -6.3M1426.1 850.5l7.8 -6.2M1431.1 853.2l7.8 -6.7M1459 857l7.9 -6.8M1464.1 859.9l7.8 -6.6M1469.1 861.9l7.8 -6.4M1474.1 864.3l7.8 -6.5M1479.1 867.4l7.9 -6.8M1484.2 870.6l7.8 -6.8M1489.2 872.6l7.8 -6.7M1537.2 885.4l7.9 -6.3M1542.3 888.5l7.8 -6.6M1547.3 892l7.8 -7.2M1552.3 894l7.9 -7M1557.3 895.9l7.9 -7M1562.4 898.4l7.8 -7.4M1567.4 900.6l7.8 -6.8M1572.4 902.9l7.9 -6.1M1249.5 783.4l5.1 2.3M1287.5 791.4l5.1 2.6l5 2.6l5 2.7l5 3.3l5.1 2l5 2.1l5 2.4l5.1 3.3M1345.6 811l5.1 2.6l5 2.7l5 2.2l5 1.7l5.1 2.7l5 3l5 2.2l5.1 1.6l5 2.8l5 2.8l5 2.6l5.1 2.4M1423.8 839.7l5.1 2.3l5 2.3l5 2.2l5.1 2.2l5 3l5 2.6l5 2.7l5.1 2.9l5 2l5 2.4M1492 863.8l5 2.1l5.1 2.7l5 2.5l5 2.1l5 2.3l5.1 2.2l5 2.8l5 2l5 2.9l5.1 3.1M1575.2 893.8l5.1 3l5 2.9l5 2.5"/><path stroke="#ffcf00" d="M1257.4 777.6l7.8 -6.6M1262.4 779.5l7.8 -7M1300.4 788l7.8 -6M1305.4 790.6l7.9 -6.5M1310.5 792.5l7.8 -5.9M1315.5 795.6l7.8 -6.7M1320.5 797.7l7.8 -6.3M1325.5 799.7l7.9 -5.4M1330.6 802.4l7.8 -5.6M1368.6 811.9l7.8 -6.6M1373.6 814.2l7.8 -6.1M1378.6 816.8l7.8 -5.9M1383.6 819.3l7.9 -6.4M1388.7 821.8l7.8 -6.3M1393.7 823.9l7.8 -5.9M1398.7 826.2l7.8 -5.8M1403.7 828.7l7.9 -6M1408.8 831.7l7.8 -5.8M1436.7 836l7.8 -6.4M1441.7 837.9l7.9 -6.2M1446.8 840l7.8 -6.2M1451.8 842.6l7.8 -5.9M1456.8 845.5l7.8 -5.9M1461.8 848l7.9 -5.8M1466.9 850.2l7.8 -6M1471.9 853.3l7.8 -6.6M1476.9 855.5l7.9 -5.9M1481.9 857.8l7.9 -6.5M1487 860.6l7.8 -6.9M1525 868.7l7.8 -6.1M1530 871l7.8 -6.3M1535 873.9l7.8 -6.4M1540 876.6l7.9 -6.5M1545.1 879.1l7.8 -6.3M1550.1 881.9l7.8 -7.1M1583.1 888.2l7.8 -6.3M1588.1 891.1l7.8 -6M1593.1 893.4l7.8 -6M1598.1 895.6l7.9 -6.4M1265.2 771l5 1.5l5.1 3.2l5 2.8l5 2l5 2.1l5.1 2.8l5 2.6l5 2.6l5.1 1.9M1333.4 794.3l5 2.5l5 2.8l5 1.8l5.1 2.2l5 3.4l5 2.6l5.1 2.3l5 2.3l5 2.6M1406.5 820.4l5.1 2.3l5 3.2l5 2.6l5.1 2.5l5 2.4l5 2.6l5 1.9l5.1 2.1l5 2.6M1474.7 844.2l5 2.5l5.1 2.9l5 1.7l5 2.4l5 3.5l5.1 2l5 2.1l5 2.4l5 2.1l5.1 2.9l5 2.3M1552.9 872.8l5 2l5.1 2.8l5 2.5l5 2.4l5 2.3l5.1 3.4l5 2.9"/><path stroke="#ffbf00" d="M1265.2 771l7.8 -6.9M1270.2 772.5l7.9 -6.5M1275.3 775.7l7.8 -6.7M1280.3 778.5l7.8 -6.6M1285.3 780.5l7.9 -6.1M1290.3 782.6l7.9 -6.4M1295.4 785.4l7.8 -6.8M1328.3 791.4l7.9 -6.3M1333.4 794.3l7.8 -6.3M1338.4 796.8l7.8 -6.2M1343.4 799.6l7.9 -6.3M1348.4 801.4l7.9 -6.5M1353.5 803.6l7.8 -6.5M1358.5 807l7.8 -6.8M1363.5 809.6l7.9 -7.2M1386.4 810.9l7.9 -6.2M1391.5 812.9l7.8 -6.1M1396.5 815.5l7.8 -6.5M1401.5 818l7.9 -7M1406.5 820.4l7.9 -6.7M1411.6 822.7l7.8 -6M1416.6 825.9l7.8 -5.9M1421.6 828.5l7.9 -6.4M1426.7 831l7.8 -6.1M1431.7 833.4l7.8 -6.3M1464.6 839.6l7.9 -7.3M1469.7 842.2l7.8 -6.9M1474.7 844.2l7.8 -6M1479.7 846.7l7.9 -6.4M1484.8 849.6l7.8 -6.4M1489.8 851.3l7.8 -6.6M1494.8 853.7l7.8 -6.5M1499.8 857.2l7.9 -6.3M1504.9 859.2l7.8 -5.7M1509.9 861.3l7.8 -5.7M1514.9 863.7l7.8 -6.2M1519.9 865.8l7.9 -5.9M1542.8 867.5l7.9 -6.4M1547.9 870.1l7.8 -6.8M1552.9 872.8l7.8 -6.9M1557.9 874.8l7.9 -7M1563 877.6l7.8 -6.8M1568 880.1l7.8 -6.5M1573 882.5l7.8 -6M1578 884.8l7.9 -6.2M1600.9 887.4l7.9 -6.6M1288.1 771.9l5.1 2.5l5 1.8l5 2.4l5 3.4l5.1 2.1l5 2.5l5 2.3l5 2.5l5.1 2.9M1366.3 800.2l5.1 2.2l5 2.9l5 2.8l5 2.8l5.1 2l5 2.6l5 2.5l5 2.4M1424.4 820l5.1 2.1l5 2.8l5 2.2l5 2.5l5.1 2.1l5 2.1l5 2.9l5 2.9l5.1 2.6l5 2M1502.6 847.2l5.1 3.7l5 2.6l5 2.1l5 1.9l5.1 2.4l5 2.7l5 2.1l5 2.8l5.1 2.6l5 2.7M1580.8 876.5l5.1 2.1l5 3.3l5 3.2l5 2.3l5.1 1.8"/><path stroke="#ff9f00" d="M1273 764.1l7.9 -6.7M1278.1 766l7.8 -6.4M1301 768.1l7.8 -6.2M1316.1 774.9l7.8 -6M1321.1 777.6l7.8 -6.2M1326.1 780.1l7.9 -5.9M1331.1 782.6l7.9 -6.6M1336.2 785.1l7.8 -6.7M1341.2 788l7.8 -7.2M1374.2 793.4l7.8 -5.3M1379.2 796.2l7.8 -5.2M1384.2 799.1l7.8 -6M1389.2 801.6l7.9 -6.9M1394.3 804.7l7.8 -6.9M1399.3 806.8l7.8 -6.6M1404.3 809l7.9 -6.7M1409.4 811l7.8 -6.2M1414.4 813.7l7.8 -6.1M1442.3 818.2l7.8 -5.9M1447.3 820.6l7.9 -6.7M1452.4 822.4l7.8 -6.4M1457.4 825.1l7.8 -6.9M1462.4 827.5l7.9 -6.6M1467.4 830l7.9 -6.2M1472.5 832.3l7.8 -6.5M1477.5 835.3l7.8 -7.1M1482.5 838.2l7.9 -6.5M1487.6 840.3l7.8 -6.9M1497.6 844.7l7.8 -6.4M1520.5 847l7.9 -6.8M1525.5 849.5l7.9 -6.5M1530.6 852.1l7.8 -6.5M1535.6 853.9l7.8 -6.5M1540.6 856.2l7.9 -6.3M1545.7 858.5l7.8 -5.9M1550.7 861.1l7.8 -5.7M1555.7 863.3l7.8 -6.1M1560.7 865.9l7.9 -5.8M1565.8 867.8l7.8 -6.1M1570.8 870.8l7.8 -6.7M1588.7 870l7.8 -5.9M1598.7 874.7l7.9 -6M1603.8 877.9l7.8 -6.4M1608.8 880.8l7.8 -6.6M1613.8 882.4l7.8 -5.7M1280.9 757.4l5 2.2l5 2.6l5.1 3l5 2.9l5 1.7l5 2.4l5.1 2.7l5 2.7M1349 780.8l5.1 3.3l5 2.6l5 1.9l5 2.1l5.1 2.7l5 2.8l5 2.9M1417.2 804.8l5 2.8l5 3.2l5.1 2.6l5 2.4l5 2.4l5 2.4l5.1 1.8l5 2.7l5 2.4M1490.4 831.7l5 1.7l5 2.4l5 2.5l5.1 2.6l5 3l5 3.1M1553.5 852.6l5 2.8l5 1.8l5.1 2.9l5 1.6l5 2.4l5 3.1l5.1 2.8l5 1.9l5 2.8l5.1 3.2"/><path stroke="#ff8f00" d="M1280.9 757.4l7.8 -6M1285.9 759.6l7.8 -5.9M1290.9 762.2l7.9 -6.5M1296 765.2l7.8 -6.1M1306 769.8l7.8 -6.6M1311 772.2l7.9 -6.6M1328.9 771.4l7.9 -5.9M1334 774.2l7.8 -6M1339 776l7.8 -6.3M1344 778.4l7.8 -6.2M1349 780.8l7.9 -6.5M1354.1 784.1l7.8 -6.6M1359.1 786.7l7.8 -6.9M1364.1 788.6l7.8 -6.1M1369.1 790.7l7.9 -5.6M1387 791l7.9 -6.3M1407.1 800.2l7.9 -7.2M1412.2 802.3l7.8 -6.2M1417.2 804.8l7.8 -5.7M1422.2 807.6l7.8 -5.7M1427.2 810.8l7.9 -6.1M1432.3 813.4l7.8 -6M1437.3 815.8l7.8 -6.6M1475.3 823.8l7.8 -6.1M1480.3 825.8l7.8 -6M1485.3 828.2l7.9 -5.9M1490.4 831.7l7.8 -6.3M1495.4 833.4l7.8 -5.9M1500.4 835.8l7.8 -6M1505.4 838.3l7.9 -5.8M1510.5 840.9l7.8 -6.2M1515.5 843.9l7.8 -6.8M1538.4 845.6l7.8 -6.4M1548.5 849.9l7.8 -6.4M1553.5 852.6l7.8 -6.1M1558.5 855.4l7.8 -6.7M1563.5 857.2l7.9 -6.2M1568.6 860.1l7.8 -6.4M1573.6 861.7l7.8 -6.3M1578.6 864.1l7.9 -5.9M1583.6 867.2l7.9 -5.9M1593.7 871.9l7.8 -5.5M1616.6 874.2l7.8 -7.2M1621.6 876.7l7.9 -6.6M1298.8 755.7l5 3.4l5 2.8l5 1.3l5.1 2.4l5 3.3l5 2.5l5.1 2.8l5 1.8l5 2.4l5 2.4M1371.9 782.5l5.1 2.6l5 3l5 2.9l5 2.1l5.1 1.6l5 3.1l5 2.4l5.1 2.1l5 2.5M1430 801.9l5.1 2.8l5 2.7l5 1.8l5 3.1l5.1 1.6l5 2.1l5 2.2l5.1 2.7l5 2.9l5 2l5 2.4l5.1 3.5M1513.3 832.5l5 2.2l5 2.4l5.1 3.1l5 2.8l5 2.6l5 1.8l5.1 2.5l5 2.7M1586.5 858.2l5 3.1l5 2.8l5 2.3l5.1 2.3l5 2.8l5 2.7l5 2.5"/><path stroke="#ff8000" d="M1288.7 751.4l7.8 -6.4M1293.7 753.7l7.9 -6.2M1298.8 755.7l7.8 -5.8M1303.8 759.1l7.8 -6.2M1308.8 761.9l7.8 -6.5M1313.8 763.2l7.9 -6M1318.9 765.6l7.8 -5.9M1323.9 768.9l7.8 -5.9M1361.9 777.5l7.8 -5.6M1366.9 779.8l7.8 -5.8M1371.9 782.5l7.9 -5.7M1377 785.1l7.8 -5.6M1382 788.1l7.8 -5.7M1392 793.1l7.9 -7M1397.1 794.7l7.8 -6.6M1402.1 797.8l7.8 -7.2M1425 799.1l7.8 -6.7M1430 801.9l7.9 -7M1435.1 804.7l7.8 -7.4M1440.1 807.4l7.8 -7.6M1445.1 809.2l7.9 -6.8M1450.1 812.3l7.9 -7.7M1455.2 813.9l7.8 -6.5M1460.2 816l7.8 -6.2M1465.2 818.2l7.9 -6.3M1470.3 820.9l7.8 -6.3M1498.2 825.4l7.8 -6.3M1503.2 827.5l7.9 -5.6M1508.2 829.8l7.9 -5.5M1513.3 832.5l7.8 -5.6M1518.3 834.7l7.8 -5.9M1523.3 837.1l7.9 -6.4M1528.4 840.2l7.8 -6.1M1533.4 843l7.8 -6.7M1543.4 847.4l7.9 -6.2M1576.4 853.7l7.8 -6.3M1581.4 855.4l7.9 -5.7M1586.5 858.2l7.8 -5.4M1591.5 861.3l7.8 -6.1M1596.5 864.1l7.8 -6.7M1601.5 866.4l7.9 -6.1M1606.6 868.7l7.8 -5.9M1611.6 871.5l7.8 -6.5M1288.7 751.4l5 2.3l5.1 2M1326.7 759.7l5 3.3l5.1 2.5l5 2.7l5 1.5l5 2.5l5.1 2.1l5 3.2l5 2.3l5 2.7M1384.8 779.5l5 2.9l5.1 2.3l5 1.4l5 2l5 2.5l5.1 2.4l5 3.1l5 3l5 2.8M1473.1 811.9l5 2.7l5 3.1l5 2.1l5.1 2.5l5 3.1l5 2.1l5 2.3l5.1 2.7M1536.2 834.1l5 2.2l5 2.9l5.1 2l5 2.3l5 3l5 2.2l5.1 2.3l5 2.7l5 1.7l5.1 2.8M1609.4 860.3l5 2.5l5 2.2l5 2l5.1 3.1"/><path stroke="#ff6000" d="M1296.5 745l7.9 -6.9M1301.6 747.5l7.8 -6.7M1306.6 749.9l7.8 -7M1339.6 756.2l7.8 -6.7M1344.6 758.6l7.8 -6.7M1349.6 761.7l7.8 -7M1354.6 763.4l7.9 -6.6M1359.7 766.2l7.8 -6.5M1364.7 769l7.8 -6.3M1369.7 771.9l7.9 -6.5M1374.7 774l7.9 -6.5M1402.7 778.1l7.8 -7.1M1407.7 780.5l7.8 -6.6M1412.7 782.4l7.9 -6.1M1417.8 784.7l7.8 -5.7M1422.8 786.7l7.8 -5.4M1427.8 789.6l7.9 -5.9M1432.8 792.4l7.9 -6.3M1437.9 794.9l7.8 -6.6M1442.9 797.3l7.8 -6.4M1447.9 799.8l7.9 -6.6M1453 802.4l7.8 -6.4M1490.9 810.3l7.9 -6M1496 813l7.8 -6.7M1501 815.5l7.8 -6.8M1506 819.1l7.9 -7.7M1511.1 821.9l7.8 -7.2M1516.1 824.3l7.8 -6.9M1531.2 830.7l7.8 -6.7M1564.1 836.6l7.9 -6.5M1569.2 839.5l7.8 -6.7M1574.2 842.7l7.8 -7.3M1579.2 844.6l7.8 -6.5M1584.2 847.4l7.9 -7.2M1589.3 849.7l7.8 -5.9M1622.2 856.6l7.9 -7.1M1627.3 858.6l7.8 -6.3M1632.3 860.3l7.8 -5.9M1637.3 863l7.8 -6.7M1309.4 740.8l5 2.1l5.1 2.8l5 2.5l5 2.9l5 2.6l5.1 2.5l5 2.4M1372.5 762.7l5.1 2.7l5 2.1l5 2.6l5 2.5l5.1 3.2l5 2.3l5 2.4l5 1.9l5.1 2.3l5 2l5 2.9M1450.7 790.9l5.1 2.3l5 2.8l5 2.4l5 2l5.1 3.4l5 1.4l5 2.6l5 2.5l5.1 2.7l5 2.5M1518.9 814.7l5 2.7l5 2.9l5.1 2l5 1.7l5 2.9l5 2.4l5.1 2.4l5 2.6l5 2.3l5.1 2.9M1592.1 840.2l5 3.6l5 2.6l5 2.5l5.1 1.9l5 3l5 2.8l5.1 2l5 1.7l5 2.7"/><path stroke="#ff5000" d="M1304.4 738.1l7.8 -6M1309.4 740.8l7.8 -6.7M1314.4 742.9l7.9 -6.1M1319.5 745.7l7.8 -6.5M1324.5 748.2l7.8 -6.7M1329.5 751.1l7.8 -6.2M1334.5 753.7l7.9 -6.6M1367.5 759.7l7.8 -5.9M1372.5 762.7l7.9 -6.8M1377.6 765.4l7.8 -7.2M1382.6 767.5l7.8 -7.7M1387.6 770.1l7.8 -7.9M1392.6 772.6l7.9 -7.5M1397.7 775.8l7.8 -7.8M1430.6 781.3l7.9 -6.1M1435.7 783.7l7.8 -5.9M1440.7 786.1l7.8 -6.6M1445.7 788.3l7.8 -6.1M1450.7 790.9l7.9 -6.7M1455.8 793.2l7.8 -6.5M1460.8 796l7.8 -5.7M1465.8 798.4l7.8 -6.3M1470.8 800.4l7.9 -6.3M1475.9 803.8l7.8 -6.6M1480.9 805.2l7.8 -6M1485.9 807.8l7.9 -5.9M1518.9 814.7l7.8 -7.2M1523.9 817.4l7.8 -6.9M1528.9 820.3l7.9 -7.1M1534 822.3l7.8 -6.3M1539 824l7.8 -6.1M1544 826.9l7.9 -5.9M1549 829.3l7.9 -6.2M1554.1 831.7l7.8 -5.7M1559.1 834.3l7.8 -6.4M1587 838.1l7.9 -6.5M1592.1 840.2l7.8 -6.4M1597.1 843.8l7.8 -7.2M1602.1 846.4l7.9 -7M1607.1 848.9l7.9 -7.6M1612.2 850.8l7.8 -7M1617.2 853.8l7.8 -7.3M1304.4 738.1l5 2.7M1332.3 741.5l5 3.4l5.1 2.2l5 2.4l5 2.4l5 2.8l5.1 2.1l5 2.9l5 3M1405.5 768l5 3l5 2.9l5.1 2.4l5 2.7l5 2.3l5.1 2.4l5 2.4l5 2.2l5 2.6M1468.6 790.3l5 1.8M1478.7 794.1l5 3.1l5 2l5.1 2.7l5 2.4l5 2l5 2.4l5.1 2.7l5 3.3M1546.8 817.9l5.1 3.1l5 2.1l5 2.9l5 1.9l5.1 2.2l5 2.7l5 2.6l5 2.7l5.1 2.1M1625 846.5l5.1 3l5 2.8l5 2.1l5 1.9"/><path stroke="#ff3000" d="M1312.2 732.1l7.8 -6.4M1317.2 734.1l7.9 -6.8M1345.2 738.5l7.8 -6.4M1350.2 741l7.8 -6.7M1355.2 743.7l7.9 -6.5M1360.3 746.1l7.8 -6.1M1365.3 748.5l7.8 -6M1370.3 750.8l7.8 -6.1M1375.3 753.8l7.9 -6.4M1380.4 755.9l7.8 -6.4M1385.4 758.2l7.8 -7M1390.4 759.8l7.8 -6.2M1395.4 762.2l7.9 -6.5M1400.5 765.1l7.8 -6.5M1423.4 767.5l7.8 -7.1M1428.4 769.3l7.8 -7.2M1433.4 772.4l7.9 -7.3M1438.5 775.2l7.8 -7.9M1443.5 777.8l7.8 -7.6M1448.5 779.5l7.8 -6.6M1453.5 782.2l7.9 -7M1458.6 784.2l7.8 -6.3M1463.6 786.7l7.8 -6.7M1491.5 790.5l7.9 -6.2M1501.6 795.1l7.8 -6.1M1506.6 797.6l7.8 -6M1511.6 799.9l7.9 -6.3M1516.7 802.5l7.8 -6.3M1521.7 805l7.8 -6.6M1526.7 807.5l7.9 -6.6M1531.7 810.5l7.9 -6.7M1559.7 814.7l7.8 -6.5M1564.7 816.7l7.8 -6.3M1569.7 819l7.9 -6M1574.8 821.3l7.8 -6.7M1579.8 823.9l7.8 -6.6M1584.8 826.8l7.8 -6.9M1589.8 829.5l7.9 -6.9M1594.9 831.6l7.8 -6.8M1599.9 833.8l7.8 -6.9M1604.9 836.6l7.9 -6.5M1610 839.4l7.8 -7.2M1615 841.3l7.8 -6.4M1320 725.7l5.1 1.6l5 3.3l5 2.7l5 2.2l5.1 3l5 2.5l5 2.7M1378.1 744.7l5.1 2.7l5 2.1l5 1.7M1398.2 753.6l5.1 2.1l5 2.9l5 2.7l5.1 3l5 3.2l5 1.8M1461.4 775.2l5 2.7l5 2.1l5.1 3.3l5 2.3l5 2.4l5 2.5l5.1 1.9l5 2.7l5 2.5l5 2.3M1539.6 803.8l5 2.9l5 2.9l5.1 2.5l5 2.6l5 2l5 2.3l5.1 2.3l5 2.6M1612.8 830.1l5 2.1l5 2.7l5 2.1l5.1 2.7l5 2.7l5 2.3l5 2.3l5.1 2.2"/><path stroke="#ff2000" d="M1320 725.7l7.9 -5.6M1325.1 727.3l7.8 -5.5M1330.1 730.6l7.8 -6.3M1335.1 733.3l7.9 -5.8M1340.1 735.5l7.9 -6.3M1368.1 740l7.8 -6.5M1373.1 742.5l7.8 -6.6M1378.1 744.7l7.9 -6.7M1383.2 747.4l7.8 -6.7M1388.2 749.5l7.8 -6.6M1393.2 751.2l7.9 -5.8M1398.2 753.6l7.9 -6.1M1403.3 755.7l7.8 -5.9M1408.3 758.6l7.8 -5.7M1413.3 761.3l7.9 -6.6M1418.4 764.3l7.8 -6.9M1451.3 770.2l7.9 -6.2M1456.3 772.9l7.9 -6.5M1461.4 775.2l7.8 -6.3M1466.4 777.9l7.8 -6.8M1471.4 780l7.9 -6.4M1476.5 783.3l7.8 -7.3M1481.5 785.6l7.8 -7.1M1486.5 788l7.8 -6.6M1496.6 792.4l7.8 -6.3M1534.6 800.9l7.8 -6.9M1539.6 803.8l7.8 -6.8M1544.6 806.7l7.8 -7.5M1549.6 809.6l7.9 -7.2M1554.7 812.1l7.8 -6.7M1597.7 822.6l7.8 -6.2M1602.7 824.8l7.8 -6.2M1607.7 826.9l7.9 -6.3M1612.8 830.1l7.8 -6.5M1617.8 832.2l7.8 -6.1M1622.8 834.9l7.8 -6.4M1627.8 837l7.9 -5.5M1632.9 839.7l7.8 -5.8M1637.9 842.4l7.8 -6.4M1642.9 844.7l7.8 -6.4M1647.9 847l7.9 -6.8M1653 849.2l7.8 -6.6M1337.9 724.3l5.1 3.2l5 1.7l5 2.9l5 2.2l5.1 2.9l5 2.8l5 2.5l5 2.2M1393.2 751.2l5 2.4M1416.1 752.9l5.1 1.8l5 2.7l5 3l5 1.7l5.1 3l5 2.2l5 2.9l5 2.7l5.1 2.3M1489.3 778.5l5 2.9l5.1 2.9l5 1.8l5 2.9l5 2.6l5.1 2l5 2.6l5 2.2l5.1 2.5l5 2.9M1562.5 805.4l5 2.8l5 2.2l5.1 2.6l5 1.6l5 2.7l5 2.6l5.1 2.7l5 2.2l5 2.1l5.1 3.2M1635.7 831.5l5 2.4l5 2.1l5 2.3l5.1 1.9l5 2.4"/><path stroke="#ff1000" d="M1327.9 720.1l7.8 -5.9M1332.9 721.8l7.8 -6.2M1337.9 724.3l7.9 -6.3M1343 727.5l7.8 -6.9M1348 729.2l7.8 -6.4M1353 732.1l7.8 -6.5M1358 734.3l7.9 -6.4M1363.1 737.2l7.8 -6.4M1401.1 745.4l7.8 -6M1406.1 747.5l7.8 -5.5M1411.1 749.8l7.8 -5.8M1416.1 752.9l7.9 -6.1M1421.2 754.7l7.8 -6.3M1426.2 757.4l7.8 -6.3M1431.2 760.4l7.8 -6.9M1436.2 762.1l7.9 -5.8M1441.3 765.1l7.8 -6.4M1446.3 767.3l7.8 -6.4M1479.3 773.6l7.8 -6M1484.3 776l7.8 -5.6M1489.3 778.5l7.8 -6.2M1494.3 781.4l7.9 -5.9M1499.4 784.3l7.8 -6.3M1504.4 786.1l7.8 -6.2M1509.4 789l7.8 -6.4M1514.4 791.6l7.9 -6.4M1519.5 793.6l7.8 -6.8M1524.5 796.2l7.8 -6.6M1529.5 798.4l7.9 -6.9M1557.5 802.4l7.8 -6.4M1562.5 805.4l7.8 -6.5M1567.5 808.2l7.8 -7M1572.5 810.4l7.9 -7.2M1577.6 813l7.8 -7.2M1582.6 814.6l7.8 -6.5M1587.6 817.3l7.9 -6.7M1592.6 819.9l7.9 -6.7M1625.6 826.1l7.8 -6.1M1630.6 828.5l7.9 -5.9M1635.7 831.5l7.8 -6.6M1640.7 833.9l7.8 -6.8M1645.7 836l7.9 -6.6M1650.7 838.3l7.9 -6.1M1655.8 840.2l7.8 -5.8M1660.8 842.6l7.8 -6.6M1327.9 720.1l5 1.7l5 2.5M1365.9 727.9l5 2.9l5 2.7l5 2.4l5.1 2.1l5 2.7l5 2.2l5.1 2.5l5 2.1l5 2.3l5 3.1M1444.1 756.3l5 2.4l5 2.2l5.1 3.1l5 2.4l5 2.5l5 2.2l5.1 2.5l5 2.4l5 2.5M1517.2 782.6l5.1 2.6l5 1.6l5 2.8l5.1 1.9l5 2.5l5 3l5 2.2l5.1 3.2l5 3M1595.5 810.6l5 2.6l5 3.2l5 2.2l5.1 2l5 3l5 2.5l5 2.4l5.1 3"/><path stroke="#ef0000" d="M1335.7 714.2l7.8 -7M1340.7 715.6l7.9 -6.4M1345.8 718l7.8 -7.1M1350.8 720.6l7.8 -6.9M1378.7 724.8l7.9 -6.5M1383.8 727.5l7.8 -6.7M1388.8 729.8l7.8 -7.4M1393.8 731.7l7.8 -6.7M1398.8 734.2l7.9 -6.4M1403.9 736.8l7.8 -6M1408.9 739.4l7.8 -6M1413.9 742l7.8 -5.8M1418.9 744l7.9 -5.9M1429 748.4l7.8 -6.5M1451.9 750.4l7.8 -6.1M1456.9 753.3l7.9 -6.6M1462 755.4l7.8 -6.5M1467 757.6l7.8 -6.2M1472 760l7.8 -6.3M1477 761.6l7.9 -5.8M1482.1 764.4l7.8 -6.1M1487.1 767.6l7.8 -6.2M1492.1 770.4l7.8 -6.2M1497.1 772.3l7.9 -6.3M1530.1 779.1l7.8 -6.9M1535.1 780.9l7.9 -6.6M1540.2 783.5l7.8 -6.6M1545.2 785.8l7.8 -6.6M1550.2 788.3l7.8 -5.6M1555.2 791l7.9 -5.5M1560.3 793.4l7.8 -5.9M1565.3 796l7.8 -5.8M1570.3 798.9l7.9 -6.3M1608.3 807l7.8 -6.3M1613.3 809.8l7.9 -6.9M1618.4 811.7l7.8 -6.8M1623.4 814.2l7.8 -6.4M1628.4 817.4l7.9 -6.1M1633.4 820l7.9 -5.9M1638.5 822.6l7.8 -6.5M1643.5 824.9l7.8 -6.5M1648.5 827.1l7.9 -6.9M1653.6 829.4l7.8 -6.5M1343.5 707.2l5.1 2l5 1.7l5 2.8l5 2.8l5.1 2.6l5 2.9l5 2.8M1411.7 730.8l5 2.6l5 2.8l5.1 1.9l5 2.1l5 1.7l5.1 2.8l5 2.7l5 3l5 2.9l5.1 2.1l5 2.2M1472 760l5 1.6l5.1 2.8M1494.9 761.4l5 2.8l5.1 1.8l5 2.6l5 3.2l5.1 2.3l5 2.2l5 2.8l5 1.8l5.1 2.6l5 2.3l5 2.5M1558 782.7l5.1 2.8l5 2l5 2.7l5.1 2.4l5 2.5l5 2l5 2l5.1 2.9l5 2.4l5 2.6l5 2.8l5.1 1.9l5 2.5M1636.3 811.3l5 2.8l5 2l5 2.3l5.1 1.8l5 2.7l5 3.2l5 2.3l5.1 1.5"/><path stroke="#df0000" d="M1343.5 707.2l7.9 -7.2M1348.6 709.2l7.8 -6.7M1353.6 710.9l7.8 -6.8M1358.6 713.7l7.8 -6.7M1363.6 716.5l7.9 -6.3M1368.7 719.1l7.8 -5.8M1373.7 722l7.8 -6.9M1411.7 730.8l7.8 -7.2M1416.7 733.4l7.8 -6.6M1421.7 736.2l7.9 -6.5M1426.8 738.1l7.8 -6M1431.8 740.2l7.8 -6.6M1436.8 741.9l7.9 -6.3M1441.9 744.7l7.8 -6.3M1446.9 747.4l7.8 -6.9M1484.9 755.8l7.8 -6M1489.9 758.3l7.8 -6.1M1494.9 761.4l7.9 -6.3M1499.9 764.2l7.9 -6M1505 766l7.8 -6.3M1510 768.6l7.8 -6.4M1515 771.8l7.9 -7M1520.1 774.1l7.8 -6.8M1525.1 776.3l7.8 -6.7M1558 782.7l7.9 -6.5M1563.1 785.5l7.8 -6.9M1568.1 787.5l7.8 -6.9M1573.1 790.2l7.9 -7.3M1578.2 792.6l7.8 -7.1M1583.2 795.1l7.8 -6.8M1588.2 797.1l7.8 -6.4M1593.2 799.1l7.9 -6.2M1598.3 802l7.8 -6.5M1603.3 804.4l7.8 -6.2M1636.3 811.3l7.8 -7M1641.3 814.1l7.8 -7M1646.3 816.1l7.8 -6.5M1651.3 818.4l7.9 -6.5M1656.4 820.2l7.8 -6.1M1661.4 822.9l7.8 -5.9M1666.4 826.1l7.8 -6.6M1671.4 828.4l7.9 -6.6M1676.5 829.9l7.8 -6M1371.5 710.2l5 3.1l5 1.8l5.1 3.2l5 2.5l5 1.6l5 2.6l5.1 2.8l5 3M1454.7 740.5l5 3.8l5.1 2.4l5 2.2l5 2.5l5 2.3l5.1 2.1l5 2.5l5 3.1M1522.9 764.8l5 2.5l5 2.3l5 2.6l5.1 2.1l5 2.6l5 2.3l5 3.5M1601.1 792.9l5 2.6l5 2.7l5 2.5l5.1 2.2l5 2l5 2.9l5.1 3.5M1669.2 817l5 2.5l5.1 2.3l5 2.1"/><path stroke="#bf0000" d="M1351.4 700l7.8 -5.8M1356.4 702.5l7.8 -5.9M1361.4 704.1l7.9 -5.7M1366.4 707l7.9 -6.7M1394.4 711.2l7.8 -6M1399.4 714.3l7.8 -6.2M1404.4 715.7l7.9 -5.6M1409.5 718.4l7.8 -6.1M1414.5 720.8l7.8 -6.5M1419.5 723.6l7.9 -6.6M1424.5 726.8l7.9 -6.7M1467.6 737.5l7.8 -6.1M1472.6 739.5l7.8 -5.9M1477.6 741.8l7.9 -6.1M1482.6 744.2l7.9 -5.9M1487.7 747l7.8 -6.3M1492.7 749.8l7.8 -6.5M1497.7 752.2l7.9 -6.4M1502.8 755.1l7.8 -7M1535.7 760.8l7.9 -5.7M1540.7 763.5l7.9 -5.4M1545.8 766.7l7.8 -6.2M1550.8 768.4l7.8 -6.3M1555.8 770.7l7.9 -6.3M1560.9 773.2l7.8 -6.6M1565.9 776.2l7.8 -7M1570.9 778.6l7.8 -7.1M1575.9 780.6l7.9 -7M1581 782.9l7.8 -6.1M1359.2 694.2l5 2.4l5.1 1.8l5 1.9l5 3.3l5 2.6l5.1 2.2l5 2.8M1427.4 717l5 3.1l5 3.2l5 2.2l5.1 2.2l5 2.1l5 1.9l5 2.5l5.1 3.3l5 2l5 2.3l5 2.4M1505.6 745.8l5 2.3l5 3.5l5 2.7l5.1 1.6l5 2.1l5 2.8l5 2.7M1583.8 773.6l5 3.2l5 2.8l5 2.7l5.1 2.3l5 1.8l5 2.5l5.1 2.1l5 3.2"/><path stroke="#af0000" d="M1359.2 694.2l7.8 -6.4M1364.2 696.6l7.9 -6M1369.3 698.4l7.8 -6M1374.3 700.3l7.8 -5.8M1379.3 703.6l7.8 -7.2M1384.3 706.2l7.9 -6.8M1389.4 708.4l7.8 -6.9M1407.2 708.1l7.9 -6.1M1412.3 710.1l7.8 -6.3M1417.3 712.3l7.8 -6.5M1422.3 714.3l7.9 -6M1427.4 717l7.8 -6M1432.4 720.1l7.8 -6.2M1437.4 723.3l7.8 -6.6M1442.4 725.5l7.9 -6.6M1447.5 727.7l7.8 -6.4M1452.5 729.8l7.8 -6.1M1457.5 731.7l7.8 -5.7M1462.5 734.2l7.9 -5.5M1490.5 738.3l7.8 -5.9M1495.5 740.7l7.8 -5.6M1500.5 743.3l7.9 -5.1M1505.6 745.8l7.8 -5.6M1510.6 748.1l7.8 -6.2M1515.6 751.6l7.8 -7.2M1520.6 754.3l7.9 -7.3M1525.7 755.9l7.8 -7M1530.7 758l7.8 -6.7M1392.2 699.4l5 2.1l5 3.7l5 2.9l5.1 2l5 2.2l5 2l5.1 2.7M1445.2 716.7l5.1 2.2l5 2.4l5 2.4l5 2.3l5.1 2.7l5 2.7l5 2.2l5.1 2.1l5 2.6l5 2.4l5 2.6l5.1 2.5M1538.5 751.3l5.1 3.8l5 3l5 2.4l5 1.6l5.1 2.3l5 2.2l5 2.6l5 2.3l5.1 2.1"/><path stroke="#9f0000" d="M1367 687.8l7.9 -6.6M1372.1 690.6l7.8 -6.4M1377.1 692.4l7.8 -5.7M1382.1 694.5l7.8 -5.8M1387.1 696.4l7.9 -5.8M1392.2 699.4l7.8 -6.3M1397.2 701.5l7.8 -5.9M1402.2 705.2l7.9 -6.5M1445.2 716.7l7.9 -6.8M1450.3 718.9l7.8 -7.1M1455.3 721.3l7.8 -7.2M1460.3 723.7l7.9 -7.2M1465.3 726l7.9 -6.2M1470.4 728.7l7.8 -6M1475.4 731.4l7.8 -7.3M1480.4 733.6l7.9 -7.1M1485.5 735.7l7.8 -6.7M1367 687.8l5.1 2.8l5 1.8l5 2.1l5 1.9l5.1 3M1410.1 698.7l5 3.3l5 1.8l5 2l5.1 2.5l5 2.7l5 2.9l5 2.8M1473.2 719.8l5 2.9M1488.3 726.5l5 2.5l5 3.4l5 2.7l5.1 3.1l5 2l5 1.7l5 2.5l5.1 2.6l5 1.9l5 2.4"/><path stroke="#800000" d="M1374.9 681.2l7.8 -6.2M1379.9 684.2l7.8 -6M1395 690.6l7.8 -6.4M1405 695.6l7.9 -7.1M1382.7 675l5 3.2l5.1 2.4l5 2l5 1.6l5 2.7l5.1 1.6l5 3l5 3.5l5 2.5l5.1 1.5l5 2.9"/><path stroke="#00dfff" d="M1144.9 874.5l7.9 -5.7M1149.9 876.8l7.9 -6.2M1172.9 879.2l7.8 -6.4M1177.9 881.9l7.8 -6.9M1182.9 883.8l7.8 -7.1M1187.9 885.8l7.9 -5.6M1193 888.8l7.8 -5.8M1198 891.2l7.8 -5.6M1203 893.5l7.9 -6.1M1236 900.1l7.8 -5.3M1241 902.9l7.8 -6.7M1246 904.8l7.9 -6.1M1251.1 907.6l7.8 -7.2M1256.1 910.5l7.8 -6.7M1261.1 913.3l7.9 -6.4M1266.1 915.4l7.9 -6.4M1271.2 917.9l7.8 -5.9M1276.2 920.4l7.8 -6.1M1309.2 926.1l7.8 -5.4M1314.2 928.8l7.8 -5.9M1319.2 931.7l7.8 -5.9M1324.2 934.9l7.9 -6.2M1329.3 937.2l7.8 -6.8M1334.3 939.5l7.8 -6.8M1339.3 942l7.9 -7.2M1344.4 944.8l7.8 -6.7M1367.3 946.1l7.8 -6.1M1372.3 948.5l7.8 -5.9M1377.3 950.4l7.8 -5.8M1387.4 955.3l7.8 -6.9M1392.4 958.2l7.8 -6.2M1397.4 961.1l7.9 -6.7M1402.4 963l7.9 -5.8M1407.5 965.9l7.8 -6.4M1412.5 968.4l7.8 -5.8M1445.5 974.8l7.8 -6.3M1450.5 977.2l7.8 -6.4M1455.5 980.1l7.9 -6.3M1460.5 982.5l7.9 -5.8M1465.6 986l7.8 -6.9M1470.6 988.2l7.8 -6.8M1475.6 990.1l7.9 -6.8M1480.7 992.2l7.8 -5.7M1147.7 867.1l5.1 1.7l5 1.8l5 3.3l5 1.9l5.1 3.4l5 2.7M1182.9 883.8l5 2M1200.8 883l5 2.6l5.1 1.8l5 3.5l5 2.5l5 1.6l5.1 2.6l5 2.5l5 2.8l5 1.9l5.1 2.8M1274 909l5 3l5 2.3l5.1 2.8l5 2.7l5 1.7l5 2.4l5.1 2.2l5 2.7l5 2.9M1352.2 938.1l5 3l5 2l5.1 3l5 2.4l5 1.9l5 2.2l5.1 2.7l5 2.9M1410.3 957.2l5 2.3l5 3.1l5.1 3.3l5 1.9l5 1.6l5 2.3l5.1 3.1l5 2.4l5 2.9M1468.4 976.7l5 2.4l5 2.3l5.1 1.9l5 3.2"/><path stroke="#0030ff" d="M1095.1 922.6l7.9 -6.1M1100.1 925.7l7.9 -6.7M1105.2 926.9l7.8 -6.1M1110.2 929.7l7.8 -6.8M1115.2 931.6l7.9 -6.2M1120.3 934.4l7.8 -6.4M1125.3 937.6l7.8 -6M1130.3 940.5l7.8 -6.5M1168.3 948.2l7.8 -5.8M1173.3 951.1l7.9 -6M1178.4 954.5l7.8 -6.7M1183.4 957.1l7.8 -6.7M1188.4 959.8l7.8 -7M1193.4 961.9l7.9 -6.3M1198.5 963.8l7.8 -5.7M1203.5 965.9l7.8 -5.2M1221.4 966.4l7.8 -6.7M1226.4 969.1l7.8 -7.3M1231.4 970.5l7.9 -6M1236.4 973.2l7.9 -6M1241.5 975.6l7.8 -5.4M1246.5 978.4l7.8 -6.1M1251.5 980.9l7.9 -6.2M1256.6 983.1l7.8 -6.1M1261.6 985.6l7.8 -6.6M1289.5 990.4l7.9 -6.5M1294.5 992.7l7.9 -6.5M1299.6 995.1l7.8 -6.9M1304.6 997.5l7.8 -6.7M1309.6 1000l7.9 -7M1314.7 1001.9l7.8 -6.4M1319.7 1005l7.8 -6.5M1324.7 1007.7l7.8 -6.3M1329.7 1009.6l7.9 -5.6M1334.8 1011.8l7.8 -5.9M1362.7 1016.5l7.8 -6.9M1367.7 1019.6l7.9 -6.8M1372.8 1021.7l7.8 -6.4M1377.8 1023.7l7.8 -5.9M1382.8 1026.8l7.8 -6.7M1387.8 1029.7l7.9 -6.8M1397.9 1034.3l7.8 -6.4M1402.9 1036.5l7.8 -6.6M1085.1 917l5 2.4l5 3.2l5 3.1l5.1 1.2l5 2.8l5 1.9M1133.1 931.6l5 2.4l5.1 2.7l5 2.2l5 2.4l5 2.2l5.1 2.2l5 2.5l5 2.9M1196.2 952.8l5.1 2.8l5 2.5l5 2.6l5 2.8l5.1 2.9l5 2.7l5 1.4l5 2.7l5.1 2.4M1259.4 974.7l5 2.3M1269.4 979l5 3.1l5.1 2.6l5 2.6l5 3.1l5 2.3l5.1 2.4M1327.5 998.5l5 2.9l5.1 2.6l5 1.9l5 2.6l5 2.7l5.1 1.8l5 3.5l5 3.1M1395.7 1022.9l5 2.8l5 2.2l5 2l5.1 2.8l5 2.7l5 2"/><path stroke="#0060ff" d="M1110.8 909.5l7.8 -6.6M1115.8 912.6l7.8 -6.6M1120.8 914.6l7.9 -6.5M1125.9 916.6l7.8 -6.5M1130.9 919.3l7.8 -6.2M1135.9 922.8l7.8 -6.6M1168.9 929.1l7.8 -6.2M1173.9 931.3l7.8 -5.8M1178.9 933.3l7.9 -5.9M1184 936.2l7.8 -6.2M1189 938.9l7.8 -6.1M1194 941.3l7.8 -5.9M1199 943.9l7.9 -5.7M1204.1 945.9l7.8 -6.4M1209.1 949l7.8 -6.9M1237 952.6l7.9 -6.1M1242.1 955.1l7.8 -6.5M1247.1 957.9l7.8 -6.4M1252.1 960.7l7.8 -6.7M1257.1 963.4l7.9 -7M1262.2 965l7.8 -6.3M1267.2 967.7l7.8 -6M1272.2 970.1l7.9 -5.6M1277.2 972.6l7.9 -5.7M1305.2 977.4l7.8 -6.4M1310.2 980l7.8 -7M1315.2 982.8l7.9 -6.6M1320.3 984.8l7.8 -6.4M1325.3 987.5l7.8 -6.8M1330.3 990.1l7.9 -6.3M1335.3 992.2l7.9 -6.3M1340.4 994.4l7.8 -6.5M1368.3 998.8l7.8 -6.9M1373.3 1000.6l7.9 -6.2M1378.4 1003.1l7.8 -5.8M1383.4 1006.2l7.8 -6.2M1388.4 1008.9l7.9 -6.3M1393.4 1011.8l7.9 -6.2M1398.5 1014.2l7.8 -6.5M1403.5 1015.9l7.8 -6.1M1426.4 1018.2l7.8 -6.3M1441.5 1025.6l7.8 -6.3M1100.7 904.4l5.1 2.4l5 2.7M1138.7 913.1l5 3.1l5.1 2.4l5 2.4l5 1.8l5.1 2.9l5 3.4l5 2.2l5 2l5.1 2.9M1201.8 935.4l5.1 2.8l5 1.3l5 2.6l5.1 2.4l5 2.9l5 2.2l5 3l5.1 2.5l5 2.8M1275 961.7l5.1 2.8l5 2.4l5 2.5l5 2.8l5.1 2.3l5 2.9M1333.1 980.7l5.1 3.1l5 2.1l5 2l5 3.1l5.1 2.7l5 2.2l5 2.9l5 1.8l5.1 2.5l5 3.1M1396.3 1002.6l5 3l5 2.1l5 2.1l5.1 3.2l5 2.6l5 2.6l5 1.6l5.1 2.5l5 3.3"/><path stroke="#70ff8f" d="M1204.8 832.3l7.8 -5.7M1209.8 835.7l7.8 -6M1214.8 838.6l7.9 -6.7M1219.9 840.3l7.8 -7M1224.9 843.1l7.8 -7M1229.9 845.8l7.8 -7M1262.9 851.9l7.8 -6.4M1267.9 854.2l7.8 -6.2M1272.9 857l7.9 -6.1M1278 860.2l7.8 -6.7M1283 862.7l7.8 -7.2M1288 864.5l7.8 -6.7M1293 866.9l7.9 -5.9M1298.1 869.4l7.8 -6M1341.1 880.4l7.8 -5.8M1346.1 882.8l7.8 -6.8M1351.1 884.9l7.9 -6.3M1356.2 887.8l7.8 -6.6M1361.2 890.8l7.8 -6M1366.2 893.3l7.8 -6M1371.2 895.7l7.9 -5.7M1404.2 902.3l7.8 -6.2M1409.2 904.9l7.9 -6.1M1414.3 907l7.8 -6.1M1419.3 909.5l7.8 -6.9M1424.3 912.5l7.8 -7.5M1429.3 914.6l7.9 -7.2M1434.4 917.1l7.8 -6.9M1439.4 920.1l7.8 -7M1467.3 924l7.9 -6.8M1477.4 928.7l7.8 -7M1482.4 931.2l7.8 -6.7M1487.4 933.2l7.9 -6.3M1492.5 935.5l7.8 -6.5M1497.5 938l7.8 -6.5M1502.5 940.8l7.8 -6.4M1507.5 944l7.9 -6.3M1512.6 945.9l7.8 -5.8M1194.7 827.3l5 2.5l5.1 2.5l5 3.4M1237.7 838.8l5.1 3.2l5 2.2l5 3.1l5 2.3l5.1 2.3l5 2.3l5 2.8M1300.9 861l5 2.4l5 3.1l5 2.2l5.1 1.7l5 2.5l5 2.1l5.1 2.7l5 2.7l5 2.4l5 2.1l5.1 2.9M1369 884.8l5 2.5l5.1 2.7l5 2.2l5 2.5l5.1 2.8l5 2.3l5 2.5l5 2.6l5.1 2.1M1447.2 913.1l5 2.8l5.1 3l5 2.8l5 2.3l5.1 2.2l5 2.5l5 2.5M1487.4 933.2l5.1 2.3M1510.3 934.4l5.1 3.3l5 2.4l5 2.6l5.1 3l5 1.4"/><path stroke="#afff50" d="M1228.3 813.8l7.8 -6.3M1238.3 818.3l7.9 -6.8M1243.4 821l7.8 -6M1248.4 823.9l7.8 -6.6M1253.4 826l7.8 -5.9M1258.4 829.2l7.9 -6.8M1263.5 831.4l7.8 -6.1M1306.5 843.1l7.8 -6.7M1311.5 845.8l7.8 -6.6M1316.5 847.7l7.9 -6.7M1321.6 849.9l7.8 -7.1M1326.6 853l7.8 -7.2M1331.6 856l7.8 -7.3M1336.6 858.3l7.9 -7M1346.7 862.2l7.8 -6.3M1374.6 866.3l7.9 -6.8M1379.7 868.5l7.8 -5.5M1384.7 871.2l7.8 -6.1M1389.7 873.6l7.8 -5.8M1394.7 876.4l7.9 -6.3M1399.8 878.5l7.8 -5.6M1404.8 881.5l7.8 -6.1M1442.8 890.1l7.8 -5.7M1447.8 892.8l7.8 -6.2M1452.8 894.9l7.9 -6.4M1457.9 898.5l7.8 -7.7M1462.9 900.9l7.8 -7.3M1467.9 903.5l7.8 -7.4M1472.9 906l7.9 -6.7M1510.9 914.3l7.9 -6.9M1516 917.2l7.8 -6.6M1521 919.2l7.8 -6.3M1526 921.9l7.8 -6.4M1531 925l7.9 -7M1536.1 926.9l7.8 -6.3M1541.1 929.2l7.8 -6.5M1546.1 931.9l7.9 -6.3M1551.1 934.1l7.9 -6M1218.2 808.2l5 2.8l5.1 2.8l5 2l5 2.5l5.1 2.7M1266.3 822.4l5 2.9l5 2.7l5 2l5.1 2.6l5 1.6l5 2.8l5.1 2.8l5 3.3M1339.4 848.7l5.1 2.6l5 2.5l5 2.1l5 2.3l5.1 3.4l5 2.2l5 2.5l5.1 2.2l5 2.7M1407.6 872.9l5 2.5l5 3l5.1 2l5 2.4l5 2l5.1 2.7l5 2.6l5 2.7l5 2.1M1475.7 896.1l5.1 3.2l5 2.9l5 2.4l5.1 1.8l5 1.9l5 3.2l5 2.8l5.1 2.9M1548.9 922.7l5.1 2.9l5 2.5"/><path stroke="#dfff20" d="M1243.9 800.9l7.9 -6.4M1249 803.2l7.8 -6.2M1254 805.7l7.8 -6.6M1259 809.1l7.8 -6.7M1264 811.5l7.9 -6.3M1269.1 813.1l7.8 -6.1M1274.1 815.7l7.8 -6.8M1279.1 817.9l7.9 -6.1M1307.1 822l7.8 -5.6M1312.1 824.8l7.8 -6.5M1317.1 826.4l7.8 -5.5M1322.1 830l7.9 -6.3M1327.2 832.6l7.8 -6.7M1332.2 835l7.8 -6.6M1337.2 837l7.9 -6M1342.2 839.8l7.9 -6M1380.2 849.1l7.9 -6.2M1385.3 850.7l7.8 -5.9M1390.3 853.3l7.8 -6.1M1395.3 856.5l7.9 -6.1M1400.3 858.9l7.9 -6.2M1405.4 861.3l7.8 -6.5M1410.4 863.8l7.8 -7M1415.4 866.3l7.9 -6.5M1448.4 872.3l7.8 -5.5M1453.4 874.9l7.9 -6.8M1458.4 877.1l7.9 -6.4M1463.5 879.9l7.8 -6.6M1468.5 882.4l7.8 -5.8M1473.5 884.6l7.9 -6M1478.6 887.6l7.8 -6.2M1483.6 890.3l7.8 -6.4M1526.6 900.3l7.8 -5.5M1531.6 903.8l7.9 -6.1M1536.7 906.4l7.8 -6.6M1541.7 908.5l7.8 -6.4M1546.7 911.6l7.8 -6.6M1551.7 914l7.9 -6.3M1556.8 916.3l7.8 -6.5M1233.9 796l5 2.4l5 2.5l5.1 2.3l5 2.5M1266.8 802.4l5.1 2.8l5 1.8M1281.9 808.9l5.1 2.9l5 3.3l5 1.9l5 2.7l5.1 2.3l5 2.8l5 1.6l5 3.6M1345.1 831l5 2.8l5 2.9l5 2.2l5.1 2l5 2.1l5 2.9l5 3.2l5.1 1.6l5 2.6M1418.2 856.8l5.1 3l5 2.6l5 3.1l5 1.7l5.1 2.6l5 2.5l5 2.6l5 2.2l5.1 2.8M1486.4 881.4l5 2.5l5 2.5l5.1 2.6l5 1.6l5 3.1l5 2.2l5.1 2.2l5 2.2l5 3.5M1554.5 905l5.1 2.7l5 2.1l5 2.7l5 2.4"/><path stroke="#ffdf00" d="M1267.4 782.7l7.9 -7M1272.5 785l7.8 -6.5M1277.5 786.2l7.8 -5.7M1282.5 788.5l7.8 -5.9M1287.5 791.4l7.9 -6M1292.6 794l7.8 -6M1297.6 796.6l7.8 -6M1302.6 799.3l7.9 -6.8M1307.6 802.6l7.9 -7M1312.7 804.6l7.8 -6.9M1317.7 806.7l7.8 -7M1335.6 805.8l7.8 -6.2M1340.6 808.8l7.8 -7.4M1345.6 811l7.9 -7.4M1350.7 813.6l7.8 -6.6M1355.7 816.3l7.8 -6.7M1360.7 818.5l7.9 -6.6M1365.7 820.2l7.9 -6M1370.8 822.9l7.8 -6.1M1375.8 825.9l7.8 -6.6M1380.8 828.1l7.9 -6.3M1385.9 829.7l7.8 -5.8M1390.9 832.5l7.8 -6.3M1413.8 834.5l7.8 -6M1418.8 837.1l7.9 -6.1M1423.8 839.7l7.9 -6.3M1428.9 842l7.8 -6M1433.9 844.3l7.8 -6.4M1438.9 846.5l7.9 -6.5M1444 848.7l7.8 -6.1M1449 851.7l7.8 -6.2M1454 854.3l7.8 -6.3M1492 863.8l7.8 -6.6M1497 865.9l7.9 -6.7M1502.1 868.6l7.8 -7.3M1507.1 871.1l7.8 -7.4M1512.1 873.2l7.8 -7.4M1517.1 875.5l7.9 -6.8M1522.2 877.7l7.8 -6.7M1527.2 880.5l7.8 -6.6M1532.2 882.5l7.8 -5.9M1555.1 884.8l7.9 -7.2M1560.2 887l7.8 -6.9M1565.2 888.9l7.8 -6.4M1570.2 891l7.8 -6.2M1575.2 893.8l7.9 -5.6M1580.3 896.8l7.8 -5.7M1585.3 899.7l7.8 -6.3M1590.3 902.2l7.8 -6.6M1257.4 777.6l5 1.9l5 3.2l5.1 2.3l5 1.2l5 2.3l5 2.9M1310.5 792.5l5 3.1l5 2.1l5 2l5.1 2.7l5 3.4l5 3l5 2.2M1378.6 816.8l5 2.5l5.1 2.5l5 2.1l5 2.3l5 2.5l5.1 3l5 2.8l5 2.6l5 2.6M1451.8 842.6l5 2.9l5 2.5l5.1 2.2l5 3.1l5 2.2l5 2.3l5.1 2.8l5 3.2M1530 871l5 2.9l5 2.7l5.1 2.5l5 2.8l5 2.9l5.1 2.2l5 1.9l5 2.1l5 2.8M1588.1 891.1l5 2.3l5 2.2"/><path stroke="#ffaf00" d="M1283.1 769l7.8 -6.8M1288.1 771.9l7.9 -6.7M1293.2 774.4l7.8 -6.3M1298.2 776.2l7.8 -6.4M1303.2 778.6l7.8 -6.4M1308.2 782l7.9 -7.1M1313.3 784.1l7.8 -6.5M1318.3 786.6l7.8 -6.5M1323.3 788.9l7.8 -6.3M1346.2 790.6l7.9 -6.5M1351.3 793.3l7.8 -6.6M1356.3 794.9l7.8 -6.3M1361.3 797.1l7.8 -6.4M1366.3 800.2l7.9 -6.8M1371.4 802.4l7.8 -6.2M1376.4 805.3l7.8 -6.2M1381.4 808.1l7.8 -6.5M1419.4 816.7l7.8 -5.9M1424.4 820l7.9 -6.6M1429.5 822.1l7.8 -6.3M1434.5 824.9l7.8 -6.7M1439.5 827.1l7.8 -6.5M1444.5 829.6l7.9 -7.2M1449.6 831.7l7.8 -6.6M1454.6 833.8l7.8 -6.3M1459.6 836.7l7.8 -6.7M1492.6 843.2l7.8 -7.4M1502.6 847.2l7.9 -6.3M1507.7 850.9l7.8 -7M1512.7 853.5l7.8 -6.5M1517.7 855.6l7.8 -6.1M1522.7 857.5l7.9 -5.4M1527.8 859.9l7.8 -6M1532.8 862.6l7.8 -6.4M1537.8 864.7l7.9 -6.2M1575.8 873.6l7.8 -6.4M1580.8 876.5l7.9 -6.5M1585.9 878.6l7.8 -6.7M1590.9 881.9l7.8 -7.2M1595.9 885.1l7.9 -7.2M1606 889.2l7.8 -6.8M1273 764.1l5.1 1.9l5 3l5 2.9M1321.1 777.6l5 2.5l5 2.5l5.1 2.5l5 2.9l5 2.6l5.1 2.7l5 1.6l5 2.2l5 3.1M1384.2 799.1l5 2.5l5.1 3.1l5 2.1l5 2.2l5.1 2l5 2.7l5 3l5 3.3M1462.4 827.5l5 2.5l5.1 2.3l5 3l5 2.9l5.1 2.1l5 2.9l5 1.5l5 2.5M1520.5 847l5 2.5l5.1 2.6l5 1.8l5 2.3l5.1 2.3l5 2.6l5 2.2l5 2.6l5.1 1.9l5 3l5 2.8l5 2.9M1603.8 877.9l5 2.9l5 1.6"/><path stroke="#ff4000" d="M1322.3 736.8l7.8 -6.2M1327.3 739.2l7.8 -5.9M1332.3 741.5l7.8 -6M1337.3 744.9l7.9 -6.4M1342.4 747.1l7.8 -6.1M1347.4 749.5l7.8 -5.8M1352.4 751.9l7.9 -5.8M1357.4 754.7l7.9 -6.2M1362.5 756.8l7.8 -6M1405.5 768l7.8 -6.7M1410.5 771l7.9 -6.7M1415.5 773.9l7.9 -6.4M1420.6 776.3l7.8 -7M1425.6 779l7.8 -6.6M1468.6 790.3l7.9 -7M1473.6 792.1l7.9 -6.5M1478.7 794.1l7.8 -6.1M1483.7 797.2l7.8 -6.7M1488.7 799.2l7.9 -6.8M1493.8 801.9l7.8 -6.8M1498.8 804.3l7.8 -6.7M1503.8 806.3l7.8 -6.4M1508.8 808.7l7.9 -6.2M1513.9 811.4l7.8 -6.4M1536.8 813.2l7.8 -6.5M1541.8 816l7.8 -6.4M1546.8 817.9l7.9 -5.8M1551.9 821l7.8 -6.3M1556.9 823.1l7.8 -6.4M1561.9 826l7.8 -7M1566.9 827.9l7.9 -6.6M1572 830.1l7.8 -6.2M1577 832.8l7.8 -6M1582 835.4l7.8 -5.9M1620 843.8l7.8 -6.8M1625 846.5l7.9 -6.8M1630.1 849.5l7.8 -7.1M1635.1 852.3l7.8 -7.6M1640.1 854.4l7.8 -7.4M1645.1 856.3l7.9 -7.1M1312.2 732.1l5 2l5.1 2.7l5 2.4l5 2.3M1355.2 743.7l5.1 2.4l5 2.4l5 2.3l5 3l5.1 2.1l5 2.3l5 1.6l5 2.4l5.1 2.9l5 2.9M1428.4 769.3l5 3.1l5.1 2.8l5 2.6l5 1.7l5 2.7l5.1 2l5 2.5l5 3.6M1473.6 792.1l5.1 2M1511.6 799.9l5.1 2.6l5 2.5l5 2.5l5 3l5.1 2.7l5 2.8l5 1.9M1579.8 823.9l5 2.9l5 2.7l5.1 2.1l5 2.2l5 2.8l5.1 2.8l5 1.9l5 2.5l5 2.7"/><path stroke="#8f0000" d="M1384.9 686.7l7.9 -6.1M1389.9 688.7l7.9 -6.1M1400 693.1l7.8 -6.2M1410.1 698.7l7.8 -7.2M1415.1 702l7.8 -7M1420.1 703.8l7.8 -6.3M1425.1 705.8l7.9 -6.8M1430.2 708.3l7.8 -6.4M1435.2 711l7.8 -6.9M1440.2 713.9l7.8 -7.5M1374.9 681.2l5 3l5 2.5l5 2l5.1 1.9l5 2.5l5 2.5l5.1 3.1M1438 701.9l5 2.2l5 2.3l5.1 3.5l5 1.9l5 2.3l5.1 2.4l5 3.3M1478.2 722.7l5 1.4l5.1 2.4"/><path stroke="#009fff" d="M1139.3 893.5l7.8 -6.5M1149.4 897.8l7.8 -7.1M1154.4 901.2l7.8 -6.8M1159.4 904l7.8 -6.6M1164.4 906.4l7.9 -6.8M1174.5 910.4l7.8 -6.1M1179.5 912.6l7.9 -6.4M1207.5 917.4l7.8 -6.4M1212.5 919.4l7.8 -6.5M1217.5 921.9l7.8 -6.4M1222.5 925.3l7.9 -6.9M1227.6 927.5l7.8 -6.3M1232.6 929.6l7.8 -6.8M1237.6 932.5l7.9 -7M1265.6 936.5l7.8 -6.7M1270.6 939.6l7.8 -6.8M1275.6 941.6l7.8 -6.7M1280.6 943.3l7.9 -6.7M1285.7 946.2l7.8 -6.7M1290.7 949.4l7.8 -6.5M1295.7 951.3l7.9 -6.4M1300.7 954l7.9 -6.4M1305.8 955.8l7.8 -6.2M1310.8 958.3l7.8 -6.8M1315.8 961l7.9 -6.5M1343.8 965.5l7.8 -6.9M1348.8 967.1l7.8 -6.3M1353.8 969.9l7.9 -5.9M1358.8 973.3l7.9 -5.8M1363.9 976l7.8 -6.2M1368.9 977.8l7.8 -6.6M1373.9 980.5l7.9 -6.1M1401.9 984.5l7.8 -6.4M1406.9 987.2l7.8 -6.6M1411.9 989.6l7.9 -6.6M1416.9 991.7l7.9 -6.6M1422 994l7.8 -6.3M1427 996.7l7.8 -5.7M1432 999.8l7.9 -6.2M1447.1 1007l7.8 -6.6M1124.2 885.4l5.1 1.9l5 3.3l5 2.9l5 1.2l5.1 3.1M1167.2 897.4l5.1 2.2l5 2.8l5 1.9l5.1 1.9l5 2.9l5 2.8l5 2.6l5.1 2.9l5 2l5 2.5M1245.5 925.5l5 2.9l5 3.1l5 2.6l5.1 2.4l5 3.1M1275.6 941.6l5 1.7l5.1 2.9M1303.6 944.9l5 2.7l5 2M1318.6 951.5l5.1 3l5 3.5l5 1.9l5 2.9l5.1 2.7l5 1.6l5 2.8M1366.7 967.5l5 2.3l5 1.4l5.1 3.2l5 2.7l5 2.9l5 1.9l5.1 2.6l5 2.7l5 2.4l5 2.1M1434.8 991l5.1 2.6l5 2.6l5 2.6l5 1.6l5.1 2.9l5 3.2"/><path stroke="#ff7000" d="M1311.6 752.9l7.9 -7.2M1316.6 755.4l7.9 -7.2M1321.7 757.2l7.8 -6.1M1326.7 759.7l7.8 -6M1331.7 763l7.9 -6.8M1336.8 765.5l7.8 -6.9M1341.8 768.2l7.8 -6.5M1346.8 769.7l7.8 -6.3M1351.8 772.2l7.9 -6M1356.9 774.3l7.8 -5.3M1379.8 776.8l7.8 -6.7M1384.8 779.5l7.8 -6.9M1389.8 782.4l7.9 -6.6M1394.9 784.7l7.8 -6.6M1399.9 786.1l7.8 -5.6M1404.9 788.1l7.8 -5.7M1409.9 790.6l7.9 -5.9M1415 793l7.8 -6.3M1420 796.1l7.8 -6.5M1458 804.6l7.8 -6.2M1463 807.4l7.8 -7M1468 809.8l7.9 -6M1473.1 811.9l7.8 -6.7M1478.1 814.6l7.8 -6.8M1483.1 817.7l7.8 -7.4M1488.1 819.8l7.9 -6.8M1493.2 822.3l7.8 -6.8M1521.1 826.9l7.8 -6.6M1526.1 828.8l7.9 -6.5M1536.2 834.1l7.8 -7.2M1541.2 836.3l7.8 -7M1546.2 839.2l7.9 -7.5M1551.3 841.2l7.8 -6.9M1556.3 843.5l7.8 -6.9M1561.3 846.5l7.9 -7M1566.3 848.7l7.9 -6M1571.4 851l7.8 -6.4M1594.3 852.8l7.8 -6.4M1599.3 855.2l7.8 -6.3M1604.3 857.4l7.9 -6.6M1609.4 860.3l7.8 -6.5M1614.4 862.8l7.8 -6.2M1619.4 865l7.9 -6.4M1624.4 867l7.9 -6.7M1629.5 870.1l7.8 -7.1M1296.5 745l5.1 2.5l5 2.4l5 3l5 2.5l5.1 1.8l5 2.5M1344.6 758.6l5 3.1l5 1.7l5.1 2.8l5 2.8l5 2.9l5 2.1l5.1 2.8l5 2.7M1427.8 789.6l5 2.8l5.1 2.5l5 2.4l5 2.5l5.1 2.6l5 2.2l5 2.8l5 2.4l5.1 2.1M1501 815.5l5 3.6l5.1 2.8l5 2.4l5 2.6l5 1.9l5.1 1.9l5 3.4M1569.2 839.5l5 3.2l5 1.9l5 2.8l5.1 2.3l5 3.1l5 2.4l5 2.2l5.1 2.9"/><path stroke="#0000ff" d="M1089.5 940.3l7.8 -6.4M1094.5 942.9l7.9 -6.9M1099.6 944.9l7.8 -6.5M1104.6 947.8l7.8 -7.2M1109.6 949.7l7.8 -6.5M1114.6 952.9l7.9 -6.8M1119.7 955.7l7.8 -6.7M1124.7 957.7l7.8 -6.7M1129.7 960.3l7.9 -6.9M1134.7 962.6l7.9 -6.7M1162.7 967.3l7.8 -6.2M1167.7 970l7.8 -6.4M1172.7 972.5l7.9 -6.5M1177.8 974.6l7.8 -6.4M1182.8 976.8l7.8 -6.7M1187.8 979.3l7.9 -6.4M1210.7 981.6l7.9 -6.2M1215.8 983.9l7.8 -6.3M1220.8 986.4l7.8 -6.1M1225.8 988.3l7.8 -5.7M1230.8 990.9l7.9 -5.8M1235.9 993.7l7.8 -6.5M1240.9 996.8l7.8 -7.2M1245.9 999.2l7.9 -6.9M1250.9 1001.5l7.9 -6.5M1283.9 1008.2l7.8 -7.1M1288.9 1011.1l7.9 -6.9M1294 1013l7.8 -6.9M1299 1015l7.8 -6.3M1304 1017.9l7.8 -6M1309 1020.1l7.9 -5.9M1314.1 1022.7l7.8 -7M1319.1 1025.6l7.8 -7.3M1347 1029.8l7.9 -6.9M1352.1 1031.9l7.8 -6.1M1357.1 1034.9l7.8 -7M1362.1 1037.4l7.8 -7.1M1367.1 1040.3l7.9 -7M1372.2 1042.6l7.8 -6.3M1377.2 1044.9l7.8 -6.5M1382.2 1047.5l7.9 -6.4M1069.4 930.4l5 2.4l5.1 2.6l5 2.4l5 2.5l5 2.6l5.1 2M1127.5 949l5 2l5.1 2.4l5 2.5l5 2.5l5 2.9l5.1 2.6l5 3.4M1195.7 972.9l5 3l5 3.4l5 2.3l5.1 2.3l5 2.5l5 1.9l5 2.6M1253.8 992.3l5 2.7l5 3l5 2.4l5.1 2l5 2.7l5 3.1M1326.9 1018.3l5.1 3.5l5 3.2l5 2l5 2.8l5.1 2.1l5 3M1380 1036.3l5 2.1l5.1 2.7l5 2.8l5 2.9l5 2.1l5.1 1.9"/><path stroke="#10ffef" d="M1183.5 863.5l7.8 -6.6M1188.5 866.6l7.9 -7.5M1193.6 868.6l7.8 -6.5M1198.6 871l7.8 -6.6M1203.6 873.6l7.8 -6.8M1208.6 876.5l7.9 -7.2M1213.7 879.2l7.8 -6.7M1251.6 887.7l7.9 -6.7M1256.7 890.2l7.8 -6.3M1261.7 892.6l7.8 -6M1266.7 895.4l7.9 -6.3M1271.8 897.9l7.8 -6.3M1276.8 900.7l7.8 -6.3M1281.8 902.8l7.8 -6.2M1314.8 909.6l7.8 -6.8M1319.8 912l7.8 -6.9M1324.8 915.2l7.9 -6.9M1329.9 917.1l7.8 -6.2M1334.9 919.9l7.8 -7.1M1339.9 922l7.8 -6.9M1344.9 924.3l7.9 -6.7M1350 926.8l7.8 -5.7M1355 929l7.8 -6.1M1393 937.8l7.8 -6.5M1398 940.2l7.8 -5.8M1403 942.8l7.9 -6M1408.1 945.1l7.8 -5.5M1413.1 948.4l7.8 -6.3M1418.1 950.7l7.8 -5.8M1451.1 957l7.8 -6.2M1456.1 959.5l7.8 -6.5M1461.1 962.3l7.9 -6.9M1466.2 964.5l7.8 -6.9M1471.2 967.7l7.8 -7.3M1476.2 970.2l7.8 -7.1M1481.2 972.8l7.9 -7M1486.3 974.6l7.8 -6.4M1491.3 977.2l7.8 -6.2M1163.4 853.2l5 2.7l5 2.1l5.1 2.9l5 2.6l5 3.1M1216.5 869.3l5 3.2l5 2.9l5 2.5l5.1 2.4l5 2.6l5 2.5l5 2.3l5.1 2.5M1279.6 891.6l5 2.8l5 2.2l5.1 2.6l5 2.7l5 2l5 3.1l5.1 2.6l5 2.4M1352.8 917.6l5 3.5l5 1.8l5 2.5l5.1 2.1l5 2.7l5 2.9l5.1 2.3l5 2.4l5 2.4M1415.9 939.6l5 2.5l5 2.8l5.1 2.2l5 2.5l5 2.3l5.1 2.2l5 2.9l5 2.5l5 2.8M1489.1 965.8l5 2.4l5 2.8l5.1 2.3"/><path stroke="#50ffaf" d="M1207 845.4l7.8 -6.8M1212 847l7.9 -6.7M1217 849.3l7.9 -6.2M1222.1 851.6l7.8 -5.8M1227.1 854.1l7.8 -5.3M1232.1 856.7l7.9 -5.9M1237.2 859.6l7.8 -6.1M1242.2 862.6l7.8 -6.4M1247.2 864.6l7.8 -6.7M1252.2 867.4l7.9 -7M1275.1 868.8l7.9 -6.1M1280.2 870.8l7.8 -6.3M1285.2 872.7l7.8 -5.8M1290.2 875.4l7.9 -6M1295.3 878.3l7.8 -6.3M1300.3 881l7.8 -6.4M1305.3 883.9l7.8 -6.6M1310.3 885.7l7.9 -5.7M1315.4 888.1l7.8 -5.8M1320.4 890.5l7.8 -5.8M1353.4 896.9l7.8 -6.1M1358.4 899.2l7.8 -5.9M1363.4 902.4l7.8 -6.7M1368.4 905l7.9 -6.4M1373.5 907.4l7.8 -6.7M1378.5 909.6l7.8 -5.5M1383.5 912.3l7.8 -6.3M1388.5 914.4l7.9 -6M1416.5 919.1l7.8 -6.6M1421.5 921.2l7.8 -6.6M1426.5 923.3l7.9 -6.2M1431.6 927.2l7.8 -7.1M1436.6 929.6l7.8 -6.9M1441.6 931.7l7.8 -6.2M1446.6 933.8l7.9 -5.4M1451.7 936.7l7.8 -5.8M1494.7 947.9l7.8 -7.1M1499.7 950.3l7.8 -6.3M1504.7 952.7l7.9 -6.8M1509.8 955.2l7.8 -6.1M1514.8 958.2l7.8 -6.2M1519.8 959.7l7.8 -5.5M1186.9 834.9l5 2.1l5 1.9l5.1 3.4l5 3.1l5 1.6l5 2.3l5.1 2.3l5 2.5M1245 853.5l5 2.7l5 1.7l5.1 2.5l5 3.1l5 2.7l5 2.6l5.1 2l5 1.9l5 2.7l5.1 2.9M1313.1 877.3l5.1 2.7l5 2.3l5 2.4l5 2.9l5.1 2.6l5 1.7l5 2.3l5.1 2.7l5 2.3l5 3.2M1386.3 904.1l5 1.9l5.1 2.4l5 2.8l5 2l5.1 2.9l5 3l5 2.1l5 2.1M1449.4 925.5l5.1 2.9l5 2.5l5 2.5l5.1 2.5l5 2.3l5 2l5 2.2l5.1 2.8l5 2.7l5 2.4M1517.6 949.1l5 2.9l5 2.2"/><path stroke="#ff0000" d="M1355.8 722.8l7.8 -6.3M1360.8 725.6l7.9 -6.5M1365.9 727.9l7.8 -5.9M1370.9 730.8l7.8 -6M1375.9 733.5l7.9 -6M1380.9 735.9l7.9 -6.1M1386 738l7.8 -6.3M1391 740.7l7.8 -6.5M1396 742.9l7.9 -6.1M1424 746.8l7.8 -6.6M1434 751.1l7.9 -6.4M1439 753.5l7.9 -6.1M1444.1 756.3l7.8 -5.9M1449.1 758.7l7.8 -5.4M1454.1 760.9l7.9 -5.5M1459.2 764l7.8 -6.4M1464.2 766.4l7.8 -6.4M1469.2 768.9l7.8 -7.3M1474.2 771.1l7.9 -6.7M1502.2 775.5l7.8 -6.9M1507.2 778l7.8 -6.2M1512.2 779.9l7.9 -5.8M1517.2 782.6l7.9 -6.3M1522.3 785.2l7.8 -6.1M1527.3 786.8l7.8 -5.9M1532.3 789.6l7.9 -6.1M1537.4 791.5l7.8 -5.7M1542.4 794l7.8 -5.7M1547.4 797l7.8 -6M1552.4 799.2l7.9 -5.8M1575.3 801.2l7.9 -6.1M1580.4 803.2l7.8 -6.1M1585.4 805.8l7.8 -6.7M1590.4 808.1l7.9 -6.1M1595.5 810.6l7.8 -6.2M1600.5 813.2l7.8 -6.2M1605.5 816.4l7.8 -6.6M1610.5 818.6l7.9 -6.9M1615.6 820.6l7.8 -6.4M1620.6 823.6l7.8 -6.2M1658.6 832.2l7.8 -6.1M1663.6 834.4l7.8 -6M1668.6 836l7.9 -6.1M1335.7 714.2l5 1.4l5.1 2.4l5 2.6l5 2.2l5 2.8l5.1 2.3M1378.7 724.8l5.1 2.7l5 2.3l5 1.9l5 2.5l5.1 2.6l5 2.6l5 2.6l5 2l5.1 2.8l5 1.6l5 2.7l5 2.4l5.1 2.8M1467 757.6l5 2.4M1482.1 764.4l5 3.2l5 2.8l5 1.9l5.1 3.2l5 2.5l5 1.9l5 2.7M1550.2 788.3l5 2.7l5.1 2.4l5 2.6l5 2.9l5 2.3l5.1 2l5 2.6l5 2.3l5.1 2.5M1623.4 814.2l5 3.2l5 2.6l5.1 2.6l5 2.3l5 2.2l5.1 2.3l5 2.8l5 2.2l5 1.6"/><path stroke="#cf0000" d="M1371.5 710.2l7.8 -6.6M1376.5 713.3l7.8 -7.1M1381.5 715.1l7.9 -6.7M1386.6 718.3l7.8 -7.1M1391.6 720.8l7.8 -6.5M1396.6 722.4l7.8 -6.7M1401.6 725l7.9 -6.6M1406.7 727.8l7.8 -7M1429.6 729.7l7.8 -6.4M1434.6 732.1l7.8 -6.6M1439.6 733.6l7.9 -5.9M1444.7 735.6l7.8 -5.8M1449.7 738.4l7.8 -6.7M1454.7 740.5l7.8 -6.3M1459.7 744.3l7.9 -6.8M1464.8 746.7l7.8 -7.2M1469.8 748.9l7.8 -7.1M1474.8 751.4l7.8 -7.2M1479.8 753.7l7.9 -6.7M1507.8 758.2l7.8 -6.6M1512.8 759.7l7.8 -5.4M1517.8 762.2l7.9 -6.3M1522.9 764.8l7.8 -6.8M1527.9 767.3l7.8 -6.5M1532.9 769.6l7.8 -6.1M1537.9 772.2l7.9 -5.5M1543 774.3l7.8 -5.9M1548 776.9l7.8 -6.2M1553 779.2l7.9 -6M1586 785.5l7.8 -5.9M1591 788.3l7.8 -6M1596 790.7l7.9 -6.1M1601.1 792.9l7.8 -6.5M1606.1 795.5l7.8 -6.6M1611.1 798.2l7.9 -7.2M1616.1 800.7l7.9 -6.5M1621.2 802.9l7.8 -6M1626.2 804.9l7.8 -5.9M1631.2 807.8l7.9 -6.3M1351.4 700l5 2.5l5 1.6l5 2.9l5.1 3.2M1394.4 711.2l5 3.1l5 1.4l5.1 2.7l5 2.4l5 2.8l5 3.2l5.1 2.9l5 2.4l5 1.5l5.1 2l5 2.8l5 2.1M1482.6 744.2l5.1 2.8l5 2.8l5 2.4l5.1 2.9l5 3.1l5 1.5l5 2.5l5.1 2.6M1540.7 763.5l5.1 3.2l5 1.7l5 2.3l5.1 2.5l5 3l5 2.4l5 2l5.1 2.3l5 2.6l5 2.8l5 2.4l5.1 2.2M1624 794.2l5 2.7l5 2.1l5.1 2.5l5 2.8l5 2.8l5 2.5l5.1 2.3l5 2.2l5 2.9"/><path stroke="#0000ef" d="M1139.8 965l7.8 -6.6M1144.8 968.1l7.8 -6.8M1149.8 969.8l7.9 -5.9M1154.9 972.4l7.8 -5.1M1159.9 975.4l7.8 -5.4M1164.9 978.3l7.8 -5.8M1192.8 982.3l7.9 -6.4M1197.9 985.3l7.8 -6M1202.9 988l7.8 -6.4M1207.9 990.6l7.9 -6.7M1213 992.9l7.8 -6.5M1218 994.8l7.8 -6.5M1223 997l7.8 -6.1M1228 1000.1l7.9 -6.4M1256 1004.7l7.8 -6.7M1261 1007.4l7.8 -7M1266 1009l7.9 -6.6M1271.1 1011.7l7.8 -6.6M1276.1 1014.5l7.8 -6.3M1281.1 1017.9l7.8 -6.8M1286.1 1019.9l7.9 -6.9M1291.2 1021.9l7.8 -6.9M1296.2 1024.2l7.8 -6.3M1301.2 1026.3l7.8 -6.2M1324.1 1028.4l7.9 -6.6M1329.2 1031.7l7.8 -6.7M1334.2 1034l7.8 -7M1339.2 1036.1l7.8 -6.3M1344.2 1038.3l7.9 -6.4M1349.3 1040.5l7.8 -5.6M1354.3 1043.6l7.8 -6.2M1387.2 1050.7l7.9 -6.8M1392.3 1052.8l7.8 -6M1397.3 1054.9l7.8 -6M1402.3 1057l7.9 -6.2M1099.6 944.9l5 2.9l5 1.9l5 3.2l5.1 2.8l5 2l5 2.6l5 2.3l5.1 2.4l5 3.1M1162.7 967.3l5 2.7l5 2.5l5.1 2.1l5 2.2l5 2.5l5 3l5.1 3M1230.8 990.9l5.1 2.8l5 3.1l5 2.4l5 2.3l5.1 3.2l5 2.7l5 1.6M1283.9 1008.2l5 2.9l5.1 1.9l5 2l5 2.9l5 2.2l5.1 2.6l5 2.9l5 2.8M1357.1 1034.9l5 2.5l5 2.9l5.1 2.3l5 2.3l5 2.6l5 3.2l5.1 2.1l5 2.1l5 2.1"/><path stroke="#0000df" d="M1169.9 981.5l7.9 -6.9M1175 983.5l7.8 -6.7M1180 986.3l7.8 -7M1185 988.4l7.8 -6.1M1190 991.6l7.9 -6.3M1195.1 994.5l7.8 -6.5M1233.1 1003.1l7.8 -6.3M1238.1 1005.3l7.8 -6.1M1243.1 1007.3l7.8 -5.8M1248.1 1010.9l7.9 -6.2M1253.2 1013.2l7.8 -5.8M1258.2 1015.5l7.8 -6.5M1263.2 1017.9l7.9 -6.2M1268.2 1020.7l7.9 -6.2M1306.2 1029.4l7.9 -6.7M1311.3 1032.8l7.8 -7.2M1316.3 1035.1l7.8 -6.7M1321.3 1037.6l7.9 -5.9M1326.3 1040.6l7.9 -6.6M1331.4 1042.8l7.8 -6.7M1336.4 1044.9l7.8 -6.6M1341.4 1047.2l7.9 -6.7M1359.3 1046.1l7.8 -5.8M1364.3 1049.1l7.9 -6.5M1369.4 1051.9l7.8 -7M1374.4 1054.1l7.8 -6.6M1379.4 1056.4l7.8 -5.7M1384.4 1058.7l7.9 -5.9M1389.5 1061.8l7.8 -6.9M1394.5 1064.8l7.8 -7.8M1144.8 968.1l5 1.7l5.1 2.6l5 3l5 2.9l5 3.2l5.1 2l5 2.8M1197.9 985.3l5 2.7l5 2.6l5.1 2.3l5 1.9l5 2.2l5 3.1l5.1 3l5 2.2l5 2M1266 1009l5.1 2.7l5 2.8l5 3.4l5 2l5.1 2l5 2.3l5 2.1l5 3.1M1324.1 1028.4l5.1 3.3l5 2.3l5 2.1l5 2.2l5.1 2.2l5 3.1l5 2.5l5 3l5.1 2.8"/><path stroke="#0000cf" d="M1200.1 997.4l7.8 -6.8M1205.1 999.3l7.9 -6.4M1210.1 1001.7l7.9 -6.9M1215.2 1003.9l7.8 -6.9M1220.2 1006.8l7.8 -6.7M1225.2 1010.4l7.9 -7.3M1230.3 1012.5l7.8 -7.2M1235.3 1014.7l7.8 -7.4M1240.3 1017.2l7.8 -6.3M1245.3 1019.3l7.9 -6.1M1273.3 1023.9l7.8 -6M1278.3 1026l7.8 -6.1M1283.3 1028.4l7.9 -6.5M1288.4 1031.3l7.8 -7.1M1293.4 1033.1l7.8 -6.8M1298.4 1036.1l7.8 -6.7M1303.4 1039.2l7.9 -6.4M1346.5 1049.8l7.8 -6.2M1351.5 1052.2l7.8 -6.1M1356.5 1055l7.8 -5.9M1361.5 1058.5l7.9 -6.6M1366.6 1060.9l7.8 -6.8M1371.6 1062.7l7.8 -6.3M1376.6 1065.3l7.8 -6.6M1180 986.3l5 2.1l5 3.2l5.1 2.9l5 2.9l5 1.9l5 2.4l5.1 2.2l5 2.9M1243.1 1007.3l5 3.6l5.1 2.3l5 2.3l5 2.4l5 2.8l5.1 3.2l5 2.1l5 2.4M1306.2 1029.4l5.1 3.4l5 2.3l5 2.5l5 3l5.1 2.2l5 2.1l5 2.3l5.1 2.6l5 2.4M1369.4 1051.9l5 2.2l5 2.3l5 2.3l5.1 3.1l5 3"/><path stroke="#0000bf" d="M1250.4 1021.6l7.8 -6.1M1255.4 1024l7.8 -6.1M1260.4 1026.8l7.8 -6.1M1265.4 1030.3l7.9 -6.4M1270.5 1032.3l7.8 -6.3M1275.5 1034.5l7.8 -6.1M1285.5 1040.3l7.9 -7.2M1308.5 1041.6l7.8 -6.5M1313.5 1044l7.8 -6.4M1318.5 1046l7.8 -5.4M1323.5 1048.7l7.9 -5.9M1328.6 1051.2l7.8 -6.3M1333.6 1053.7l7.8 -6.5M1338.6 1056.6l7.9 -6.8M1343.6 1058.9l7.9 -6.7M1348.7 1061.6l7.8 -6.6M1381.6 1067.9l7.9 -6.1M1386.7 1071.1l7.8 -6.3M1220.2 1006.8l5 3.6l5.1 2.1l5 2.2l5 2.5l5 2.1l5.1 2.3l5 2.4l5 2.8M1283.3 1028.4l5.1 2.9l5 1.8l5 3l5 3.1l5.1 2.4l5 2.4l5 2l5 2.7M1351.5 1052.2l5 2.8l5 3.5l5.1 2.4l5 1.8l5 2.6l5 2.6l5.1 3.2"/><path stroke="#0000af" d="M1280.5 1038l7.9 -6.7M1290.6 1043.2l7.8 -7.1M1295.6 1046l7.8 -6.8M1300.6 1048.8l7.9 -7.2M1305.7 1050.8l7.8 -6.8M1310.7 1052.8l7.8 -6.8M1315.7 1055.1l7.8 -6.4M1320.7 1057.9l7.9 -6.7M1325.8 1060.4l7.8 -6.7M1353.7 1064.7l7.8 -6.2M1358.7 1066.9l7.9 -6M1363.8 1069.5l7.8 -6.8M1368.8 1071.4l7.8 -6.1M1373.8 1074.4l7.8 -6.5M1378.8 1077.4l7.9 -6.3M1260.4 1026.8l5 3.5l5.1 2l5 2.2l5 3.5l5 2.3l5.1 2.9M1323.5 1048.7l5.1 2.5l5 2.5l5 2.9l5 2.3l5.1 2.7l5 3.1l5 2.2"/><path stroke="#00009f" d="M1330.8 1062.8l7.8 -6.2M1335.8 1065.7l7.8 -6.8M1340.8 1068.6l7.9 -7M1345.9 1071l7.8 -6.3M1350.9 1073.1l7.8 -6.2M1355.9 1075.8l7.9 -6.3M1360.9 1078.4l7.9 -7M1366 1080.8l7.8 -6.4M1290.6 1043.2l5 2.8l5 2.8l5.1 2l5 2l5 2.3l5 2.8l5.1 2.5l5 2.4l5 2.9M1358.7 1066.9l5.1 2.6l5 1.9l5 3l5 3"/><path stroke="#00008f" d="M1371 1083.9l7.8 -6.5M1335.8 1065.7l5 2.9l5.1 2.4l5 2.1l5 2.7l5 2.6l5.1 2.4l5 3.1"/></g>
<path d="M1030.6 1031.1L1030.6 746.9" stroke="#000" stroke-width="1.5" fill="none"/>
<path d="M1030.6 1030.3L1330.7 1160.1M1330.7 1160.1L1722.9 1061.4M1130.6 1073.6L1120.9 1076M1230.7 1116.8L1221 1119.3M1030.6 1030.3L1020.9 1032.7M1330.7 1160.1L1321 1162.5M1409.1 1140.4L1420.4 1145.2M1487.6 1120.6L1498.9 1125.5M1566 1100.9L1577.3 1105.8M1644.5 1081.1L1655.7 1086M1722.9 1061.4L1734.2 1066.3M1030.6 959.4L1026.5 957.7M1030.6 888.6L1026.5 886.8M1030.6 817.8L1026.5 816M1030.6 1030.3L1026.5 1028.5M1030.6 746.9L1026.5 745.1" stroke="#000" stroke-width="1.7" fill="none" stroke-linecap="butt"/>
<text transform="translate(970.25 753.2) scale(1 1.03)" font-size="32">300</text>
<text transform="translate(970.25 822) scale(1 1.03)" font-size="32">250</text>
<text transform="translate(970.25 895.6) scale(1 1.03)" font-size="32">200</text>
<text transform="translate(970.25 965.6) scale(1 1.03)" font-size="32">150</text>
<text transform="translate(970.25 1032.8) scale(1 1.03)" font-size="32">100</text>
<text transform="translate(990.73 1060.8) scale(1 1.03)" font-size="32">60</text>
<text transform="translate(1080.53 1105.4) scale(1 1.03)" font-size="32">50</text>
<text transform="translate(1183.88 1148.3) scale(1 1.03)" font-size="32">40</text>
<text transform="translate(1288 1193.4) scale(1 1.03)" font-size="32">30</text>
<text transform="translate(1410.75 1173.1) scale(1 1.03)" font-size="32">0.8</text>
<text transform="translate(1504.66 1153.9) scale(1 1.03)" font-size="32">1</text>
<text transform="translate(1568.55 1135.2) scale(1 1.03)" font-size="32">1.2</text>
<text transform="translate(1646.9 1114) scale(1 1.03)" font-size="32">1.4</text>
<text transform="translate(1725.6 1094.1) scale(1 1.03)" font-size="32">1.6</text>
<text transform="translate(949.3 1037.77) rotate(-90) scale(1.1 1)" font-size="31.8">Cutting power (kW)</text>
<text transform="translate(967.33 1199) scale(1 1.03)" font-size="31.8">Rotation speed (r/min)</text>
<text transform="translate(1381.95 1206.5) scale(1 1.03)" font-size="31.8">Cross-swing speed (m/min)</text>
<text x="1297.33" y="1247.6" font-size="43.5">(d)</text>
</svg>
</body></html>
